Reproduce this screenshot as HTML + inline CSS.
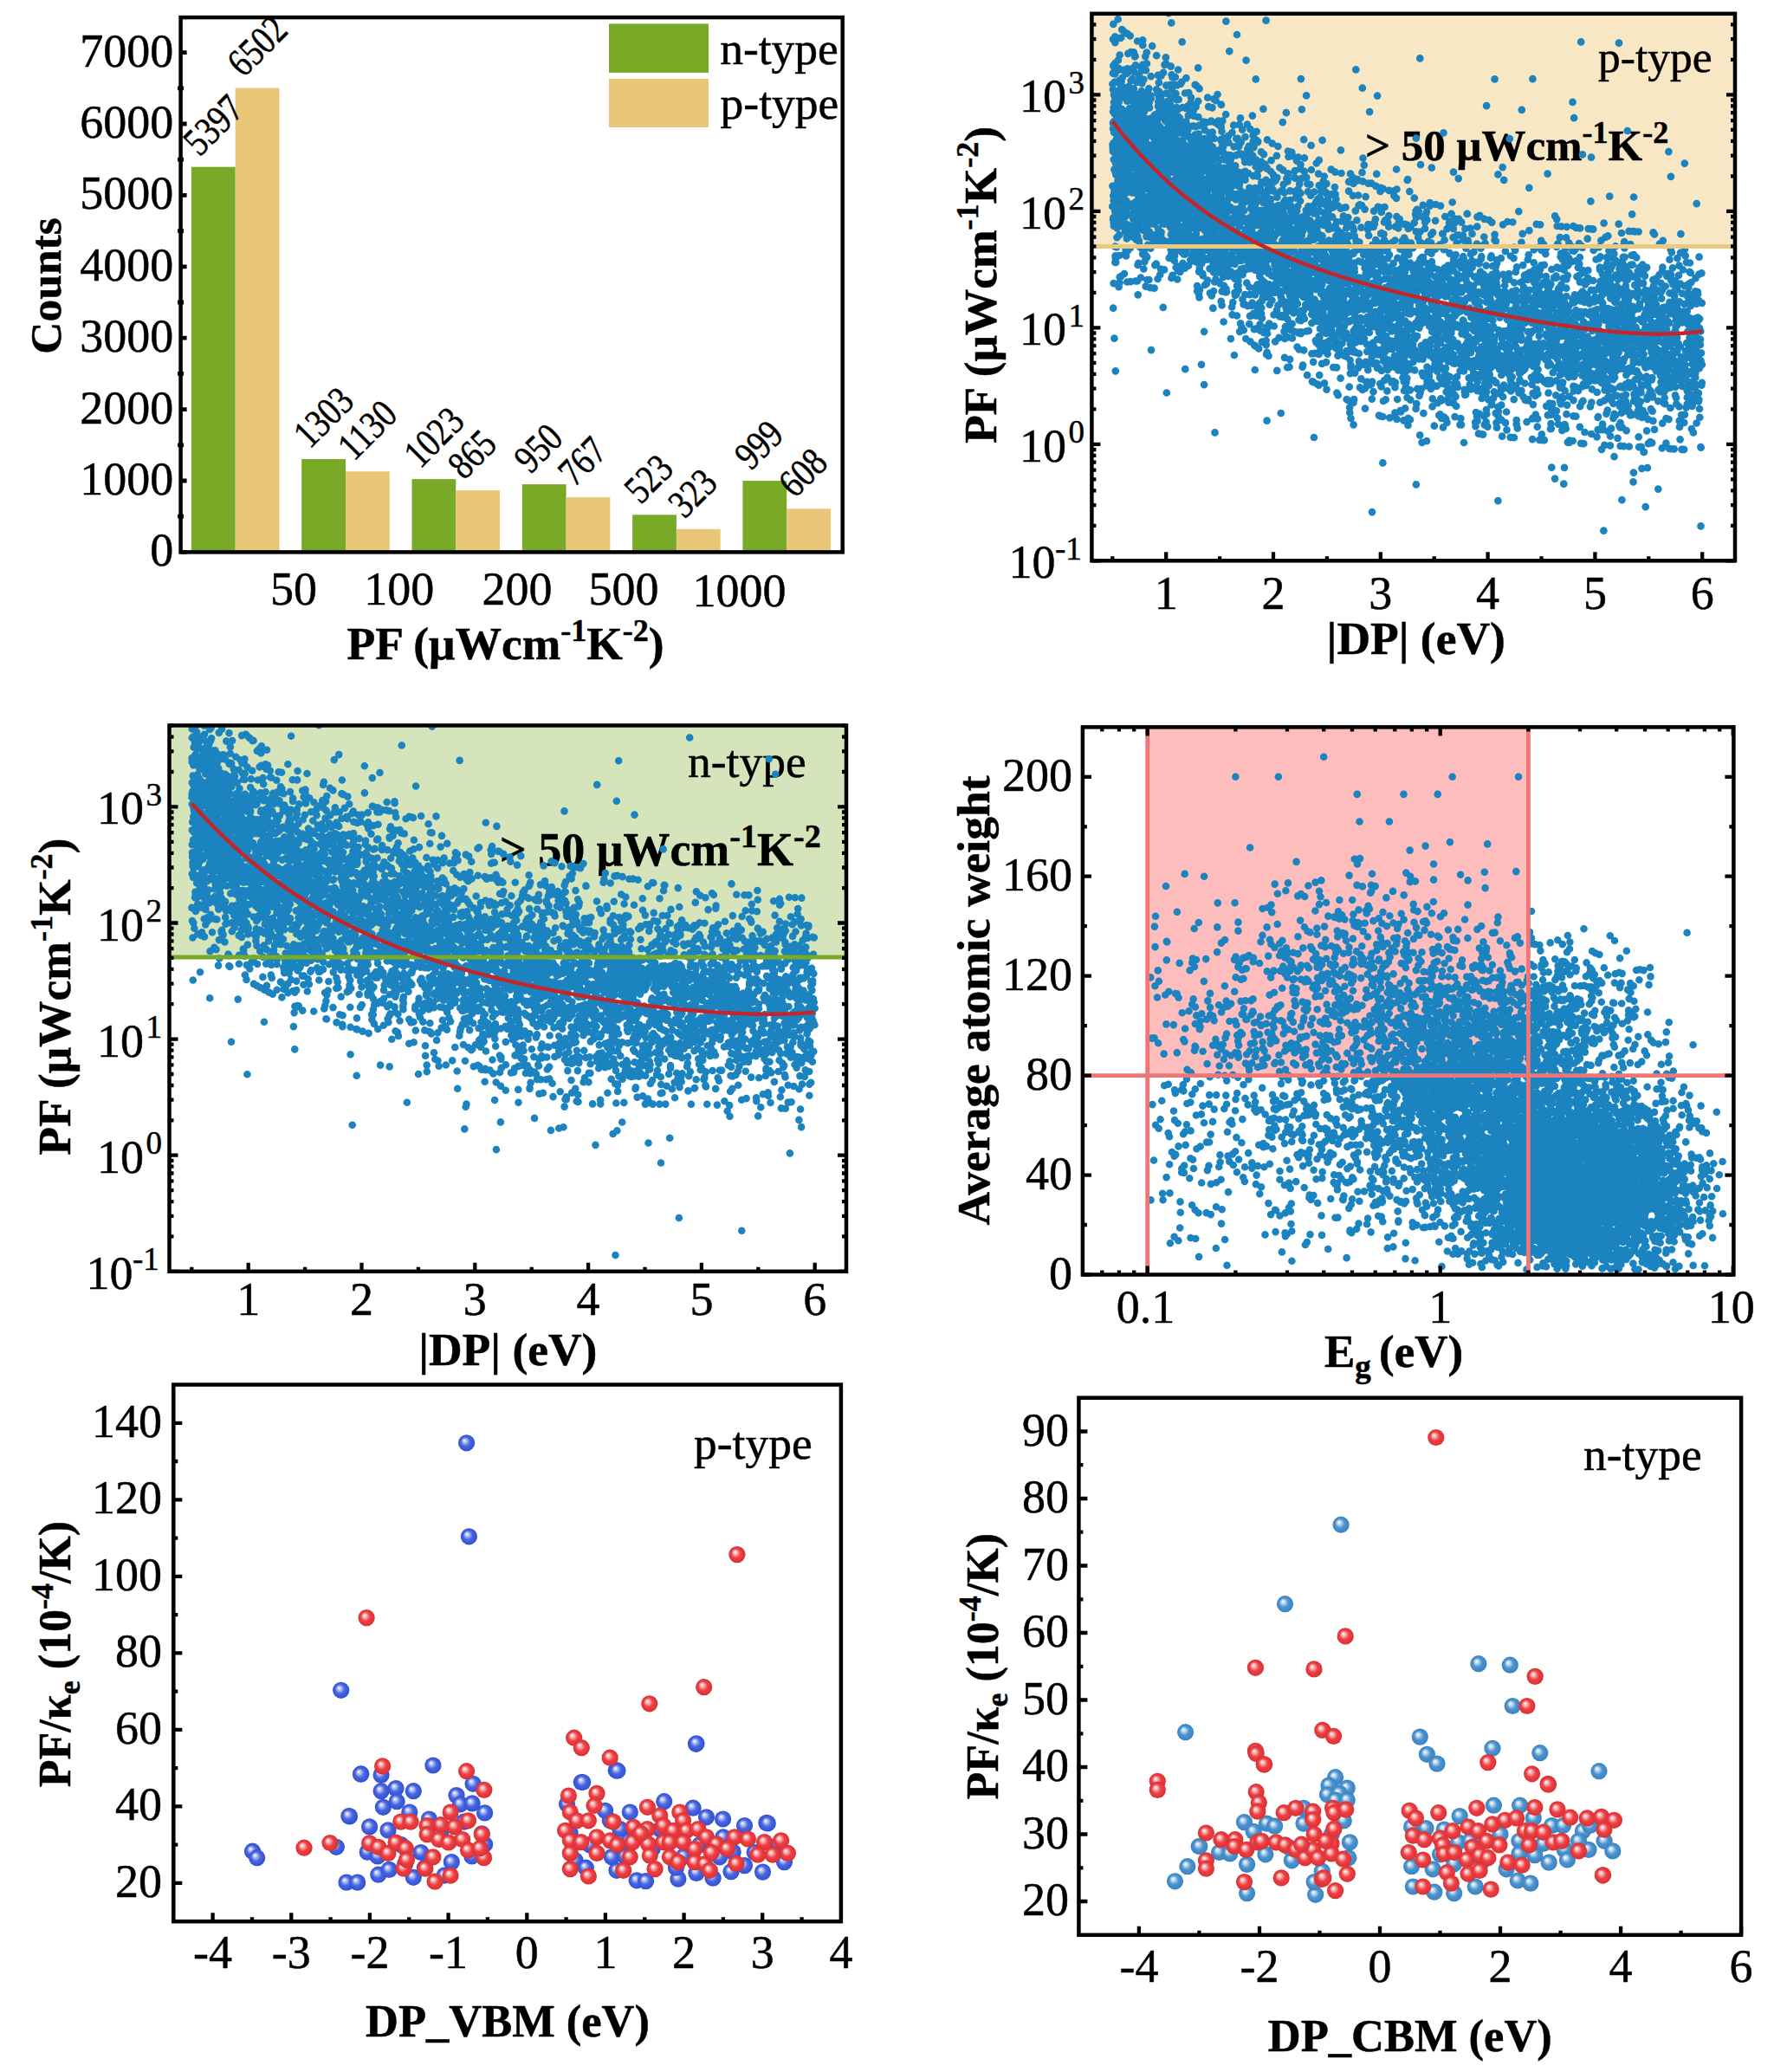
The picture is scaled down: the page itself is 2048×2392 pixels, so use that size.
<!DOCTYPE html>
<html><head><meta charset="utf-8"><style>
html,body{margin:0;padding:0;background:#fff;}
body{width:2048px;height:2392px;overflow:hidden;}
svg{display:block;}
text{font-family:'Liberation Serif',serif;fill:#000;stroke:#000;stroke-width:0.5px;}
</style></head><body>
<svg width="2048" height="2392" viewBox="0 0 2048 2392">
<defs>
<radialGradient id="gb5" cx="0.5" cy="0.5" r="0.5" fx="0.36" fy="0.34"><stop offset="0" stop-color="#ffffff"/><stop offset="0.22" stop-color="#b8c4f6"/><stop offset="0.55" stop-color="#4a66e2"/><stop offset="1" stop-color="#3050d0"/></radialGradient>
<radialGradient id="gb6" cx="0.5" cy="0.5" r="0.5" fx="0.36" fy="0.34"><stop offset="0" stop-color="#ffffff"/><stop offset="0.22" stop-color="#c0daf0"/><stop offset="0.55" stop-color="#4d94cf"/><stop offset="1" stop-color="#3a82c0"/></radialGradient>
<radialGradient id="gr" cx="0.5" cy="0.5" r="0.5" fx="0.36" fy="0.34"><stop offset="0" stop-color="#ffffff"/><stop offset="0.22" stop-color="#f8b8b8"/><stop offset="0.55" stop-color="#ef4044"/><stop offset="1" stop-color="#d83034"/></radialGradient>
</defs>
<rect width="2048" height="2392" fill="#fff"/>
<rect x="220.9" y="192.7" width="50.8" height="444.7" fill="#78aa28"/>
<rect x="271.7" y="101.6" width="50.8" height="535.8" fill="#e9c678"/>
<rect x="348.2" y="530" width="50.8" height="107.4" fill="#78aa28"/>
<rect x="399" y="544.3" width="50.8" height="93.1" fill="#e9c678"/>
<rect x="475.5" y="553.1" width="50.8" height="84.3" fill="#78aa28"/>
<rect x="526.3" y="566.1" width="50.8" height="71.3" fill="#e9c678"/>
<rect x="602.8" y="559.1" width="50.8" height="78.3" fill="#78aa28"/>
<rect x="653.6" y="574.2" width="50.8" height="63.2" fill="#e9c678"/>
<rect x="730.1" y="594.3" width="50.8" height="43.1" fill="#78aa28"/>
<rect x="780.9" y="610.8" width="50.8" height="26.6" fill="#e9c678"/>
<rect x="857.4" y="555.1" width="50.8" height="82.3" fill="#78aa28"/>
<rect x="908.2" y="587.3" width="50.8" height="50.1" fill="#e9c678"/>
<rect x="208.6" y="20.1" width="764.1" height="617.3" fill="none" stroke="#000" stroke-width="4.5"/>
<path d="M208.6 637.4L215.6 637.4M205.1 596.2L212.1 596.2M208.6 555L215.6 555M205.1 513.8L212.1 513.8M208.6 472.6L215.6 472.6M205.1 431.4L212.1 431.4M208.6 390.2L215.6 390.2M205.1 349L212.1 349M208.6 307.8L215.6 307.8M205.1 266.6L212.1 266.6M208.6 225.4L215.6 225.4M205.1 184.2L212.1 184.2M208.6 143L215.6 143M205.1 101.8L212.1 101.8M208.6 60.6L215.6 60.6" stroke="#000" stroke-width="4.8" fill="none"/>
<text x="200.3" y="653.4" text-anchor="end" style="font-size:54px;">0</text>
<text x="200.3" y="571" text-anchor="end" style="font-size:54px;">1000</text>
<text x="200.3" y="488.6" text-anchor="end" style="font-size:54px;">2000</text>
<text x="200.3" y="406.2" text-anchor="end" style="font-size:54px;">3000</text>
<text x="200.3" y="323.8" text-anchor="end" style="font-size:54px;">4000</text>
<text x="200.3" y="241.4" text-anchor="end" style="font-size:54px;">5000</text>
<text x="200.3" y="159" text-anchor="end" style="font-size:54px;">6000</text>
<text x="200.3" y="76.6" text-anchor="end" style="font-size:54px;">7000</text>
<text x="0" y="0" style="font-size:46px" transform="translate(230.3 181.7) rotate(-45) scale(0.82 1)">5397</text>
<text x="0" y="0" style="font-size:46px" transform="translate(281.1 90.6) rotate(-45) scale(0.82 1)">6502</text>
<text x="0" y="0" style="font-size:46px" transform="translate(357.6 519) rotate(-45) scale(0.82 1)">1303</text>
<text x="0" y="0" style="font-size:46px" transform="translate(408.4 533.3) rotate(-45) scale(0.82 1)">1130</text>
<text x="0" y="0" style="font-size:46px" transform="translate(484.9 542.1) rotate(-45) scale(0.82 1)">1023</text>
<text x="0" y="0" style="font-size:46px" transform="translate(535.7 555.1) rotate(-45) scale(0.82 1)">865</text>
<text x="0" y="0" style="font-size:46px" transform="translate(612.2 548.1) rotate(-45) scale(0.82 1)">950</text>
<text x="0" y="0" style="font-size:46px" transform="translate(663 563.2) rotate(-45) scale(0.82 1)">767</text>
<text x="0" y="0" style="font-size:46px" transform="translate(739.5 583.3) rotate(-45) scale(0.82 1)">523</text>
<text x="0" y="0" style="font-size:46px" transform="translate(790.3 599.8) rotate(-45) scale(0.82 1)">323</text>
<text x="0" y="0" style="font-size:46px" transform="translate(866.8 544.1) rotate(-45) scale(0.82 1)">999</text>
<text x="0" y="0" style="font-size:46px" transform="translate(917.6 576.3) rotate(-45) scale(0.82 1)">608</text>
<text x="339" y="697.5" text-anchor="middle" style="font-size:54px;">50</text>
<text x="460.7" y="697.5" text-anchor="middle" style="font-size:54px;">100</text>
<text x="597" y="697.5" text-anchor="middle" style="font-size:54px;">200</text>
<text x="720" y="697.5" text-anchor="middle" style="font-size:54px;">500</text>
<text x="853.5" y="700" text-anchor="middle" style="font-size:54px;">1000</text>
<text x="400.5" y="760.6" text-anchor="start" style="font-size:53.5px;font-weight:bold;">PF (μWcm<tspan dy="-21" style="font-size:36px">-1</tspan><tspan dy="21">K</tspan><tspan dy="-21" style="font-size:36px">-2</tspan><tspan dy="21">)</tspan></text>
<rect x="703" y="27.4" width="115" height="56.5" fill="#78aa28"/>
<rect x="703" y="91" width="115" height="56" fill="#e9c678"/>
<text x="831.2" y="73.6" text-anchor="start" style="font-size:53.5px;">n-type</text>
<text x="831.6" y="137.2" text-anchor="start" style="font-size:53.5px;">p-type</text>
<text x="69.8" y="330" text-anchor="middle" style="font-size:51.5px;font-weight:bold;" transform="rotate(-90 69.8 330)">Counts</text>
<rect x="1260.4" y="15.8" width="742.6" height="268.7" fill="#f7e7c5"/>
<text x="1845" y="83.4" text-anchor="start" style="font-size:51.5px;">p-type</text>
<text x="1576" y="185.4" text-anchor="start" style="font-size:51px;font-weight:bold;">&gt; 50 μWcm<tspan dy="-20" style="font-size:36px">-1</tspan><tspan dy="20">K</tspan><tspan dy="-20" style="font-size:36px">-2</tspan></text>
<clipPath id="clip2"><rect x="1260.4" y="15.8" width="742.6" height="631.5"/></clipPath><path clip-path="url(#clip2)" d="M1433.3 238.1h0M1455.5 287.2h0M1808.6 411h0M1335.1 211.8h0M1650.6 410.5h0M1743 339.3h0M1389.9 188.9h0M1300.7 267.5h0M1441.3 280.5h0M1691 419.2h0M1624.6 420.7h0M1368.1 270h0M1539 293.5h0M1699.5 366.6h0M1532.7 244.7h0M1673.8 328.4h0M1936.1 354.8h0M1709.5 449h0M1356.5 137.1h0M1389.6 177.2h0M1484.5 310.8h0M1590.2 404h0M1473.1 326.7h0M1778.5 408.9h0M1467.5 255.9h0M1898.6 363.4h0M1426.8 179.4h0M1717.3 382.5h0M1343.7 193.9h0M1342.2 228.3h0M1398.1 258h0M1865.2 300.6h0M1707.1 370.8h0M1371.9 133.4h0M1681.7 322.2h0M1522.4 253.9h0M1593.8 296.3h0M1646 303.5h0M1846.9 439.2h0M1542.6 370.8h0M1871.7 380.5h0M1660.1 342.3h0M1820.5 319.4h0M1376.8 145.5h0M1716.4 319.7h0M1480.3 366h0M1598 281.6h0M1406.5 220.5h0M1340.1 206.8h0M1305.5 60.2h0M1723.3 370h0M1554.3 390.3h0M1876.2 342.4h0M1825.2 343.4h0M1508.9 247.1h0M1941.6 445.6h0M1645 263.9h0M1771.1 311.6h0M1522.8 309h0M1394.7 268.1h0M1380.6 212h0M1386 164.1h0M1653.2 337h0M1346.8 206.3h0M1295.2 227.8h0M1823.4 409.8h0M1339.3 150.4h0M1336.9 147.1h0M1575.3 354.2h0M1664.7 322.7h0M1585.5 452.2h0M1909.8 397.6h0M1339.2 317.2h0M1395.5 208.9h0M1662.6 376.9h0M1587.2 349.8h0M1933.7 383.2h0M1412.6 371.5h0M1713.8 490.4h0M1619.7 326h0M1307.3 159.3h0M1454.1 311.2h0M1901.1 308.9h0M1785.4 440h0M1291.3 111.4h0M1454.4 290.1h0M1289.6 152.1h0M1819 287.3h0M1345.5 190.9h0M1315.9 145.4h0M1948.9 330.2h0M1547.5 240.7h0M1467.6 213.6h0M1343.1 277.6h0M1511.7 309.1h0M1497 185.6h0M1598.4 392.9h0M1288 188.6h0M1366.9 236h0M1402.8 293h0M1544.1 348.9h0M1457.8 253.6h0M1659.8 365.5h0M1447.6 306.1h0M1886.2 463h0M1319.5 230.7h0M1317 320.5h0M1402.3 219.5h0M1625.1 376.8h0M1774.7 398.2h0M1319.5 159.2h0M1388.1 188.7h0M1554.5 405.1h0M1699.1 302h0M1880.9 314.8h0M1850.8 361.9h0M1792.5 379.6h0M1313.3 128.2h0M1944.2 487.9h0M1660.7 325.3h0M1331.9 155.8h0M1429.3 206h0M1665 436.1h0M1509.2 289h0M1548 273.7h0M1801 331.3h0M1816.3 392h0M1614.1 381.3h0M1791.5 378.5h0M1522.1 200.6h0M1942.3 338.9h0M1340.8 133.3h0M1936.3 334.2h0M1308.4 249.6h0M1863.7 477.8h0M1622.6 336.7h0M1365.5 303.9h0M1392.7 191.5h0M1350.8 220h0M1449.9 256.7h0M1299.8 155.2h0M1286 109.6h0M1883.9 318.6h0M1700.7 398.1h0M1399.9 169.7h0M1431.1 382.8h0M1560.3 463.9h0M1811.8 398.7h0M1349.6 243.5h0M1936.4 298.2h0M1915.5 357.3h0M1318.1 189.1h0M1679.1 344.7h0M1493.3 287.2h0M1719.9 365.4h0M1332.3 243.4h0M1563.1 461.2h0M1642.6 414.6h0M1669 407.1h0M1716.6 421.1h0M1870.9 339.4h0M1421.2 313.7h0M1369.9 171h0M1512.3 338.9h0M1629.1 280.7h0M1930 409.2h0M1729.6 336.1h0M1290.2 79.2h0M1940.7 435.3h0M1437 351.5h0M1432 136.4h0M1532.6 408.6h0M1453.6 309.5h0M1304.9 141.5h0M1922.3 431.9h0M1370.1 216.2h0M1594.7 446.5h0M1705.5 451.2h0M1578.3 366.1h0M1889.7 428.4h0M1749.2 355.7h0M1863.3 371.7h0M1346.3 258.4h0M1394.5 197.3h0M1320.5 164.5h0M1820.5 263h0M1932 405.2h0M1291.9 139h0M1789.1 406.8h0M1742.4 322.4h0M1885 478.6h0M1438.6 256.1h0M1732.7 360.4h0M1419 242.5h0M1326.2 149.7h0M1755.4 404.5h0M1307.5 264h0M1721.5 389h0M1446.4 270.4h0M1574.6 349.1h0M1871.1 367.3h0M1422.5 206.5h0M1562.1 205h0M1385.4 202.1h0M1391.4 225.9h0M1565.5 277.5h0M1386.3 228.8h0M1796.6 397.7h0M1660.9 329.7h0M1446.2 179.5h0M1941.1 479.2h0M1484.1 262.5h0M1700.9 330.3h0M1746.4 337.6h0M1435.5 277.9h0M1290.7 22.2h0M1872 269h0M1926.4 398.3h0M1379.7 257.9h0M1370.1 264.6h0M1539 239.3h0M1648.8 406.7h0M1955.2 456.2h0M1932.6 441.5h0M1954.2 403.4h0M1423.8 214.2h0M1649.8 357.4h0M1541.1 359.1h0M1415.4 234.5h0M1320.3 124.6h0M1378.8 181.4h0M1492.3 330.7h0M1332.9 277.6h0M1368.5 235.3h0M1308.8 60.3h0M1666.5 335.6h0M1578 355.7h0M1422.6 275.9h0M1600.4 336.8h0M1533.8 264.7h0M1692.2 321.9h0M1905.8 455h0M1489.1 414.9h0M1682.2 418.9h0M1408 232.8h0M1912 363h0M1662.9 396h0M1464.7 243.3h0M1430.6 278.9h0M1373.3 127.2h0M1384.8 298.3h0M1460.5 222.2h0M1815.5 424.1h0M1554.8 354.5h0M1329.5 167.3h0M1530.4 251.9h0M1436.8 183.2h0M1746.8 425.1h0M1316.6 134.6h0M1449.9 234.4h0M1470.6 363.4h0M1386.2 228.3h0M1750.1 335.4h0M1385.5 191.8h0M1456.7 271.3h0M1315.3 126.5h0M1763.3 405.5h0M1294.5 94.7h0M1394.8 219.1h0M1407.1 194.1h0M1296.2 139.5h0M1470.1 318.9h0M1781.2 508.1h0M1827 391.1h0M1486.3 207.4h0M1834.6 345.3h0M1312 108.9h0M1597.5 411.5h0M1430.8 260.8h0M1543.2 256.1h0M1409.6 223.6h0M1872.8 400.7h0M1457.7 230.9h0M1916.7 417.9h0M1371.4 231.6h0M1537.2 381.7h0M1546 382h0M1728.8 340.1h0M1483.9 267.8h0M1577.9 397.4h0M1323.1 286.4h0M1463.1 194.9h0M1740.3 256h0M1343 150.7h0M1558.3 476.4h0M1418.5 282.7h0M1361.4 229.2h0M1351.7 287.9h0M1808.3 342h0M1712.1 382.3h0M1505.3 302.7h0M1513 355.6h0M1742.9 380.9h0M1653.3 383h0M1891.6 480.4h0M1894.5 453.2h0M1571.1 394.2h0M1692.2 455.5h0M1612.7 355.1h0M1462.7 406.9h0M1552.5 277.5h0M1737.5 336.7h0M1618.1 315.4h0M1673.2 405.9h0M1574.3 384.4h0M1923.4 511.7h0M1779.2 277.9h0M1357.1 170.1h0M1808.5 478.2h0M1892.9 350.5h0M1810.5 369.8h0M1482.8 295.1h0M1498.1 325h0M1422.4 271.5h0M1314.9 278.1h0M1564.5 379.9h0M1837.4 464.6h0M1773.3 483.2h0M1402.1 262h0M1834.8 440.3h0M1692.2 410.9h0M1410.6 302.6h0M1799.9 339.4h0M1497.9 296.6h0M1869.8 446.6h0M1472.6 208.3h0M1335.1 210h0M1743.9 372.6h0M1344 197.4h0M1853.5 426.7h0M1336.6 322h0M1782 282h0M1313.2 119.9h0M1612.1 400.8h0M1705 381.8h0M1356.4 149h0M1656.4 359.5h0M1364.1 173.7h0M1458.8 283.8h0M1496.5 279.1h0M1664.2 462.5h0M1356.7 133.7h0M1388.1 179.4h0M1782.9 440.8h0M1733.5 410.9h0M1552.9 362h0M1445.6 234.4h0M1716.1 323.5h0M1561.8 403.5h0M1463.4 245.2h0M1857.1 458.7h0M1398 210.6h0M1800.8 383.1h0M1663 392.5h0M1682.8 396.7h0M1708.8 387.7h0M1757.7 269.9h0M1862.3 432.7h0M1895.5 371.1h0M1429.7 229.1h0M1376 230.2h0M1875.1 447.5h0M1399.2 299.2h0M1409.8 302.2h0M1801.5 401.6h0M1934.9 369.3h0M1832.7 420.6h0M1593.9 216.9h0M1502.9 126.3h0M1954.9 499.4h0M1748.6 386.8h0M1670.9 341.7h0M1290.4 156h0M1394.2 112.7h0M1291.7 117.9h0M1884 441.9h0M1418.4 223.9h0M1286.3 127.6h0M1638.5 364.9h0M1398.8 341.4h0M1613.9 357.1h0M1920.6 442.5h0M1848.3 433.8h0M1423.5 243h0M1891.7 504.4h0M1517.9 366.3h0M1598.1 277.1h0M1471.6 306.2h0M1298.9 215.7h0M1460.7 395.4h0M1749.5 355.1h0M1664.4 338.9h0M1713.7 340.4h0M1341.9 162.3h0M1607.4 336h0M1962.5 391.6h0M1625.2 397.9h0M1395.1 271.7h0M1313.2 134.1h0M1474.7 333.8h0M1347.5 247.8h0M1297.9 293.8h0M1311 189.5h0M1690.7 376.6h0M1863.1 457.3h0M1542.9 399h0M1667.5 286.8h0M1430.7 314.5h0M1439.9 143.7h0M1566.4 254.4h0M1408.1 235.1h0M1552.7 384.8h0M1367.1 281.5h0M1898.4 395.7h0M1684.2 375.9h0M1336.4 107.9h0M1393 273h0M1820.4 378h0M1401.9 276.7h0M1432.4 246h0M1297 156.8h0M1703.8 363.4h0M1630.1 402.2h0M1829.3 405.6h0M1379.4 294h0M1760.8 372.7h0M1818.7 374.2h0M1816.4 480.3h0M1756.3 389.9h0M1545.3 314.1h0M1310.3 236h0M1681.6 417.6h0M1298.4 163.9h0M1331.7 156.9h0M1524 357.7h0M1351.4 262.9h0M1551.5 337.7h0M1837.9 414.5h0M1382 238.3h0M1796 408.1h0M1963 391.8h0M1304.7 175.1h0M1533 302h0M1727.4 314.6h0M1745.3 384.2h0M1444.3 239.6h0M1372.9 243.4h0M1500.2 212.6h0M1397.4 289.9h0M1594.7 340.4h0M1659.2 329.2h0M1827.2 342.2h0M1695.7 436.4h0M1330.2 238.3h0M1357.9 197.7h0M1483.4 279h0M1725.5 277.1h0M1368.9 257.2h0M1690.9 348.5h0M1790.9 478.6h0M1306.3 138.2h0M1292.7 171.6h0M1871.4 401.7h0M1874.3 283.6h0M1383.4 225.6h0M1897.1 480h0M1522.5 444.6h0M1595.5 373.3h0M1563.7 272.3h0M1477.8 311.2h0M1865 479.5h0M1657.9 352.8h0M1905.6 348.7h0M1665.9 442.9h0M1899.1 396.1h0M1592.9 341.3h0M1365.2 233.4h0M1630.8 307.7h0M1351.4 217.4h0M1772.4 457h0M1362.1 176.1h0M1915.5 317.3h0M1308.6 274h0M1727.9 300.2h0M1773.2 342.2h0M1610.6 350.9h0M1320.6 204.2h0M1806.4 490.2h0M1469.3 284.4h0M1449.1 379.7h0M1716.3 477.9h0M1939.9 400.4h0M1337.5 197.1h0M1541.4 367.3h0M1296.3 144.9h0M1442.5 274.5h0M1899.2 478.3h0M1652.5 441.3h0M1326 167.6h0M1370.8 170.2h0M1364.2 224.1h0M1554.1 411.3h0M1886.7 369.5h0M1346.6 279.2h0M1368.8 277.6h0M1357.8 228.6h0M1632 330.6h0M1537.5 361.3h0M1362.2 153.4h0M1365.2 205.3h0M1816.5 462.1h0M1569.3 336.1h0M1349.5 149h0M1300.8 203.1h0M1555.2 311.3h0M1498.5 218.7h0M1830.1 328.5h0M1716.1 452.3h0M1596.7 345.8h0M1374.5 257.8h0M1709.1 313.7h0M1874.8 389.7h0M1779.3 409.1h0M1935.8 375.9h0M1644.5 314.3h0M1464.8 299.1h0M1409.3 255.7h0M1796.9 474.3h0M1806.7 367.9h0M1674.9 397.3h0M1783.5 397.6h0M1573.6 382.1h0M1838.3 376.2h0M1717.9 384h0M1421.6 213.4h0M1641.9 407.5h0M1690.1 400.3h0M1398.6 249.9h0M1908.5 395.4h0M1801.7 403.3h0M1365.4 210.5h0M1408.6 327.5h0M1285.5 173h0M1911.6 351.8h0M1382.1 216.1h0M1356.8 89.1h0M1337.1 264.3h0M1315.7 253.5h0M1403.7 234h0M1431 278.9h0M1769.9 467.1h0M1498 321.2h0M1363.5 262.2h0M1917.6 428.2h0M1592.5 379.8h0M1321 128.8h0M1941 412.3h0M1703.9 476h0M1544.4 373.5h0M1365.6 306.3h0M1717 421.5h0M1338 136.1h0M1911.5 407.5h0M1760.2 363.6h0M1731.5 337.8h0M1335.8 176.9h0M1417.9 243.6h0M1562.5 212h0M1806.4 359.1h0M1345.4 199.9h0M1722.1 356.7h0M1759.9 317.9h0M1403.6 211.1h0M1346.1 167.7h0M1892.3 391.4h0M1871 417.8h0M1345.3 161.8h0M1643.2 328.1h0M1385.8 210.3h0M1399.7 152.7h0M1902.8 353.7h0M1694.8 394h0M1765.4 408.2h0M1445.6 349.7h0M1339.9 242.1h0M1699.6 375.6h0M1484.7 355.8h0M1580.4 333.1h0M1425.9 285.3h0M1646.7 435.4h0M1389.4 140.7h0M1429.6 334.8h0M1841.4 359.9h0M1691.3 456h0M1652.1 392.3h0M1346.4 164.3h0M1814.4 383.4h0M1664.2 360.5h0M1919.4 308.6h0M1906.7 373.3h0M1905.1 341.8h0M1605.8 307.8h0M1774 449.5h0M1340.6 167.5h0M1308.9 260.3h0M1786.8 479.3h0M1702.4 372.6h0M1918.2 362.1h0M1459.1 270.1h0M1579.5 259.1h0M1787.1 419h0M1656.8 388.7h0M1835.9 469.4h0M1514.9 440.3h0M1833.2 413.2h0M1846.2 330.9h0M1880.6 429.3h0M1517 264.3h0M1885.1 353.9h0M1461.9 289.4h0M1646.3 323.2h0M1947.1 396h0M1681.8 280.3h0M1645.3 332.7h0M1493.8 318.1h0M1591.9 281h0M1576.6 227.1h0M1705.5 325.3h0M1609.4 393.9h0M1467.6 185.2h0M1391.6 194h0M1953.8 342.8h0M1664 316.8h0M1381.4 99.2h0M1479.6 255.7h0M1685.8 405.5h0M1419.7 267.3h0M1874.2 313.7h0M1609.9 321.4h0M1372.6 222.4h0M1695.4 393h0M1374.8 160.9h0M1905.4 451.1h0M1833.7 363h0M1361.5 285.5h0M1629.6 320.9h0M1601.4 252.5h0M1462.2 193.3h0M1502.7 290.4h0M1431.9 204.9h0M1672.5 357.1h0M1536.5 361.7h0M1339.9 237.5h0M1412.9 208.8h0M1369 229.9h0M1671.2 365.6h0M1619.1 302.7h0M1513.6 352h0M1614.3 263.5h0M1670.7 372.5h0M1406.6 139.6h0M1314.9 225.1h0M1931.4 328.5h0M1388.5 168h0M1421.6 209.3h0M1724.9 452.3h0M1952.4 326h0M1353 274.6h0M1519.8 287.8h0M1841.8 345.3h0M1331.2 171.4h0M1426.6 201.3h0M1660.1 407.5h0M1820.4 376h0M1341.2 192.7h0M1528.6 352.8h0M1645.1 329.9h0M1614.3 341.6h0M1606.5 349.2h0M1958.9 393.8h0M1950.9 303.5h0M1363.6 219.4h0M1429.8 198.8h0M1518.3 323.8h0M1340.2 310.7h0M1366 273.2h0M1626.5 293.9h0M1953.4 431.8h0M1452.7 277.7h0M1396.1 261h0M1662 393.4h0M1454.9 327.9h0M1291.7 182.7h0M1336.1 279h0M1859.7 436.6h0M1344.6 177.8h0M1679.6 419.7h0M1530.1 254.2h0M1773.8 258.9h0M1588.9 297.4h0M1415.1 271.9h0M1403.5 251h0M1417.7 253.3h0M1338.1 112.3h0M1426.9 224.2h0M1456 246.4h0M1649.2 368.4h0M1601.3 367.2h0M1322.2 167.8h0M1531.4 308.9h0M1341.3 241.8h0M1911.8 351.4h0M1468.4 346.7h0M1371.2 122.7h0M1452 164.1h0M1348.2 221.1h0M1431.5 289.2h0M1899.1 379.8h0M1859.1 447.7h0M1351 120.9h0M1616.1 380h0M1722.3 256.8h0M1359.1 215.2h0M1717.2 400.9h0M1302.4 162.1h0M1644.3 344.6h0M1358.3 173.4h0M1712.3 375.7h0M1699.3 392.1h0M1375.2 194.1h0M1394 229.5h0M1676.2 375.2h0M1509.4 212.1h0M1805.9 348.3h0M1442.7 340.1h0M1697.3 341.5h0M1660.9 378.5h0M1345.6 167.8h0M1443.4 275h0M1489.2 220.4h0M1457.6 293.3h0M1334.6 191.4h0M1417.8 193.9h0M1607.6 377.2h0M1412.3 319.8h0M1403.6 322.4h0M1527.8 296.8h0M1554.3 384.7h0M1401 336h0M1327.5 199.6h0M1327 267.7h0M1915.9 382.7h0M1643.2 434.1h0M1915.8 365.5h0M1615.7 311.4h0M1488 296.2h0M1353.6 89.4h0M1902.9 512.1h0M1596.7 385.8h0M1514.7 302h0M1371.5 253.1h0M1369.1 287.7h0M1528.4 343.8h0M1551.5 292.6h0M1800.7 426.5h0M1351.9 270.5h0M1552.9 274.1h0M1358.4 115.2h0M1428.8 243.2h0M1578.3 405.8h0M1859 370h0M1358 233.5h0M1382 163.6h0M1726.4 352.7h0M1600.9 422.7h0M1332.8 187.9h0M1708 477.9h0M1928.1 439.2h0M1750.2 445.2h0M1962 472h0M1753.6 359.3h0M1474.1 306.7h0M1797.7 261h0M1628.4 399.9h0M1334.8 171h0M1494.7 197.3h0M1917.5 441.1h0M1689.2 425.1h0M1499.4 280.9h0M1728.1 303.8h0M1709.5 373.9h0M1372.8 233.2h0M1557.1 301.6h0M1295.1 201.2h0M1348.9 147h0M1614.7 409.5h0M1350.3 137.8h0M1419.6 261.1h0M1322.5 297.6h0M1491.8 390.5h0M1317.7 187.7h0M1741.1 367h0M1675.5 448.6h0M1368.3 224.8h0M1551.6 315.9h0M1860.1 436.4h0M1673.4 402.9h0M1322.1 160h0M1584.2 308.2h0M1561.1 336.6h0M1574.4 322.5h0M1527.5 286.7h0M1808.1 274.3h0M1604.3 395.4h0M1843.8 345.8h0M1923.8 407.5h0M1874.1 425.6h0M1774.1 437.8h0M1296 167.2h0M1285.3 27.8h0M1380.5 193h0M1594.2 356.9h0M1456 186.5h0M1357.9 142.8h0M1384.7 236.9h0M1314.3 303.9h0M1396.3 280.6h0M1590.5 318.5h0M1948.7 342.9h0M1738.8 350.9h0M1898.9 318.6h0M1348.8 229.5h0M1314.5 164.2h0M1479.3 348.1h0M1374.2 263.2h0M1554.6 302.6h0M1558.4 325.7h0M1790.4 328.1h0M1453.8 365.1h0M1557.6 313.4h0M1539.3 424.1h0M1666.3 381.7h0M1622.1 405.4h0M1310.3 248.8h0M1840.3 348.5h0M1680.4 350.9h0M1369.3 125.2h0M1580.1 271.9h0M1878.4 377.1h0M1863.8 303.7h0M1520.6 322.3h0M1289.6 263.3h0M1922.4 354.6h0M1747.9 417.1h0M1695.2 280.5h0M1523.9 379.4h0M1849.4 412.2h0M1392.8 283.6h0M1819.5 417.3h0M1797.6 350.7h0M1597.6 415.4h0M1495.7 270.1h0M1711.8 283.7h0M1510.9 278.2h0M1526.9 405h0M1438.1 274.4h0M1784.4 415.1h0M1370.3 217h0M1579.6 335.8h0M1310.2 65.5h0M1952.6 399h0M1345.5 162h0M1626.8 376.6h0M1409.7 347.8h0M1921.1 452.4h0M1354.2 276.8h0M1891.9 399.6h0M1682.6 345.4h0M1391.6 244.2h0M1527.4 359.5h0M1441.8 280.7h0M1568 357.6h0M1816.8 451.4h0M1570.3 387.1h0M1951.8 315h0M1887.9 393.7h0M1406.5 144h0M1407 197.8h0M1710.1 420.6h0M1493.2 318.2h0M1435.6 310.7h0M1899.7 585.2h0M1635.6 338h0M1437.5 207.6h0M1625.3 405.4h0M1616.5 285.1h0M1796.8 320.7h0M1526 311.6h0M1585.6 262h0M1369.3 140.3h0M1836.1 420.7h0M1303.1 111.1h0M1285.5 165.2h0M1301.5 79.3h0M1941.1 427.5h0M1844.4 436.7h0M1797 284.9h0M1405.9 298.1h0M1956.8 374.6h0M1501.5 223h0M1843.3 378.9h0M1780.6 349h0M1299.6 215.3h0M1933.9 381.9h0M1927.2 518h0M1546.1 402.1h0M1564.8 350.2h0M1880.7 388.3h0M1551.1 272.1h0M1852.4 513.9h0M1325.3 155.1h0M1427.9 248.7h0M1510.4 238.4h0M1461.8 339.2h0M1552.2 315.6h0M1409.6 287.6h0M1376.1 259.7h0M1506.1 338.7h0M1384 236.9h0M1482.9 348.4h0M1516.2 417.8h0M1913.9 412.9h0M1529 442.3h0M1644.2 313.3h0M1898.4 311.2h0M1546.5 380.4h0M1441.7 168.8h0M1628 347h0M1398.3 139.7h0M1446.8 162.9h0M1749.5 358.9h0M1570.5 393.9h0M1601.6 435.8h0M1681.6 328h0M1561.7 359.6h0M1389 255.8h0M1415.4 261.3h0M1310.9 194.3h0M1862.9 335.4h0M1687 357.9h0M1911.2 373h0M1467.1 198h0M1622.4 360.3h0M1630.2 339.8h0M1362.1 191.2h0M1620.1 318.7h0M1404.3 229.7h0M1538.4 324.2h0M1486.5 325.1h0M1418.3 294.6h0M1326.8 150.7h0M1649.6 324.9h0M1394.9 277.5h0M1362.8 174.9h0M1320.7 192.7h0M1870 465.1h0M1493.9 318.5h0M1357 197.9h0M1399.7 217.9h0M1952.9 495.1h0M1456.9 367.3h0M1825.5 365h0M1757.1 325.3h0M1293.5 228.4h0M1304.7 41.3h0M1543.8 300.5h0M1301.1 160h0M1893.6 404.7h0M1938.6 436.4h0M1659.4 284.5h0M1460 326.1h0M1404.5 296.1h0M1360 210.2h0M1301.6 181.4h0M1372.3 107.1h0M1408.5 197.9h0M1736.2 351.5h0M1852.6 450.5h0M1673.8 414.1h0M1926.1 414.6h0M1810.9 359.3h0M1539 289.7h0M1491.8 330.6h0M1395.6 199.6h0M1799 409h0M1586.5 360.8h0M1310.7 184.7h0M1578.5 373.8h0M1857.4 376.7h0M1738.5 402.1h0M1629.7 358h0M1750 400.2h0M1295.6 165.4h0M1312 179.4h0M1804.5 381.6h0M1342.4 171.3h0M1609.9 410.9h0M1573.8 353.3h0M1768 416.5h0M1407.8 275.4h0M1720.3 335.7h0M1788.9 345h0M1483.6 325.1h0M1636.6 307.2h0M1526.9 315.5h0M1763.2 416.5h0M1863.6 397.7h0M1589 419.2h0M1290.8 142.1h0M1895.4 540.8h0M1641.4 320.6h0M1385.6 201.5h0M1339 232.3h0M1552.1 365.5h0M1382.2 254.9h0M1481.7 212.9h0M1656.9 287.7h0M1477.3 316.1h0M1362.6 252.2h0M1315.1 261.2h0M1323.4 144.1h0M1743.6 390.7h0M1483.9 312h0M1525.2 339.1h0M1799.8 419.5h0M1678 334.3h0M1950.2 344.7h0M1824.1 263.3h0M1911.6 383.6h0M1357.7 308.8h0M1776.9 396.1h0M1964.8 421h0M1290.5 186.6h0M1562.8 342.1h0M1754.4 425.6h0M1367.8 216.6h0M1323.2 170.9h0M1585.4 299.2h0M1320.2 162h0M1372.5 270.3h0M1317.6 196.1h0M1744.7 441.9h0M1359.2 143.6h0M1894.8 515.9h0M1621.8 290.4h0M1519.3 334.2h0M1366.6 151.5h0M1513.6 167.9h0M1429.2 276h0M1849 348.3h0M1589.2 200.9h0M1294.8 239.8h0M1909.2 330.5h0M1953.6 373.5h0M1958.5 391.7h0M1439.7 264.9h0M1440.2 264.3h0M1733.3 450.3h0M1345.4 165.4h0M1360.9 262.7h0M1469.6 220.4h0M1846 285.3h0M1368.3 175.6h0M1292.9 150.3h0M1377.3 254.3h0M1898.8 436.2h0M1553.4 369h0M1388.4 251.5h0M1464.5 410.9h0M1910.9 385h0M1391 280.9h0M1808.4 322.4h0M1869.1 360h0M1455 359.6h0M1639.1 375.8h0M1596.3 356.7h0M1907 341.9h0M1388.9 223.6h0M1502.7 282h0M1696.7 416.9h0M1363.8 182.6h0M1432.6 284.8h0M1773.3 340h0M1682.3 376.6h0M1626.1 420.3h0M1852.1 407.6h0M1422.1 303.5h0M1892 469.8h0M1471.7 247.2h0M1892.6 308.8h0M1742 384.9h0M1738.6 348.7h0M1657.1 364.9h0M1779.4 364.3h0M1463.8 332.4h0M1747.1 365.9h0M1349.4 175h0M1688.4 348.2h0M1940.9 366.6h0M1932.7 518.3h0M1423.3 349h0M1428.9 206.8h0M1648 364.9h0M1542.4 229.7h0M1291.2 175.4h0M1550.9 249.3h0M1551.9 324.6h0M1921.8 446.6h0M1767 384.9h0M1374.3 300h0M1782.7 397.9h0M1649.9 434.3h0M1957.7 444h0M1448.2 398.6h0M1752.6 405.6h0M1594.9 304.1h0M1411.3 243.1h0M1350.7 189.4h0M1875.9 402.3h0M1293.5 155.3h0M1428.1 269.3h0M1565.2 339.3h0M1450.8 248.5h0M1618.5 414.3h0M1384.1 313.6h0M1780.5 508h0M1639.1 314.2h0M1682.5 377.3h0M1942.9 311.3h0M1379 224.7h0M1561.1 342h0M1372.1 262.4h0M1456 268.2h0M1584.6 337.2h0M1766 314.5h0M1387.2 233.4h0M1806.5 424.4h0M1742.6 432.6h0M1566.7 375.2h0M1856.4 356.2h0M1534.2 284h0M1949.3 331.9h0M1933.8 325.3h0M1529.6 300h0M1343 83.9h0M1774.8 492.7h0M1423.3 251.7h0M1660.4 373.5h0M1798.2 364.4h0M1929.2 317.3h0M1882.8 392h0M1926.5 484.1h0M1293 204.3h0M1304.3 148.2h0M1360.7 114.9h0M1506.4 257.6h0M1337.7 200.5h0M1612.4 325.6h0M1350.6 167.8h0M1459.1 299.2h0M1459.4 210.8h0M1887.1 357.5h0M1397.3 191.5h0M1347.5 159h0M1763.7 341.7h0M1909.7 376.9h0M1731.5 366.7h0M1286.9 174.4h0M1832.7 275.6h0M1404.7 174.1h0M1813.4 432.2h0M1462.9 308.8h0M1710.1 390.4h0M1326.7 186.7h0M1498.7 225.4h0M1354.8 223.4h0M1781.7 396.4h0M1321.9 177.1h0M1546.1 375.7h0M1754.8 380.4h0M1817.3 396.3h0M1534.6 311.4h0M1330.6 146.9h0M1860.5 289.1h0M1454.5 374.5h0M1577.8 321.4h0M1285.6 254.2h0M1457.5 243h0M1913.2 355.7h0M1743.8 427.4h0M1734.1 503.7h0M1627.4 349h0M1361 309.8h0M1381.2 241.5h0M1923 386.1h0M1345.9 66.4h0M1696.5 309h0M1501.5 190.2h0M1745.1 338.9h0M1365.3 124h0M1342.8 354.8h0M1612.9 342.5h0M1431 279.8h0M1787.9 343.8h0M1964 407.6h0M1361.2 199.5h0M1426.2 191.3h0M1382.1 162.5h0M1512.2 287.7h0M1417.1 200.9h0M1657.4 236h0M1503.6 423.7h0M1596.8 282.1h0M1845.9 381.2h0M1846.5 391.8h0M1383.8 192.5h0M1433.6 300.7h0M1629.8 359.8h0M1565.2 406.9h0M1333.7 199.4h0M1749.3 342.5h0M1790.6 339.6h0M1539.1 327h0M1352.8 193.3h0M1721 382h0M1320.1 150.8h0M1319.3 52.2h0M1632.6 387.3h0M1541.6 224.1h0M1952.7 414h0M1427.3 160h0M1386.2 218.8h0M1470.3 291.6h0M1856.1 393.3h0M1719.2 254.2h0M1286.4 221h0M1356.1 159.2h0M1921.2 439h0M1628.9 406.8h0M1528.7 396.2h0M1326.4 171.5h0M1411.6 250.6h0M1294.4 258.3h0M1836.1 409.9h0M1905.3 399.8h0M1606.4 441.3h0M1791.6 356.7h0M1361 151.3h0M1443.4 290.7h0M1662.4 282.3h0M1708.6 378.4h0M1653.1 290h0M1389.7 228.1h0M1905.9 472.1h0M1426.5 208.6h0M1710.6 380h0M1846.9 308.5h0M1358.2 174.5h0M1555.8 272h0M1662.9 423.1h0M1956.1 402.8h0M1727.2 421.8h0M1537.6 263.5h0M1719 440.5h0M1592.7 340.6h0M1297.8 101.1h0M1285.7 231.5h0M1447 203.1h0M1703.9 302.8h0M1542.8 402.4h0M1432.7 164.1h0M1315.5 284.7h0M1757.9 336.1h0M1396.9 274.9h0M1733 356.6h0M1913.5 382.2h0M1815.3 403.2h0M1645.1 340.6h0M1314 174h0M1725.6 270.8h0M1948.5 382.7h0M1459.5 286h0M1827.8 443.5h0M1608.7 356.1h0M1783.6 357.9h0M1742.8 407.5h0M1457.6 192.9h0M1570.7 367.1h0M1337.2 184.1h0M1350.7 250.6h0M1448.3 254.5h0M1732.7 342.6h0M1514.2 266h0M1848.4 277.6h0M1694.1 309.8h0M1893 353.3h0M1790 495.1h0M1543.3 299.1h0M1342.8 223.2h0M1576.1 320.6h0M1592.6 371.8h0M1345.9 73.4h0M1367.9 167.5h0M1949.2 442.8h0M1819.3 407.9h0M1493.2 286h0M1299.7 244.3h0M1436.7 227.6h0M1318.8 140.3h0M1936.1 389.8h0M1297.2 241.1h0M1735.4 316.8h0M1928.3 362h0M1933.4 363.8h0M1647.4 408.9h0M1411.3 139.7h0M1708.1 412.1h0M1294.4 318.8h0M1440.9 262.5h0M1913.1 394h0M1339.8 115.1h0M1374 191.1h0M1663.3 460.3h0M1874 417.8h0M1498.4 329.6h0M1406.1 277.6h0M1946.1 405.3h0M1826.9 336.7h0M1291.6 331.2h0M1704.8 350.8h0M1344.5 74.8h0M1925.4 373h0M1736.2 207.9h0M1882.4 381.1h0M1577.4 305.5h0M1317.1 217.1h0M1401.7 160h0M1330.5 178.2h0M1762.8 341.7h0M1859.5 448.1h0M1552.3 239.6h0M1826.8 285.8h0M1406.5 246.3h0M1542.4 263.5h0M1531.4 212.2h0M1576.4 320.6h0M1300.5 265.9h0M1379.7 239.5h0M1343.2 124.7h0M1684.4 320.5h0M1568.5 301.7h0M1315.8 193h0M1675.7 376.1h0M1399.4 239.6h0M1342.9 165.8h0M1302.2 289.1h0M1350.4 183.3h0M1358.6 307.3h0M1594.2 239.8h0M1927.5 299.7h0M1881.2 425.4h0M1347.5 223.2h0M1578.6 288.3h0M1855.6 446.3h0M1654.7 308.9h0M1295.5 184.6h0M1487 174.5h0M1445.1 264.4h0M1479.9 263.5h0M1944.8 330.1h0M1811.1 353.3h0M1962.6 398.2h0M1793.1 398h0M1332.9 240.2h0M1528.7 203.5h0M1909.3 357.5h0M1613.5 383.5h0M1806.7 399.5h0M1397.8 239.1h0M1858.9 514.3h0M1516.3 241.1h0M1913.5 426.5h0M1460.4 283.3h0M1515.4 326.4h0M1589.6 292.2h0M1864.7 349h0M1745.7 435h0M1433 300.8h0M1582.1 286.6h0M1837.2 364.6h0M1867.7 365.2h0M1754.4 440.1h0M1473.8 295.7h0M1395.5 247.9h0M1352.4 134.9h0M1743.8 438.5h0M1800.8 409.3h0M1712.6 435.6h0M1313.5 236.3h0M1404.5 262.7h0M1782.8 508.2h0M1687.6 377.4h0M1833.5 441.1h0M1724.8 400.6h0M1712.1 501.6h0M1862.1 380.2h0M1902.4 445.4h0M1448.5 222.2h0M1823.8 492.8h0M1933.9 324.2h0M1350.7 257.9h0M1544.9 237.7h0M1612 366.7h0M1624.6 386.6h0M1851.3 388.6h0M1288.5 202h0M1320.9 172.8h0M1783.7 371.8h0M1441.5 303.4h0M1557.7 446.6h0M1365.4 213.3h0M1928.7 518.1h0M1578.4 350.3h0M1322.4 235h0M1883.3 408.9h0M1643.3 363.9h0M1428.7 301.1h0M1335.2 64.2h0M1300.8 132.8h0M1850.8 421.5h0M1351.8 166.5h0M1408.7 304.8h0M1619.5 436h0M1459.2 225.3h0M1738 430h0M1682.8 447h0M1685.2 420h0M1491.4 334.4h0M1446.8 277.1h0M1775.2 415.5h0M1947.8 466.5h0M1647.5 343.2h0M1889.3 458.9h0M1372.6 270.3h0M1768.5 444h0M1417.3 218.8h0M1443.3 273.7h0M1301.2 325.5h0M1910.4 347.2h0M1368.7 251.7h0M1413.5 181.1h0M1298.4 250.9h0M1537.4 362.4h0M1808.2 361.5h0M1337 122.7h0M1324.5 157.2h0M1409 172.3h0M1861.3 341h0M1818.8 427h0M1305.9 81h0M1588.3 277.2h0M1287.5 215.6h0M1655.7 445.7h0M1444.3 260.7h0M1357.9 206.5h0M1456.5 289.7h0M1740.5 381.6h0M1642.6 431.1h0M1750.3 381.3h0M1667.4 354.9h0M1642.1 403.1h0M1617.8 401h0M1777.2 309h0M1709.7 402.7h0M1699.1 300.9h0M1482.8 222.5h0M1405.8 290.6h0M1780 350.2h0M1674.7 325.9h0M1767.6 404.4h0M1467 236.6h0M1293.8 186.1h0M1782.8 305.8h0M1379.7 97.9h0M1760.4 349.4h0M1313.7 183.6h0M1337.4 221h0M1349.3 235.6h0M1364.1 187.8h0M1806.9 418.7h0M1297.7 199.9h0M1460 337.9h0M1615.4 408h0M1606.5 365.4h0M1706.3 403.8h0M1607.7 402.1h0M1360.1 80.5h0M1327.7 182.4h0M1779.9 437.8h0M1447.8 222.7h0M1367.9 191.3h0M1449.1 277.7h0M1353.7 239.5h0M1770.1 423h0M1404.3 225.7h0M1639.4 267.6h0M1526.5 214.4h0M1635.3 466.2h0M1902.1 441.8h0M1574.8 190.6h0M1359.9 136.5h0M1713.9 443h0M1345 198.1h0M1434.1 290.9h0M1813.7 402.1h0M1416.3 305.6h0M1452.9 274.4h0M1541.3 286.4h0M1778 311.1h0M1776.5 434.4h0M1512.9 265.8h0M1288.7 248.7h0M1336 209.2h0M1347.6 181.4h0M1961.8 398.1h0M1544.2 290.6h0M1581.7 441.8h0M1721.2 387h0M1577.4 441.1h0M1375 112.6h0M1730.1 348.2h0M1385.1 334.5h0M1421.4 278.4h0M1297.2 165.5h0M1676.6 452.7h0M1801.6 296.3h0M1477.1 316.9h0M1313.6 203.7h0M1486.1 289.9h0M1297.3 203.9h0M1404.4 177h0M1694.6 396.9h0M1666 493.4h0M1655 407.5h0M1532.3 378.4h0M1648.5 311.5h0M1355.7 175.2h0M1506 286.4h0M1330.3 230.6h0M1853.5 273.9h0M1501.5 320.9h0M1830.3 436.6h0M1866.8 394.9h0M1518.9 329.1h0M1690 428.3h0M1597 338.5h0M1801 445.6h0M1953.7 347.3h0M1285.8 165.1h0M1850.7 496.1h0M1417.2 317.4h0M1402.7 229.5h0M1725.3 362.3h0M1419.8 201.7h0M1580.3 297.1h0M1358 194.2h0M1318.3 223.6h0M1570.8 379.9h0M1372.5 223.6h0M1885.9 319.4h0M1299.5 185.2h0M1348.4 173.8h0M1906.3 392.2h0M1428 364.5h0M1663 436.9h0M1304.1 114.2h0M1717 388.3h0M1592.7 378.4h0M1811.6 457.6h0M1720 359.7h0M1695.6 389.2h0M1569.5 320.7h0M1630.6 331.1h0M1774.8 427.4h0M1497.2 318.7h0M1698.5 292.3h0M1357.1 243.7h0M1848.9 384.3h0M1299.1 211.9h0M1388.1 250.4h0M1412.2 166.2h0M1476.8 286.9h0M1325.1 282.9h0M1573.7 385.5h0M1597.3 282.4h0M1618.1 317.2h0M1521 285h0M1395.1 262.9h0M1751.8 494.4h0M1543.4 453.7h0M1312.3 94.8h0M1759.3 373.2h0M1347.3 118h0M1658.7 389.9h0M1610.6 423.9h0M1891.8 356.3h0M1884.2 356.9h0M1489.4 231h0M1634.3 373.1h0M1354.6 162h0M1603 338.6h0M1455.9 298h0M1527.4 362.4h0M1504.4 364.5h0M1887.1 382.8h0M1631.2 397.6h0M1830 324.4h0M1542.7 324.6h0M1481.4 245.1h0M1388.6 168.8h0M1468 237.1h0M1310.8 324.5h0M1409.8 146.8h0M1750.1 416.3h0M1540.4 391.7h0M1781.3 352.5h0M1711.8 421.9h0M1879.2 364.8h0M1371.9 188.4h0M1863.7 301.1h0M1391 329h0M1538.9 329.8h0M1909.1 424.2h0M1475.2 248.5h0M1634.6 243.6h0M1351.8 144.4h0M1346.1 139.2h0M1590.1 425h0M1317.8 201.6h0M1310.8 207.3h0M1545.3 338.6h0M1473.3 285.3h0M1815.5 289.5h0M1285.1 129h0M1480.8 269.3h0M1430.2 166.4h0M1869.7 425.9h0M1789 419.7h0M1628.2 399h0M1356.7 168.1h0M1611.2 316.1h0M1317.4 134.3h0M1352.2 112.4h0M1504.5 291.8h0M1319.5 74.7h0M1319.2 120h0M1611 261.7h0M1796 424.6h0M1418.3 202.3h0M1826.2 398.3h0M1364.4 291.2h0M1534 346.9h0M1308.6 144.3h0M1777.3 507.8h0M1374.6 167.3h0M1624.5 459h0M1327.4 137.5h0M1384.8 284.9h0M1432 278h0M1718.5 411.4h0M1845.4 374.1h0M1893.8 463.6h0M1830.5 339.6h0M1412.2 169.3h0M1823.9 325.6h0M1681.4 397.8h0M1313.1 178.7h0M1344.6 177.1h0M1318.4 96.1h0M1723.6 319.5h0M1713.3 330.6h0M1369.4 90.1h0M1439.3 181h0M1362.9 96.9h0M1830.7 403.2h0M1777.3 366.4h0M1713.1 431.7h0M1652.7 327.6h0M1579 419.8h0M1546.2 383.5h0M1358.2 245.7h0M1585.5 399.2h0M1630.7 310h0M1677.6 274.2h0M1329.6 194.5h0M1891.8 432.4h0M1713.7 332.5h0M1693.7 420.8h0M1425.2 273.8h0M1579.9 307.8h0M1667.6 277.2h0M1395.2 189.2h0M1692.1 384.3h0M1640.9 399.2h0M1777.8 435.4h0M1608.4 331.8h0M1709.5 384.5h0M1918.6 445h0M1685.5 490.3h0M1293.8 132.5h0M1319.9 214.4h0M1512.1 342.1h0M1542.3 308.4h0M1656.7 352.6h0M1528.4 279h0M1531 418.1h0M1319.7 208.2h0M1818.5 348h0M1584 401.5h0M1907.1 352.5h0M1883.6 376.3h0M1929.9 291.5h0M1683.7 206.1h0M1315.5 176.5h0M1521.4 229.8h0M1585.7 419.8h0M1419.4 285.3h0M1304 125.2h0M1747.9 383.4h0M1388.2 162.1h0M1350.4 140h0M1290 114h0M1347.7 242.4h0M1703.2 368.3h0M1360.4 261.5h0M1384.2 201.2h0M1414.2 238.6h0M1683.8 402.1h0M1845.6 370.6h0M1816.2 403.1h0M1385.8 243h0M1472 206.4h0M1602.8 374.2h0M1667.2 338.6h0M1417.3 274.4h0M1486.5 334.8h0M1650.9 288.8h0M1676.7 346.8h0M1756.5 392.6h0M1612 330.2h0M1297.8 262.6h0M1413 329.9h0M1614.5 368.1h0M1457.7 250.9h0M1950 346.4h0M1427.2 197.8h0M1849.9 405.2h0M1399.6 178.1h0M1773.3 336h0M1720.7 439.2h0M1960 419.5h0M1698 293.4h0M1900.2 339.2h0M1860.4 363.4h0M1493.9 306.8h0M1362.8 214.4h0M1340.4 148.9h0M1402.1 280.7h0M1863.3 480.1h0M1399.1 198.2h0M1473.3 299.9h0M1391.7 191.3h0M1808.4 432h0M1370 249.2h0M1650.1 312.3h0M1376.4 231.9h0M1322.3 65.1h0M1367 219.1h0M1656.1 382.2h0M1927.5 348.9h0M1704 365.5h0M1628 351.2h0M1751.4 382.5h0M1285 148.6h0M1344.3 198.1h0M1736.2 444.5h0M1858.2 226.7h0M1300.7 83.2h0M1558.8 352.5h0M1457.6 221.5h0M1437.3 203.9h0M1469.9 201.7h0M1477.7 289.2h0M1366.3 281.2h0M1880.9 398.5h0M1682.1 434.8h0M1698.6 378.7h0M1304.6 220.3h0M1303.7 236.3h0M1595.3 372.9h0M1936 431.3h0M1287 80.3h0M1420.7 297.7h0M1384.9 189.6h0M1646.1 363.6h0M1758.6 355.2h0M1826.5 433.5h0M1950.3 366.8h0M1901.1 497.3h0M1298.2 138.6h0M1582.3 329.7h0M1599.4 289.5h0M1285 174.9h0M1561.9 291.5h0M1728.3 320.2h0M1316.4 197.8h0M1447.9 380.2h0M1363.9 276.4h0M1338.5 106h0M1298.8 193.2h0M1545.5 291.4h0M1350.2 140.3h0M1686.3 347h0M1691.7 419.8h0M1961.3 347.2h0M1730.2 385.7h0M1295.3 227.9h0M1357.5 217.8h0M1894.4 448.2h0M1370.4 156.4h0M1402.5 237.9h0M1558.1 272.6h0M1335.3 270.9h0M1562.9 338.5h0M1296.5 185.3h0M1495.9 298.3h0M1928.2 421.8h0M1420.5 271.7h0M1712.1 419h0M1456.3 355.5h0M1312.6 266.6h0M1391.2 266.4h0M1571.6 288.5h0M1847.1 311.4h0M1386 201.8h0M1859.3 395.6h0M1359 187.7h0M1468.4 297.7h0M1338.4 187.4h0M1928.9 203.8h0M1502.6 206.2h0M1477.3 193.5h0M1303.9 151.9h0M1418 261.9h0M1677.3 312.3h0M1738.7 339.3h0M1536.1 384.1h0M1907.4 436h0M1355.9 235.8h0M1678 312.1h0M1505.9 182.4h0M1589.8 391.8h0M1472.1 298.9h0M1359.8 224.8h0M1368.4 260.4h0M1336.7 227.5h0M1628 484.5h0M1950.4 443.3h0M1358.4 240.9h0M1385.5 263.1h0M1697.1 343.9h0M1446.7 306.1h0M1367.7 245.1h0M1389.3 190.1h0M1939.8 327.6h0M1638.4 414.4h0M1956.4 401.6h0M1374.8 282.2h0M1358.5 233.5h0M1614.6 338.7h0M1332.1 159.4h0M1562.5 406.5h0M1593.5 220.9h0M1921.7 403.3h0M1724.1 459.5h0M1288.2 302.9h0M1305.3 194.3h0M1287.8 297.9h0M1614.6 257.4h0M1633.3 320.4h0M1623.7 385.7h0M1862.3 438.2h0M1402.3 273.8h0M1603.4 315h0M1849.9 316.3h0M1721.4 412.8h0M1498.2 359.6h0M1319.4 240.4h0M1330.1 182.5h0M1930.9 309.3h0M1359.1 142.6h0M1305.1 160.3h0M1341.1 188.7h0M1621.3 412.4h0M1549.6 321.3h0M1688.7 349.9h0M1420.3 304.3h0M1502.8 283.7h0M1443.3 296.8h0M1324.1 232.3h0M1711.4 454.1h0M1505.7 197.9h0M1512.4 254.5h0M1635.2 318.6h0M1686.4 483.2h0M1780.7 369.4h0M1313.3 251.7h0M1450.1 225.9h0M1327.5 273.6h0M1654 338.4h0M1395.8 162.7h0M1517.6 275.8h0M1856.9 322h0M1340.9 166.2h0M1497.2 243.5h0M1403.6 116.1h0M1578.5 341.3h0M1598.4 287.1h0M1428.8 315h0M1911.4 376h0M1626.6 327.3h0M1356 295.7h0M1788.6 392.5h0M1697.7 437.6h0M1509.1 433.2h0M1312.2 177.1h0M1765.4 266.2h0M1480.5 277.7h0M1885.5 556.3h0M1683.9 358.3h0M1315.8 247.2h0M1387.7 287.9h0M1294.4 190.9h0M1677.7 464.1h0M1347.8 116.9h0M1558.1 470.5h0M1369.8 212.3h0M1316 154.3h0M1958.1 389.3h0M1911.5 362.5h0M1958.5 350.6h0M1383 277.3h0M1448.1 304.2h0M1361.7 221.6h0M1963.3 382.5h0M1777.9 507.8h0M1358.1 172.5h0M1286.8 131.5h0M1817 387.2h0M1437.6 197.9h0M1497.3 278.4h0M1780.5 371.8h0M1304.6 201.1h0M1603.8 321.9h0M1311.4 127.1h0M1560.2 400.3h0M1534.1 277.7h0M1662.7 336.2h0M1599.2 332.2h0M1436.4 242.8h0M1753.6 382.2h0M1704.1 342.7h0M1295.4 206h0M1628 450.3h0M1594.6 368.3h0M1618.2 309.3h0M1621.4 344.7h0M1713.3 432.5h0M1547.7 350.7h0M1596.3 381.2h0M1874.6 366.8h0M1314.7 260.8h0M1754.5 438.6h0M1354 175.3h0M1295 252.5h0M1855.8 473.6h0M1348.5 243.7h0M1392.7 141.3h0M1808.8 382.4h0M1473.9 179.8h0M1548.5 200h0M1642.1 316.1h0M1584.1 440.7h0M1742.1 404.5h0M1537.7 357.6h0M1786.3 400.2h0M1328.9 204.4h0M1351.4 127.2h0M1775.1 375h0M1917 433.7h0M1833.2 419.1h0M1327.6 210.9h0M1560.4 315.9h0M1398.5 186.9h0M1638.7 334.6h0M1815.4 349.7h0M1955.2 411.5h0M1671.8 459.8h0M1861.8 411.6h0M1491.8 252h0M1599.8 420h0M1873.1 447.4h0M1406.7 229.7h0M1629.7 410.7h0M1667.5 355.2h0M1456.8 249h0M1755.2 375.5h0M1761.2 420.5h0M1652.7 408.6h0M1403 224h0M1426.1 286.1h0M1615.8 253.1h0M1412.7 193.9h0M1729.4 578.2h0M1748 368.2h0M1333.6 201.9h0M1670.6 341.8h0M1712.5 363.9h0M1693.3 325.5h0M1792.7 402.7h0M1709.8 413.7h0M1289.9 159.3h0M1442.5 265.2h0M1705.6 440.4h0M1410.7 336.3h0M1545.9 354.6h0M1350.6 232.2h0M1733.3 432.9h0M1811.9 508.5h0M1308.1 235.1h0M1818.4 432.1h0M1449.7 161.4h0M1493.8 247.2h0M1523.1 398.7h0M1876.4 474.3h0M1494.8 325.1h0M1798.2 388h0M1960.9 463.3h0M1715.9 348.7h0M1704 375.6h0M1705.5 318.8h0M1296 197.8h0M1295.6 89.8h0M1509.3 278.2h0M1486.7 305.4h0M1384.3 246.4h0M1725.1 351.8h0M1385.5 277h0M1390.5 234.9h0M1335.1 207h0M1481.3 297.3h0M1536.9 224.4h0M1904 420.4h0M1334.2 248.3h0M1756.7 346.6h0M1415.8 240.8h0M1825.1 511.9h0M1511.5 330.2h0M1668.8 352.7h0M1681 339.9h0M1784.8 319.1h0M1848.9 442h0M1620.4 485.3h0M1604 294.1h0M1494.7 291.1h0M1529 340.4h0M1877 463.3h0M1443.8 292.6h0M1384.9 215.7h0M1344.4 217.7h0M1811.4 280.6h0M1488.6 339.6h0M1398.1 217.8h0M1531.9 232.9h0M1610.5 277.5h0M1384.1 250.6h0M1322.5 193h0M1285.5 166.1h0M1321.8 180.4h0M1787.7 443.2h0M1480.4 326.6h0M1705.3 355.6h0M1852.1 417.3h0M1612 228.8h0M1866.2 426.1h0M1590.9 321.1h0M1319.4 209.9h0M1587.5 377.3h0M1505.9 368h0M1346.6 107.7h0M1562.7 292.7h0M1849.1 341.4h0M1778.3 284.2h0M1769.3 319h0M1387 420.8h0M1747.7 358.9h0M1764.2 383.2h0M1408.6 239.9h0M1918.8 394.8h0M1508.9 322.1h0M1843.3 357.4h0M1301.2 234.9h0M1562.3 387.6h0M1697.7 376.8h0M1769.1 507.1h0M1436 269.4h0M1717.9 402.1h0M1353.6 112.5h0M1323.8 60.5h0M1499.3 259.3h0M1289.5 274.1h0M1824.7 362.9h0M1582 358.9h0M1389.4 234.7h0M1666.9 426.8h0M1309.3 221.9h0M1380.1 263.9h0M1490.5 244.2h0M1416.2 245.5h0M1416.8 213.7h0M1896.6 474.1h0M1321.7 159.7h0M1594.1 269.6h0M1609.6 323.5h0M1598 256.5h0M1935.5 407.2h0M1297.7 150.9h0M1791.1 441.1h0M1319.2 293.3h0M1331.1 248.8h0M1526.2 328.9h0M1610.5 447.2h0M1613.4 297.9h0M1457.8 291.6h0M1947.7 359.4h0M1838.9 367.8h0M1634.7 359.3h0M1920.6 384.4h0M1450.5 282.1h0M1869 390.6h0M1443.2 277.3h0M1290 128h0M1899.6 334.8h0M1306.9 220h0M1293.5 43.9h0M1401.9 255.5h0M1739.8 384.6h0M1733.2 484.6h0M1847.9 368h0M1416.3 275.1h0M1402.8 218.7h0M1910.8 374.6h0M1418.5 216.4h0M1338.6 87h0M1296 168.5h0M1387.3 304.1h0M1671.7 314.7h0M1446.4 300.2h0M1703.4 360.8h0M1516 361.3h0M1320.5 135.3h0M1424.2 144.7h0M1299.2 148h0M1487.5 300.3h0M1310.9 147.7h0M1410.1 248.2h0M1416.4 245.8h0M1419.2 225.7h0M1395.2 123.1h0M1463.9 237.6h0M1704.6 445.8h0M1322.3 187.3h0M1807.2 377.8h0M1356.1 171h0M1778.7 403.4h0M1729.2 454.1h0M1582.5 308.9h0M1544.4 358.9h0M1318 236.6h0M1912 373.6h0M1677.9 419.5h0M1418.2 156.8h0M1309.6 182.6h0M1369.5 181.9h0M1657.5 330.7h0M1814.8 414.5h0M1354.2 157h0M1305.8 248h0M1858.2 378h0M1696.8 315.4h0M1574.5 344.3h0M1593.2 443.1h0M1591.1 346.4h0M1848.5 403.9h0M1443.5 250.8h0M1323 159.7h0M1383.6 154.5h0M1359.4 179h0M1516.3 361.1h0M1519.1 315.3h0M1905.7 451.6h0M1593.8 347.1h0M1326.2 187h0M1491.6 373.9h0M1545.9 299.7h0M1946.9 413.1h0M1354.3 165.4h0M1444 227.4h0M1778.4 435.7h0M1358.9 98.4h0M1922.7 330.5h0M1440.3 172.2h0M1324 206.8h0M1907.7 456.3h0M1939 492.9h0M1591.6 366h0M1417.1 220.6h0M1309.3 166.9h0M1912 428.4h0M1576.9 326.6h0M1944.9 478.7h0M1649.8 401.3h0M1775.4 368.6h0M1543.3 302.7h0M1514.8 310.8h0M1323.3 200h0M1381 302.4h0M1520 359.5h0M1685.6 301.5h0M1405.8 262.6h0M1377.2 250.3h0M1479.2 343.7h0M1449.9 331.3h0M1758.6 458.1h0M1347 180.4h0M1448.4 271.3h0M1361.4 270.8h0M1407.8 308.7h0M1585.2 395.6h0M1470.8 376.5h0M1454.8 215.9h0M1311.1 255.1h0M1306.3 238.2h0M1824.9 359.9h0M1372.3 210.8h0M1914.9 408.2h0M1595.3 336h0M1327.9 332.1h0M1554.1 339h0M1668.9 377.4h0M1555.1 280.2h0M1688.9 271.6h0M1551.6 376.7h0M1767.9 346.3h0M1299.9 186.1h0M1753.2 426.1h0M1691.5 302.7h0M1925.5 436.1h0M1695.3 316.5h0M1321.1 126.9h0M1957.2 336.3h0M1901.9 395.7h0M1383.7 289.7h0M1395.4 215h0M1920.1 436.2h0M1576.6 316.3h0M1810.7 369.8h0M1779.8 501.4h0M1841.8 416.9h0M1514 242.1h0M1828.5 380.8h0M1431.3 289.1h0M1500.2 333.7h0M1536.2 318.2h0M1896.8 383.8h0M1385.7 289.9h0M1875.6 296.8h0M1727.5 488.2h0M1477.5 306h0M1334.7 175.1h0M1834.7 406.2h0M1299.6 287.7h0M1917.6 380.7h0M1345.7 189.7h0M1919.1 432h0M1294.7 208.3h0M1316.3 186h0M1865.2 317.5h0M1299.3 166.9h0M1396.4 186.8h0M1579.1 294.6h0M1598.9 254.6h0M1392 275.6h0M1864.9 365.7h0M1335.9 201.9h0M1359.6 236.5h0M1945.6 421.1h0M1557.8 324.4h0M1326.2 142.6h0M1338.2 112.2h0M1468.5 240.3h0M1498.3 268.5h0M1866.7 456.8h0M1509.1 314.5h0M1394.5 226.6h0M1554.3 289.1h0M1475.7 254.2h0M1526.4 337.2h0M1877.6 497.2h0M1314.7 159.9h0M1622.2 370.6h0M1339.9 216.5h0M1286.7 94.8h0M1409.7 120.7h0M1845.9 386.1h0M1720 362h0M1617.7 394.9h0M1448.9 311.6h0M1633.8 404.6h0M1921 367.5h0M1740.6 399.9h0M1500.3 361h0M1690.7 449.8h0M1449.9 301.7h0M1445.1 352.9h0M1707.5 304.3h0M1856.5 451.3h0M1733.2 467.7h0M1461.7 330.8h0M1405.5 243.6h0M1791.8 390.6h0M1297.4 171.7h0M1436.5 309.6h0M1768 363.2h0M1286 118.2h0M1964.3 419.9h0M1964.4 444.6h0M1397.9 298.7h0M1488.6 338.8h0M1906.6 376.6h0M1437.2 232.8h0M1523.9 290.5h0M1350.4 98.1h0M1840.6 335.1h0M1520 246.7h0M1904.1 415.6h0M1953.8 440.7h0M1609.5 354h0M1485.3 206.2h0M1326.7 118.4h0M1791.2 474.2h0M1944.1 518.9h0M1311.2 249.8h0M1810.9 394.7h0M1416.2 214.9h0M1552.1 306.5h0M1493 319h0M1623.2 278.4h0M1437.5 158.1h0M1881.8 267h0M1304.5 152.2h0M1654.8 367.1h0M1699.8 425.4h0M1928.1 446.1h0M1642.7 349.1h0M1538.6 298.5h0M1390.9 257.7h0M1460.8 230.4h0M1386.5 218.2h0M1289.9 250.7h0M1856.3 272.3h0M1831.1 417.9h0M1562.4 464.9h0M1815.4 345h0M1429.7 329.8h0M1385.4 216.3h0M1762 422.5h0M1732.8 298.2h0M1483 412.8h0M1726.7 477.1h0M1355.1 227.6h0M1308.1 252.6h0M1819 404.6h0M1569.2 324.9h0M1763.7 394.1h0M1509.4 284.8h0M1562.5 307.9h0M1892.7 433.8h0M1413.5 280.1h0M1568.4 321h0M1295 112.6h0M1287.3 85.3h0M1802.2 463.2h0M1467 289.1h0M1558.4 336.5h0M1306.2 164h0M1445.7 185.6h0M1843.7 452.9h0M1900.3 357.7h0M1959.5 371.8h0M1425.5 304.9h0M1639.1 307.8h0M1624.5 394.1h0M1852.4 425.6h0M1522.6 408.9h0M1875.2 306.9h0M1441.1 200.2h0M1521 370.8h0M1400.2 237.7h0M1354.5 173.5h0M1706.5 362.4h0M1778.1 341h0M1547.8 340.5h0M1786.6 200.6h0M1638.3 352.5h0M1806.9 375.3h0M1537.9 376.1h0M1457.1 347.1h0M1723.1 408.6h0M1407.7 204.8h0M1769.7 357.3h0M1799 333.5h0M1412.9 198.2h0M1704.6 432.3h0M1593.8 344.8h0M1851.2 365.1h0M1323.1 206h0M1387.7 211.2h0M1451.3 294.5h0M1817.1 405.9h0M1414.3 184.3h0M1470.3 280.8h0M1591.6 333.8h0M1809.1 467.6h0M1770.8 288.3h0M1323.4 242.5h0M1392.5 267.3h0M1891.3 437.9h0M1526.3 362.6h0M1396.1 159h0M1357.6 174.1h0M1527.7 382h0M1677.3 392.5h0M1933.3 340.2h0M1863.6 375.7h0M1888 384.2h0M1376.2 218.7h0M1356.3 247.1h0M1473.2 300.9h0M1717.7 391.7h0M1557.2 360.5h0M1847.3 464.7h0M1621.2 294.8h0M1952.8 442.9h0M1681.2 468.9h0M1517.9 308.1h0M1316.1 137.9h0M1799 360.9h0M1559.4 421.7h0M1543.1 424.3h0M1375.2 222.5h0M1778.1 411.8h0M1363.5 147.8h0M1359.2 172.1h0M1559.7 349h0M1703.1 487.6h0M1806.3 402.9h0M1924.2 399.9h0M1352.1 198.1h0M1614.5 374.5h0M1445.2 282.4h0M1499.1 333.1h0M1636.1 309.9h0M1709.9 318.4h0M1297.7 225.7h0M1339.1 193.1h0M1806.2 365.4h0M1506.2 309.4h0M1302.7 193.3h0M1598.2 439.1h0M1541.4 233.5h0M1462.9 280.3h0M1897.1 326.8h0M1803.4 496.9h0M1574.2 420.9h0M1807.5 383.3h0M1876.3 373.3h0M1440.9 262.1h0M1367.9 309.7h0M1338.8 199.7h0M1652.1 270.8h0M1893.4 384.2h0M1761.9 343.6h0M1715.7 306.7h0M1551.6 410.3h0M1710.3 400.5h0M1482.4 290.4h0M1290.7 175.3h0M1374.8 194.1h0M1557.1 209.8h0M1501.4 317.8h0M1870.7 514.9h0M1757.2 379.8h0M1769.6 439.4h0M1428.8 159.9h0M1719.2 418.2h0M1400.9 184.8h0M1740.1 368.8h0M1353.6 177.4h0M1384.9 230.2h0M1327.3 110.1h0M1580.4 381.1h0M1625.8 263.9h0M1873 394.5h0M1462.4 234h0M1465.7 351.7h0M1424.5 298.5h0M1745.9 416.4h0M1297.3 180.7h0M1719.7 432.2h0M1643.9 331.8h0M1526.5 272.3h0M1479 258.4h0M1806.8 408.2h0M1898.3 391.1h0M1468.1 255h0M1646.3 331h0M1880.4 392.6h0M1411.2 165.8h0M1337.3 117.4h0M1801.3 400.6h0M1519.2 233.3h0M1719.6 436.4h0M1933.1 342.2h0M1478.8 477h0M1673.3 448.5h0M1523.5 351.6h0M1919 423.4h0M1516.7 310.6h0M1338.5 163.4h0M1347.5 148.4h0M1433.2 247h0M1378.4 168h0M1434.4 275.3h0M1737.9 290.2h0M1831.8 415.3h0M1297.5 178.2h0M1549.4 396.3h0M1590.2 327.7h0M1842.3 363.3h0M1566.3 334h0M1756.6 419.5h0M1412.3 298.7h0M1559.5 483h0M1726.6 359.2h0M1368.1 193.4h0M1367.2 181.4h0M1329.3 155.8h0M1401 257.9h0M1382.6 231.5h0M1479.3 364h0M1605.8 393.6h0M1343 206h0M1474.2 283.4h0M1423.6 291.1h0M1674 337.1h0M1652.5 350h0M1790.9 373.4h0M1776.5 371.1h0M1453.7 195.4h0M1712.8 335.5h0M1496 327.8h0M1550.9 359.9h0M1701.4 381.2h0M1527.9 368.7h0M1839.2 264.6h0M1319.4 201.4h0M1901.6 442.5h0M1574.5 357.3h0M1674.8 313.1h0M1331.7 224.3h0M1501.8 385.2h0M1319.3 113.8h0M1861.3 320.7h0M1476.5 246.4h0M1941.5 518.8h0M1322.3 240.3h0M1337.8 250h0M1286.4 390.6h0M1386.5 182.7h0M1322.3 206h0M1901.5 377.6h0M1388.1 259.3h0M1829.8 397.3h0M1339.6 239.8h0M1586.1 243.7h0M1316.3 183.3h0M1431.8 317.5h0M1301 273.1h0M1522.3 308.8h0M1720.7 355.3h0M1331.8 172.7h0M1871.3 387.1h0M1497.1 297.2h0M1731.2 426.4h0M1712.6 321h0M1936.5 417.6h0M1489.5 320.4h0M1711 405h0M1536 392.5h0M1958.6 488.5h0M1571.9 326.4h0M1756 379.8h0M1338.6 187.7h0M1878.1 401.4h0M1735 344.7h0M1372.3 186.3h0M1770.1 366.4h0M1370.1 200.2h0M1305.9 168.7h0M1920.2 449h0M1564.4 322.3h0M1631.4 418h0M1785.9 330h0M1345.6 190h0M1341.2 234.9h0M1374.2 206h0M1964.8 441.8h0M1844 430.2h0M1820.7 411.3h0M1640.9 448.9h0M1751.1 308.4h0M1598.6 322h0M1865.1 284.3h0M1833.5 321.1h0M1385.7 218h0M1537.7 309.1h0M1665.2 269.8h0M1848 326.7h0M1416.7 297.9h0M1884.6 385.7h0M1842.3 438.4h0M1410.6 352.4h0M1740.1 448.1h0M1915.9 416.4h0M1910.3 400.4h0M1859 503.4h0M1359.1 196.3h0M1913 412.8h0M1525.1 220.8h0M1358.2 168.9h0M1317.2 167h0M1727.3 441.9h0M1601.7 360.4h0M1604.6 338.8h0M1422.1 354.5h0M1684.1 252.8h0M1759.2 331.7h0M1572.1 237.2h0M1354.1 142.7h0M1325.5 204.3h0M1654.1 330.2h0M1313.4 188.4h0M1306.5 163.1h0M1819.6 301.2h0M1298.9 130.6h0M1537.6 289h0M1749.5 393.6h0M1393.1 327.3h0M1372.7 223.1h0M1477.2 243.9h0M1474.2 300.4h0M1333 203.4h0M1622.1 345.8h0M1287.3 284.6h0M1890.6 334.7h0M1741.8 316.1h0M1451.2 228.4h0M1867.5 356.9h0M1304.4 171.3h0M1599.2 406h0M1713.2 387.5h0M1801.4 342.4h0M1918.2 344.7h0M1673 321.9h0M1647.1 430.1h0M1779.3 306.3h0M1885.6 446.1h0M1373.3 264.3h0M1316.7 77.1h0M1808.4 358.4h0M1575.6 241.6h0M1858.9 425.6h0M1845 406.8h0M1350 214.6h0M1932.2 349.2h0M1568.5 332.4h0M1348.8 142.7h0M1502.3 300.2h0M1960.1 339.5h0M1490 242.1h0M1931.4 420.1h0M1599.1 306.9h0M1466 270.8h0M1833.9 429.5h0M1438.2 293.7h0M1724.5 439.2h0M1295.4 249.4h0M1402.3 325.4h0M1620 372.2h0M1467.5 278h0M1292.3 245.1h0M1380.2 146.1h0M1692 386.9h0M1759.8 403.4h0M1381.7 185.6h0M1334.9 222.9h0M1378.1 252.5h0M1572.2 302.6h0M1749.2 288.8h0M1494.4 282.2h0M1513.2 225.7h0M1874.6 515.1h0M1679.2 442.4h0M1642.1 351.8h0M1792.6 356h0M1366.9 264h0M1846.4 402.7h0M1443 364.8h0M1809.9 369.7h0M1924.4 318.9h0M1713.6 426.4h0M1722.6 316.8h0M1806.7 412.7h0M1670.4 310.1h0M1862.4 409h0M1549 276.8h0M1430.9 212.4h0M1289.6 167.8h0M1890.9 384.9h0M1457.3 272.1h0M1353.1 285.1h0M1524.6 333.3h0M1648.4 305h0M1760.4 425.8h0M1340.8 181h0M1559.5 424.5h0M1786.7 439.2h0M1556.5 462.1h0M1432.7 310.6h0M1890 341.9h0M1494.6 221.2h0M1359.2 322.5h0M1574.1 342.8h0M1667.6 355.4h0M1737.2 329.5h0M1697.2 399.1h0M1734.3 396.7h0M1544.6 318.1h0M1705 480.8h0M1772.9 403.7h0M1802.5 328.6h0M1746.3 256.5h0M1426.7 256.9h0M1720.7 351.2h0M1787.6 453.7h0M1928.9 435.8h0M1858.4 423.5h0M1291.6 166.9h0M1940.2 439.4h0M1526.5 259h0M1606.2 358.6h0M1350.6 180.6h0M1499.1 312.1h0M1356.8 176.1h0M1501.1 232h0M1428.6 285.9h0M1396.1 238.8h0M1494.7 283.5h0M1847.1 345.1h0M1565.2 395.3h0M1332.8 205h0M1321.2 178.4h0M1459.6 255.9h0M1295.2 34.1h0M1906.2 403.2h0M1842.7 405.5h0M1821.9 308.8h0M1852 395.6h0M1284.9 84.6h0M1880.7 475.1h0M1850.8 433.1h0M1340.1 223.5h0M1898.8 421.8h0M1691.1 356.2h0M1409.2 251.1h0M1849.8 404.1h0M1317.9 223h0M1656.5 420.4h0M1534.4 235.1h0M1626.5 330.6h0M1871.7 470.3h0M1600.7 289.5h0M1773.5 344.7h0M1358.1 245h0M1922.3 466.2h0M1530.7 222.2h0M1331.8 147.9h0M1307.4 106.2h0M1888.5 377.9h0M1287.2 244.1h0M1915 417.7h0M1782.7 348.8h0M1474.9 240.1h0M1872.7 457.5h0M1340.2 157h0M1760.3 442.5h0M1443.9 364.6h0M1748 285.7h0M1307.9 179.1h0M1764.7 294.3h0M1632.2 327.3h0M1838.9 406.3h0M1619 277.8h0M1804.3 360.1h0M1497.8 271.2h0M1338.1 266.5h0M1890 396.1h0M1408.9 265.6h0M1715.1 456.1h0M1454.4 304h0M1890.7 475.3h0M1924.1 393.1h0M1702.7 348.6h0M1461.5 245h0M1785.8 442.9h0M1731 383h0M1382.2 257.9h0M1481 336.2h0M1328.7 113.8h0M1556.8 318.3h0M1421.4 222.6h0M1320.1 178.8h0M1432.7 299h0M1770.8 397h0M1810.3 387.6h0M1438 311.3h0M1399.4 211.9h0M1668.7 342.3h0M1679.8 364.6h0M1544.4 265.8h0M1806.8 490.6h0M1426.9 229.6h0M1884.7 406.3h0M1621 400.2h0M1297 139.4h0M1448.6 252.5h0M1324 111.9h0M1707.9 416.3h0M1504.1 314.6h0M1561.9 262.6h0M1354 139.1h0M1543.2 347h0M1790.5 489.1h0M1445.4 259h0M1310.7 214.4h0M1505.2 404.4h0M1392.2 185.1h0M1624.5 329.7h0M1580.8 418.1h0M1673.5 292.2h0M1621 451h0M1457.4 302.6h0M1412.6 176.3h0M1609.4 343.6h0M1591.1 359.9h0M1413.6 232.1h0M1290.4 177h0M1292.8 234.9h0M1331.2 182.3h0M1340.3 208.1h0M1397.9 292.8h0M1686.6 308.9h0M1721.7 467.5h0M1787.9 378.4h0M1564 335.2h0M1701.2 431.1h0M1654.2 410.1h0M1319 243.1h0M1449.9 184.3h0M1886.5 455.2h0M1300.9 275.5h0M1317.8 81.7h0M1620.7 355.4h0M1588.4 319.3h0M1307.9 219h0M1523.9 314.9h0M1735.1 423h0M1508.6 284.7h0M1575.6 309.6h0M1710.4 422.2h0M1879.6 386.2h0M1398.2 214h0M1528 260h0M1518.9 314.9h0M1317.8 168.3h0M1877.1 309.4h0M1742.1 407.1h0M1505.9 311.2h0M1442.7 175.7h0M1412.9 253.7h0M1542.3 350.6h0M1459 178.2h0M1364.1 268.4h0M1594.8 245h0M1621.5 299.9h0M1805.5 420h0M1765 342.5h0M1352.7 160.9h0M1349.3 149.8h0M1667.3 481.6h0M1568.9 408.2h0M1284.7 171.1h0M1456.8 279.3h0M1387.2 173.7h0M1606.4 423.5h0M1409.9 286.9h0M1386.1 193.5h0M1875.4 319.7h0M1288.3 146.2h0M1701 401.1h0M1880 368.3h0M1467.7 274.5h0M1927.1 372.9h0M1379.2 160.6h0M1376.9 173h0M1366 227.8h0M1481.9 287.4h0M1668.3 360.3h0M1789.7 439h0M1334.4 221.7h0M1321 74.5h0M1373 276.6h0M1877.4 433h0M1960.1 366.6h0M1772.2 286.5h0M1336.5 231.6h0M1362.5 182.7h0M1522.5 398.1h0M1372.2 224.1h0M1713.1 480.5h0M1704.4 366.4h0M1394.4 266.4h0M1835.4 434.1h0M1793.8 339.3h0M1495.6 228.5h0M1483.4 250.4h0M1439.2 222.6h0M1404.5 286.8h0M1552.5 289.6h0M1646.9 445.3h0M1901.9 540.1h0M1522.7 270.4h0M1447.2 297.1h0M1838.3 376.5h0M1423.1 241.3h0M1416.3 277.7h0M1312.1 135.4h0M1699.3 398.2h0M1604.3 340.5h0M1467.3 230h0M1370.8 228.9h0M1321.9 293.8h0M1695.1 407.4h0M1668.7 358.4h0M1624.3 436.7h0M1639.6 453.3h0M1881.2 447.5h0M1942.5 419.4h0M1510.3 304.7h0M1418.6 279.6h0M1390.1 382.8h0M1391.8 254.8h0M1933.9 429.9h0M1563.7 355.8h0M1394.6 244h0M1406.4 229.9h0M1692.7 285.4h0M1568.9 417.1h0M1745 376.3h0M1946.2 434.4h0M1346.2 121.4h0M1894 398.6h0M1424.5 285.9h0M1420.4 211.5h0M1944.3 421.4h0M1739.1 475.5h0M1753.4 345.6h0M1890.2 343.1h0M1568 225.5h0M1567.6 208.5h0M1402.9 141.5h0M1295.3 126.1h0M1645.3 355.6h0M1657.8 352.3h0M1300.7 236.9h0M1371 226.8h0M1470.3 256.8h0M1328 220.2h0M1310.8 178.9h0M1353.8 250.6h0M1295.6 214.1h0M1852.5 415.9h0M1319.3 219.8h0M1432.8 177.5h0M1870 370.9h0M1410.6 264.8h0M1643.4 477.2h0M1836.5 421h0M1522.8 214.2h0M1736.3 336.8h0M1711.1 501.4h0M1381.2 274.2h0M1867.6 396.2h0M1698.4 366.4h0M1376.9 174.3h0M1326.6 234.4h0M1798.6 367.6h0M1878.4 353h0M1314 116.2h0M1759 349.4h0M1367.7 154.6h0M1862.7 449.4h0M1352.8 241.8h0M1591.9 383.3h0M1494.1 316h0M1664.7 412h0M1949.5 338.9h0M1921.9 377.5h0M1427.7 203.2h0M1760.7 417.3h0M1301.8 162.6h0M1291 150.3h0M1839.2 324h0M1599.6 357.7h0M1600.4 349.1h0M1417.5 194.4h0M1595.7 350.5h0M1538.7 353.1h0M1292.7 63.6h0M1371 174.6h0M1879.9 346.2h0M1318.6 161.4h0M1871.5 388.6h0M1583.2 331.2h0M1717.5 400.9h0M1301 193.4h0M1323.5 273.2h0M1320.8 201.8h0M1675.2 413.9h0M1486.4 269.2h0M1344.8 179.4h0M1800.2 442.1h0M1480.5 219.7h0M1628.6 262.2h0M1672 417.5h0M1354.1 161.3h0M1559.8 370.2h0M1294.2 160.4h0M1410.3 204.6h0M1743.2 358.5h0M1710.5 366.7h0M1938 317.9h0M1292.7 106.1h0M1410.2 248.4h0M1363.7 168.2h0M1296.2 155.1h0M1712.7 366h0M1826.9 410h0M1426.5 319.8h0M1861 357.9h0M1313.3 272.8h0M1343.8 232h0M1440.6 258.2h0M1728 493.7h0M1677.6 374.6h0M1350.1 195.8h0M1345.3 139.3h0M1788.7 465.5h0M1553.2 313.4h0M1336.7 211.2h0M1285.7 124h0M1363.9 282.3h0M1362.1 202.4h0M1846.5 496.1h0M1401 262.1h0M1902.5 423.1h0M1313.8 196h0M1694 307.9h0M1335.2 135.7h0M1406.7 310.8h0M1438.3 391h0M1296.1 34.8h0M1571.3 437.3h0M1388.5 190.3h0M1401.3 278h0M1470.9 273.9h0M1712.7 316.7h0M1919 334.7h0M1396.6 202.2h0M1921.7 459.3h0M1613.2 461h0M1313.1 47.5h0M1418.2 302.4h0M1823 411h0M1338.2 122.9h0M1463.9 334.3h0M1468.8 165.7h0M1374.5 199.1h0M1720.4 345.2h0M1616 398.6h0M1397.6 230h0M1902.6 484.2h0M1718.4 407.6h0M1853.7 357.1h0M1926.2 399.6h0M1506.4 331.1h0M1522.9 350.6h0M1650.3 376.7h0M1311 192.5h0M1829.5 499h0M1305.2 167.2h0M1776.8 336.7h0M1592 479.6h0M1841.5 342.8h0M1729.8 480.8h0M1860.6 307.8h0M1699.6 308.7h0M1533.6 394.2h0M1560.1 355.6h0M1756.4 378.2h0M1364.4 181.9h0M1872.9 493.5h0M1914.4 450.4h0M1876.3 323h0M1375.7 194h0M1321.4 188h0M1870.1 367.2h0M1403.8 262.6h0M1339.2 176.8h0M1564.2 430.6h0M1893.3 338.5h0M1662.7 381.5h0M1426.6 244.8h0M1353.6 317.8h0M1621.9 334.9h0M1485.9 349.8h0M1376.7 217.2h0M1449 294h0M1836.4 421.4h0M1656.8 335.4h0M1537.8 299h0M1374.2 194.1h0M1532.9 258.3h0M1325.5 203.8h0M1755.4 386.2h0M1343.5 199.3h0M1460.7 299.1h0M1559 200.7h0M1593.5 366.7h0M1479.2 294.9h0M1919.2 488.6h0M1297.4 196.6h0M1852.5 407.4h0M1934.5 395.6h0M1540.9 216.1h0M1330.4 242.6h0M1720.2 340.7h0M1565.5 289.1h0M1601.6 288.4h0M1921.7 441.3h0M1336.6 137.1h0M1883.9 402.4h0M1544.7 456.2h0M1391.1 178.2h0M1413.6 237.7h0M1435.7 271.6h0M1586.8 345.1h0M1914.3 337h0M1709.6 410.2h0M1602 350.9h0M1852.6 435.5h0M1574.9 390.7h0M1384.4 144.9h0M1476.6 389.8h0M1928.7 288h0M1774.4 321.8h0M1594.9 269.2h0M1916 281.5h0M1391 219.6h0M1883.8 338.8h0M1889.2 297.3h0M1465.2 328.4h0M1530.7 346.3h0M1415.7 296h0M1307.2 91.1h0M1370.1 241.8h0M1878.9 322.8h0M1340.1 217.1h0M1471.2 337.8h0M1529.8 252.7h0M1351.4 138.8h0M1401 237h0M1447.6 290.6h0M1637.2 369.3h0M1809.2 396.1h0M1402.5 499.4h0M1525.7 232.4h0M1569.1 346.6h0M1493.7 340.3h0M1726.3 355.7h0M1876.9 443.6h0M1420.8 297.1h0M1350.8 247h0M1307 187.5h0M1291.2 144.6h0M1659.9 311.2h0M1410 277.4h0M1438.5 278.8h0M1964.4 315.4h0M1537.7 353.9h0M1617.2 475.5h0M1485.3 285.4h0M1846.4 346.9h0M1293.2 94.3h0M1446.2 282.4h0M1597.8 391.2h0M1923 367.5h0M1505.6 290.9h0M1807.2 287.1h0M1546.1 405.9h0M1705 281.5h0M1368.5 233.7h0M1855.3 418.2h0M1713.3 273.5h0M1561.6 293.2h0M1867.3 317.9h0M1412 196.9h0M1468.4 272.9h0M1805 350.1h0M1906.3 381.1h0M1941.8 415.4h0M1597.8 345.6h0M1774.3 418.8h0M1634.4 346.3h0M1442.3 216.9h0M1941.1 369.1h0M1497.6 400.5h0M1822.1 413.1h0M1360.6 242.1h0M1410.7 306.9h0M1302.9 184.5h0M1458.4 234h0M1290.3 117.8h0M1571.8 385.1h0M1670.6 405.2h0M1904.5 453.7h0M1800.2 352.7h0M1882 381.9h0M1683.5 321.9h0M1827.4 420.8h0M1510 221.3h0M1339.6 170.6h0M1495.3 383h0M1692.4 397.9h0M1526.7 372.8h0M1625.8 288.2h0M1636.6 323.7h0M1669.1 483.7h0M1338.6 197h0M1330.2 53.1h0M1790.7 494.8h0M1288.9 160.3h0M1561.2 306.3h0M1389.5 145.5h0M1372.1 269.3h0M1530.9 336.9h0M1340 200.5h0M1327.6 194.1h0M1688.7 356.9h0M1880.8 515.5h0M1809.9 510.6h0M1365.2 272.7h0M1512.6 315.5h0M1797.9 381.5h0M1321.8 217.9h0M1421 262.9h0M1539.2 338.1h0M1623.8 322.5h0M1634.8 409.4h0M1931.2 413.7h0M1826.5 387.5h0M1338 87.3h0M1295.6 188.7h0M1526.9 322.3h0M1811.7 370.8h0M1324.9 228.2h0M1898.8 381.8h0M1328.1 174h0M1704.2 369h0M1693.4 360.4h0M1482.4 239h0M1460.3 189.5h0M1360.9 148.2h0M1367.1 142.2h0M1781.9 363.5h0M1653.3 310.5h0M1703.5 492.1h0M1887.9 438.2h0M1300.4 84.8h0M1363.5 236.3h0M1789.3 385.1h0M1846 298.5h0M1386.2 285.3h0M1852.2 462.4h0M1870.2 397.4h0M1903.3 351h0M1775.9 361h0M1901.5 460.9h0M1753.5 453.6h0M1395.7 235.3h0M1398.6 248.5h0M1596.1 410.5h0M1677.8 264.1h0M1331.4 189h0M1954 405.4h0M1409.2 259.5h0M1814.3 422h0M1349.4 216.8h0M1289.2 132.1h0M1476.2 311.2h0M1964.8 349.8h0M1381.6 196.5h0M1294.2 43.5h0M1581.6 330.2h0M1926.4 175.1h0M1717.1 358.4h0M1524.5 329.6h0M1388.4 198.2h0M1698 329.5h0M1587.4 335.4h0M1956.8 367.8h0M1646.9 358.9h0M1394.9 233.2h0M1802.4 261.4h0M1907.3 360h0M1842.7 431.6h0M1596.1 299h0M1353.1 245.1h0M1568.5 350.7h0M1449.6 399.6h0M1416.5 258.5h0M1354 293.5h0M1947.8 458.9h0M1797.1 368.1h0M1940.3 485.4h0M1684.4 346.5h0M1493.3 361.5h0M1588.4 314.9h0M1482.3 247.3h0M1345.1 169.2h0M1475.4 352.7h0M1324.5 323.2h0M1769.6 454.2h0M1352.8 154.2h0M1508.6 301.1h0M1588.6 370h0M1716.9 401.4h0M1451.8 355.3h0M1808.7 294.5h0M1404.9 197.8h0M1946.3 438.1h0M1938.9 348.4h0M1351.1 115.2h0M1635.7 332.8h0M1445.9 280.4h0M1422.4 271.2h0M1502.8 311.7h0M1723.6 329.8h0M1908.9 376.5h0M1923.5 483h0M1574.3 294.1h0M1487.5 281.8h0M1754.3 386.2h0M1890.5 466.1h0M1718.9 445.2h0M1892.1 516.1h0M1291.4 244.5h0M1402.1 304h0M1371.3 227.1h0M1853.8 362.1h0M1459.1 259.6h0M1672.6 334.6h0M1570.1 370.7h0M1612.6 483.9h0M1510 353h0M1307.6 78.8h0M1600.3 388h0M1321.5 190h0M1471.1 270.2h0M1303.5 82.6h0M1492.2 179.9h0M1298.4 141.4h0M1949.8 327.6h0M1903.2 353.4h0M1681.9 357h0M1623.7 451.2h0M1853.3 322.7h0M1943.4 359.7h0M1836.9 334.9h0M1828.5 427.4h0M1592.8 378.2h0M1733.9 361.8h0M1493.8 346.4h0M1508.5 253.2h0M1637.2 274.2h0M1685.7 304.8h0M1393.5 223h0M1454.7 333.3h0M1514.5 323.8h0M1670.6 434.4h0M1302 174.9h0M1531.9 403.4h0M1872.9 333.7h0M1514.4 408.3h0M1747.7 461.2h0M1308.6 178.2h0M1829.5 375.2h0M1451.2 200.9h0M1291.1 190.5h0M1432.3 248.3h0M1287.6 295.3h0M1659.2 428.7h0M1685 321.7h0M1833.6 374.7h0M1384.4 171.6h0M1384 158.9h0M1780.9 288.2h0M1293.2 102.5h0M1463.6 269.2h0M1471.5 303.8h0M1374.8 209.9h0M1350.4 223.5h0M1697.4 263.5h0M1488.8 314h0M1963.5 416.7h0M1639.6 299.2h0M1447.1 243.9h0M1494.1 356h0M1579.4 367.8h0M1833.4 427.2h0M1660 384.7h0M1340.1 190.3h0M1756.1 369h0M1413.5 250.8h0M1328.6 147.4h0M1340.4 247.4h0M1528.1 287.9h0M1543.2 393.9h0M1872.1 351.3h0M1310.6 64.9h0M1478.3 220.8h0M1410.8 199h0M1323.2 207.3h0M1752.1 358.5h0M1708.3 406.8h0M1498.9 384.3h0M1425.6 287.6h0M1574.3 336.8h0M1372.3 264.1h0M1778.6 329.6h0M1305 325.1h0M1685.1 402.3h0M1597 463h0M1429 225.1h0M1353.1 293.4h0M1369.7 244.8h0M1689.8 318.2h0M1531 384.9h0M1757.1 346.5h0M1321.9 265.2h0M1546.5 282.9h0M1720.4 425.2h0M1345.4 193.2h0M1459.3 333h0M1671.2 392.5h0M1404.1 323.7h0M1690.6 408.4h0M1464.4 271.7h0M1393.2 186.2h0M1406.2 231h0M1407.3 194.2h0M1378.8 232.8h0M1948 445.6h0M1308.5 241.8h0M1808.2 332.7h0M1459.1 384.2h0M1475.5 322.9h0M1774.3 351.3h0M1498.3 238.1h0M1499.9 337.8h0M1336.4 178.3h0M1404 227.8h0M1532.3 309.5h0M1783.2 344.1h0M1295.4 164.1h0M1343.2 118.8h0M1345.1 247.8h0M1333.5 186.2h0M1839.7 288.9h0M1645.8 315.2h0M1292.8 149h0M1772.9 332.2h0M1367.7 249.4h0M1394.4 182.4h0M1705.7 432.9h0M1524 334.4h0M1418.6 229.2h0M1292.6 167.3h0M1419 295.9h0M1890.4 322.2h0M1542.3 272.6h0M1339.7 226.8h0M1395 297.9h0M1557.6 371.3h0M1817.3 388.1h0M1831.8 397.5h0M1647.6 440.7h0M1467.8 275.3h0M1356 134.3h0M1299.4 247.9h0M1782.4 374.6h0M1426.4 255.4h0M1509.3 298.2h0M1495.5 307.9h0M1609.5 330.6h0M1530.6 384.6h0M1285.6 327.1h0M1619.1 342.8h0M1583.7 288.1h0M1384 339.2h0M1506.9 334.8h0M1921.4 375.7h0M1641.9 373.2h0M1650.8 237.7h0M1466.7 249.2h0M1466.3 256.9h0M1852.6 358.1h0M1882.2 341.6h0M1662.6 478.3h0M1673 381.9h0M1325.3 197.1h0M1506.2 305.9h0M1337.6 266.6h0M1543.4 303.8h0M1514.8 331h0M1676.5 309.3h0M1437.3 340.2h0M1310.1 122.7h0M1360 277.6h0M1923.7 434.7h0M1592.5 404h0M1910 270.5h0M1358.8 173.7h0M1456.9 394.6h0M1682 414.9h0M1547.2 268.4h0M1641.7 430.5h0M1856.9 359.9h0M1914.7 360.6h0M1739.7 365.4h0M1557.7 333.7h0M1317.9 115.4h0M1549.2 299.9h0M1824.7 339.1h0M1321.6 179.5h0M1546.6 304.9h0M1736 382.3h0M1639.2 311.7h0M1797.5 308.6h0M1380.5 123.5h0M1831 444.9h0M1360.5 196.5h0M1855.5 304.1h0M1293.8 229.8h0M1554 411.2h0M1362.9 182.3h0M1621.5 388.3h0M1471.5 282.4h0M1355.5 235.2h0M1512.2 278h0M1306.7 134.6h0M1362.9 222.7h0M1521 443.7h0M1576.5 347.8h0M1428.4 241.5h0M1697.8 423.6h0M1295.3 188.3h0M1379.2 186.5h0M1501.2 277.7h0M1309.3 177.2h0M1624.9 334.5h0M1603.1 281.7h0M1531.6 323.1h0M1869.5 310.4h0M1452.9 254.5h0M1292.3 326.4h0M1603.5 335.2h0M1394 323.6h0M1366.1 287.2h0M1364.9 232.6h0M1951.9 431.2h0M1513.9 196h0M1765.2 344.8h0M1833.3 397h0M1611.2 351.6h0M1891.1 431.5h0M1873 363.3h0M1535.9 355.9h0M1620.2 329.2h0M1501.9 370.2h0M1905.1 388.8h0M1344.8 227.3h0M1790.6 442.6h0M1940 291.9h0M1914.9 389.2h0M1648.5 290.7h0M1873 390.8h0M1934.7 376.8h0M1485.1 262.6h0M1591.3 305.4h0M1365.6 241h0M1428 329.9h0M1535.6 400.5h0M1755.5 326h0M1610.6 312.4h0M1839.7 367.3h0M1547.7 368.6h0M1950.4 396.4h0M1953.6 468.8h0M1477.8 321.1h0M1698.9 365.1h0M1823.2 317.8h0M1809 420.5h0M1675.6 246.8h0M1295.7 133.4h0M1614.2 427.3h0M1820.4 423.6h0M1490.7 238.2h0M1464.4 315.6h0M1728.5 405.4h0M1364.4 152.8h0M1956.9 431.5h0M1775.6 426.6h0M1360.3 235.6h0M1673.6 292.9h0M1544.2 366.7h0M1892.2 386.6h0M1718.4 367.1h0M1768.8 348.2h0M1601.9 298.4h0M1302.6 259.9h0M1287.5 72.9h0M1564 362.9h0M1304.5 268.9h0M1909 330.3h0M1540.7 224.1h0M1594.3 356.3h0M1385.9 205.1h0M1721.5 348.1h0M1585.2 332.1h0M1373 181.5h0M1530.9 344.7h0M1322.6 119.1h0M1794 320.7h0M1297.1 204h0M1682.2 333.1h0M1488 251.7h0M1461.2 209.9h0M1298.7 169.6h0M1697.5 329.9h0M1616.8 336.1h0M1442.8 219.9h0M1963.7 418.1h0M1633.5 391.3h0M1785.9 388.4h0M1411.6 296h0M1366 203.4h0M1317.1 172.6h0M1462.8 343h0M1416 215.2h0M1962.1 368.2h0M1606.3 365.4h0M1538.6 344.7h0M1316.5 238.2h0M1679.6 359.3h0M1612.5 218.5h0M1353.8 223h0M1669 425.1h0M1668.5 431.7h0M1765.6 346.1h0M1658.6 374.9h0M1453 329h0M1789.6 403.1h0M1378.2 207.1h0M1936.4 369.6h0M1769.1 371.2h0M1467.2 329.7h0M1933.4 357.5h0M1878.3 336h0M1317.6 235.8h0M1518.6 272.5h0M1317.2 209.1h0M1293 96.6h0M1862.5 482.9h0M1934.9 332.9h0M1673.6 355.7h0M1725.1 395.5h0M1664.1 483h0M1682.4 271.5h0M1634.6 471.9h0M1520.3 264.2h0M1471.6 301.1h0M1303.1 174.5h0M1286.9 111.8h0M1414 180.1h0M1400.4 355.9h0M1802.1 466.5h0M1784 352h0M1578.9 329.5h0M1671.1 408.4h0M1302.5 100.5h0M1332.8 138.9h0M1849.4 355.3h0M1550.1 290.3h0M1571.4 393.4h0M1490.5 381.1h0M1738.8 409.8h0M1415.3 182.4h0M1626.2 374h0M1579.1 340.6h0M1550.1 361.7h0M1453.9 302.6h0M1405.4 204.4h0M1357.9 190.1h0M1827.3 312.2h0M1327.3 207.2h0M1415.6 333.7h0M1340.2 272.1h0M1287.5 198h0M1786.6 415.5h0M1543.5 323.5h0M1479.6 350.1h0M1474.1 223.5h0M1612.6 382.3h0M1557.1 297.4h0M1375.2 167.2h0M1348.2 211.3h0M1451.9 295.9h0M1402.8 305.6h0M1714.9 419.6h0M1345.6 210.1h0M1289.2 150.1h0M1454.3 319.3h0M1859 420.4h0M1290.9 167.2h0M1744.1 376.7h0M1945.9 447.4h0M1302.2 172.3h0M1345.4 173.6h0M1778.1 339.2h0M1694.7 405.9h0M1390.4 170.1h0M1561.7 204.9h0M1303.3 99.9h0M1301.9 128h0M1712.9 436.1h0M1288.2 174.9h0M1793.6 350.9h0M1490.2 251.9h0M1319.2 213.9h0M1431.4 178.2h0M1444.3 305.5h0M1834.3 395.8h0M1735 340.1h0M1314.4 260.1h0M1808.7 261.9h0M1516 265.2h0M1442.6 310.2h0M1326.4 171.2h0M1593.5 220h0M1327 124.4h0M1288.5 234.7h0M1381.9 232.7h0M1453.2 291.8h0M1372 254.5h0M1322.1 182.8h0M1716.8 341.3h0M1649.4 313h0M1311.7 276.6h0M1505 358.2h0M1583.5 305.2h0M1792.2 472.4h0M1573.4 209.3h0M1871.2 445.9h0M1848.8 407.9h0M1633.2 427.4h0M1826.2 464.5h0M1321.5 302.1h0M1409.2 261.4h0M1302.7 187.3h0M1336.1 150.7h0M1689.6 411.8h0M1358.6 137.4h0M1580 328.2h0M1601.4 451.4h0M1535.7 304.7h0M1929.2 360h0M1847.6 296.3h0M1457.9 298.3h0M1338.2 163.3h0M1480.9 243h0M1399.7 178h0M1570 447.4h0M1373.7 248.9h0M1539.1 237.2h0M1479.3 306.3h0M1531.9 345.5h0M1594.6 312h0M1949.7 347.2h0M1377.7 127.8h0M1312.5 164.9h0M1473 270.4h0M1756.4 279.8h0M1805.9 306h0M1341 132.4h0M1860.1 494.6h0M1882.6 305.9h0M1373.8 247.9h0M1818.6 402.7h0M1833 325.1h0M1353.3 158.1h0M1287.4 126.2h0M1635.8 359h0M1754.1 430.9h0M1441.9 291.2h0M1862.5 404.2h0M1342.5 240.5h0M1527.1 310.5h0M1314.4 227.5h0M1954.1 378.6h0M1477 246.3h0M1955.2 398h0M1536.4 285.7h0M1335.3 173.4h0M1361.4 214.9h0M1542.1 364.2h0M1347.4 188.5h0M1313.2 151.2h0M1433.3 221.2h0M1413 159.5h0M1652.1 328.9h0M1739.5 496.3h0M1696.9 307.6h0M1950.3 410h0M1961.6 296.7h0M1335.1 237h0M1925.5 399.6h0M1311 233.4h0M1911.1 421.7h0M1533.1 244.9h0M1781.4 361.2h0M1936.8 402.9h0M1530.8 345.7h0M1576 471.7h0M1285.3 251.4h0M1467.9 217.1h0M1327.6 252h0M1659.8 415.6h0M1397.8 275.9h0M1739.7 412.1h0M1396 174h0M1876.9 455.8h0M1363.7 199.9h0M1707.4 410.6h0M1802.2 292.5h0M1401.2 314.5h0M1948 403.8h0M1349.5 239.4h0M1850.4 425.1h0M1669.1 358.9h0M1353.8 88.5h0M1561.2 311.7h0M1856.1 497.7h0M1817 422.7h0M1297.9 263.3h0M1310.1 109.4h0M1399.7 266.2h0M1935.5 423h0M1401.9 269.9h0M1692.4 313.4h0M1810.2 306.3h0M1539 386.7h0M1580.9 304.6h0M1352.6 86.3h0M1348.8 240.9h0M1769.1 382.4h0M1855.4 442.4h0M1467.7 252.5h0M1359.2 248.6h0M1420.3 228.1h0M1449.1 219.6h0M1507.3 254.3h0M1379.6 155.5h0M1377.8 192.1h0M1800.7 309.8h0M1576.8 340.3h0M1612.4 250.1h0M1824.6 347.5h0M1421.5 180.9h0M1653.3 426.2h0M1586.8 403.7h0M1710.7 460h0M1333.5 209.5h0M1844.6 481.8h0M1497.4 332.9h0M1691.4 264h0M1468 318.2h0M1850.9 335.1h0M1474 358.1h0M1309.3 125.5h0M1368.4 201.6h0M1667.7 309.4h0M1775.3 410.7h0M1482.1 279.9h0M1352.1 228.1h0M1544.2 294.2h0M1707.9 409.8h0M1602.9 396.1h0M1843.5 504.4h0M1545.7 408.8h0M1382.1 330.2h0M1797.3 283.9h0M1331.4 280.2h0M1313.7 340.4h0M1390.7 219.5h0M1838.2 381.9h0M1290.8 151.3h0M1687.3 337.5h0M1435.7 351.3h0M1360.8 200.3h0M1415.6 258.5h0M1327.5 152.6h0M1406.4 256h0M1321.2 152.1h0M1763.3 398.3h0M1361.1 272.8h0M1735.6 385.1h0M1823.1 365.8h0M1462.1 409.1h0M1908.4 323.2h0M1352.6 151.9h0M1840.9 369.1h0M1576.6 306.8h0M1670 319.7h0M1606.6 382.3h0M1494.4 265.3h0M1834.1 413.8h0M1689.2 355h0M1373.7 251.9h0M1674.3 322h0M1561.9 225.8h0M1763.5 364.9h0M1745.8 346.3h0M1541.4 399.2h0M1625 326.4h0M1395.6 204.1h0M1461 277.4h0M1459.9 267.4h0M1858.1 371.6h0M1543.2 339.4h0M1523.7 274.8h0M1528 302.4h0M1495.8 346.8h0M1324.5 210.8h0M1504.7 342.9h0M1358.8 161.8h0M1425.8 267.9h0M1905.9 359.9h0M1523.6 271.4h0M1616.5 474h0M1288.3 142.3h0M1878.4 393.3h0M1547.3 272h0M1458.9 303h0M1659.1 332.2h0M1620 384h0M1826.6 408.8h0M1595.2 379.5h0M1709.7 299.2h0M1760.6 334.7h0M1319 180.8h0M1434.7 279.2h0M1334.7 169.6h0M1555.8 335.7h0M1309.1 182.6h0M1840.6 358.6h0M1825.2 378.1h0M1492.9 276.7h0M1756.4 419.7h0M1291.6 105.1h0M1863.7 347.7h0M1471.4 283.6h0M1710.4 382.3h0M1535.8 371.4h0M1403.4 232.4h0M1339.5 249.9h0M1383.4 287.3h0M1642.8 408h0M1855.4 406.9h0M1593.5 480.4h0M1717.8 341.2h0M1328.8 189.8h0M1843.9 397.2h0M1454.1 335.4h0M1677.4 392h0M1538.4 352.2h0M1726.2 358h0M1638.4 378.6h0M1289.9 254.9h0M1555.1 258.5h0M1947.9 451.5h0M1512.5 300.4h0M1533.1 367.1h0M1863.4 292.8h0M1855.5 450.6h0M1325.3 230.2h0M1650.3 398.4h0M1743.6 435.1h0M1303.7 132.9h0M1760 318.8h0M1581.9 371.8h0M1350.4 192.5h0M1866.4 344.7h0M1570.9 323.4h0M1403.3 179.1h0M1409.7 272.5h0M1883.6 294.8h0M1757.2 426.4h0M1406.3 191.4h0M1823 281.1h0M1685.8 357.2h0M1811.3 298.2h0M1936.9 363.4h0M1401.7 208.9h0M1877 322.3h0M1515 328.9h0M1878.2 444.5h0M1862.5 466h0M1393.9 240.3h0M1678.8 346.1h0M1497.9 321.9h0M1317.4 286.3h0M1556.7 352.1h0M1341.6 278.4h0M1483.2 390.8h0M1291.6 139.5h0M1496.9 341.5h0M1658.8 445.6h0M1426.8 230.4h0M1562.9 321.2h0M1310.2 222.5h0M1701.4 377.2h0M1576.6 419.5h0M1403.4 284.1h0M1650.3 399.6h0M1628.6 335.4h0M1325.6 258.3h0M1607.5 279.9h0M1714 410.5h0M1766.7 355.3h0M1846.3 414.1h0M1673.8 255.6h0M1285 103.3h0M1553.6 239.3h0M1341.6 236.5h0M1930 360.1h0M1868.9 362.6h0M1957.2 435.5h0M1285 45.3h0M1406.4 263.9h0M1874.3 466.9h0M1437.6 296.3h0M1792.9 352.5h0M1320.4 91.8h0M1694.5 395.1h0M1721.6 295.4h0M1372.3 188h0M1377.3 214.4h0M1518.9 393h0M1446.6 156.3h0M1519.5 294.7h0M1694.3 394.3h0M1332.6 258.7h0M1329 404.1h0M1558.1 304.2h0M1793.8 410.7h0M1944.5 351h0M1726.8 307.6h0M1332.2 228.6h0M1391.4 207.2h0M1632.6 391.5h0M1376.5 164.9h0M1351.1 199h0M1696.8 355.6h0M1328.2 170.8h0M1570.7 383.2h0M1806.4 403.4h0M1913.2 411.3h0M1531.8 374.7h0M1345.2 172.3h0M1393 194.4h0M1394.8 212.4h0M1866.2 398h0M1899.3 379h0M1620.4 419.9h0M1457.8 343.4h0M1754.7 371.9h0M1571.8 379.1h0M1535.4 309.6h0M1683.1 304.9h0M1713.5 252.8h0M1799.5 403.7h0M1651.9 448.9h0M1409.4 308.5h0M1907.2 353h0M1346.3 281.3h0M1956.2 415.6h0M1446.5 245.6h0M1750.7 383.6h0M1907.9 358.8h0M1827.9 411.5h0M1535.6 370.1h0M1356.9 283.8h0M1935 459.2h0M1435.9 179.6h0M1887.2 267.3h0M1319.7 190.9h0M1727.6 338.1h0M1796 364.1h0M1396.7 153.3h0M1957.1 382.7h0M1882 382.7h0M1370.7 264.1h0M1290.5 186.7h0M1702 319.6h0M1329.3 222h0M1293.1 207h0M1447.1 361.8h0M1438.9 291.4h0M1383.6 214.1h0M1508.2 204.9h0M1345.1 193.3h0M1829.1 349h0M1332.6 237h0M1358.6 225.7h0M1382.3 183.8h0M1640.3 320.3h0M1540.5 333.1h0M1340.9 208.3h0M1910.4 383h0M1804.5 459.6h0M1909.6 342.3h0M1818 340.4h0M1460.4 312h0M1310.6 253.7h0M1612.1 341.3h0M1920.8 413.3h0M1887.3 460h0M1448.6 273.3h0M1539.9 360.5h0M1488.1 316.5h0M1398.2 238.4h0M1885.3 402.6h0M1480.3 284.8h0M1367.1 198.7h0M1339.4 214.9h0M1730.7 351h0M1880.7 408h0M1805.4 426.8h0M1425.8 203.6h0M1538.9 306.5h0M1911.2 407.6h0M1428.4 212h0M1652.6 303.9h0M1549.2 255.4h0M1377.5 169.3h0M1787 409h0M1808.7 411.5h0M1630.6 410.4h0M1340.5 187.4h0M1331.1 183.5h0M1377.2 214.2h0M1432.1 373.4h0M1400.2 308.1h0M1441.4 232.4h0M1668.1 360.6h0M1878.6 361.3h0M1429.3 242h0M1779.2 364.1h0M1706.3 250.6h0M1439.5 286.1h0M1716.2 378.6h0M1523.6 235.7h0M1713.1 413.3h0M1747.1 448.7h0M1881 391.1h0M1534.4 323.9h0M1462.3 278.1h0M1905.6 335.1h0M1725 389.3h0M1469.4 289.5h0M1493 252.3h0M1770.8 303.3h0M1547.7 269.9h0M1446.8 288.6h0M1537.5 340.4h0M1307 222.5h0M1901.7 458.4h0M1319.9 77.8h0M1519.3 353.3h0M1486.8 200.9h0M1739.6 385.1h0M1704.7 374.5h0M1606 368.4h0M1941.2 432.6h0M1487.3 315h0M1358.4 201.9h0M1547 363.1h0M1338.7 157.5h0M1695.1 397.7h0M1331.6 168.9h0M1315.8 201.1h0M1594.1 380.1h0M1340.1 188.3h0M1805.5 354.3h0M1921.1 465.7h0M1456.1 347.9h0M1897.1 371.9h0M1326.5 323h0M1511.6 259.3h0M1646 398.2h0M1639.3 279.5h0M1310.8 189h0M1864.2 340.1h0M1402.7 260.2h0M1315.7 283h0M1705.6 437.6h0M1608.6 304.2h0M1563.3 308.3h0M1663.2 340.2h0M1913.8 375.4h0M1726.4 307.7h0M1587.7 334.8h0M1358.3 124.1h0M1817.9 363.8h0M1333.9 218.1h0M1653.7 354.7h0M1465.1 211h0M1676.5 409.8h0M1445 287h0M1691.3 321.6h0M1342.4 255.6h0M1856.8 318.8h0M1858.4 395.8h0M1867 388.8h0M1485.5 233.1h0M1708 385.9h0M1286 170.5h0M1622.8 428.9h0M1812.1 410.7h0M1434.6 242.6h0M1510.9 316.8h0M1510.3 350.8h0M1590 329.6h0M1860.5 340.3h0M1785.8 373.8h0M1287.7 176.1h0M1475.9 239.1h0M1383.2 116.8h0M1433.8 234.7h0M1285 141.8h0M1644.1 369.9h0M1935.1 360.7h0M1371.2 150.5h0M1562.9 265.7h0M1311.8 247.6h0M1287.7 198.8h0M1900.9 434.5h0M1596.3 288.9h0M1667.3 331.4h0M1772.4 369.5h0M1491.3 175.9h0M1341.2 226.6h0M1551.9 376.7h0M1880.6 425.1h0M1652.9 302.2h0M1427.2 273.2h0M1582.5 287h0M1477.2 337.3h0M1864.1 435.7h0M1522.1 299.1h0M1301.9 261.9h0M1294.2 234.4h0M1815.8 285.4h0M1554.2 263.5h0M1637 334.6h0M1792.4 466.1h0M1580.8 383.9h0M1300.7 222.3h0M1554.7 461.1h0M1443 293h0M1419.6 267.8h0M1748.2 326.3h0M1581.9 417.8h0M1336.2 194.1h0M1693.9 246.9h0M1781.6 400.7h0M1671.1 441.3h0M1958.3 382.4h0M1357.5 176.1h0M1894.5 478.9h0M1371.7 229.6h0M1847.5 324.9h0M1715.1 443.1h0M1860.6 387.5h0M1655.5 340.2h0M1328.6 206.3h0M1375.2 182h0M1647.5 344.5h0M1794.9 372.8h0M1350.3 257.7h0M1702.6 359.8h0M1855.1 335.1h0M1333.8 132.3h0M1614.1 421.6h0M1943.5 370.9h0M1928.4 471h0M1399.6 192.8h0M1806.6 451h0M1328.9 172h0M1528.7 352.6h0M1620.7 440.3h0M1793 366.9h0M1475.4 169h0M1415 337.3h0M1920.5 359.3h0M1401.8 286.4h0M1801.1 362.9h0M1775.2 483.5h0M1946.7 470.5h0M1814.3 426.9h0M1868.6 338h0M1642.8 236.8h0M1735 420.9h0M1346.7 161.6h0M1834 406h0M1495.5 307.8h0M1903 343.1h0M1366.2 218.4h0M1402.1 282.7h0M1945.9 339.6h0M1335.9 136.5h0M1679.6 343.5h0M1717.1 407.3h0M1808.8 364h0M1705.1 389.5h0M1331.3 186.3h0M1425.4 282.3h0M1385.4 281.1h0M1663 237.6h0M1585.4 326.5h0M1732.8 447.6h0M1477.5 298.2h0M1396.9 338.3h0M1860.7 384.7h0M1308.9 102.3h0M1656.6 370.4h0M1340.6 268h0M1923.1 423h0M1675.5 356.5h0M1787.1 332.4h0M1341.9 179.6h0M1906.5 371.5h0M1596.4 481h0M1556.3 251h0M1333.5 163.6h0M1646 356.7h0M1285.3 225.9h0M1381 238.5h0M1389.9 280.4h0M1591.5 327.6h0M1850.3 350.1h0M1633.3 376.7h0M1742.4 402.8h0M1664.5 442.7h0M1362.3 313.9h0M1314 203.6h0M1322.1 175h0M1404.8 228.5h0M1352.1 131.2h0M1463.2 276.4h0M1715.3 411.5h0M1294.5 134.1h0M1572.6 328.6h0M1384.9 309.4h0M1923.9 436.4h0M1392.1 240.5h0M1908.6 268.4h0M1925.1 424.9h0M1910.9 324.5h0M1313.5 119.1h0M1837.9 449.3h0M1812.9 406.5h0M1536.4 279.4h0M1938.2 372.4h0M1748.7 447.2h0M1506.1 328.2h0M1538.1 250.3h0M1403.2 203.8h0M1715.7 325.4h0M1710.8 417.8h0M1929.2 323.9h0M1711 426.3h0M1364.4 214.1h0M1917.3 326.8h0M1384.4 261.1h0M1699.4 396.5h0M1486.5 209.5h0M1462.4 223.3h0M1409.7 213.5h0M1749.8 366.7h0M1569.5 352h0M1326.2 200.9h0M1286.4 195.7h0M1828.3 512.2h0M1671.2 433.8h0M1812 400.3h0M1660 354.5h0M1607.1 330h0M1497.9 350.7h0M1883.4 363.9h0M1300.2 215h0M1584.8 291.5h0M1828 371.4h0M1331.2 195.4h0M1737.5 415.7h0M1312.4 273h0M1542.1 330.9h0M1912.6 423h0M1899.7 424.4h0M1762.9 402.9h0M1729.9 475.1h0M1366.8 153.2h0M1915.3 378.7h0M1889.6 451.1h0M1403.5 312.6h0M1951.7 388h0M1636 388h0M1893.2 368.6h0M1285.9 260.9h0M1393.6 299.7h0M1440.2 286.6h0M1658.6 400.3h0M1377.3 294.7h0M1597.8 313.6h0M1349.7 191.2h0M1707 500.7h0M1884.4 378h0M1622.9 446.6h0M1285.7 257.1h0M1584.9 327.1h0M1314.3 135.5h0M1956.9 447.9h0M1314 251.5h0M1473.8 297.9h0M1349.1 133.2h0M1463 333.5h0M1842.7 377.8h0M1903.7 379.4h0M1796.5 439.5h0M1593.9 364.6h0M1938.7 469.5h0M1864.5 422.4h0M1952.5 430.8h0M1687.8 381.4h0M1637.4 375.5h0M1474.3 245.5h0M1471.1 258.3h0M1714.2 444.4h0M1484.3 329.5h0M1679.3 257.5h0M1639.6 350.9h0M1669.2 379.7h0M1501.1 256.1h0M1844.5 410.4h0M1487 299.6h0M1905.2 510h0M1883.4 371.4h0M1639.2 502.4h0M1815.1 384.4h0M1289.3 134.7h0M1383.2 225.4h0M1483.5 252.8h0M1451.6 328.7h0M1388.7 187.8h0M1536.7 195.6h0M1440 292.1h0M1372.1 285.1h0M1396.2 153.5h0M1425.1 321.1h0M1347.7 163.3h0M1296.6 214.9h0M1636.6 344.4h0M1948.7 452.1h0M1493.7 305.2h0M1340.9 156h0M1914.9 451h0M1304.4 155.4h0M1916.3 448.5h0M1625.5 355.3h0M1635.9 241.8h0M1923.4 387.4h0M1404.5 285.6h0M1720.9 389.4h0M1427.6 272.1h0M1610.6 477.8h0M1530.2 294.7h0M1521.7 271.2h0M1588.6 403.3h0M1596.2 392.5h0M1865.3 342.8h0M1529.6 287.1h0M1646.8 371.3h0M1351.1 192.7h0M1310.3 182.7h0M1360.6 185h0M1385.1 294.8h0M1461.2 264.5h0M1429.6 289.4h0M1883.5 393.8h0M1852.7 445.3h0M1648.9 278.8h0M1388.5 296.4h0M1778.2 409.2h0M1472.5 311.6h0M1391.8 264.7h0M1855.8 386.8h0M1296.2 243.3h0M1957.2 339.6h0M1415.2 132.2h0M1846.1 422.8h0M1645.7 312.5h0M1503.8 267.2h0M1348.6 168.2h0M1349.9 189.4h0M1419.8 272.1h0M1340.1 213.7h0M1588.2 337.8h0M1287.2 94.9h0M1517.2 221.5h0M1843 391.5h0M1555.2 312.7h0M1771 314.3h0M1593.9 323.5h0M1460.3 309.9h0M1301.7 183.3h0M1525.6 319.6h0M1766 362.5h0M1853.7 408.2h0M1595.5 410.6h0M1583.2 443.4h0M1444.6 227h0M1325 260.3h0M1299.8 177.6h0M1489.2 337.3h0M1768.9 483.3h0M1810.5 411.5h0M1422.5 153h0M1421.7 297.4h0M1420.7 184.5h0M1634.1 247.3h0M1510.1 334.5h0M1445.6 268.7h0M1627.8 393.7h0M1828.9 427h0M1819.3 480.7h0M1345.2 179.5h0M1552.5 319.9h0M1399.3 276.8h0M1358.3 259.3h0M1418.4 305.1h0M1299.6 105.2h0M1544.8 385.5h0M1590.5 343.4h0M1932.9 430.6h0M1891.6 267.5h0M1711.7 360h0M1368.9 236.9h0M1673.9 435h0M1564.8 243.4h0M1737.7 323.6h0M1905.2 365.1h0M1774.6 350.6h0M1911.8 321.6h0M1406.8 223h0M1463.1 385h0M1887.8 414.7h0M1866.9 337.2h0M1347.5 216h0M1362.8 239.7h0M1621.1 335.7h0M1363.7 249.1h0M1349.7 138.2h0M1332 158.4h0M1958.4 404.7h0M1625.4 361.8h0M1687 490.4h0M1538.9 310.5h0M1751 422.5h0M1398 284.5h0M1311.3 123.7h0M1407.2 261.7h0M1438 266.9h0M1612 340h0M1449.5 335.4h0M1624.5 343.8h0M1497.6 360.2h0M1351.6 179.8h0M1787.9 360.8h0M1817.5 349.1h0M1390.4 160.2h0M1936.4 372.9h0M1467.4 250.7h0M1285 142.4h0M1847.5 388h0M1414 289.5h0M1431.5 256.6h0M1784.5 359.4h0M1344.7 250.8h0M1490.3 332.9h0M1340.3 161.2h0M1326.2 109.9h0M1315.4 123.2h0M1456.1 362.1h0M1442.4 331.5h0M1579.9 300.6h0M1654.8 413.7h0M1399.2 263.7h0M1500 383.6h0M1887.2 329.1h0M1369.5 245.7h0M1360.1 273.2h0M1422.8 253.7h0M1954.9 408.5h0M1426 340.9h0M1354.6 142.4h0M1663.1 415.7h0M1768.1 371.1h0M1894 395.1h0M1721.5 362.2h0M1303.8 166.2h0M1801 447.6h0M1537.1 339.5h0M1429.5 324.4h0M1640.4 358.4h0M1641.6 297.2h0M1641.7 330.5h0M1366.4 271.6h0M1522.7 388.4h0M1853.7 308h0M1410.5 151.7h0M1892.3 418.4h0M1357.5 108h0M1535.8 370.1h0M1869.4 387.9h0M1934.9 385h0M1879.8 468.3h0M1823.3 304.7h0M1438.4 178h0M1486.2 424.2h0M1683.1 351.2h0M1709.7 385.6h0M1833.4 312.1h0M1521.4 308.6h0M1375.7 247.7h0M1348.1 167.6h0M1879.7 372.6h0M1550.6 359.8h0M1409.9 120.9h0M1328.4 286.6h0M1785.2 338.7h0M1889.1 395.5h0M1388.3 315.9h0M1819.4 262.9h0M1764.4 359h0M1411.8 259.3h0M1294.7 235.6h0M1833.8 347.3h0M1727.2 314.3h0M1792.7 430.2h0M1804.8 321.4h0M1661.1 382.2h0M1893.9 327.1h0M1926.5 423.8h0M1431.5 296.9h0M1557.3 294.8h0M1484.4 320.7h0M1375.7 293.4h0M1601.1 285.1h0M1528.3 245.6h0M1698.3 333.6h0M1945.7 295.4h0M1564.3 388.6h0M1333.2 189.4h0M1704.2 337.6h0M1893.1 399.8h0M1875.2 279h0M1653.2 374.2h0M1380.8 168.2h0M1384.2 243h0M1342.7 153.9h0M1961.9 425.1h0M1499.3 307h0M1534.6 307.1h0M1789.6 329.6h0M1336.9 86.8h0M1857.8 386.4h0M1544.8 337.6h0M1410.1 227h0M1341.9 150.7h0M1904.9 397.4h0M1306.1 216.7h0M1867.9 322.7h0M1382.1 336h0M1557 322.9h0M1739.1 403.4h0M1305.2 248.1h0M1327 240.2h0M1571.7 326.2h0M1754 386h0M1564.7 379h0M1290.8 81h0M1806.6 302.5h0M1737.5 355.9h0M1729.4 469.9h0M1762.8 411.1h0M1355.9 180.6h0M1325.3 137.5h0M1584.7 349h0M1797 402.2h0M1674.5 405.3h0M1443.5 308.1h0M1453.8 309.9h0M1501.4 265.2h0M1297.3 247.6h0M1419.3 214.8h0M1372.1 306.6h0M1550.9 365.3h0M1731.8 416.1h0M1708.4 348.3h0M1290.9 69.4h0M1636.7 315.9h0M1297.8 149.6h0M1402.9 314.6h0M1620.4 372.4h0M1296.9 80.9h0M1907.6 474.7h0M1537.8 344.6h0M1932.7 336.9h0M1317.6 195.2h0M1820.5 395.9h0M1890 381.8h0M1544.5 410.7h0M1448.1 288.4h0M1315.9 169.5h0M1666 315.3h0M1836.3 363.1h0M1456 175.3h0M1505.1 307.8h0M1744.2 451.5h0M1435.6 293.2h0M1668.7 336.9h0M1530.9 223.1h0M1413.2 216.6h0M1366.6 248.9h0M1412 194.8h0M1463 161.3h0M1704.8 422.8h0M1351.6 76.6h0M1622 385.4h0M1534.3 367.7h0M1758.2 306.1h0M1381.6 237.7h0M1585.1 407.7h0M1704.8 349.4h0M1832.1 340.3h0M1579.8 352.4h0M1322.9 81.1h0M1360.3 289.2h0M1604.4 482.4h0M1453.9 350.2h0M1830.7 379.4h0M1954.6 463.8h0M1518 265.6h0M1634 306h0M1496.3 307.8h0M1671.7 387.9h0M1598.8 414.8h0M1391 211.2h0M1694.3 395.2h0M1292.7 319.9h0M1543.2 330.5h0M1478.5 341.7h0M1458.5 313.1h0M1363.2 242.6h0M1811 435.3h0M1567.3 207h0M1758.7 413.2h0M1710.2 296.1h0M1845.1 408.7h0M1803.8 349.8h0M1458.4 247.5h0M1594 344h0M1760.8 461.9h0M1841.1 439.3h0M1300.4 258.9h0M1298 218.2h0M1490.8 243.3h0M1742 417.9h0M1501.5 261.3h0M1644.5 337.1h0M1894.9 444.3h0M1450.4 273.2h0M1343 258.4h0M1526.4 311h0M1496.6 329.9h0M1475.6 237.2h0M1307.3 126.5h0M1845 481.1h0M1395 208.1h0M1878.1 380h0M1462.2 409.2h0M1807.7 407h0M1585 258.5h0M1535.9 250.7h0M1565.5 282.4h0M1435.2 198.8h0M1718.3 461.3h0M1451.6 259.9h0M1579.5 211.6h0M1735.1 458.2h0M1688.1 376.5h0M1516.6 276.7h0M1866.6 390.1h0M1955.6 423.9h0M1863.1 299.1h0M1286.1 152.8h0M1375.1 237.3h0M1616.5 319.3h0M1856 459.3h0M1395.8 243.2h0M1289 285.4h0M1507 303.9h0M1360.4 218.4h0M1583.7 412.5h0M1816.9 345.6h0M1501.2 359h0M1353.7 192.2h0M1721.7 394.3h0M1866 376.7h0M1587.8 253.2h0M1539.9 278.1h0M1754.3 452.2h0M1344.4 124.8h0M1962 378.8h0M1663.1 371.7h0M1557.9 314.2h0M1771.9 432.9h0M1307.6 108.8h0M1778.1 259.3h0M1376.6 276.8h0M1579.1 264.9h0M1325 234.5h0M1564.7 327.8h0M1364.7 170.5h0M1705.5 250.4h0M1486.8 291.9h0M1489.6 256.3h0M1563.7 313.9h0M1728.5 330.5h0M1905.2 389.9h0M1616.6 400.7h0M1830.1 395.2h0M1286.3 222.8h0M1522.1 315.1h0M1672.8 377.7h0M1344.2 193.1h0M1625 381.4h0M1502 383.3h0M1556.4 282.9h0M1379.8 242.4h0M1516.5 349.4h0M1285 166.5h0M1645.2 256.6h0M1359.5 198.7h0M1675.4 384.4h0M1722.7 357h0M1388.9 275.8h0M1424.8 282.3h0M1306.8 209.7h0M1301 80.7h0M1956.6 340.1h0M1396.4 172.6h0M1630.3 328.8h0M1686.3 401.6h0M1684.3 271.5h0M1399.5 124.3h0M1285.2 75.8h0M1796.9 392.7h0M1449.4 300.3h0M1797.7 414.2h0M1507.8 242.8h0M1340.5 87.4h0M1558.2 391.4h0M1650.7 405h0M1739.7 322.8h0M1301.6 135h0M1498.9 181.5h0M1613.7 415.4h0M1490.7 304h0M1414.3 219.1h0M1394.9 171.6h0M1915.2 370.5h0M1842.1 365.4h0M1478 316.3h0M1832.8 388.5h0M1357.3 150.1h0M1660.9 284.4h0M1820.8 422.6h0M1332.5 190.1h0M1724.3 417.1h0M1409.8 162.4h0M1498.9 259.8h0M1810.4 374.2h0M1896.6 411.3h0M1922.7 376.7h0M1387.1 249.1h0M1322.9 164.5h0M1501.2 364.4h0M1668.2 413.8h0M1668.7 443.7h0M1937.8 420.5h0M1437.3 187.1h0M1289.5 261.9h0M1474.4 227.7h0M1342.6 197.4h0M1716 381h0M1650.8 234h0M1718.6 377.3h0M1322.7 207.9h0M1852.9 369.6h0M1512.4 213h0M1434.5 317.2h0M1878.1 431.1h0M1619.7 426.2h0M1346.3 98.6h0M1316.4 151.2h0M1625.6 351.8h0M1753.1 345.3h0M1863.5 527.2h0M1687.2 256.6h0M1334.1 247h0M1466.9 265.7h0M1685.6 332.2h0M1563.4 303.6h0M1842.3 347.4h0M1659.7 465.1h0M1380.3 188.1h0M1568.5 237.3h0M1529.3 402h0M1342.4 152.9h0M1675.3 306.2h0M1380.4 200.4h0M1448.9 340.3h0M1800.8 274.2h0M1368 291.3h0M1366.5 217.1h0M1923.5 430.3h0M1507.2 351.8h0M1387.1 215.9h0M1562.6 404.9h0M1311.9 213h0M1440.4 353.2h0M1671.2 450.5h0M1726.8 278.4h0M1325.9 119.8h0M1383.3 217h0M1879.2 409.7h0M1815.3 401.8h0M1449.7 192.3h0M1419 257.6h0M1657.2 327.8h0M1744 295.5h0M1335 255.5h0M1632.8 228.6h0M1751.4 411.9h0M1592.7 390.4h0M1548.1 277.3h0M1318.3 178.9h0M1824.6 366.1h0M1618.5 333.4h0M1638.5 456.9h0M1585.9 288.9h0M1388.8 286.8h0M1451.7 203.3h0M1857.6 329.7h0M1416.8 232.6h0M1937.7 396.7h0M1566.5 373h0M1290.5 208.3h0M1380.3 217.4h0M1323.4 266.1h0M1335.4 212.5h0M1922.3 398.8h0M1495 197h0M1953.7 420.1h0M1687 358.1h0M1824.4 399.2h0M1868 339.6h0M1293.6 221.1h0M1653.8 460.3h0M1307.7 106.9h0M1444.9 241.5h0M1910 495.9h0M1312.4 267.3h0M1319.8 173.4h0M1487.6 268.5h0M1791.4 311h0M1733 361.6h0M1696.8 444h0M1453.6 290.1h0M1307.4 164.1h0M1554.5 339.3h0M1362.8 228.4h0M1346 279h0M1936.2 405.7h0M1687.5 385.5h0M1582.6 400.7h0M1721.4 415.9h0M1344.1 311.4h0M1725.1 392.2h0M1287.1 176.8h0M1418.7 179.2h0M1689.7 298h0M1930.7 389.4h0M1286.8 217.5h0M1628.9 344.8h0M1289.6 177.2h0M1374.2 191h0M1785.3 286.2h0M1659.1 394.4h0M1368.7 241.9h0M1917.2 405.2h0M1377.1 283.4h0M1641 324.8h0M1509.1 262.2h0M1371.7 259.3h0M1310.4 180.1h0M1722 465.3h0M1287 128.9h0M1773 417.1h0M1565.3 80.4h0M1675.7 410h0M1379 245.1h0M1645.8 395.4h0M1906.8 438.4h0M1347.3 134.1h0M1350.2 136.9h0M1870.6 488.1h0M1292.1 271.4h0M1313.1 198.2h0M1299.1 267.7h0M1610.4 476.5h0M1304.4 166.6h0M1789.6 400h0M1465.3 282.6h0M1340.8 196.1h0M1763.8 299.7h0M1301.2 84.2h0M1795.7 346.5h0M1897.6 408.9h0M1313 324.3h0M1896.1 416.1h0M1467.1 262.1h0M1814.1 367.5h0M1809.9 409.3h0M1288.2 252.9h0M1840.6 394.7h0M1750.7 485h0M1390.1 444.1h0M1868.6 407h0M1797.8 482.6h0M1769.2 359.6h0M1439.9 286.7h0M1435.8 381.1h0M1908.7 406.3h0M1417.4 213.5h0M1633.1 360h0M1676.7 369.6h0M1693.7 375.9h0M1317.5 167.3h0M1848.2 334.3h0M1596.4 534.4h0M1325.9 122.2h0M1401.7 267.4h0M1801.9 372.3h0M1429.8 335h0M1519.8 349.8h0M1786.2 325.2h0M1347.4 123h0M1665.7 270.2h0M1705.4 362.1h0M1386.6 256.9h0M1907.6 390.6h0M1698.1 449.5h0M1588.4 214.9h0M1541.3 343.1h0M1367.1 187.2h0M1621.8 314.2h0M1886 267.2h0M1924 424.7h0M1351.6 182.9h0M1729.4 339.2h0M1392.6 230.9h0M1695.8 360.2h0M1321.1 213.2h0M1616.5 287.6h0M1782 398.9h0M1431 292.3h0M1462.8 239.9h0M1483.8 231.1h0M1951.7 353.2h0M1875 414.3h0M1754.9 431h0M1655.8 491.6h0M1836.5 359.5h0M1351.4 173.8h0M1339.2 120.1h0M1544.7 267.3h0M1953.4 406.2h0M1752 405.5h0M1460.4 272.2h0M1293.5 179.5h0M1284.3 238.4h0M1301.7 203.6h0M1447.4 170.1h0M1416.7 299.6h0M1484 303.8h0M1305.7 93.2h0M1576.7 417.9h0M1566.8 355.3h0M1341.6 256.6h0M1790.1 421.1h0M1643.3 368h0M1481 281.3h0M1884.5 426.1h0M1777.2 372.7h0M1368.1 189.1h0M1677.1 308.6h0M1301.3 234.1h0M1601.6 285.8h0M1908 407.1h0M1499.4 369.3h0M1833.3 403.2h0M1652.8 193.6h0M1393.1 283.4h0M1830.4 343.6h0M1497.3 337.4h0M1554.4 297.5h0M1790.5 353.5h0M1365.2 170.5h0M1384.3 292.1h0M1287.4 49.1h0M1356.7 270.4h0M1945.8 366.4h0M1453.2 314h0M1294.6 254.9h0M1653.6 469.4h0M1454.9 255.8h0M1953.4 342.7h0M1367.5 283.5h0M1678.9 398.9h0M1774 362.3h0M1934.7 377.5h0M1372.9 157.9h0M1659.6 424.5h0M1688.4 332.4h0M1745.2 378.3h0M1672.4 464.6h0M1873.5 417h0M1499.5 293.8h0M1325.5 179.9h0M1453.2 402.4h0M1872.4 358.7h0M1568.1 424.6h0M1324.2 296.8h0M1654.1 268.3h0M1462.3 377.5h0M1334.8 193.3h0M1873.2 303.7h0M1645 331.6h0M1548.4 316.7h0M1647.4 429.8h0M1748.9 373.1h0M1457.6 305.2h0M1286.2 259.8h0M1721.4 405.2h0M1879.7 373.5h0M1356.5 207.7h0M1493.2 338.4h0M1854.2 445.2h0M1949.5 450.9h0M1949.8 382.9h0M1926.4 419.3h0M1292.1 295h0M1420.6 179.4h0M1499.2 268.9h0M1419.4 216.8h0M1924.6 448.6h0M1395.4 268h0M1894.5 406h0M1854.5 477.7h0M1474.3 205.1h0M1777.8 380.2h0M1628 303.7h0M1833.9 411.2h0M1410.2 210.9h0M1687.1 413.2h0M1516.9 505h0M1404.1 257.8h0M1442.3 374.2h0M1419.4 190.3h0M1681.1 374.8h0M1379 226.1h0M1516.2 346.9h0M1704.1 394.4h0M1727.5 326.6h0M1612.4 261.9h0M1488.5 423.7h0M1364.2 94.7h0M1350.7 139.2h0M1399.6 172.3h0M1521.5 364.6h0M1823.8 297.2h0M1788.8 388.4h0M1395.9 206h0M1908.4 362.6h0M1787.4 412.2h0M1296 136.1h0M1735.3 352.6h0M1327.8 228.6h0M1538.7 301.4h0M1815.7 509h0M1359.6 166.8h0M1491.8 330.3h0M1504.1 421.7h0M1716.7 344.6h0M1493.5 274h0M1352.4 321h0M1882.1 479.5h0M1894 399h0M1946.9 427.9h0M1963.7 516.7h0M1682.9 333.2h0M1850.1 489.5h0M1865 428.9h0M1679 455.6h0M1587.7 288.4h0M1499.4 229.6h0M1298.4 236.9h0M1819.2 446.8h0M1595.8 306.6h0M1300.4 239.8h0M1670.6 264.2h0M1335.2 103.4h0M1955.1 374h0M1699.5 269.9h0M1710.9 384.7h0M1349.2 189.7h0M1756.5 422.8h0M1746.9 399.3h0M1359 188.6h0M1510.8 381.9h0M1851.2 320.9h0M1642.6 250.6h0M1440 266.1h0M1437.9 230.1h0M1677.7 398.3h0M1430.5 215.5h0M1290.1 215.9h0M1294.3 161.6h0M1458.3 288.8h0M1693.7 246.9h0M1416.5 237.2h0M1655.6 347.1h0M1429.1 272.7h0M1583.8 460.6h0M1461.6 302.7h0M1607 418.4h0M1409 184.5h0M1499 282.9h0M1722.6 379.6h0M1581.3 444.4h0M1517.1 243.6h0M1782.1 326.1h0M1550 313.5h0M1365.3 161.9h0M1578.3 312.9h0M1383.8 212h0M1499.9 258.4h0M1571.4 262.7h0M1775.7 347.3h0M1430.5 203.1h0M1841.1 376.3h0M1436 276.5h0M1548.1 311.2h0M1530.9 296.8h0M1450.5 275.9h0M1791.3 539.7h0M1682.5 316.7h0M1605.7 402.9h0M1421 209.4h0M1530.6 237h0M1808.4 388.8h0M1431.8 257.4h0M1598.2 399.6h0M1286.5 252.4h0M1402.1 233.7h0M1531.6 321.1h0M1743.7 504.8h0M1310.9 243h0M1794.7 346.9h0M1494.4 338.2h0M1763.3 322.8h0M1451.7 190.1h0M1480 317.8h0M1856.9 313.5h0M1647.5 423.7h0M1505.7 249.7h0M1588.4 334h0M1501.3 194.8h0M1332.9 271.3h0M1514.3 362.8h0M1680.6 294.1h0M1319.9 265.8h0M1856.4 364.1h0M1452.2 163.3h0M1845.8 439.5h0M1315.2 141.8h0M1883.1 383.1h0M1861.3 417.1h0M1497.6 262.5h0M1570.1 346.7h0M1811.7 510.8h0M1425 251.9h0M1704.2 283.5h0M1516.1 237.6h0M1383.9 254.6h0M1537.7 315.3h0M1312.8 235.5h0M1482.6 310.7h0M1489.5 347.2h0M1381.1 275.8h0M1912.9 334.8h0M1434 222.7h0M1463.1 228.3h0M1362.9 175.4h0M1579.3 427.2h0M1823.7 382.5h0M1327.8 270.7h0M1347.2 190.3h0M1540.8 234.8h0M1461.7 398.2h0M1443.5 271.4h0M1826.8 379.1h0M1549.4 387.8h0M1398 262.4h0M1549.8 271h0M1501 317.6h0M1398.9 285.1h0M1949.1 442.6h0M1444.3 225.2h0M1325.3 183.1h0M1468.1 334.5h0M1454.9 381.7h0M1690.6 306.3h0M1527.8 209.1h0M1284.5 166.9h0M1333.3 196.3h0M1486.5 272.7h0M1292.5 326.4h0M1938.7 485.8h0M1869.9 469h0M1646.1 247h0M1819.3 358.1h0M1548.8 330.8h0M1399.4 284.9h0M1390.8 186.6h0M1352.5 154.3h0M1773.5 318.3h0M1517.9 274.3h0M1801.6 426.4h0M1661.3 479.4h0M1643 297.2h0M1929.4 437.5h0M1356.4 259.1h0M1435.9 297.1h0M1519.7 395.4h0M1668.9 408.7h0M1960.9 453.9h0M1648.9 324.7h0M1401.8 243.4h0M1696.7 417.9h0M1536.6 322.7h0M1301.7 80.5h0M1480.5 327.2h0M1474.2 326.9h0M1705 369.8h0M1322.1 245.1h0M1603.2 261.6h0M1481.2 196.4h0M1523.6 283.3h0M1718.7 412h0M1315 87.4h0M1693.1 344.7h0M1851.4 429.3h0M1552.2 322.6h0M1764.9 391h0M1465.7 333.4h0M1472.8 299.4h0M1535.1 332.7h0M1341.3 186.5h0M1465 294.7h0M1540.3 309.7h0M1898.7 345.5h0M1469.6 219.2h0M1426.8 245.4h0M1292.9 222h0M1834.9 350.3h0M1908.7 393.8h0M1493.5 311.9h0M1361.5 211.6h0M1661.2 331.9h0M1924.1 380.3h0M1486.4 252.3h0M1544.3 308.4h0M1394.6 193.4h0M1507.9 382.5h0M1694.6 277.5h0M1919.9 355h0M1401.5 285.4h0M1400 254.3h0M1879.8 401.4h0M1652.6 292.6h0M1602.9 313.9h0M1342.8 210h0M1827.5 462.9h0M1372.3 236.9h0M1315 145.7h0M1312.5 166.5h0M1701.5 290.8h0M1316.8 212.1h0M1773.6 378.7h0M1485.5 360.2h0M1671.7 381.4h0M1615.4 329.6h0M1351.7 194.9h0M1595 427.9h0M1390.9 150.2h0M1319.6 175.5h0M1328.5 110.4h0M1349.9 127.2h0M1595.1 393.1h0M1401.1 227.6h0M1395.3 166.1h0M1584.3 282.8h0M1427.8 266.6h0M1425.6 249.4h0M1898.6 368.6h0M1326.3 102.3h0M1718.1 423.8h0M1336.5 143.1h0M1805.7 347.5h0M1297.4 217.4h0M1855.7 400.5h0M1559.7 258.8h0M1640.3 334.4h0M1776.9 387.8h0M1801 462.6h0M1784.4 385.9h0M1344.6 186.8h0M1634.9 267.4h0M1539 262.5h0M1678.1 299.9h0M1802.8 458.3h0M1413.1 206.8h0M1552.9 280.7h0M1496.1 249.3h0M1669.6 452.5h0M1712.7 399.5h0M1296.2 167.8h0M1879.9 351h0M1764.1 462.4h0M1875.7 318.2h0M1450.5 283.7h0M1355.8 189.3h0M1558.8 397h0M1909.6 414.9h0M1772.4 371.6h0M1523.4 389.3h0M1890.7 313.1h0M1317.4 145.8h0M1304.7 286.4h0M1343.2 131h0M1588 359.8h0M1827.9 338.5h0M1461.8 221.8h0M1318.8 202.1h0M1562.7 381.9h0M1384.6 102.3h0M1621.2 274.5h0M1316.6 229.5h0M1285.8 184.1h0M1925.9 425.2h0M1460.6 288.6h0M1428.4 168.7h0M1819.7 415.7h0M1934.7 433.8h0M1962.9 398h0M1880 441.6h0M1555.6 304.3h0M1594.7 288h0M1961.4 461.4h0M1837.6 363.3h0M1692.5 333.7h0M1706.5 337h0M1297.1 234.8h0M1413.3 294.3h0M1605.3 355.5h0M1482.7 383.1h0M1291.9 193.2h0M1443.8 290.5h0M1587.5 342h0M1514.2 349.4h0M1647 509.1h0M1395.8 227.1h0M1923 416.9h0M1331.7 211.8h0M1727.1 333h0M1421.5 279.4h0M1907.8 458.3h0M1462.2 262.5h0M1631.7 313.1h0M1837.9 418.7h0M1907.3 413.4h0M1657.3 375.6h0M1610.8 329.5h0M1645.5 399.1h0M1417 310.9h0M1597.5 270.4h0M1307.9 112.6h0M1817 435h0M1776.5 318.8h0M1746.4 423.6h0M1821.8 386.8h0M1475.5 263.4h0M1790.2 386.4h0M1416 337.1h0M1291.6 196.1h0M1302 162h0M1860.4 462.5h0M1368.1 107.5h0M1490.2 330.1h0M1876.8 330.2h0M1458.4 261.3h0M1630.3 399.1h0M1613 337.1h0M1778.7 407.8h0M1477.3 365.4h0M1534.5 241.9h0M1917.8 337h0M1734.1 391h0M1457.6 285.6h0M1891.6 388.4h0M1826.8 446.1h0M1623.5 307.1h0M1686 359.4h0M1332.8 153.1h0M1788.9 354.1h0M1785.2 468.8h0M1466.7 278.7h0M1615.3 335.5h0M1740.3 397h0M1855.2 338.2h0M1718.9 327.3h0M1819.8 384.3h0M1914.2 463.1h0M1408.2 314.6h0M1533.8 234.2h0M1355 198.4h0M1354.6 213.6h0M1297.1 149h0M1456.3 210.4h0M1313 170.7h0M1659 369.9h0M1484 377h0M1531.4 319.5h0M1530.9 305h0M1318 231.6h0M1315.7 230.1h0M1531.9 316.1h0M1719.9 410.9h0M1559.5 405.3h0M1363 244.4h0M1507.8 317.6h0M1357.9 136.9h0M1538.8 283.4h0M1754.9 409.1h0M1368.3 211.7h0M1422.7 363.4h0M1331.1 154.9h0M1934 456.3h0M1315.8 165.9h0M1457.4 261.3h0M1632.6 414.2h0M1775.4 454.7h0M1523.6 228.2h0M1397.6 140.3h0M1369.1 263.9h0M1518.3 305.2h0M1386.4 205.1h0M1849.8 492.7h0M1767.6 321.8h0M1487 279.7h0M1487 355.4h0M1461.6 393h0M1441.6 181h0M1528.8 299.9h0M1796.3 456.3h0M1885.7 419.3h0M1677.7 465.5h0M1309.8 202.9h0M1361.7 203.9h0M1715.6 487h0M1472.2 394.4h0M1811.3 427.2h0M1603.3 249.2h0M1301.3 192.7h0M1335.5 168.4h0M1677 413.5h0M1765.8 335h0M1637.7 243.8h0M1457.3 337.7h0M1422.1 267.6h0M1544.3 370.3h0M1353.5 258.4h0M1317.9 105h0M1286.8 241.6h0M1747.9 505.2h0M1482.3 236.2h0M1288.6 296.8h0M1297.4 247.4h0M1367.7 217.6h0M1701.5 381.6h0M1612.4 362h0M1689.6 370.4h0M1342.8 175.5h0M1626.6 288.6h0M1891.2 473.8h0M1915.8 388.1h0M1414.9 245.8h0M1745.8 336.7h0M1298.4 167.6h0M1874.1 373h0M1323.4 215.7h0M1905.5 381.4h0M1625.2 308.6h0M1495.5 300.6h0M1648.9 397h0M1481.2 321.7h0M1472.8 308.1h0M1737.9 344.4h0M1465.3 373.5h0M1876.3 320.2h0M1298 261.8h0M1448.5 337.8h0M1450.5 223.7h0M1323.2 165.5h0M1587.4 374.8h0M1461.5 207.9h0M1859.3 344.4h0M1803.6 425.9h0M1357.8 149.5h0M1882.3 384.8h0M1524.1 404.9h0M1678.2 364.7h0M1802.3 376h0M1724.2 377.2h0M1738.8 416.2h0M1603.6 219.8h0M1848.3 327.7h0M1872 476.7h0M1369.6 225.5h0M1324.6 173.9h0M1961 412h0M1837.4 264.4h0M1448.9 217h0M1464.2 216.4h0M1291.8 213.2h0M1425.9 241.7h0M1843 421.4h0M1552.5 326.8h0M1340.2 111.5h0M1442 287h0M1800.9 433.2h0M1952.8 406.3h0M1744.2 362.8h0M1741.5 425.5h0M1519.4 257.8h0M1612.1 195.5h0M1755.7 379.3h0M1927 427.1h0M1720.9 297.7h0M1637.2 332.5h0M1789.5 329.8h0M1678.9 399.7h0M1425.7 322h0M1859.2 327.6h0M1406.6 229.4h0M1747 410.6h0M1681.8 362.2h0M1344.5 212.4h0M1531.5 449.6h0M1702.4 416.1h0M1304.2 221h0M1882.5 394.5h0M1472.8 298.9h0M1357.5 233.4h0M1721.2 416h0M1845.9 417.2h0M1319.4 252.1h0M1652.1 372.5h0M1711.7 339.8h0M1841.2 406.8h0M1875.3 464.4h0M1870.3 493.3h0M1665.7 361.6h0M1685.3 358.9h0M1296.4 139.9h0M1367.5 220.2h0M1320.7 107.2h0M1338.4 249.8h0M1773.4 407.1h0M1287.4 302.9h0M1332.6 332.7h0M1948.5 374.1h0M1599.7 461.3h0M1669.1 333.8h0M1296.7 139.6h0M1501.4 275.6h0M1316.5 90.6h0M1388.6 318.1h0M1787.1 422.2h0M1593.1 349.5h0M1516.2 244.2h0M1723.3 307.1h0M1490.6 264.3h0M1787.4 408h0M1402.4 207.6h0M1346.4 123.3h0M1942 372.3h0M1289.3 213.1h0M1692.3 286.6h0M1465.2 269h0M1632.1 333.1h0M1804.2 441.6h0M1482.1 233.5h0M1830.8 415.1h0M1628.2 362.5h0M1772.3 420.8h0M1342.3 162.4h0M1352.9 181.5h0M1349 207h0M1348.2 156h0M1443 173.7h0M1837.6 411.3h0M1384 179.2h0M1876.3 445.3h0M1431.2 261.5h0M1714.9 369.4h0M1619.8 429.3h0M1787.6 333.6h0M1336.7 278.4h0M1711.3 372.6h0M1454 291.2h0M1816.4 445.9h0M1292.1 93h0M1697.2 342.1h0M1749.2 338.1h0M1337.9 95.4h0M1647.8 336.3h0M1757 356.3h0M1904.7 386.2h0M1309.9 254.5h0M1395.5 248h0M1789.5 358.1h0M1455.9 243.1h0M1829.1 433.2h0M1291.4 203.2h0M1602.7 392.9h0M1768.3 372.7h0M1300.1 177h0M1699.6 362h0M1383.2 78.4h0M1725.2 336.6h0M1339.5 273.6h0M1815.2 302h0M1721.6 423.7h0M1805.6 311.6h0M1602.7 352.6h0M1622.2 407.9h0M1753.3 365.9h0M1313.7 133.7h0M1514.5 331.5h0M1685.7 428.2h0M1373.6 274.4h0M1327 226.7h0M1723.6 321.2h0M1399.5 169.4h0M1413.2 307.9h0M1737.9 423.6h0M1425.4 196.2h0M1509.9 349h0M1957.8 427.5h0M1584 403.7h0M1355.8 301h0M1802.6 388.2h0M1952.4 345.1h0M1436.2 230.5h0M1617.8 283.5h0M1641.7 281.1h0M1312.7 139.6h0M1359.6 214.4h0M1332.7 133.1h0M1518.9 299.9h0M1650.8 396.4h0M1343.4 222.7h0M1402.7 299.4h0M1857.9 372.5h0M1468.8 250.4h0M1492.7 255.3h0M1901.4 393.2h0M1862.8 358.1h0M1287.9 227.9h0M1819.9 359.7h0M1597 416.6h0M1502.8 271.7h0M1564 342.6h0M1382.8 249.5h0M1714.1 375.6h0M1571.3 370.6h0M1365.6 180h0M1688.9 369.7h0M1396.7 231.4h0M1409.3 143.2h0M1705.6 485.9h0M1433.1 241.3h0M1460.7 247h0M1367.2 148.7h0M1315.5 246.8h0M1450.7 305.2h0M1689.2 296.2h0M1881.5 393.9h0M1866.9 421h0M1630.2 335.3h0M1907.2 511.3h0M1819.3 387.8h0M1716.1 365.4h0M1287.9 172.1h0M1434.7 224.1h0M1301.7 39h0M1757.6 355.8h0M1429.9 256.2h0M1435.3 254.1h0M1404.7 182.4h0M1427.9 273.3h0M1457.6 284.4h0M1628.5 327.6h0M1519.8 188.5h0M1335.3 160.4h0M1867.7 302.8h0M1371.6 242.4h0M1760.5 346.1h0M1346.4 200.3h0M1486.3 368.4h0M1730 381h0M1590.6 290.2h0M1335.9 195.8h0M1341.7 226.4h0M1416.5 269.4h0M1758.6 427.6h0M1522 298.2h0M1603.4 379.4h0M1542.1 305h0M1301.2 116.6h0M1750.8 421.2h0M1581.2 374.2h0M1522.9 243.2h0M1428.1 301.6h0M1666.9 288.2h0M1767.9 435.7h0M1954.7 395.4h0M1678.4 303.4h0M1404.7 275.8h0M1784.3 293.2h0M1298.3 133.5h0M1434.3 237.3h0M1295.9 188h0M1491.2 348.7h0M1569.3 279.5h0M1352.1 132.1h0M1913.9 383.1h0M1387.7 246.7h0M1696.8 335.8h0M1502 364.5h0M1347.6 248.9h0M1867.6 400.1h0M1514.4 372.8h0M1393.4 188.5h0M1773.1 408.3h0M1293.3 214.1h0M1288.9 110.5h0M1755.4 343.4h0M1892.4 315.8h0M1378.3 134h0M1549.1 381.8h0M1866.6 374.6h0M1400.5 304.7h0M1319.1 239.7h0M1391.9 238.7h0M1769.4 91.2h0M1688.2 404.2h0M1326 152.2h0M1315 154.6h0M1755.4 414.4h0M1720.6 366.5h0M1908.4 485.8h0M1301.2 204.6h0M1925.2 385.3h0M1328.7 88.2h0M1461.7 331h0M1602 426.8h0M1516.5 246.1h0M1824.1 469.2h0M1679.5 252.6h0M1908 343.5h0M1493.9 351.2h0M1433.6 276.1h0M1598.9 375h0M1717.4 492.6h0M1317 170.8h0M1836.9 406h0M1934.9 434.1h0M1327.9 136.9h0M1493.2 382.6h0M1418.4 164.7h0M1508.5 323.9h0M1424.6 198.4h0M1959.9 337h0M1950.5 390h0M1938.5 306.7h0M1327.5 236.1h0M1513.3 272.9h0M1564.5 370.1h0M1679 335.8h0M1457.8 335.4h0M1510.7 293.3h0M1717.1 368h0M1718.9 392.2h0M1453.8 244.7h0M1957.5 321.1h0M1305.6 140.4h0M1344.9 128.3h0M1472.2 245.6h0M1486.8 326.1h0M1752.6 414.9h0M1648.4 429.5h0M1809 355h0M1735.4 413h0M1420.4 239.1h0M1763.2 316.3h0M1619.9 424.9h0M1772.9 375.2h0M1452.9 245.7h0M1896.2 305.5h0M1489.6 342.6h0M1337.5 248.5h0M1377.5 301.2h0M1505.5 253.2h0M1309.3 163.9h0M1301.7 207.8h0M1357.2 263.1h0M1631.3 286.1h0M1312.4 245.7h0M1482.5 382.6h0M1823.6 425.8h0M1773.6 373.8h0M1669.9 332.7h0M1438.4 252.7h0M1312.6 160h0M1927.7 426.9h0M1328.7 229.4h0M1709.5 286.7h0M1522.3 392.8h0M1762.6 487.1h0M1374.6 118.7h0M1369.2 246.3h0M1538.3 324.2h0M1353.2 173.6h0M1957.1 463.1h0M1617.7 350.2h0M1897.8 401.2h0M1868.9 415.8h0M1764.3 461h0M1586.9 258.6h0M1360.8 206.2h0M1571.6 367.7h0M1541.8 260.2h0M1708.1 355.1h0M1329.4 181.9h0M1380.6 122.4h0M1680.4 436.6h0M1949.6 429h0M1581.4 353.3h0M1821.5 366.5h0M1697.1 423.7h0M1952 411.2h0M1876.5 349.9h0M1652.7 444.4h0M1789.6 383.8h0M1408.7 280.2h0M1895.3 417.7h0M1564.5 367.3h0M1445.6 302h0M1434.5 345.6h0M1536.7 359.9h0M1284.7 167.6h0M1906.6 407h0M1580.5 317.6h0M1582.8 370.5h0M1294.5 222.5h0M1733.6 343.5h0M1698.1 309.7h0M1507.1 299.8h0M1646.9 244.6h0M1957.3 435.9h0M1733.4 398.2h0M1935.4 466.3h0M1687.3 410.8h0M1500.8 263.1h0M1569.8 236.3h0M1502.6 279.1h0M1452.8 271.2h0M1455 256.7h0M1871 421.1h0M1326.3 271.6h0M1650 371.2h0M1330.3 258.2h0M1487 200.4h0M1319.4 156.5h0M1794.5 367.9h0M1301.9 199.5h0M1414.4 284.5h0M1505.2 161.2h0M1942.1 518.8h0M1946.9 302.9h0M1480.1 308.7h0M1377.9 145.5h0M1839.4 402.5h0M1773.5 380.2h0M1624.3 353.3h0M1470.3 332.5h0M1517 307h0M1484.9 307h0M1487.9 253.8h0M1383.6 248.8h0M1523.2 433.1h0M1338.6 204.4h0M1352.8 103.7h0M1510.9 346.1h0M1405.5 220.5h0M1856.2 297.4h0M1432.9 230.1h0M1386.4 251.1h0M1383.7 258.6h0M1809.8 318.1h0M1339.1 198.7h0M1380.9 270.1h0M1833.7 264.1h0M1829.3 375.7h0M1480.6 261.6h0M1285.9 140.3h0M1690.9 452.4h0M1316.4 169.1h0M1621.6 384.6h0M1673 257.4h0M1353.4 237.8h0M1289.7 129.6h0M1621.6 258.9h0M1538.9 313.8h0M1796.5 318.6h0M1597.3 299.2h0M1852.7 329.4h0M1394.5 164.2h0M1317.7 220.8h0M1436.1 272.4h0M1400.5 227.8h0M1384.9 160.8h0M1409.4 231h0M1457.1 323.5h0M1293.5 152.6h0M1807.7 494.8h0M1623.5 441.3h0M1438.6 264.6h0M1613.6 388.9h0M1925.9 371.3h0M1571.4 368.7h0M1359.4 257.7h0M1927.9 356.7h0M1301.4 145.3h0M1464.1 311.1h0M1490.2 175.5h0M1490.4 253.8h0M1397.9 158.2h0M1845.2 334h0M1838.8 392.8h0M1360.6 266.2h0M1688.3 334.7h0M1778 351.5h0M1567.7 283.5h0M1930.2 396.7h0M1288.3 143.9h0M1838.7 398.4h0M1725 360.4h0M1776.5 363.5h0M1721.4 438.6h0M1676.6 392.7h0M1578.8 422.6h0M1391.9 261.3h0M1652.1 280.4h0M1747.6 359.7h0M1357.3 256.8h0M1360 312.6h0M1486.2 267.1h0M1884.2 319.1h0M1614.9 401.5h0M1406.4 325.5h0M1756.4 450.9h0M1379 282.6h0M1691.7 332.8h0M1937.7 420.7h0M1353.2 177.5h0M1750.7 489.9h0M1628.5 426.1h0M1827.9 395.5h0M1720.8 323.6h0M1593.2 360.2h0M1450.6 151.8h0M1950.3 463.2h0M1607.5 402.8h0M1373.2 232.8h0M1617.6 364.4h0M1326 190.9h0M1616.8 374.2h0M1309.7 153.7h0M1590.3 409.3h0M1514.3 290.4h0M1388.9 276.9h0M1525.1 336.7h0M1465.5 251.1h0M1464.7 341.6h0M1337 193.1h0M1940.4 270.2h0M1409.4 161h0M1920.8 373.8h0M1442.5 282h0M1307.7 170.4h0M1673.3 353.1h0M1421.3 262.7h0M1800.4 334.3h0M1553.1 310h0M1502.7 286h0M1400.3 355.6h0M1548.8 325.6h0M1671.6 306.5h0M1487.5 181h0M1323 216.7h0M1527.8 356h0M1744.1 422h0M1349.1 231.3h0M1538.2 318.4h0M1624.3 321h0M1528.9 349.4h0M1771.3 326.3h0M1539.1 310.6h0M1302.6 157.6h0M1702.9 367.5h0M1565.6 288.3h0M1796.2 369.9h0M1715.2 395h0M1485.2 274.3h0M1845.9 384h0M1875.9 382.6h0M1912.2 402.6h0M1742.6 390.2h0M1527.6 217.5h0M1676.2 371h0M1771.2 406.9h0M1921.7 403.7h0M1349.2 225.3h0M1542.8 305.2h0M1769.8 401.9h0M1686.3 346.5h0M1463 247.8h0M1886.1 408.8h0M1321.3 256.6h0M1849 518.8h0M1352.4 292.8h0M1481 295.8h0M1579.3 349.7h0M1581.4 311.3h0M1695.3 420h0M1551 345.4h0M1383.4 135.2h0M1516.2 328.7h0M1650.9 316.6h0M1334.1 169.2h0M1349.7 297.8h0M1401.3 114.3h0M1337.9 129.3h0M1875.9 344.5h0M1312.4 220.6h0M1750.4 350.7h0M1438.8 224.6h0M1891.4 409h0M1895.5 481.9h0M1502.8 312.7h0M1724.8 318.5h0M1543.5 286.9h0M1313.7 129.1h0M1300.5 232.1h0M1300.7 238.9h0M1396.5 310.1h0M1303.3 203.8h0M1338.5 165.7h0M1728 418.4h0M1424.6 169.3h0M1533.7 366.5h0M1354.5 186.1h0M1495.2 291.3h0M1349.3 256.1h0M1635 250.9h0M1880.4 382h0M1478.1 250.8h0M1334.8 304.5h0M1621.3 310.3h0M1572.9 449.9h0M1378.6 295.6h0M1370.2 179.6h0M1806.4 368.2h0M1538 322h0M1633.8 404.3h0M1500.2 278.6h0M1418.1 318.9h0M1327.3 146.7h0M1318.6 172.8h0M1875.4 286.5h0M1787.7 334.7h0M1547.6 436.7h0M1771.7 356h0M1578.3 440.8h0M1678.2 409.5h0M1749.8 313.9h0M1526.2 253.8h0M1466.7 331.2h0M1609.3 396.5h0M1411.1 246.8h0M1733.2 399.8h0M1811 419.6h0M1575.8 448.5h0M1747.7 392.2h0M1503.6 250.4h0M1505.6 261.6h0M1811.8 422.2h0M1481.9 258.2h0M1876.7 381.7h0M1866.7 330.5h0M1443.4 149.1h0M1416.1 237.6h0M1318 112.5h0M1390.3 180.6h0M1563.6 309.8h0M1356.4 141.9h0M1844.3 378.8h0M1625.7 482.8h0M1400 159h0M1413.8 268.8h0M1517.6 345.7h0M1355.4 180.9h0M1440.5 300.3h0M1909.8 392.9h0M1430.8 208.1h0M1649.7 430.5h0M1682 443.1h0M1429.3 242.1h0M1798.4 281.4h0M1608.2 440h0M1582.8 364.4h0M1516.3 441.1h0M1768.3 418.7h0M1683.9 348.3h0M1626.4 354.1h0M1381.4 175h0M1355.1 97.8h0M1842.6 299.5h0M1717.2 416.5h0M1489.9 374.3h0M1620.9 415.5h0M1628.7 347.1h0M1323.7 227.2h0M1830 360.1h0M1410.4 175.3h0M1359.7 126.7h0M1295.5 111.8h0M1952.6 445.7h0M1624.6 378.7h0M1596.7 217.8h0M1531.3 351.6h0M1811.2 432.8h0M1550.2 357.3h0M1692.7 412.7h0M1954.2 403.7h0M1554.3 351.6h0M1330.3 201.5h0M1899.3 364.6h0M1400.4 216.5h0M1382.7 238.1h0M1697.9 407.2h0M1316.7 141.2h0M1646.4 364.6h0M1950.6 313.8h0M1801.7 333h0M1860 429.5h0M1679.6 481.1h0M1861.5 392h0M1789.5 356.8h0M1494.4 204.9h0M1471 209.7h0M1765.3 216.8h0M1775.4 363.3h0M1377.8 189.4h0M1378.5 289.9h0M1432.6 296.2h0M1884.8 359.5h0M1533 228.9h0M1885.8 415.2h0M1601.6 344.8h0M1788.6 366.2h0M1355 257h0M1747.5 298.1h0M1369.6 269.4h0M1391.9 288.7h0M1907.7 394.8h0M1325 252.2h0M1934.1 446.6h0M1285.1 253.4h0M1315.7 210h0M1577.7 420.1h0M1665.4 327.1h0M1291.1 207h0M1886.5 428.7h0M1602.9 415.7h0M1859.1 311.1h0M1450.2 241.7h0M1545.6 290.2h0M1412.9 199.6h0M1590.5 336.7h0M1326.3 179.8h0M1877.6 402h0M1641.9 327.3h0M1668.9 401.2h0M1676.8 347.8h0M1656.8 319.3h0M1573.5 182.5h0M1431.7 313.5h0M1374.5 179.2h0M1378.4 230h0M1307.9 117.6h0M1596.9 310.1h0M1512.8 314.2h0M1332.2 197.8h0M1867 409.9h0M1828.5 314.9h0M1925.3 315.9h0M1888.9 379.8h0M1406.2 239.9h0M1604.1 329h0M1314.3 238.3h0M1816.9 389.4h0M1767.8 402.7h0M1413 317.1h0M1472.5 258.7h0M1420.8 272.5h0M1720.5 382.3h0M1792.8 384h0M1368.9 267.6h0M1420.4 220.6h0M1536.7 346.7h0M1384.5 343.3h0M1486.8 389.4h0M1777.7 317.6h0M1338.1 154.3h0M1639.9 321.1h0M1963.4 516h0M1805.3 353.8h0M1396.2 272.5h0M1936.4 356h0M1391.4 221.2h0M1339.4 146.6h0M1290.4 214.2h0M1916.6 452.3h0M1770.3 410.4h0M1602.6 374.7h0M1477.9 299h0M1336.7 229.9h0M1351.7 76.7h0M1292 150.1h0M1416.4 269.9h0M1418.4 221h0M1570.8 325.2h0M1961.4 316.6h0M1927.5 338.4h0M1334.1 229.7h0M1693.4 305.2h0M1880.6 266.9h0M1499.5 258.5h0M1368.7 234.8h0M1324.2 246.4h0M1290.4 121.5h0M1899.5 387.4h0M1928.4 447.3h0M1837.2 431.2h0M1934.6 383.6h0M1489.1 374.2h0M1468.8 209.1h0M1300 295.4h0M1529.2 319h0M1847.3 405.3h0M1957.3 430.6h0M1872.2 364.3h0M1302.3 61.8h0M1944.8 361.8h0M1367.8 219.9h0M1726.7 410.2h0M1352.7 277h0M1440.1 222.4h0M1428.4 299h0M1449 227.6h0M1318.7 228.3h0M1394.6 233.4h0M1457.9 268.7h0M1308 125.7h0M1331.5 216.9h0M1637.6 303.4h0M1803.3 444.8h0M1630.3 380.2h0M1449.3 364.3h0M1313.2 159.7h0M1360.6 135.1h0M1368.3 189.2h0M1662.2 435.6h0M1294.7 190.7h0M1406.6 247.8h0M1424.7 257.5h0M1284.4 214.8h0M1328.1 169.5h0M1787.6 388.5h0M1369.2 263.1h0M1562.4 306.6h0M1337 171.1h0M1890.1 386.9h0M1367.9 293.7h0M1477.6 297.1h0M1520.7 272.5h0M1822 451.1h0M1761.3 344.9h0M1362 136.4h0M1407.7 232.1h0M1411.7 316.7h0M1930.9 385.5h0M1602.3 257.1h0M1873.9 296.8h0M1372.5 206.4h0M1328.5 284.4h0M1298.4 130.5h0M1860.2 357.5h0M1769.7 368.4h0M1642 331.2h0M1696.3 398.3h0M1657.1 254.8h0M1676.9 378.6h0M1435.1 254.9h0M1591.8 424.8h0M1837.2 501h0M1342 225.4h0M1709 325.4h0M1667.2 389.6h0M1665.6 405h0M1290 168.4h0M1427.1 197.4h0M1630.7 333.8h0M1373.4 145.9h0M1307.1 246.9h0M1567.9 423.8h0M1439.3 326.7h0M1502.6 320.2h0M1316.4 230.8h0M1284.4 97h0M1558.6 415.8h0M1297.8 212.4h0M1775 438.6h0M1446.2 240.6h0M1790.2 350.9h0M1366.5 293.3h0M1724.3 390.5h0M1878.8 151h0M1815.5 117.9h0M1816.3 261h0M1624.7 208h0M1522.8 184.9h0M1461.6 23.7h0M1495.3 205.6h0M1430.8 177.1h0M1445.9 133.6h0M1868.7 258.7h0M1886.1 227.5h0M1299.4 37.9h0M1668.3 250h0M1291.4 78.9h0M1817 290h0M1869 49.7h0M1541.4 198.6h0M1735.1 259.3h0M1526.6 161.9h0M1434.2 149.7h0M1480.8 141.2h0M1609.3 225.8h0M1634.8 159.7h0M1496.1 182.3h0M1753.3 244.1h0M1405.6 109h0M1309.2 82.9h0M1624.5 259.7h0M1484.9 130.2h0M1708.3 248.9h0M1803.9 299.7h0M1428 40h0M1627.3 221.1h0M1430.3 168.9h0M1742.8 160.2h0M1944.9 288h0M1837 181.7h0M1442.5 187.5h0M1501.9 91.1h0M1882.3 282h0M1734.7 193.1h0M1676.7 233.5h0M1352.3 26.4h0M1779.6 289h0M1449.8 91.4h0M1625.2 207h0M1572.8 101.7h0M1319.2 46.3h0M1919.8 277.9h0M1797.2 253.1h0M1311 75.4h0M1729.4 201.4h0M1825.2 48.4h0M1639.3 67.4h0M1438.6 69.6h0M1608.9 220.7h0M1705.2 261.7h0M1581.1 129.1h0M1508.1 110.4h0M1817.1 136.2h0M1349.1 15.1h0M1756.8 126.8h0M1851.6 257.7h0M1825.9 284h0M1884.7 305.6h0M1795.2 249.4h0M1855 297.2h0M1958.7 235.1h0M1430.7 143.9h0M1716.1 122.1h0M1647.4 253.8h0M1557 220.7h0M1689.3 277.5h0M1632.8 257.1h0M1364.7 48.3h0M1572.5 199.2h0M1547.9 173.4h0M1583.2 211.7h0M1590.8 238.8h0M1678 198.7h0M1918.9 313.3h0M1531.9 232.7h0M1640 190.2h0M1886.1 294.1h0M1826.9 178.4h0M1714.5 280.9h0M1323.9 73.4h0M1415.4 24.6h0M1944.8 188.6h0M1666.5 153.3h0M1836.4 232.4h0M1884.1 247.4h0M1857.4 289.4h0M1598.6 239h0M1419.3 59.2h0M1287.3 42.3h0M1458.4 125.8h0M1590.1 110.6h0M1725.6 91.4h0M1680.5 457.8h0M1867.5 505.9h0M1610.9 441.7h0M1584 591.1h0M1939.6 507.3h0M1297.9 316h0M1869.2 491h0M1333.4 306.2h0M1769.3 482.8h0M1806 539.9h0M1690 511h0M1427.4 340h0M1322.7 330.7h0M1562.6 490.4h0M1320.3 310.5h0M1872.4 577.1h0M1641.6 510.8h0M1897.6 521.8h0M1805.3 558.7h0M1346.8 453.5h0M1851.4 612.7h0M1443.5 394.4h0M1918.8 517.3h0M1474.3 427.9h0M1634.9 559.3h0M1352 284.9h0M1898 521.8h0M1433.5 377.8h0M1287.8 428.3h0M1518 407.8h0M1672.6 456.4h0M1962.3 481.8h0M1963.5 607.4h0M1715.8 473h0M1670.5 487.8h0M1448.8 427h0M1424.9 410h0M1914.3 564.6h0M1425.5 337.9h0M1558.9 431.1h0M1799.1 489.7h0M1628.3 461.6h0M1844.7 496.1h0M1462.6 485.7h0M1285.2 355.7h0M1772.8 478.5h0M1795.1 552.6h0M1313.6 305.9h0M1420.9 391.1h0M1622.2 471.4h0M1885.9 545.6h0M1463.5 378.3h0M1636.2 448.8h0M1368.3 426.2h0M1738 488.2h0M1499.8 403.5h0M1526.1 419.9h0M1625.5 491h0" stroke="#1b84c0" stroke-width="8.7" stroke-linecap="round" fill="none"/>
<path d="M1260.4 284.5L2003 284.5" stroke="#ebc97f" stroke-width="5"/>
<path d="M1284.3 140.1 L1295.8 154.6 L1307.4 168.2 L1318.9 180.9 L1330.5 192.9 L1342 204.1 L1353.5 214.6 L1365.1 224.4 L1376.6 233.6 L1388.2 242.3 L1399.7 250.4 L1411.2 257.9 L1422.8 265 L1434.3 271.7 L1445.9 277.9 L1457.4 283.7 L1469 289.2 L1480.5 294.4 L1492 299.2 L1503.6 303.8 L1515.1 308.1 L1526.7 312.2 L1538.2 316.1 L1549.7 319.8 L1561.3 323.3 L1572.8 326.7 L1584.4 329.9 L1595.9 333 L1607.4 335.9 L1619 338.8 L1630.5 341.6 L1642.1 344.3 L1653.6 347 L1665.1 349.5 L1676.7 352 L1688.2 354.5 L1699.8 356.9 L1711.3 359.2 L1722.8 361.5 L1734.4 363.7 L1745.9 365.9 L1757.5 368 L1769 370 L1780.5 372 L1792.1 373.9 L1803.6 375.6 L1815.2 377.3 L1826.7 378.9 L1838.3 380.3 L1849.8 381.6 L1861.3 382.8 L1872.9 383.7 L1884.4 384.5 L1896 385.1 L1907.5 385.4 L1919 385.5 L1930.6 385.2 L1942.1 384.7 L1953.7 383.8 L1965.2 382.6" stroke="#c2262a" stroke-width="4.5" fill="none"/>
<path d="M1260.4 647.3L1270.4 647.3M2003 647.3L1993 647.3M1260.4 606.8L1265.4 606.8M2003 606.8L1998 606.8M1260.4 583.1L1265.4 583.1M2003 583.1L1998 583.1M1260.4 566.3L1265.4 566.3M2003 566.3L1998 566.3M1260.4 553.3L1265.4 553.3M2003 553.3L1998 553.3M1260.4 542.6L1265.4 542.6M2003 542.6L1998 542.6M1260.4 533.6L1265.4 533.6M2003 533.6L1998 533.6M1260.4 525.8L1265.4 525.8M2003 525.8L1998 525.8M1260.4 519L1265.4 519M2003 519L1998 519M1260.4 512.8L1270.4 512.8M2003 512.8L1993 512.8M1260.4 472.3L1265.4 472.3M2003 472.3L1998 472.3M1260.4 448.6L1265.4 448.6M2003 448.6L1998 448.6M1260.4 431.8L1265.4 431.8M2003 431.8L1998 431.8M1260.4 418.8L1265.4 418.8M2003 418.8L1998 418.8M1260.4 408.1L1265.4 408.1M2003 408.1L1998 408.1M1260.4 399.1L1265.4 399.1M2003 399.1L1998 399.1M1260.4 391.3L1265.4 391.3M2003 391.3L1998 391.3M1260.4 384.5L1265.4 384.5M2003 384.5L1998 384.5M1260.4 378.3L1270.4 378.3M2003 378.3L1993 378.3M1260.4 337.8L1265.4 337.8M2003 337.8L1998 337.8M1260.4 314.1L1265.4 314.1M2003 314.1L1998 314.1M1260.4 297.3L1265.4 297.3M2003 297.3L1998 297.3M1260.4 284.3L1265.4 284.3M2003 284.3L1998 284.3M1260.4 273.6L1265.4 273.6M2003 273.6L1998 273.6M1260.4 264.6L1265.4 264.6M2003 264.6L1998 264.6M1260.4 256.8L1265.4 256.8M2003 256.8L1998 256.8M1260.4 250L1265.4 250M2003 250L1998 250M1260.4 243.8L1270.4 243.8M2003 243.8L1993 243.8M1260.4 203.3L1265.4 203.3M2003 203.3L1998 203.3M1260.4 179.6L1265.4 179.6M2003 179.6L1998 179.6M1260.4 162.8L1265.4 162.8M2003 162.8L1998 162.8M1260.4 149.8L1265.4 149.8M2003 149.8L1998 149.8M1260.4 139.1L1265.4 139.1M2003 139.1L1998 139.1M1260.4 130.1L1265.4 130.1M2003 130.1L1998 130.1M1260.4 122.3L1265.4 122.3M2003 122.3L1998 122.3M1260.4 115.5L1265.4 115.5M2003 115.5L1998 115.5M1260.4 109.3L1270.4 109.3M2003 109.3L1993 109.3M1260.4 68.8L1265.4 68.8M2003 68.8L1998 68.8M1260.4 45.1L1265.4 45.1M2003 45.1L1998 45.1M1260.4 28.3L1265.4 28.3M2003 28.3L1998 28.3M1346.2 647.3L1346.2 637.3M1470 647.3L1470 637.3M1593.8 647.3L1593.8 637.3M1717.6 647.3L1717.6 637.3M1841.4 647.3L1841.4 637.3M1965.2 647.3L1965.2 637.3M1284.3 647.3L1284.3 642.3M1408.1 647.3L1408.1 642.3M1531.9 647.3L1531.9 642.3M1655.7 647.3L1655.7 642.3M1779.5 647.3L1779.5 642.3M1903.3 647.3L1903.3 642.3" stroke="#000" stroke-width="4.3" fill="none"/>
<rect x="1260.4" y="15.8" width="742.6" height="631.5" fill="none" stroke="#000" stroke-width="4.5"/>
<text x="1218.4" y="667.3" text-anchor="end" style="font-size:54px;">10</text>
<text x="1217.9" y="645.8" text-anchor="start" style="font-size:37px;">-1</text>
<text x="1230.9" y="532.8" text-anchor="end" style="font-size:54px;">10</text>
<text x="1233.4" y="511.3" text-anchor="start" style="font-size:37px;">0</text>
<text x="1230.9" y="398.3" text-anchor="end" style="font-size:54px;">10</text>
<text x="1233.4" y="376.8" text-anchor="start" style="font-size:37px;">1</text>
<text x="1230.9" y="263.8" text-anchor="end" style="font-size:54px;">10</text>
<text x="1233.4" y="242.3" text-anchor="start" style="font-size:37px;">2</text>
<text x="1230.9" y="129.3" text-anchor="end" style="font-size:54px;">10</text>
<text x="1233.4" y="107.8" text-anchor="start" style="font-size:37px;">3</text>
<text x="1346.2" y="702.5" text-anchor="middle" style="font-size:54px;">1</text>
<text x="1470" y="702.5" text-anchor="middle" style="font-size:54px;">2</text>
<text x="1593.8" y="702.5" text-anchor="middle" style="font-size:54px;">3</text>
<text x="1717.6" y="702.5" text-anchor="middle" style="font-size:54px;">4</text>
<text x="1841.4" y="702.5" text-anchor="middle" style="font-size:54px;">5</text>
<text x="1965.2" y="702.5" text-anchor="middle" style="font-size:54px;">6</text>
<text x="1531.6" y="755.3" text-anchor="start" style="font-size:53.5px;font-weight:bold;">|DP| (eV)</text>
<text x="1150" y="329" text-anchor="middle" style="font-size:53.5px;font-weight:bold;" transform="rotate(-90 1150 329)">PF (μWcm<tspan dy="-21" style="font-size:36px">-1</tspan><tspan dy="21">K</tspan><tspan dy="-21" style="font-size:36px">-2</tspan><tspan dy="21">)</tspan></text>
<rect x="195.5" y="837.5" width="781.5" height="267.5" fill="#d5e4ba"/>
<text x="794" y="896.6" text-anchor="start" style="font-size:53.5px;">n-type</text>
<text x="577" y="999" text-anchor="start" style="font-size:54px;font-weight:bold;">&gt; 50 μWcm<tspan dy="-21" style="font-size:38px">-1</tspan><tspan dy="21">K</tspan><tspan dy="-21" style="font-size:38px">-2</tspan></text>
<clipPath id="clip3"><rect x="195.5" y="837.5" width="781.5" height="630.3"/></clipPath><path clip-path="url(#clip3)" d="M273.3 1044.7h0M368.3 956.3h0M771.9 1102.5h0M604.3 1134.8h0M278.5 966.1h0M498.8 838.7h0M530.7 877.9h0M319.3 1086.7h0M719.1 1127.3h0M344.2 1000.2h0M470.2 1018.4h0M557.2 1115.2h0M497.1 1035.2h0M607.7 1081.7h0M721.6 1136.7h0M901.9 1279.4h0M399 1078.2h0M653.4 1109.6h0M689.5 1151.2h0M404.6 1185.8h0M222.2 928.3h0M917 1131h0M408.3 948.7h0M418.5 1011.5h0M846.4 1074.7h0M606.5 1097.9h0M525.3 1031.3h0M749.5 1067.3h0M239.6 955.5h0M697.7 1095.8h0M458.7 1036h0M276.5 1029.4h0M662.3 1090.1h0M880.3 1115.5h0M349.3 1166.6h0M639.6 1174.1h0M408.1 1119.7h0M724.7 1204.2h0M709.4 1195.8h0M356.7 1003.1h0M795.1 1205.3h0M660.2 1261.6h0M679.2 1138.2h0M787.1 1138.1h0M495.7 1140h0M738 1110.3h0M284.8 1114.1h0M283.5 977.4h0M811.4 1198.9h0M472 1069.6h0M531.1 1067h0M310.9 929.3h0M691.2 1216.3h0M404.1 1043.5h0M829.1 1148.9h0M393.2 1033.8h0M589.5 994.7h0M475.9 1036.2h0M626.8 1120.7h0M342.6 999.1h0M332.2 1103.1h0M728.7 1243h0M732.9 1114.6h0M593.3 1161.9h0M871.4 1094h0M348.4 1061.1h0M812.3 1190.7h0M325.1 891.7h0M909 1173.7h0M634.8 1112.1h0M622.4 1222.4h0M914.5 1215h0M760.5 1208.4h0M762.8 1243.2h0M254 897.9h0M455.4 1020.4h0M272.8 1053.7h0M340.6 975.1h0M353.6 1080.6h0M818.8 1144.7h0M298.7 923.3h0M407.2 1058.8h0M540.3 1041.2h0M811.2 1126.4h0M909.8 1272.6h0M279.4 881h0M353.5 1041.5h0M577.4 1157.5h0M696.9 1113.8h0M221.8 1008.7h0M677 1102.4h0M454.7 1019.1h0M609.8 1127h0M669.2 1141h0M668.8 1042.2h0M333 1105.6h0M584.4 1141.3h0M343.6 890h0M542 1176.5h0M297.8 1048.3h0M531.9 1071.2h0M571.1 1270h0M750.2 1166.3h0M471.8 1014.6h0M233.1 991.1h0M565.1 1067.4h0M348.1 1077.6h0M724.3 1133.8h0M468.5 1107.9h0M462.9 1100.9h0M277.7 1036.4h0M471.4 1062.2h0M441.7 1018.6h0M441.1 1094.9h0M252 961.3h0M278 938.6h0M578.7 1093.6h0M267.4 908.1h0M590.3 1195.3h0M726.4 1014.8h0M893.9 1123.6h0M805.1 1164.3h0M726.4 1149.9h0M781.5 1124.3h0M787.2 1181.2h0M379.2 1045.3h0M532.7 1121.2h0M437.6 1059.3h0M384.4 1005.3h0M596.6 1166.6h0M421.1 1113.8h0M631.1 1042.3h0M604.5 1212.9h0M284.8 1028.4h0M505.2 1075.2h0M469.3 1023.2h0M697.5 1145.5h0M274.8 1003.4h0M325.1 1010.3h0M554.3 1142.4h0M479.3 1087.5h0M666 1133.7h0M431 1153.1h0M343 994h0M880.7 1075.9h0M372.8 972.1h0M311.3 963.9h0M396.2 963.5h0M435.6 990.5h0M360.8 1036.8h0M571.2 1094.8h0M885.1 1126.9h0M298.2 1019.9h0M486.5 1129.5h0M668.1 1180.8h0M840.5 1165.2h0M249 975.8h0M309.2 948.6h0M571.9 1182h0M837.6 1147.9h0M253.3 953.1h0M608.8 1234.9h0M328.2 1012.7h0M745.2 1241.8h0M885.7 1202.3h0M572.6 1117.8h0M226.7 949.9h0M486.9 1009.9h0M809.4 1180.3h0M368.2 1006h0M668.9 1113.3h0M479.8 1076h0M386.6 1037.1h0M695.3 1103.8h0M414.8 941.5h0M457.1 1057.6h0M743.2 1185.6h0M542 1066.7h0M758 1144.1h0M556.9 1119.7h0M319.4 1085h0M506.1 1134h0M295.4 1081.5h0M591.8 1200.2h0M909.4 1135.9h0M222 1063.1h0M436 1126.8h0M746.2 1169.9h0M681.8 1161.5h0M588.9 1085.5h0M664.8 1055.5h0M833.6 1168.8h0M679.8 1095.3h0M579 1132.6h0M590 1238.4h0M340.9 982.1h0M425.1 978.2h0M669.1 1164.5h0M628.4 1132.4h0M227.1 911.8h0M531.5 1095.3h0M237.6 878.3h0M571.6 1109.1h0M818 1139.8h0M647 1094.6h0M649.6 1150.2h0M470 1055.5h0M446.9 1109.5h0M706.9 1192.5h0M268.4 930.9h0M825.2 1154.3h0M833.5 1131.8h0M907.3 1127.2h0M304.2 924.3h0M291.6 855.2h0M848.4 1173.6h0M476.9 1020.7h0M390 1092.7h0M464.1 998h0M661.6 1163.4h0M320.4 1107.3h0M536.3 1303.4h0M662 1000.6h0M708.4 1222.5h0M228.7 989.7h0M779.7 1128.4h0M499.5 1096.4h0M500.6 1062.5h0M589.9 1089.5h0M396.3 1096h0M842.2 1276.1h0M352.5 911.5h0M575.8 1084.9h0M324.5 1031.1h0M327.7 1055.6h0M855 1158.5h0M838.8 1077.2h0M267.7 1065.1h0M635.7 1138.4h0M847.1 1139.8h0M344.9 1040.1h0M238.9 917.3h0M702.5 1140.8h0M721.8 1059.9h0M511.3 1102.5h0M645.9 1141.4h0M668.7 1186.4h0M444.5 1081.5h0M268.1 855h0M600.8 1039.8h0M690.4 1156.9h0M553.6 1078.8h0M433.4 1055.7h0M499.7 1126.1h0M872.6 1214.4h0M336.8 1002.9h0M312.1 1041.5h0M228.6 1010.9h0M813.4 1065.7h0M930.5 1111h0M368.1 1066.4h0M387.2 1097.8h0M343.7 1120.5h0M617.5 1123.1h0M534.9 1105.7h0M787.5 1139.8h0M350.9 964.3h0M834.8 1189.8h0M520.1 1179.3h0M777.2 1145.6h0M772.5 1125.2h0M862.6 1158.8h0M544.5 1086.7h0M624.4 1175.9h0M589 1108.6h0M338.6 1008.3h0M546.5 1148.8h0M876.2 1244.2h0M861 1154.7h0M234.2 1004.9h0M664.5 1220.6h0M427 1084.4h0M304.4 958.1h0M306.6 886.2h0M766.8 1021.9h0M904.4 1078.6h0M222 984.2h0M465 1091.8h0M552.4 1070.4h0M794.6 1089.4h0M728.6 1170h0M260.1 1008.3h0M352.7 1104.5h0M826.3 1151.9h0M540.5 1085.3h0M660.2 1171.7h0M752.9 1177.8h0M262.6 977.4h0M718.6 1012.1h0M577.9 1187.5h0M363.5 1041.8h0M336.5 966.1h0M934.9 1222.9h0M227.6 920.5h0M685.4 1199.4h0M837.1 1095.2h0M364.8 1041h0M250.6 1038.5h0M475.6 1027.3h0M429.1 1171.1h0M518.5 1093.6h0M494.9 1099.5h0M889.5 1273h0M294.1 948.4h0M891.2 1196.9h0M248.9 971.6h0M886.2 1114.2h0M431.1 953h0M713.3 1166.6h0M223.2 942.8h0M508.6 1075.1h0M675.4 1097.7h0M638.3 1176.2h0M776 1138.3h0M315.3 939h0M477 1070.1h0M627.4 1137.4h0M238.6 986.4h0M799.8 1105.5h0M487.2 1079.7h0M374.2 1056.6h0M359.1 1075.9h0M655.1 1166.5h0M250.2 883.1h0M373.2 932.4h0M411.9 1175.4h0M716 1171.8h0M611.8 1235h0M856.8 1082.8h0M693.1 1128.8h0M405.7 1027.2h0M425.3 1047.9h0M296.5 926.7h0M372 1049.5h0M620.7 1115.5h0M716.3 1103.6h0M406.6 1059.8h0M438.6 1032.5h0M773.2 1115.2h0M903.8 1135.8h0M272.7 988.9h0M264.5 881.6h0M738.4 1185h0M542.3 1044.3h0M493.2 1108.8h0M642.2 1151.9h0M739.3 1168.1h0M263.6 926h0M906.8 1074.5h0M903.5 1131.5h0M487.5 1167.1h0M524 1097.8h0M391.2 1075.6h0M608.2 1160.5h0M348 1034.1h0M570 1066.2h0M857.1 1205.8h0M549.7 1034.5h0M792.8 1196.2h0M331.5 1052.5h0M839.5 1140.7h0M296.5 928.1h0M352.9 1004h0M708 1213.2h0M410.6 1007.3h0M293.8 1039.7h0M274 949.1h0M765.5 1130.6h0M233.2 1010.5h0M255.3 949h0M892.5 1119.6h0M756.6 1087.7h0M456.2 1168.5h0M339.9 972.5h0M825.8 1189.3h0M761 1171.8h0M668.4 1162h0M566.9 1063.2h0M563.3 1150.5h0M921 1164.3h0M561.2 1097.4h0M272.3 1007h0M266.6 949h0M614.1 1067h0M717.6 1120.4h0M638.2 1139.7h0M725.5 1185.8h0M405.5 1004.7h0M456.6 1190.2h0M386.7 987.8h0M224.1 926.1h0M241 1038.5h0M798.6 1159.4h0M311.8 889.7h0M349.8 963.3h0M703.2 1081.2h0M474.7 1122h0M436.6 1048.3h0M917.9 1109.1h0M848.2 1146.5h0M356.8 1050.6h0M316.5 1018.9h0M540 1067.1h0M598.4 1208.3h0M267.4 1016.1h0M611.1 1049.1h0M675.7 1159.6h0M782.7 1074.5h0M371.7 1020.2h0M650.8 1118.5h0M256.4 991.6h0M260.5 946.3h0M254.7 932h0M292.2 973.3h0M756.3 1196h0M456.4 1045.2h0M540.3 1012.4h0M511.1 1134.6h0M349.2 1011.6h0M248.9 976.1h0M333.2 1030.2h0M818.5 1162.5h0M434.9 1021.7h0M490.2 1042.4h0M386.1 1024.7h0M724.3 1152.2h0M694.2 1097.7h0M465.2 1075.4h0M549.9 1151.6h0M473.3 1133.9h0M597.9 1165.8h0M612.6 1249.9h0M600.9 1094.4h0M854.8 1108.9h0M896.6 1145.9h0M252.3 947.3h0M343.8 1076.9h0M245.6 960.7h0M459 1099.9h0M773.3 1155h0M676.7 1127.1h0M593.5 1136.4h0M273.7 1002.7h0M780 1161.6h0M626.5 1176.1h0M411.1 984.2h0M759.1 1215h0M244.8 928.9h0M336.8 1030.3h0M762.1 1103.8h0M249 895.9h0M302 956.4h0M546.5 1113.9h0M700.1 1163.3h0M609.5 1133.2h0M243.6 840.6h0M392.9 1116.3h0M697.1 1131.4h0M441.4 999.6h0M341.1 954.2h0M222.7 895.6h0M385 1069.5h0M879.7 1086.6h0M251.2 915.9h0M583.3 1125.9h0M861.6 1268.1h0M692.8 1197.1h0M396.9 1034.6h0M653.4 1042.6h0M294.1 999.9h0M544.6 1109.6h0M385.3 1091.4h0M262.8 972.8h0M324.8 1053.6h0M740.5 1126.9h0M459.6 1059.8h0M768.4 1128.2h0M275.1 975.6h0M455.5 1076.1h0M563.2 1116.1h0M321 1038.9h0M287.3 989h0M707.9 1057.3h0M257.7 977.3h0M240 1035.9h0M290.5 1000.8h0M668.8 1126.7h0M733.9 1177.8h0M888.5 1128.3h0M469.3 992.3h0M469 1025.7h0M286.6 1072h0M696.8 1100.4h0M761 1139h0M291.8 915.8h0M425.7 1074.8h0M254.7 951.5h0M367 1037h0M718.4 1083.3h0M237.2 954.9h0M923.1 1149.1h0M262.6 961.5h0M477.4 1064h0M830.2 1135.9h0M548.8 1206.3h0M442.1 1097.4h0M756.7 1196h0M823.5 1198.7h0M286.4 980.9h0M557.5 1119.8h0M311.4 1104.3h0M332.2 1100.8h0M567.1 1061.3h0M378.6 1055.6h0M774.9 1182.3h0M452.8 1024.2h0M232.5 921.8h0M638.9 1175.1h0M384.6 968.2h0M261.5 1001.3h0M939.9 1182.8h0M334.7 980.7h0M301.5 935.5h0M531.7 1118.5h0M223.7 1002.2h0M762.3 1169.9h0M266.9 882.8h0M245.1 938.3h0M910.5 1162h0M557.2 1108.6h0M878 1172.9h0M851 1097.3h0M718.6 1245.7h0M239.2 977.9h0M649.8 1041.2h0M260.7 1051.1h0M227.7 852.6h0M362.6 980.3h0M413.8 1021.3h0M728.9 1112.5h0M249.2 997.1h0M758.1 1154.7h0M646.8 1182.8h0M916.4 1194.5h0M527.7 1027.2h0M814.2 1131.7h0M788.5 1134.9h0M607.6 1171.9h0M549.9 1117.2h0M496.8 1049.4h0M651.5 936.4h0M342.1 970.3h0M503 1033.6h0M652.3 1166.1h0M414.2 1044.1h0M355.4 1084.7h0M286 1006.9h0M774.5 1049.9h0M833 1134.8h0M353.1 1057.6h0M271.9 921.2h0M620.7 1148.8h0M256.3 1073.9h0M837.2 1087.8h0M526.8 1113.5h0M682.1 1125.1h0M295.1 929.3h0M310 1086.5h0M311.2 949.2h0M242.8 1000.5h0M700.5 1181.3h0M567.1 996.8h0M656.9 1175.6h0M298.3 1036.7h0M544.7 1014.5h0M273.5 1026h0M395.9 1012.3h0M399.8 1120h0M322.7 1075.1h0M487.1 1136.2h0M259.5 941.1h0M236.8 911.7h0M430.9 1165.2h0M933 1164.1h0M713.2 1122.3h0M495.1 1165.2h0M344.3 973.7h0M295.4 1086.2h0M487.4 1035.9h0M657 1163h0M792 1188.5h0M519.1 1091h0M813.1 1245.2h0M780 1112h0M811.3 1223.9h0M430.4 1013.3h0M522.2 1070.4h0M319.6 1113.2h0M606 1123.2h0M246.9 993.9h0M524 1049.9h0M321.7 1064.6h0M529.7 1080.7h0M332.9 982.5h0M222.2 948.9h0M491 1207.2h0M495.5 1081.6h0M574.6 1098.9h0M297.4 983h0M544.2 1146.9h0M409.1 1072.3h0M270.7 1029.4h0M483.1 1240h0M667.1 1038.3h0M344.5 1026.2h0M702.7 1163.5h0M761.9 1081.6h0M233 939.9h0M354.6 991.7h0M398.6 1075.8h0M611.7 1059.1h0M536.2 1131.3h0M594 1187h0M266 957h0M400.9 1112.3h0M320 914.5h0M728 1166.4h0M679.7 1092.1h0M412.6 1010.6h0M833.3 1177.8h0M304.2 1059.3h0M232 931.4h0M458.1 1114.5h0M668.3 1045.3h0M893.1 1040.2h0M551.5 979.5h0M221.8 903.6h0M252.9 1085.1h0M231.4 990.5h0M785.5 1079.8h0M250.7 1022.3h0M283.2 1014.5h0M312.7 1077.3h0M794.1 1177h0M858.9 1151.5h0M334.9 1043.8h0M939 1101.9h0M820.1 1209.4h0M428.7 1149.4h0M252.2 939.8h0M314 1001.8h0M501.1 1076.3h0M348.2 988.2h0M333.3 1049.6h0M391.5 999.7h0M834.6 1095.1h0M243.3 952h0M872.6 1166.5h0M253.1 937.9h0M721.8 1161.9h0M553.8 1092.7h0M892.4 1124.5h0M332.9 937h0M380.2 950.5h0M551.2 1153.3h0M550.8 1052.4h0M429.8 1018.9h0M412.8 1119.7h0M275.4 958.5h0M546.9 1148.4h0M795.7 1125.9h0M825.5 1155h0M486.2 1071h0M922.4 1108h0M911.3 1208.6h0M422.2 1102.9h0M292.3 953.3h0M799.9 1170.9h0M888.4 1193.4h0M653.8 1269.2h0M909 1096h0M529.6 1085.3h0M562.3 1121.3h0M267.8 954.6h0M455.8 1143.2h0M353.2 1055.9h0M284.1 991h0M226.6 922.3h0M241.2 901.5h0M542.4 1007.1h0M619.9 1185.3h0M568.5 1223.5h0M835.7 1152.7h0M677.6 1186.2h0M644.7 1084.6h0M619.3 1110.7h0M232.2 925h0M266.5 993.9h0M280.5 1034.1h0M650 1200.7h0M352.3 1037.2h0M486.6 1003.3h0M652.5 1269h0M617.1 1154.2h0M314.8 1060h0M388 982h0M307.3 982.1h0M663.8 1165.5h0M707.5 1146.3h0M301.9 861.4h0M390.2 1044.5h0M312.4 1032.7h0M626.3 1147h0M406.8 1028.6h0M828.1 1147.7h0M387.3 937.4h0M650.2 1180.6h0M644 1136.6h0M889.3 1163.4h0M228.5 923.6h0M881.7 1176.4h0M605.8 1190.2h0M223.4 932.1h0M426.8 1058.1h0M723.7 1183.4h0M437.6 1065.3h0M660.4 1106.2h0M293 918.7h0M651.9 1143.3h0M466.1 1004.6h0M893 1166.8h0M264.5 916.9h0M449.5 1172.6h0M744.9 1274.6h0M470.9 1046h0M519.1 996.5h0M432.1 1040.5h0M280.6 1008.5h0M422.6 1103.4h0M833.8 1172.4h0M744.8 1167.3h0M415.8 1018.2h0M668.4 1113h0M766.1 1028.2h0M768.4 1128h0M254.7 1037.4h0M322 1030h0M901.9 1118.7h0M396.2 1094.9h0M753.7 1274.6h0M639.8 1054.6h0M830 1247.8h0M268.7 1013.4h0M882.5 1222.2h0M833.2 1235.6h0M369.3 1121.7h0M700.8 1226.7h0M224.9 859.3h0M824.3 1214.2h0M486.1 942h0M723.7 1127.8h0M766.9 1127.3h0M237.3 948.1h0M838.3 1159.5h0M285.2 968.1h0M316.3 1038.5h0M514.8 1229.5h0M379 965.7h0M653 1018h0M338.7 957.9h0M634.3 1245.5h0M740.3 1133.2h0M908.4 1106h0M475.7 1121.7h0M400.2 975.6h0M601 1089.8h0M655.4 1236.1h0M873.1 1267.3h0M502.5 1122.2h0M284.4 919.5h0M711.8 924.8h0M645.2 1213.1h0M264.7 924.2h0M408.9 983.4h0M324 908.3h0M542.2 1189.3h0M463.4 1100.2h0M318.7 961.2h0M566.6 1067.3h0M661.4 1079.6h0M436.5 951.7h0M798.9 1172.1h0M283 1014.6h0M256 959.3h0M698 1102.3h0M590.5 1086.9h0M732.6 1213.8h0M883.2 1181.9h0M553.1 978.3h0M784.6 1067.8h0M652.9 1107.6h0M555.4 1198.7h0M547.7 1104.8h0M933.5 1184.4h0M439.6 1119.1h0M493 1143.2h0M527.5 1146.4h0M646.8 1158.3h0M258.2 953.4h0M655.7 1152.9h0M244.4 919.3h0M462.3 1140.7h0M505.2 1002.3h0M592.5 1110.4h0M596.6 1141.4h0M619.9 1117.2h0M236 1081.4h0M428.2 999.9h0M721.8 1236h0M487.9 1095.3h0M792.2 1139.4h0M576.4 983h0M594.9 1116.9h0M674.5 1145.6h0M925.4 1036.6h0M223.6 946.5h0M324.1 1060.1h0M275.2 1004.3h0M348.7 1047.4h0M233.8 987.5h0M929.7 1221.6h0M313.3 955.9h0M527.3 1009.7h0M838.1 1109.2h0M527.2 1114.4h0M374.8 986.3h0M404.2 1131.4h0M301.1 1045.7h0M414.2 1053.9h0M524.8 1025.4h0M485.1 1132.1h0M270.6 1069.7h0M312.5 1016h0M913.2 1147.3h0M590 1132.2h0M278.7 976.9h0M860.9 1108.5h0M451 1125.2h0M463.7 1106.4h0M380.2 1088.9h0M878.1 1191.1h0M686.2 1175.6h0M409.9 1049.6h0M455.5 1026.9h0M491.7 1085.9h0M463 1016.6h0M671.3 1173.1h0M896 1087.5h0M247.2 965.5h0M809.9 1110.1h0M811 1140.7h0M356.9 1136.2h0M921.2 1049.1h0M833.3 1165.6h0M709.8 1077.7h0M286.4 959.3h0M508.6 1090.4h0M736.9 1141.3h0M583.9 1229.3h0M256.8 894.9h0M742.1 1265.3h0M483.2 1037.1h0M357.8 1072.5h0M440.9 935.1h0M284.4 1043.5h0M449.9 1159.4h0M230.6 965h0M939.3 1213.9h0M304.9 1179.7h0M435.1 969.4h0M286.3 922.2h0M517.1 1065h0M435.2 1039.3h0M369.2 1002.6h0M336.6 968.8h0M938.1 1135.5h0M471.1 1048.7h0M925.3 1227.1h0M432.3 1037.8h0M270.2 1018.2h0M798 1169h0M318.5 971.2h0M725.5 1183h0M836.9 1115.9h0M355.9 1061.8h0M420.8 884.3h0M591.2 1179.4h0M827.4 1189.2h0M293.2 1008.3h0M535.9 1009.1h0M593 1119.4h0M773.6 1129.1h0M316.3 1065.4h0M238.6 1031.8h0M823 1123.2h0M366.3 1067.5h0M638.7 1161.3h0M717.3 1148.7h0M652.7 1029.8h0M265 959.9h0M258.7 949.6h0M359.4 997.4h0M285 946.7h0M534.6 1053.1h0M721.3 1116.8h0M599.9 1183h0M858.5 1226h0M538.6 1073.5h0M509.9 1098.3h0M299.1 864.5h0M899.6 1224h0M671.4 1145.9h0M923.2 1093.3h0M883.1 1115.1h0M273 1059h0M619.9 1127h0M316.2 976.1h0M734.5 1122.4h0M248.2 931.1h0M661.4 1202.9h0M625.3 1183.5h0M458.1 1123.5h0M298 988.4h0M681.6 1228.3h0M250.2 885.1h0M434.2 1001h0M237.8 965.5h0M414.1 1107.2h0M376.4 1176.3h0M631.5 1080.9h0M680.1 1076.4h0M323.9 974.4h0M483.3 1157h0M734.5 1241.7h0M662.3 1067.1h0M289 943.2h0M754.1 1193.1h0M915.4 1125h0M531.8 1130.2h0M906.7 1184.3h0M634.6 1195.5h0M467.3 1099.5h0M529 1121.3h0M658.4 1099.6h0M419.4 1122.5h0M873 1087.2h0M466.5 1041.4h0M635.7 1177.1h0M819.5 1121.2h0M794.8 1071.1h0M672.1 1108.3h0M264.5 846.2h0M736.6 1015.8h0M253.2 972.8h0M498.5 1115.6h0M852.2 1210.7h0M319.7 1142.7h0M299.9 1017.2h0M417.6 1048.3h0M366.9 991.8h0M917.2 1183.2h0M567.1 1155.1h0M840.4 1189.4h0M582.8 1075.8h0M355.7 1015.1h0M832.4 1131h0M838.2 1115.7h0M296.8 924.7h0M744.1 1220.8h0M594.5 1083.2h0M331.7 1021.9h0M434 1122.1h0M718.7 1228.7h0M336.5 992.5h0M622.7 1140.9h0M568.9 1174h0M567.2 1063.7h0M333.4 993.5h0M791.3 1067.7h0M574.1 1127.7h0M684.1 1274.4h0M637.6 1250.7h0M422.6 1075.3h0M720.8 1115.6h0M474.4 1180.4h0M872.6 1219.1h0M516 1188.7h0M341.2 1022.5h0M520.7 1045h0M472 1089.4h0M897.6 1184.6h0M305 1045h0M844.7 1145.9h0M236.7 1037.9h0M303.4 997.9h0M405.8 988.1h0M724.2 1123.1h0M618.8 1197.6h0M487.3 1031.3h0M485.5 1116.8h0M804.5 1154.9h0M355.7 1064.8h0M760.9 1150.7h0M458 1086.1h0M258.4 982.6h0M784.3 1047h0M496.3 1136h0M341.4 1016.6h0M370.7 1119.4h0M299.7 1009.1h0M279.6 1000.1h0M494.7 1054.4h0M650.3 1166.9h0M467.4 999.7h0M902.2 1162.5h0M323.3 973.9h0M752.3 1203.4h0M765.6 1189h0M417.9 940.6h0M737.6 1217.2h0M253.1 894.2h0M257.6 876h0M262.5 903h0M420.7 1004.7h0M713.2 1203h0M240.2 941.2h0M464.9 1029.6h0M614.3 1110.8h0M808.8 1203.4h0M590.5 1188.4h0M373.9 902.9h0M273.7 926.2h0M550 1134.2h0M775.9 1257.2h0M796.7 1150.2h0M631.8 1234.5h0M332 1013.1h0M250.4 1061.5h0M389.6 963.7h0M569.5 1108.1h0M312.8 1125.6h0M632.1 1160.2h0M418.9 1049.1h0M762.6 1202.4h0M567 1160.1h0M744.8 1126.9h0M381.1 1003.1h0M595.2 1057.8h0M842.2 1084.9h0M228.9 864.4h0M881.7 1192.8h0M611 1122.2h0M938.4 1181.7h0M399.2 964.3h0M538 1156.1h0M680 1111.8h0M612.8 1145.5h0M632.9 1122h0M823.7 1107.7h0M320.9 1072.7h0M705.8 1180.5h0M507.1 1114.5h0M307.5 1008.7h0M894.9 1209.6h0M506.4 1133.4h0M447.7 1096.6h0M853.9 1221.5h0M392.6 1065.6h0M749.3 1103.7h0M857.1 1149.1h0M894.7 1097.7h0M534.6 1037.6h0M448.9 1060.4h0M255.9 986.3h0M502.5 1119.4h0M355.7 1130.2h0M711.8 1125.2h0M625.9 1053.8h0M884.5 1233.5h0M684.1 1165.1h0M377.2 1050.1h0M458.7 1128.5h0M545.9 1142.1h0M571.4 1199.2h0M888.4 1141.2h0M641.6 1115.7h0M342.9 981.2h0M393.1 1033.5h0M599.7 1106.5h0M273.1 998.2h0M221.7 879.7h0M850.1 1223.9h0M868.7 1157.3h0M588.5 1171h0M577.3 1143.9h0M430.2 1026.9h0M609 1109.3h0M515.3 1107.5h0M653.6 1166.4h0M899.1 1212.3h0M734.9 1194h0M305.4 997.3h0M327.2 1067.9h0M684.9 1136.4h0M917.9 1174.3h0M616.3 1094.4h0M801.7 1256.4h0M395.3 1182.7h0M372.3 924h0M925.2 1104.2h0M834.3 1178.7h0M510.1 1093.2h0M783.8 1128.4h0M648.9 1033.2h0M755.4 1168.2h0M608.9 1230.1h0M679.5 1249.2h0M890 1164.9h0M496.9 1107h0M720.6 1043.5h0M905.5 1181.2h0M245.9 994.9h0M378.4 1087.8h0M447.8 1030.5h0M598.3 1257.9h0M514.1 1112.3h0M889.9 1183.3h0M338.9 1032.8h0M413.2 1037.4h0M267.8 1075.3h0M330.5 990.3h0M340.6 1107.8h0M298.2 1042.6h0M888.9 1154h0M738.6 1183.3h0M273.2 1020.4h0M762.5 1186.8h0M296.1 984.5h0M557.4 1193.5h0M353.9 1111.6h0M327.3 1116.7h0M568.7 1110.9h0M840.1 1127.2h0M272.3 873.7h0M349.9 1098.4h0M535.1 1166.6h0M901.2 1078.2h0M451 954.3h0M828 1114.8h0M575 1079.2h0M511.9 1163.3h0M741.3 1222.7h0M341.8 1075h0M564.4 1188.7h0M241.8 947.9h0M562.4 1157.9h0M937.3 1175.3h0M264.4 1103.3h0M281.5 1060.8h0M597.6 1217.5h0M880.8 1263.3h0M585.6 1049.8h0M906.8 1279.7h0M421.7 1067.8h0M933.1 1205.1h0M352.4 1073.2h0M749.3 1075h0M432.8 979.8h0M799.4 1147.8h0M242.8 897.6h0M417.4 1028.2h0M873.8 1121.9h0M749.3 1117.1h0M534.8 1136.9h0M891.4 1158.1h0M341.7 943.7h0M339.1 1090.4h0M258.4 958.8h0M669.1 1113.8h0M865.6 1218.6h0M300.5 1140.1h0M741.7 1241.1h0M282.3 900h0M347.1 1058.1h0M239.1 973.7h0M597.7 1098.2h0M255.2 990.4h0M892.1 1206.1h0M302.5 945.1h0M236.2 884.9h0M694.8 1215.6h0M545.9 1165.5h0M759.1 1223.4h0M650.2 1069.1h0M279 1045.3h0M511.7 1117.5h0M922 1143.6h0M413.7 978.1h0M325.9 1021.7h0M842.4 1090.9h0M272.7 1032.8h0M481.5 1103.2h0M936.3 1133h0M820.8 1189.5h0M302.3 1033.6h0M273.9 961.5h0M231.1 1023.2h0M680.9 1220.3h0M779.9 1115h0M344.2 1033.3h0M494 1107.7h0M512 1139.7h0M412.3 1125.7h0M677.5 1148.5h0M573.1 1058.3h0M486.8 1091.6h0M747.9 1023.3h0M408.2 1080.4h0M619 1039.5h0M756.3 1200.9h0M435.4 937.5h0M240.5 883.7h0M222.3 987.2h0M762.3 1209.4h0M781.8 1082.3h0M702.5 1217.9h0M235.7 1035.7h0M381 963.8h0M895.6 1144.4h0M587.2 1127.6h0M330.4 1057.9h0M915.1 1080.9h0M912.8 1220.7h0M377 1094.9h0M708.8 1110.4h0M784.6 1113.4h0M813.3 1101.9h0M865.1 1150.4h0M732.7 1203.6h0M262.5 948.6h0M413.1 1037.3h0M344.8 1026.1h0M644.5 1218h0M578.1 1253.7h0M915.7 1176.9h0M369.4 974.5h0M298.1 953.7h0M239.5 864h0M344.5 1059.6h0M848.4 1166.5h0M628.4 1093.1h0M375.4 994.1h0M600 1188.5h0M653.3 1118.3h0M430.7 1057.3h0M232.8 1010.6h0M694 1152.8h0M603.5 1222.7h0M270.6 979.5h0M270.8 982.8h0M309.8 968.6h0M485.3 1035.3h0M718.5 1113.8h0M620.2 1246.1h0M429.6 1078.2h0M743.4 1215.1h0M378.7 1143.5h0M655.5 1174.1h0M404.6 1000.9h0M640.8 1135.6h0M599 1132.4h0M618.8 1128.4h0M808.3 1033.7h0M781.3 1168.7h0M308 1035.8h0M361.4 1064.6h0M926.6 1085.7h0M668.6 1135.8h0M312.2 1061.1h0M222.8 879.7h0M369.7 1007.4h0M512.4 1068h0M645.4 1125.5h0M843.1 1183.9h0M802.2 1155.8h0M870.7 1133h0M830.3 1177.2h0M828.8 1117.2h0M232.2 929.2h0M730.8 1014.6h0M315.3 915.7h0M599 1149.2h0M509.4 1085.9h0M678.1 1098.2h0M401.7 1087.1h0M304.6 1034.6h0M398.5 1001h0M260.1 893.8h0M326.7 954.9h0M869.5 1109.7h0M851.4 1079.1h0M896.4 1165.2h0M356.4 995.1h0M431.7 1061.2h0M864.5 1033.4h0M836.7 1180.9h0M521.5 1140.4h0M255.2 932.2h0M794.4 1259.4h0M803.5 1114.9h0M886.9 1265h0M781.3 1082.4h0M491.6 1021.9h0M460.6 1101.9h0M660.8 1130.4h0M492.2 1149.5h0M905.5 1200.9h0M521.5 1079.6h0M516.1 1039.8h0M918.5 1142.4h0M383.7 1072.8h0M427.7 1060.6h0M267.8 1045.8h0M876.2 1141.8h0M560.8 949.7h0M506.9 1083.8h0M846.4 1164.7h0M863.5 1123.2h0M350 1027.4h0M297.6 900.5h0M837.1 1097.9h0M902.3 1134.8h0M576.2 1106.6h0M714.3 1140.4h0M232.9 1046.2h0M538.8 1015.3h0M269.9 894.3h0M301.6 1006.1h0M254.8 1014.8h0M571.1 1157h0M241.9 972.3h0M496.3 974h0M704.5 1083h0M271.6 955.7h0M365.5 1085h0M330.1 1063.9h0M550.8 1060.3h0M763.2 1098.2h0M330.5 1029.9h0M854.1 1176.2h0M317.5 962.4h0M343.8 990.8h0M379.3 975.3h0M744.8 1141.7h0M225.9 1051.9h0M495.2 1100.1h0M403.2 928.3h0M568.2 1070.8h0M472.3 1088.6h0M277.6 969.5h0M314.8 1147.8h0M907.1 1066.6h0M316.3 1068.3h0M870.4 1101.6h0M900 1037.8h0M619 1154.7h0M865.3 1120h0M489.9 1067.3h0M407.4 1082.1h0M780 1214.4h0M428.1 1067.1h0M386.3 936.5h0M529.4 1116.1h0M238.1 855.7h0M903.5 1146.4h0M852.6 1115.9h0M709.9 1097.9h0M848.7 1153.8h0M377.9 1008.3h0M384.8 1122.4h0M318.5 991.5h0M301 994.2h0M236 847.7h0M281.5 978.3h0M378.2 1094.1h0M279.9 969.8h0M287.7 933.8h0M283.6 1069.1h0M407.3 1075.2h0M500.2 1066.8h0M243.2 1055.8h0M774.4 1197.6h0M403.1 1117.8h0M465.8 1151.1h0M826.6 1045.6h0M232.3 1029.7h0M555.1 1081.8h0M260.4 950h0M229.4 940.8h0M841.9 1114.1h0M666.3 1178.5h0M521.3 1138.9h0M779.2 1218.6h0M901.7 1116.5h0M603.5 1138.4h0M514.5 1089.6h0M221.8 1048.1h0M894.7 1139.7h0M752.4 1090.8h0M285.6 924.8h0M508.6 977.6h0M374.5 1026.2h0M893.9 1175.5h0M411.4 1093.7h0M308.5 1001.9h0M304.1 968.6h0M228.6 919.3h0M300.5 1043h0M258.9 1043.6h0M282.4 1072.8h0M245.3 1006.9h0M377.3 919.1h0M674 1181.7h0M844.8 1194.5h0M311 1145.8h0M282.4 1010.9h0M739.1 1165.1h0M664.3 1112.1h0M826.7 1070.4h0M293.5 946.1h0M691.1 1233.3h0M397.7 1056.2h0M335.4 1103.5h0M462.3 1112.9h0M811.1 1155h0M784.9 1204.2h0M802.8 1123.3h0M373.8 1015.1h0M511.7 1106.2h0M329.5 1017.8h0M358.6 1005h0M805.9 1133.1h0M286.3 1007.7h0M868.5 1148h0M908.4 1215.6h0M502.3 1222.7h0M615.7 1107.8h0M908.4 1194.7h0M708.6 1178.5h0M762.3 1075.9h0M725.9 1099.3h0M255 979.9h0M757.5 1122.7h0M691.1 1095.9h0M435.6 1025.5h0M247.6 966.5h0M444.7 1036.2h0M583.4 1138h0M449.7 1130.1h0M603.7 1206.5h0M474.2 1074.2h0M335 977.5h0M884.5 1235.4h0M230.3 995.1h0M631.1 1147.9h0M779.4 1180.6h0M235.8 889.3h0M516.4 1070.5h0M776.3 1138.3h0M680.2 1191.2h0M464.8 1047.7h0M436.7 1033.6h0M240.9 937.3h0M545.7 1146.6h0M787.4 1169.6h0M791 1141.1h0M702.8 1150.6h0M541.7 1133.7h0M374.3 1164.4h0M397.4 1075.7h0M327.4 916.3h0M428.8 1104.5h0M225 973.5h0M513.1 1068.1h0M757 1122.5h0M429.6 1008.8h0M815.4 1104.5h0M586 1069.1h0M758.3 1086.8h0M937 1214.6h0M285.3 957.5h0M479.9 1068h0M322.6 958.7h0M303.6 898.1h0M704.5 1122.1h0M224.1 936.5h0M612.8 1100.6h0M411 1103.5h0M490.6 1140.2h0M682.3 1059h0M301.7 949.8h0M733.9 1191.7h0M750.6 1229h0M607 1112.7h0M867.7 1094h0M581.4 1155.1h0M614 1173.4h0M231.3 936.1h0M788.4 1139h0M438.6 1079.5h0M687 1137.4h0M539.9 1084.5h0M316.5 928h0M530.3 1128.1h0M881 1190.9h0M657.5 1073.4h0M289.9 899.3h0M573.8 1099.7h0M856.4 1179.4h0M237 960.8h0M222.1 918.7h0M786.5 1242.6h0M612.1 1073.2h0M732 1044.7h0M424.7 1001.7h0M590.6 1137.9h0M312.5 1063.2h0M292.6 855h0M583.1 1149.6h0M812.3 1123.1h0M575.7 982.9h0M231.3 1023.2h0M223.3 1065.4h0M739.8 1070.6h0M452.3 1199.7h0M343.1 988.8h0M382.3 1056.5h0M872.5 1198.1h0M531.1 1037.6h0M305.8 922.3h0M332.4 1146.1h0M258.8 998.7h0M893.7 1155h0M514.9 1128.3h0M510.5 1034h0M256.9 982.7h0M393.5 1058.6h0M779.8 1128.1h0M806.5 1200.8h0M509.4 1138.5h0M396.3 1071.4h0M903.4 1082.9h0M424.4 1032.7h0M391.9 937.5h0M308.7 972.7h0M539.3 1052.3h0M803.9 1029.4h0M559.3 1130.1h0M788.8 1154.4h0M425.1 949.2h0M681.9 1124.7h0M329.5 1032.2h0M516 1034.5h0M414.8 1037.4h0M409.5 1033.6h0M738.5 1125.7h0M355.6 1055.6h0M548.7 1106.6h0M451.2 1137.1h0M840.9 1203.8h0M363.5 1056.9h0M441.1 1037.9h0M699.8 1141.3h0M406.3 1063.5h0M717.3 1174.8h0M922.7 1091.5h0M450.6 1131.5h0M571.7 1133.6h0M233.9 971h0M771.7 1133.3h0M459.2 1038.4h0M233.6 1045.7h0M348.1 1003.9h0M668.6 1172.9h0M544.1 1212.1h0M934.4 1122.2h0M895.3 1142.8h0M595.7 1129.5h0M326.8 1015.8h0M401.4 1036.8h0M575.6 1099.7h0M771.9 1078.9h0M845.9 1057.1h0M835.6 1173.4h0M754 1110h0M514.3 1077.1h0M597 1145h0M381.1 1037.5h0M586.1 1103.5h0M459 1069.5h0M582.7 1082.1h0M243.2 915.7h0M277.6 1013.5h0M659.3 1117.9h0M495.5 1024.3h0M359.2 1059.6h0M912.4 1174.9h0M232.3 966.3h0M886.7 1261.3h0M806.3 1128.1h0M221.5 875.2h0M831.9 1181.4h0M705.5 1138.1h0M357.6 1083.6h0M681.3 1074.7h0M885.3 1083.9h0M260.4 876.8h0M407.7 1021.2h0M299.5 1016.5h0M828.3 1185.8h0M298.3 1076.4h0M283.5 986.2h0M278.5 951.8h0M800.7 1140.4h0M344.2 969.6h0M912.2 1150.8h0M242.7 884.4h0M515.5 1140.6h0M252.3 887.1h0M332.9 949.5h0M333.4 1041.1h0M588.6 1114.8h0M356.8 1095.9h0M436.3 968.6h0M822.1 1075.6h0M619.9 1070.4h0M225.2 961.3h0M386.9 1025.6h0M625.1 1151.1h0M419 1120.1h0M315.7 1010.1h0M283.4 1000.5h0M446 1095.3h0M281.1 1036.3h0M524.8 1102.7h0M368.3 1035.8h0M315.1 1047h0M411.6 1040.7h0M836.3 1116.3h0M269.4 991.8h0M264.9 957.2h0M273.9 985.7h0M585.3 1081.6h0M237 887.7h0M285 981h0M411.4 1188.1h0M223.4 883.5h0M498.4 1160.5h0M802.8 1041.9h0M410.2 1051h0M320.8 947h0M304.8 884.9h0M359.2 1120h0M307.2 972.5h0M233.1 915.5h0M903.3 1164.8h0M665.7 1271.3h0M638.7 1142.9h0M275.9 916.4h0M798.6 1178.2h0M258.3 938.3h0M688.3 1127.2h0M795.8 1105.7h0M519 1112.2h0M337.8 1101.1h0M918.5 1075.5h0M247.5 993.6h0M390.5 1065.2h0M627.8 1175.2h0M641.2 1071.2h0M338.1 924.9h0M388.6 1005.4h0M477.9 1116.2h0M920.9 1159.9h0M934.2 1237h0M281.9 967.9h0M815 1254.4h0M474.6 943.3h0M377.1 1050.9h0M501.6 1034.1h0M309.3 1046.5h0M712.1 1187.6h0M692.6 1231h0M375.5 1006.1h0M240.1 961.8h0M726.1 1099.3h0M921.3 1115.8h0M301.1 961.4h0M926.1 1144.2h0M584.7 1165.3h0M366 1037.3h0M743.2 1163.8h0M744.7 1190.7h0M445.1 1084.6h0M597.6 1054.5h0M356 1058.6h0M608.6 1069.8h0M342.6 1029.8h0M450.9 1109.1h0M764.3 1123.6h0M766.7 1082.2h0M665.8 1183.4h0M859.6 1174.8h0M752.5 1173.8h0M617.8 1172.2h0M668.8 1145h0M301.6 883.8h0M247.6 969.9h0M373 969.1h0M739.5 1108h0M928.4 1166.5h0M356.1 961.8h0M922.3 1140.9h0M787.9 1144.6h0M321.7 924.5h0M572.5 1131h0M384.9 1000.7h0M728.8 1186.8h0M445.9 1065.9h0M472.3 1064.8h0M595.2 1058h0M406.3 939.2h0M764.8 1057h0M624.5 1110.8h0M253.5 876.5h0M592.9 1065.4h0M502.4 1081h0M879.6 1087.1h0M900.3 1197.7h0M257.7 979.3h0M221.8 975.1h0M631.6 1052.7h0M546.3 1109.2h0M289.5 1035.3h0M849 1152.2h0M649.7 1208.6h0M639.4 1186.4h0M314 1025.1h0M293.6 977h0M293.9 977.9h0M241.6 881.1h0M397.4 1019.9h0M939.3 1123.9h0M463.7 1141.8h0M791.5 1150.1h0M821.8 1152.6h0M573.7 1067.2h0M796.1 1142.3h0M266.8 969.1h0M267.6 977.9h0M347.9 1094.6h0M280.1 950.9h0M280.8 1095.6h0M249.6 1096.1h0M235.7 1004.2h0M289 993.7h0M348.7 999.5h0M410.2 1078.8h0M933.3 1070h0M638.7 1111.9h0M884.6 1210.1h0M851.9 1236.6h0M891.1 1105.3h0M468.9 1069.3h0M366.7 998.5h0M270.2 1056.7h0M261.3 855.6h0M369.7 953.3h0M924.1 1100h0M713.7 1173.9h0M782.4 1192h0M242.7 924.4h0M863.8 1157.7h0M271.5 932.9h0M778.1 1204.8h0M242.3 927.4h0M896.4 1167.5h0M256.1 841.6h0M319.1 989.1h0M512.1 1154.8h0M328.3 929.6h0M304.8 1091.5h0M452.1 1051.6h0M230.4 887.7h0M602 1222h0M721.3 1126.3h0M544.6 1108.2h0M592.7 1118.2h0M375.1 1146h0M524.6 1116.6h0M636.1 1111.5h0M882.4 1202.8h0M561.2 1122.6h0M925.2 1165.7h0M475.3 1051.5h0M621.2 1229.3h0M715.9 1128.3h0M264.8 1013.9h0M797.7 1143.6h0M796.1 1206.8h0M292.7 913.9h0M660.5 1156.5h0M485.5 1105.4h0M332.4 955.6h0M268.9 1023.1h0M306.1 946.9h0M878.3 1103.1h0M789.8 1102.3h0M721.3 1095.8h0M332.8 958.3h0M718.5 1203.3h0M387.6 1064.7h0M552.1 1114.4h0M262.1 992.7h0M865 1172h0M439.2 1104.2h0M687.6 1167.1h0M293.7 961.7h0M342.4 1078.3h0M738.4 1129h0M694 1224h0M622.8 1130.4h0M470.7 1042.8h0M643.8 1029.1h0M859.5 1125.5h0M790.4 1206.9h0M762.9 1202h0M276.2 996.8h0M510.8 1039.9h0M853.5 1231.3h0M393.5 1007.4h0M568.7 1130.4h0M354.6 966.6h0M508.1 1092.4h0M368.2 1025.4h0M836.4 1138.5h0M857.7 1153.1h0M450.2 1088.4h0M763.4 1152.6h0M770.7 1171h0M834.6 1127.5h0M721.4 1131.5h0M359.4 1105.2h0M645.3 1101.1h0M387.1 962.2h0M528.3 1132.3h0M255.5 1004.5h0M232.6 917h0M864.9 1087.7h0M518 1062.4h0M540.7 1058.4h0M641.9 1032.9h0M240.2 987.5h0M655.6 1071.6h0M710.3 1114.3h0M784.1 1173.1h0M551.5 1229.8h0M556.1 1063.9h0M417.2 1087.6h0M255.5 1023.1h0M348 1017.7h0M341.8 1051.4h0M764.5 1261.6h0M634.4 1028.9h0M892.8 1146.3h0M336.1 1116.2h0M760.3 1133.8h0M674.1 1150.8h0M517.7 1084.4h0M705.9 1153.5h0M326.5 1017.3h0M721.6 1101.2h0M388.5 1129.1h0M570.3 1062.7h0M665.9 1212.8h0M272.1 943.5h0M911.1 1149.8h0M294.5 1028.8h0M851.9 1188.4h0M914.5 1170.2h0M272.2 916.6h0M510.3 1018.7h0M762.3 1175.6h0M640.6 1057.5h0M927.4 1186.1h0M690.9 1119.1h0M296.4 1077.5h0M577.7 1100.2h0M269.1 978.7h0M562.5 1084.6h0M292.8 1012.3h0M535.2 1086.6h0M766.6 1173.6h0M240.8 1027.5h0M314 936.4h0M259.6 979h0M321.9 973.1h0M459.6 1045.7h0M230.1 898.8h0M421.2 1068.1h0M672.9 1073.8h0M520.1 1161.8h0M296 924.1h0M480.6 1024.8h0M232.9 962.1h0M309.6 1028.2h0M495.7 1034.9h0M319.1 943.3h0M580.2 1073.7h0M295.4 1000.2h0M749.3 1107.9h0M799.4 1072.8h0M794.1 1219.9h0M737.8 1163.8h0M619 1090.3h0M825.1 1195.4h0M293.5 989.9h0M249 1005h0M432.5 1127h0M916.3 1254h0M522 1138.6h0M587.2 1157.6h0M383.3 1052.1h0M418.9 1122.5h0M742 1050.8h0M593.2 1237.6h0M246.5 919.8h0M447.2 1162.1h0M473.8 998.3h0M293.4 1015.5h0M243.6 915.6h0M695.1 1161.1h0M229.4 916.4h0M400.8 1145.1h0M625.7 1205.2h0M762.2 1216.1h0M388.5 949.5h0M266.4 984.4h0M871.4 1118.9h0M670.2 1091.1h0M740.9 1140.9h0M672.7 1187h0M693.7 1195.4h0M264.9 904.8h0M299.7 885.4h0M843.5 1159.2h0M407.9 936.5h0M628.7 1073.8h0M700.5 1046.1h0M558.4 1179.4h0M258.3 983.5h0M599.8 1128h0M524.2 1110.1h0M406 1051.4h0M509.5 1070.2h0M597.6 1166.4h0M244.3 961.3h0M465.2 1154.3h0M347.2 1032.2h0M546.8 1129.2h0M329.8 1048.7h0M497.4 1039.6h0M519.8 1068.5h0M319.4 1003.4h0M372.6 958.5h0M597 1107.6h0M631.6 1125.3h0M872.6 1135.1h0M638 1177h0M590.5 1156.2h0M924.2 1198.2h0M920.7 1149.5h0M560 1070.7h0M533.1 1140.5h0M891 1184.4h0M449 1087h0M789 1154.2h0M336.4 966.8h0M329.8 1050.5h0M237.4 1049.9h0M548.6 1138.9h0M456.3 1089.9h0M351.8 1052.3h0M276.4 966.4h0M263.9 1050.4h0M855.8 1073.6h0M765.2 1136.5h0M761.6 1037.3h0M642.8 1157h0M592.9 1094.6h0M518.7 1125.1h0M237.1 925.9h0M496.9 961.2h0M832.4 1088.3h0M369.4 994.7h0M516.5 1087.6h0M751.8 1172h0M598.6 1105.6h0M734.6 1203.6h0M722.4 1162.3h0M460.7 1109.4h0M492.9 1082.2h0M256.6 953h0M466.2 1123.7h0M892.5 1102.8h0M263.5 1101.6h0M358.7 1017.4h0M822.5 1198.2h0M752.4 1196h0M299 1058.5h0M806.3 1222.4h0M920.5 1220.1h0M426.6 1104.1h0M306.3 1006h0M319.2 1041.6h0M386.5 992.9h0M380.2 968.8h0M267.2 982.4h0M260.4 1066.8h0M453.7 1033.6h0M731.2 1211.8h0M934.2 1221.3h0M864.3 1210.1h0M849.8 1141.9h0M921.2 1131.9h0M547.1 1144.7h0M465.2 1058.4h0M357.9 1057.9h0M404.5 1031.3h0M379.8 997.3h0M385.3 1109.5h0M491.5 1035.8h0M261.9 937.1h0M302.1 955.3h0M500.1 1025.1h0M237.1 892.6h0M804.4 1195.4h0M704.3 1172h0M260.6 924.1h0M746.5 1166.4h0M917.7 1173.6h0M762 1125.2h0M403.7 1087.3h0M624.2 1152.8h0M705.7 1180.2h0M806.8 1178.5h0M475.9 1098.8h0M382.5 1069.3h0M477 1041.6h0M247.6 983.3h0M822.1 1127h0M670 1148.1h0M568.4 1151.1h0M583.7 1114.5h0M906 1165.9h0M242.1 996.5h0M861.7 1094.3h0M407.6 967.9h0M546.8 1231.2h0M505.3 993h0M423.3 1028.7h0M460.8 994h0M596 1197.5h0M417.5 1139.5h0M360.1 1098.9h0M224.5 872.7h0M427.8 1037.3h0M560.6 1039.6h0M252.4 992.4h0M251.1 1044.2h0M835.4 1095.5h0M226.5 961.4h0M277.2 948.9h0M444.9 1039.8h0M327.3 972.2h0M666.5 1099.9h0M583.6 1070.8h0M490.6 1158.2h0M472 1079.7h0M246.6 990.7h0M710.5 1142.4h0M820.7 1177.6h0M248.1 1013.8h0M394.9 900.5h0M511.7 1154.4h0M381.2 974.5h0M706.5 1174.8h0M712.7 1010.9h0M332.3 967.1h0M354.2 1089.3h0M868.2 1117.4h0M614.6 1116h0M327.8 1055.8h0M447.6 1176.2h0M497.2 1191.7h0M697.7 1079.5h0M791.8 1132.5h0M777.4 1119.1h0M294.7 956.5h0M269.9 943.4h0M655 1205.5h0M691.9 1124.7h0M274.3 1008.4h0M557.6 1184.7h0M781.9 1069.8h0M734 1121.5h0M820.8 1210.4h0M577.2 1144.8h0M512.3 1045.3h0M635.7 1149.1h0M701.4 1090.7h0M376 1046.5h0M725.4 1057.9h0M452 1002.4h0M938.9 1153.1h0M379.9 1113.2h0M754.3 1019.3h0M824.5 1199h0M752.8 1152.3h0M654.5 1144.6h0M836 1095h0M251.7 907.3h0M450.3 1030.4h0M915.4 1203.2h0M560.5 1235.3h0M444.2 1084.5h0M374.1 1075.8h0M405.9 1084.8h0M231.6 864.5h0M696.8 1103.9h0M238.2 893.5h0M728.1 1130.7h0M244.3 910.4h0M310.7 1107.1h0M502.2 1095.1h0M270 949.5h0M249.6 991.1h0M917.4 1090.4h0M890.2 1238.4h0M660.2 1101.9h0M702.6 1189.8h0M310.6 927.1h0M245.4 873.5h0M269.6 934.5h0M540.6 1209.3h0M740.5 1095.3h0M513.7 1141.3h0M453.7 1138.4h0M265.3 1115.9h0M323.9 1133.6h0M490.8 1055.9h0M388.6 969.8h0M491.2 1105.4h0M630.6 1246.3h0M388.3 1028h0M902.9 1172.7h0M575.4 1018.6h0M912.5 1092.9h0M527.3 1121.3h0M602.6 1088h0M927.7 1107.1h0M457.2 958.6h0M304.5 947.2h0M752.6 1111.6h0M366.6 1042.3h0M457.9 977.7h0M453.5 1036.4h0M297.6 1022.4h0M408.1 1060.7h0M402.2 1061.1h0M233.2 979h0M363.5 1099h0M225.6 1033.5h0M648.5 1000.2h0M659.5 1185.5h0M394 1085.8h0M785.7 1219h0M475.5 1049h0M267.6 992.2h0M253.7 1006.1h0M247 913.1h0M913.2 1098.8h0M586.9 1175.4h0M905.9 1240.9h0M355.9 1007.5h0M350.9 1054.6h0M815.6 1139.9h0M432.5 1057.3h0M676.5 1090.7h0M610.5 1136.4h0M344.8 1037.5h0M701.6 1157.6h0M673.6 1249.3h0M926.6 1148.3h0M844.3 1156.6h0M699.8 1168.4h0M439.5 1094.7h0M633.3 1208.9h0M382.2 1075.5h0M884.8 1225.1h0M660.1 1080.6h0M327.8 982h0M777.1 1087.2h0M742.7 1191.5h0M343.3 1011.9h0M931.8 1174.6h0M540.5 1017.2h0M308.3 955.7h0M307.3 887.7h0M234 920.3h0M315.9 996.5h0M725.7 1098.2h0M306.6 983.8h0M512.6 1015.3h0M668.5 1150.7h0M338.4 1010.7h0M632.9 1034.4h0M662.1 1189.9h0M579.6 1111.9h0M234.5 991.8h0M628 1106.1h0M283.4 948.6h0M244.7 942.9h0M823.8 1190.6h0M808.1 1149.7h0M870 1200.6h0M282.7 893.2h0M416.4 1060.2h0M233.1 1076.4h0M428.8 1062.9h0M302.3 945.7h0M308 988h0M776.8 1114.5h0M239 886.6h0M774 1233.1h0M530.5 1134.7h0M237.2 881.5h0M429.4 1177.1h0M633.2 1112.7h0M673.8 1169.5h0M447.4 1068.4h0M629.3 1095.9h0M309.3 941.9h0M255.5 996.2h0M767.5 1189.8h0M337.8 957.2h0M825.2 1131.9h0M890.5 1114.7h0M346.4 990.1h0M393.9 972.7h0M595.4 1206.3h0M405.3 1141h0M257.1 871.2h0M571.8 1120.9h0M303.4 1127.9h0M583.7 1072h0M336.2 1072.7h0M441.1 976.1h0M778.9 1179.7h0M302.2 920.6h0M880.3 1180.7h0M687.1 1146.3h0M661.3 1063.1h0M656.6 1207.4h0M392.1 1171.2h0M262.3 1012.6h0M675.3 1124.8h0M462.7 1071.4h0M837.5 1165.3h0M361.7 1027.1h0M724.1 1188.7h0M716.3 1219h0M710.5 1142.1h0M628.4 1141.5h0M391.6 1044.6h0M900 1134.4h0M407.2 1052.8h0M402.7 1037.3h0M817.2 1121.6h0M875.3 1193.6h0M326.1 1067.6h0M236.4 879.8h0M592.7 1121.6h0M832.6 1176.1h0M892.8 1182.1h0M386.9 1006.5h0M785 1183.6h0M739.8 1118.1h0M822.8 1162.9h0M795.9 1127.6h0M659.4 1193.4h0M515.2 1135.5h0M481.9 1036.5h0M677.2 1108.2h0M375.3 1160.8h0M600.4 1139.5h0M275.8 1050.8h0M403.5 1026.6h0M235.7 1024.5h0M263.9 944.1h0M269.8 887.8h0M259.4 929.3h0M328.4 1021.3h0M313.2 1081h0M827.8 1172.8h0M572.2 1207.8h0M250 941.1h0M329.8 973.6h0M783.1 1128.4h0M636.6 1158h0M410.4 992.4h0M230 928.6h0M456.4 1150.8h0M425.1 1008.8h0M400.5 1068.6h0M908.3 1103.7h0M790.5 1128.7h0M750.1 1069.1h0M456.9 1128.4h0M808 1136h0M839.1 1140.6h0M602.7 1113.8h0M483.1 999.4h0M394.2 1050.2h0M571 1097.8h0M331.2 1092h0M338.6 1018.8h0M780.3 1089.7h0M298.1 1032.5h0M296.5 1137.9h0M857.6 1163.2h0M257.1 922.1h0M269 928h0M263.9 950.4h0M267.6 940.2h0M259.5 965.4h0M321.5 959.6h0M328.3 1040.1h0M281.3 929.9h0M272.2 1064.2h0M885 1109.8h0M909.1 1143.6h0M669.9 1131.6h0M712 1093.5h0M416.1 1069.4h0M498.7 1063.2h0M455.6 1162.4h0M667.5 1150.7h0M367.9 1096.5h0M396.6 972.4h0M300.5 1008.5h0M232.3 978.3h0M894.8 1174h0M651.4 1030.1h0M308.8 976.8h0M363.9 1038.4h0M273 977.2h0M582.6 1128.7h0M462.6 1087.1h0M222.6 918.4h0M295.1 1039.7h0M368.2 837.1h0M612.2 1159.7h0M718.4 1136.1h0M769.2 1190.7h0M773.6 1206.1h0M359.2 1108.6h0M800.4 1202.4h0M342.9 1067.1h0M256.2 895.7h0M375.6 956.6h0M396.9 1058.9h0M251.9 1043.9h0M687.3 1158.2h0M326 1047.8h0M352.1 1046.1h0M624.1 1126.2h0M497.3 1011.4h0M923.8 1061.4h0M246.4 950.4h0M307.9 1096.4h0M534.3 1141.7h0M306.4 1003.3h0M714.8 1098.7h0M518.3 1174.9h0M555.4 1149.7h0M624.8 1209.7h0M677.4 1143.4h0M527.8 1042.7h0M391.2 1065.9h0M673.5 997h0M296.5 1021.5h0M424 1092.4h0M622.4 1181.6h0M457.5 1111.1h0M232.6 910.8h0M733.1 1146.2h0M731.2 1154.4h0M617.3 1144.2h0M425.3 1067.6h0M504.5 1084.3h0M681 1125.1h0M294.8 1037h0M812.2 1115.6h0M662.7 1047.9h0M709.5 1011.4h0M254.3 1031.1h0M477.7 1203.3h0M896.2 1129.9h0M697.7 1180.8h0M294.8 1028.3h0M830.4 1125.6h0M423 990.9h0M242.2 1152.2h0M662.4 1204h0M490.3 1189.4h0M474.9 1113.8h0M279.8 892.5h0M352.6 1005h0M737.9 1193.4h0M894.3 1153.5h0M249.3 941.8h0M608.1 1035.7h0M393.7 1013.9h0M632.6 1176.5h0M355.7 993.3h0M868.9 1152.6h0M451.1 1081.7h0M648.7 1143.5h0M490.7 1067.8h0M686.7 1189.4h0M676.5 1022.9h0M419.8 1071.5h0M229.2 949.1h0M390.8 1067h0M737.7 1122.3h0M570.3 1193.9h0M390.3 1109.9h0M248 1026.1h0M418.5 1016.6h0M566.2 1040.7h0M693.8 1172.6h0M722.4 1126.3h0M453.6 1077.1h0M701.5 1209.5h0M240 1063.1h0M507.4 1093.5h0M660.9 1008.4h0M806.4 1182.3h0M894.1 1121.1h0M702.3 1203.5h0M695.1 1122.8h0M505.4 1051.2h0M518.2 1074.7h0M424.8 938.1h0M870.6 1085.3h0M449.6 1148.2h0M375.5 1075.2h0M783.3 1114.9h0M544.7 1110.7h0M499.8 1128.2h0M871 1166.4h0M262 1022.8h0M278.2 1034.2h0M583.8 1040.9h0M244.3 976.2h0M843.5 1241.7h0M287.3 1008.1h0M397.9 932.9h0M826 1218.3h0M517.3 1143.6h0M581.2 1168.6h0M494.2 1117.4h0M852.3 1252.8h0M424.2 1111.4h0M871.9 1118.7h0M433 1123.9h0M376.9 1076.4h0M936.5 1218.2h0M276.4 966.1h0M306.7 1041.5h0M621.6 1113.6h0M888.5 1225.7h0M815.8 1161h0M701.3 1160.8h0M231 1017.7h0M260.2 1058.9h0M765.6 1138.5h0M765.6 1176.3h0M923.1 1173.2h0M448.4 1180.3h0M582.3 1164.8h0M393.7 1150.6h0M277.8 1009.7h0M686 1097.9h0M688.6 1219.6h0M260.7 998.5h0M598.1 1175.5h0M812 1218.3h0M741.4 1120.8h0M412.6 982.3h0M227.3 874.4h0M368.2 1027.7h0M307.7 965.9h0M460.4 1020.9h0M528.5 1127.6h0M525.3 1209h0M312.5 1010.7h0M433 1060.6h0M360.9 1024.1h0M812.5 1137h0M767.8 1176h0M886.9 1152.6h0M473.9 1011.1h0M275.4 989.1h0M340.3 1015.9h0M444.4 1028.7h0M465.4 1042.6h0M407.1 976.3h0M346.2 1091.8h0M867.8 1043.8h0M509.1 1124.5h0M701.5 1177.3h0M353.3 991.4h0M689.4 1117.2h0M688.7 1157.5h0M856.2 1269.8h0M389.4 1104h0M894.2 1104.4h0M812 1116.3h0M316.1 1036.6h0M316 1012.1h0M461.5 958.1h0M939.1 1163.3h0M676.3 1192h0M309.5 932.7h0M537.6 1066.8h0M741.5 1213.5h0M256.1 914.3h0M720.9 1080.4h0M673.4 1171.1h0M297.4 985.3h0M315.5 1014.9h0M230.5 1034.1h0M468.5 1126h0M664.5 1028.1h0M373.2 1110.6h0M243.4 926.4h0M255.5 1074.7h0M596.2 1084.8h0M854 1202.3h0M674.3 1212.7h0M227 881.2h0M232.9 864.5h0M925.7 1153.3h0M492.2 1147.1h0M263.6 983.6h0M267.6 992.8h0M717.4 1060.1h0M800.9 1187.3h0M459.6 973.3h0M414 1062.1h0M253.4 985.6h0M924.2 1226h0M275.7 1079.9h0M826.2 1144.4h0M621.9 1163.4h0M836 1208.5h0M596.3 1150h0M606.8 1118.6h0M562.3 1113.7h0M277.9 928.9h0M908 1132.1h0M686.3 1099.6h0M890.1 1190.4h0M817.2 1145.4h0M254 992.6h0M744.9 1056.6h0M575.2 1016.3h0M351.9 1036h0M600.4 1119.1h0M917.9 1036.2h0M238.5 877.6h0M665.7 1001.3h0M486.7 1113h0M543 1079h0M681.2 1094.2h0M343.5 1161.1h0M249.4 962.2h0M312.9 1037h0M469.9 1007.8h0M654.8 1226.9h0M533.7 1088.4h0M765.6 1097.7h0M388.9 952.6h0M291.3 960.7h0M223.7 862.7h0M703 1104.8h0M533.4 1166.6h0M255.2 1015.2h0M505.5 1224.5h0M689.9 1116.8h0M449.8 967.6h0M802.8 1130.3h0M366 1049.4h0M272.2 923.5h0M475.4 1136.6h0M286.5 1070.5h0M384.6 972.2h0M304.2 905.3h0M579.5 1055.4h0M809.7 1174.9h0M733.4 1168.6h0M271.3 943.5h0M248.1 1041h0M625.8 1126.3h0M750.7 1129.7h0M420.5 1087.8h0M522.3 1093.7h0M507.1 1059.8h0M539.3 1088.2h0M276.5 910.4h0M555.7 1234.8h0M388.6 1180.4h0M578.3 1220.1h0M265.3 973.5h0M412.4 949.9h0M286 969.3h0M736.2 1167.6h0M884.6 1214.3h0M322.2 1010.7h0M470.4 1126.9h0M499.9 1147.5h0M620.2 1130.4h0M350.5 1034.6h0M234.2 960.4h0M815 1178.6h0M531.7 1057.4h0M706.4 1121.8h0M514.4 1184.2h0M385.7 1108.5h0M241.4 937.8h0M618.9 1131.7h0M567.4 1166.1h0M226.5 926.5h0M307 1054.4h0M886.3 1202.1h0M704.1 1184.9h0M358.4 982.9h0M458.4 1019.8h0M664.6 1086.5h0M802.4 1166h0M295.7 1081.6h0M659.9 1079.7h0M596.3 1155.3h0M697.8 1106.5h0M280.6 899.7h0M234.1 914h0M260.6 932.6h0M394.2 1051h0M583.5 1184.9h0M258.7 906h0M576.6 1089.2h0M803.3 1160.6h0M732.5 940.6h0M281.8 954.9h0M666.7 1183.5h0M248.3 941.1h0M427.7 1097.3h0M714.3 1100.4h0M749.8 1225.2h0M929.8 1235.4h0M389.4 1041.9h0M561.3 1121h0M655.5 1095h0M761.3 1183.7h0M833.7 1150.2h0M421.6 1027.3h0M320.6 1045.3h0M240.2 921.6h0M739.5 1069.2h0M261.5 918.1h0M373 1033.2h0M800.3 1104.1h0M903.5 1133.8h0M506.4 1026h0M749.3 1117.6h0M467.5 1077.7h0M390.2 1094.4h0M592.8 1123.7h0M292.9 1058.6h0M522.7 1137.8h0M663.8 1136.8h0M901.6 1072.5h0M841.6 1208.2h0M353.6 1051.4h0M267.6 1052.3h0M254.6 910.9h0M253.4 955.2h0M932.6 1105.9h0M330.8 974.5h0M445 1062.8h0M710.1 1171.7h0M357.4 1025.7h0M485.4 1070.9h0M290.6 1025.1h0M767.4 1022h0M435.6 969.3h0M323.2 1079.6h0M408.1 962.1h0M605.8 1143.6h0M502.5 1061.8h0M408.5 1097.8h0M404.5 1028.7h0M440.3 1095h0M523.7 1128.9h0M449.4 936.3h0M675.6 1174.2h0M255.3 1009.5h0M279.1 849.1h0M281.1 1059.5h0M449.3 1027.7h0M917.9 1064.3h0M492.4 990h0M470.8 1093.8h0M243.1 994.7h0M317.7 977.7h0M237 893.1h0M364.1 1090.4h0M342.5 1077.1h0M275 1056.4h0M317.4 1046.1h0M336.1 849.8h0M225.1 1036.3h0M529.6 1132.5h0M384.8 1074.2h0M797.7 1112.4h0M750.3 1216.8h0M515.5 1103.5h0M851.9 1069.4h0M425 1051.2h0M258.8 934.6h0M814.1 1190.5h0M902.4 1258.4h0M245.3 1013h0M470.7 1096h0M236.6 949.2h0M658.1 1120.4h0M787.6 1159.2h0M276.5 1038.2h0M712.4 1130.7h0M568 981.3h0M320.5 1036.8h0M374 992.3h0M353 924.3h0M348.4 1110.5h0M572.5 1170.3h0M392.1 1039h0M858.8 1095.7h0M458.6 1075.4h0M233.9 917.4h0M721.9 1170.6h0M265.9 880.9h0M350.2 1029.1h0M678.4 1062h0M255 908.9h0M531.2 1163.8h0M710 1160.4h0M637.4 1177h0M695.7 1178.6h0M800.9 1093.8h0M706.2 1184.6h0M815.1 1141.8h0M500.1 1158.1h0M786.2 1147.3h0M721.5 1136.7h0M227.2 845.4h0M275.9 1112.8h0M857.2 1191.4h0M506.3 1133.6h0M453.9 1084.4h0M279.5 947.1h0M280.4 1002h0M444 1062.1h0M350.3 999.2h0M682.4 1155.6h0M927.5 1151.8h0M628 1060.7h0M240.3 857.7h0M282.7 975.7h0M413.1 1062.7h0M714.5 1059h0M858.2 1146.6h0M741.8 1037.2h0M286.2 1016.6h0M677.1 1074.3h0M755 1101.8h0M516.2 973.9h0M357.1 1027.7h0M561.8 1114.9h0M508 1162.5h0M442 1026.1h0M231.2 960.7h0M384.8 1040.5h0M727.6 1165h0M421 1067.4h0M660.5 1222.3h0M488.3 1069.6h0M358.1 991.1h0M723 1133.5h0M873.5 1130.3h0M709.7 1148.1h0M725.9 1167h0M477 944h0M828.5 1123.8h0M923.4 1128.8h0M615.4 1099.6h0M412.5 996h0M286.5 1070h0M258.8 953.6h0M666.3 1064.3h0M446.6 1047.7h0M402.5 1127.5h0M618 1168h0M244.1 888.2h0M591.5 1131.2h0M689.8 1143.5h0M721.6 1121.9h0M233.7 927.2h0M262.7 929.8h0M768 1200.5h0M835.5 1185.2h0M844.7 1177.5h0M578.4 1222.7h0M429.8 898.1h0M785.8 1117.3h0M453.2 1062.3h0M887.4 1097.7h0M552.1 1125.7h0M260.1 1040.9h0M235.3 869.1h0M851.4 1080.5h0M421.2 1009.2h0M337.4 1116.8h0M260.1 1048.3h0M429.9 930.8h0M286.4 1078.5h0M225.3 984.8h0M768.4 1119.2h0M465.5 1134h0M752 1155.1h0M807.5 1065.2h0M859.3 1167.2h0M338.1 1113h0M704 1131.8h0M311.6 1001.5h0M353.2 981.2h0M355.9 992.7h0M917.7 1196.8h0M848.6 1138.7h0M730.3 1124.6h0M344 1091.9h0M297.4 981.6h0M737.2 1233.8h0M572.2 1116.5h0M793.8 1227.5h0M276 1102.7h0M443.2 1071h0M573.7 1136.7h0M775.7 1139.3h0M516.1 1057.6h0M240.3 943.9h0M492.4 1159.2h0M724.1 1148.7h0M603.1 1069.6h0M790.9 1147.4h0M719.6 1139.9h0M623 1074h0M712.8 1170h0M369.9 929.8h0M329.2 1108.7h0M294.4 1007.3h0M494.8 1110h0M336 984.6h0M386.2 1094.6h0M770.4 1057h0M356 956.6h0M253.4 908.6h0M512.3 1015.9h0M455.6 927.3h0M237.6 878h0M510.6 1055.7h0M515.7 1136.4h0M847.1 1099.5h0M652.9 1198.8h0M371.7 1034h0M903.7 1158.4h0M808.6 1180.8h0M851.2 1205.7h0M467.5 1072.4h0M364.1 1010.5h0M821.9 1203.9h0M778.6 1249.8h0M659.7 1052.4h0M276.4 1052.1h0M486.5 1045.6h0M293 1135.9h0M894.9 1204h0M381.3 1069.1h0M828.2 1077.8h0M729.3 1111h0M578.2 1157h0M257.1 1001h0M399.3 1046.5h0M252.6 929h0M290.4 1021.5h0M484.5 1047.2h0M244.5 1060.2h0M488.3 1179.6h0M691.8 1176h0M755.2 1179.7h0M768 1136.1h0M341.2 1067.5h0M233.2 973.5h0M861.1 1114.8h0M533.2 1058.1h0M365.6 941.1h0M297.8 1061.2h0M807.2 1078.8h0M274.6 970.1h0M793.6 1186.7h0M689.7 1175.6h0M345.4 928.4h0M844.7 1113.3h0M865 1105h0M277.5 877.3h0M539.3 1175.2h0M547.9 1066.1h0M487.2 1057.5h0M906.4 1087.8h0M506.2 1101.1h0M679.4 1085.5h0M863.6 1155.4h0M841.2 1086h0M616.4 1107.3h0M895 1184.7h0M508.3 1078h0M727.5 1146.1h0M262.1 970.5h0M471.4 1113.2h0M424.6 1136.2h0M601.4 1126.5h0M258.4 949.8h0M296.9 946.4h0M570.8 1145.1h0M910.3 1107.5h0M875.7 1143.7h0M577.3 1161.8h0M351.8 1030.7h0M705.7 1245.8h0M405.9 1022.1h0M357.2 921.3h0M541.2 988.6h0M262.8 896.4h0M273.8 903.6h0M756.4 1135.7h0M404.3 1162.8h0M287.4 1044.2h0M539.5 1165.4h0M346.7 1102.9h0M934 1177.5h0M537.7 1037.9h0M669.7 1073.5h0M847.9 1190.7h0M534.6 1141.9h0M693.1 1152.1h0M506.8 1041.9h0M800.4 1186.1h0M544.3 994.8h0M503.3 1100.1h0M867.2 1243.6h0M506.7 1078.8h0M421.8 1105.3h0M832.9 1179.4h0M610.4 1037h0M663.9 1058.8h0M527.8 986.1h0M523.4 1058.9h0M810.4 1213.4h0M277 1017.2h0M893.6 1107.9h0M621 1245.5h0M723.6 1137.7h0M939.8 1082.4h0M737.1 1171.1h0M239.4 902.7h0M781.3 1138h0M761.4 1274.6h0M890.1 1212h0M384.7 1108h0M786.7 1115.7h0M745.6 1067.2h0M624.5 1085.1h0M753.1 1019.1h0M376.7 1013.9h0M235.8 874.1h0M595.6 1100.7h0M882.9 1091h0M705.4 1159.9h0M255.9 1077h0M799.3 1151.2h0M727.2 1075.3h0M788.3 1185.6h0M765.9 1155.3h0M682.2 1201.8h0M597.7 1168.5h0M305.9 1066.8h0M567.5 1191.9h0M815.1 1131.8h0M906.5 1243.5h0M337.1 1015.9h0M685.6 1196.1h0M419.3 1046.2h0M615.3 1095.4h0M433 1061.3h0M349.2 912.7h0M615.2 1128.6h0M450 1025.2h0M489 1088h0M835.9 1170.7h0M650.7 1111.9h0M375.6 979.6h0M253.5 1028.7h0M571.1 1116h0M267.6 931.1h0M229.2 932.6h0M721.3 1083h0M267.3 970.5h0M272.3 947.8h0M258.3 984.8h0M534.2 1085.7h0M373.7 1048.4h0M526.8 1068.6h0M552.9 1162.8h0M254.9 969.9h0M564.2 1120.5h0M245.2 921.2h0M402.3 1120.5h0M326.7 1136h0M753.6 1128.9h0M773.9 1210.5h0M704.9 1118.1h0M347.1 1081.8h0M380.1 1053.3h0M438.9 1156h0M368.1 1030.2h0M597.7 1043h0M394.5 945h0M238.5 972.8h0M247.3 942.5h0M268.4 999h0M371.5 951.2h0M793.1 1231.3h0M846.9 1081.7h0M585.8 1188h0M242 1042.3h0M259.4 993.1h0M727.4 1121.2h0M377.4 971.2h0M565 1143.9h0M784 1214.9h0M781.1 1238.8h0M934.9 1120.8h0M638.6 1172.9h0M447.3 999h0M564.6 1194.2h0M523.9 1113.3h0M463.7 1104.7h0M940.7 1164h0M839.3 1185.3h0M465.8 1158.1h0M900.4 1131.1h0M926.7 1128.8h0M525.9 984.3h0M614.3 1056.2h0M531.7 1187.4h0M578.7 1017.4h0M757.2 1137.2h0M719 1130.9h0M264.3 1115.1h0M223.6 836.7h0M622.3 1086.6h0M403.1 1141.8h0M756.2 1088h0M253.4 906.7h0M382.7 1075.6h0M341.6 974h0M734.3 1134.6h0M465.8 987.1h0M557.4 1112h0M240.9 951.8h0M407.4 1050.7h0M457.9 1024.8h0M694.1 1054.5h0M627.6 999.4h0M279.3 936.2h0M618.2 1076.7h0M257.2 959.9h0M473.6 1042.2h0M789.9 1138.5h0M720.1 1240.4h0M537 1224.8h0M272.1 1003.8h0M580.4 1149.5h0M407.1 1053.9h0M923.1 1189.4h0M810.4 1150.2h0M579 1065h0M689.8 1136h0M761.7 1186.9h0M881.7 1115h0M673.4 1188h0M489 1096.4h0M325.8 992.6h0M781.4 1165.7h0M283.5 928.6h0M246.6 939.5h0M758 1142.6h0M719.2 1114.7h0M471.2 1063.3h0M804.7 1210.8h0M852.3 1215.9h0M482.5 1102.8h0M241.3 859.4h0M308.2 1001.1h0M499.1 1067.5h0M376.3 1042.4h0M290.1 1111.3h0M471.9 1085.6h0M511.3 1070.7h0M678.7 1135.2h0M262.3 1003.6h0M606.5 1129.4h0M932.4 1082.9h0M365.4 1074.2h0M551.3 1123.2h0M431.8 1011.5h0M464.4 1098.4h0M279.1 1049.3h0M582.2 1120.5h0M646 1181.5h0M327.1 977.8h0M291.2 889.8h0M277.6 995.8h0M524.9 1084.2h0M861 1177.8h0M239.6 912.2h0M275.8 931.5h0M779.9 1151.3h0M427 1003.1h0M259 946.6h0M730.2 1236.6h0M393.5 1119.7h0M921.1 1149.2h0M465.9 1150.8h0M535.9 1176.3h0M922.5 1156h0M577.8 1123.6h0M347.7 983.6h0M384.1 1037.3h0M801.4 1068.4h0M462 1067.4h0M434.3 1031.9h0M228.1 939.9h0M232.4 1047.8h0M303.5 1017.6h0M401 945.3h0M927 1208.9h0M564.9 1132h0M246.7 986.3h0M561.8 1014.8h0M407.2 1027.5h0M839.3 1136.7h0M257.6 926.6h0M575.9 1064.1h0M733.8 1158.9h0M444.9 1016.7h0M268.3 1011.5h0M659.5 1247h0M264.5 968.1h0M551 1079.9h0M783.6 1249.4h0M335.9 1131h0M713.1 1098.8h0M358.9 1084.1h0M700.7 1178.5h0M357.1 1006.1h0M513.8 1098.2h0M464.5 1054.4h0M637.6 1140.8h0M267 1013.6h0M639 1138.1h0M537.5 1054.6h0M804.8 1180.7h0M260.8 980.8h0M435.4 932.4h0M693.6 1121.9h0M262.9 1065.8h0M335.5 1118.3h0M285.9 1010.6h0M765.2 1132.6h0M386.9 932.3h0M308.1 865.7h0M655.5 1077.9h0M384.4 912.4h0M607.1 1195.4h0M749.3 1209h0M640.2 1145.8h0M782.4 1122.7h0M370.7 994.2h0M719 1137.8h0M620.8 1092.8h0M475.4 1122.9h0M650.9 1176.6h0M646.5 1135.3h0M313.6 1005h0M233.6 1005.6h0M580.4 1018.7h0M349.3 1059.5h0M510 964.9h0M459.9 1195.9h0M574.8 982.7h0M326.8 974.7h0M631.4 1133.6h0M713.1 1115.6h0M361.2 1044h0M428.5 962.8h0M342.3 1067.1h0M812.6 1175.7h0M891.5 1161.6h0M292.8 1039h0M422.4 1034.2h0M783.1 1219.1h0M483.8 1157.7h0M355.9 995.5h0M510.9 1177.8h0M228.2 906.4h0M245.9 996.4h0M591 1082.9h0M884.5 1216.1h0M909.3 1146.1h0M674.7 1060.2h0M396.1 917.1h0M221.5 920.4h0M282.4 876.2h0M246.4 909.5h0M741.3 1118.1h0M723.9 1144.3h0M377.4 1080.7h0M722.5 1105.9h0M556.6 1167.3h0M406.8 1076.9h0M771.7 1178h0M377.4 1027h0M649.2 1187.8h0M303 1006.2h0M244.5 900.6h0M708.3 1203.7h0M500.7 1113.4h0M289 937.6h0M937 1117.7h0M529.6 1039.5h0M871.3 1176.2h0M925 1068.4h0M605.2 1222.5h0M507.4 1147.5h0M393.4 1112.7h0M524.8 1134.6h0M483.3 1061h0M299 1007.2h0M338.9 973.1h0M794.4 1175.8h0M844.9 1096.9h0M529.1 1076.2h0M934 1155.9h0M628.7 1140.3h0M412.8 1107.2h0M714.4 1141.1h0M226 953.9h0M745.6 1198.1h0M928 1206.5h0M354.5 1065.7h0M329.5 1047.8h0M351.9 940.8h0M429 1067.6h0M610.8 1100.3h0M785.2 1077.2h0M394.7 1017h0M609.4 1173h0M815.9 1168.5h0M777.1 1123.2h0M275.5 1047.1h0M429.6 1086.3h0M478.8 1005.8h0M619.9 1194.3h0M509.6 1186.6h0M444.1 1010.7h0M482.4 1009.3h0M639.3 1135.3h0M260.8 930.4h0M512.8 1144.9h0M866.7 1095.7h0M623 1124.1h0M724.9 1190.9h0M758.5 1154.3h0M856.5 1189h0M267.1 927.4h0M262.7 926.2h0M321 973.7h0M413.5 1085.5h0M255.8 952.1h0M635.9 1304.9h0M745.4 1140.7h0M747.5 1213.4h0M517.9 1059.3h0M498 1193.5h0M394.1 1047.5h0M902.9 1152.1h0M777 1134.2h0M787.6 1182h0M556.7 1059.9h0M266.1 999.9h0M285.2 970.6h0M312.1 927.1h0M895.3 1206.7h0M280.5 1008h0M570.4 1117.3h0M695.5 1083.8h0M788.1 1135.1h0M562.2 1119.2h0M655.2 1166.6h0M473.2 982.5h0M798.2 1124.9h0M281 1018.8h0M325.3 1004h0M420.9 915.4h0M627.7 1114.7h0M422.1 1064.5h0M271.7 949h0M824.7 1192.2h0M281.3 1097.4h0M373.2 979.8h0M873.4 1207.9h0M724.5 1227h0M634.1 1231.6h0M699.5 1221.8h0M408.6 991.1h0M246.7 961.2h0M442.5 1123h0M316.7 1002.6h0M636.1 1150.1h0M524.3 1093.8h0M862.9 1171.3h0M394.7 1029.9h0M362.4 926.2h0M717.2 1064h0M244.6 973.4h0M333.7 1123.7h0M733.9 1255.3h0M240.9 1000.6h0M285.2 1018.1h0M698.4 1144.2h0M465.5 1068.9h0M244.5 968.5h0M309.4 987.7h0M713.3 1213.7h0M447.8 1088.9h0M646.5 1154.4h0M854.1 1159h0M934.4 1264.7h0M709.3 1148.6h0M448.9 1055h0M660.3 1138.9h0M874.4 1028h0M805.6 1095.4h0M535 1097.9h0M874.7 1205.7h0M258.5 1015.5h0M483 1087.1h0M569.2 995.7h0M484 978.1h0M340.2 1007h0M868.2 1051.4h0M833.9 1088.2h0M291.8 1001.4h0M337.7 900.2h0M771.2 1197.6h0M246.3 908.3h0M390.2 978.5h0M570.6 1148.9h0M642.2 1101.2h0M821 1093.4h0M391.8 1069.4h0M403.4 963h0M308.3 1048.3h0M397 1038.6h0M693.6 1105.7h0M459 1072.7h0M624.5 1210.1h0M667.8 1046.5h0M616.4 1082.9h0M483.8 1093.8h0M544.1 1130.1h0M821.6 1082.6h0M445.6 1131.3h0M342.8 934.4h0M356.5 1040.6h0M402.8 1122.2h0M317.5 980h0M924.5 1203.5h0M306.5 938.5h0M757 1130.3h0M600.6 1150h0M938.2 1132.3h0M387.4 1055.9h0M834.9 1142.4h0M296.9 866.9h0M380.9 1026.2h0M520.1 1143.5h0M818.6 1137.4h0M631.8 1100.6h0M752.7 1119.9h0M542.1 1130.4h0M257.7 1079.1h0M296.5 1091.8h0M408.3 1043.1h0M305.9 1045h0M897.7 1201.8h0M567.2 986h0M823.5 1189.7h0M927.6 1143.6h0M886.2 1208.9h0M284.4 936.4h0M242 959.7h0M695.4 1134.2h0M438.5 1059.1h0M528.5 1099h0M829.2 1162h0M649.8 1123.8h0M771.3 1129.4h0M722.3 1057.1h0M522.9 1142.2h0M440.7 1003.3h0M660 1198.2h0M864.3 1160h0M814.7 1237.3h0M805.3 1210.2h0M385.8 1090.2h0M338.9 1185.1h0M689 1040.5h0M543.5 1082.4h0M919 1104.5h0M329.4 1112.3h0M917.6 1229h0M892.6 1160.5h0M228.3 1043.6h0M334.4 965.9h0M736.4 1185.1h0M593 1115.6h0M331.2 1001.2h0M803.7 1246.2h0M754.9 1159.2h0M255.6 949.6h0M477.6 1094.1h0M851.9 1158.2h0M421.1 1013h0M640.7 1169.6h0M614.5 1154.1h0M318.5 922.1h0M709.5 1161.3h0M405 1008.4h0M482.1 1017.7h0M377.3 1148.8h0M349.6 1046.4h0M707.1 1096.5h0M265.7 976.1h0M608.1 1080.6h0M668.4 1227.1h0M744.4 1142.6h0M393.4 982.6h0M253.3 905.7h0M617.6 1138.3h0M251.3 943.8h0M868.1 1204.6h0M222.5 1082.5h0M788.8 1121.4h0M529.7 1132.4h0M496.2 1031h0M450.2 957.1h0M237.3 1048.4h0M633.7 1121.8h0M545.1 1091.7h0M579.5 1153.3h0M537.7 1277.8h0M811.9 1182.7h0M482.2 1099h0M843.6 1151.8h0M454.6 1082.5h0M588.8 1045.3h0M343.4 960.4h0M310.2 1081.5h0M919.2 1152.2h0M764.8 1125.4h0M620 1082.7h0M682.9 1143h0M792.8 1201.2h0M650.4 1141.7h0M905.9 1098.2h0M252.8 892.5h0M609 1060.5h0M250.6 923.8h0M462.2 984.1h0M631.5 1080.5h0M664.3 1082.3h0M260.3 968.8h0M651.7 1021.9h0M638.3 1100.7h0M226 907h0M293.7 1078.6h0M531.1 1190.8h0M795.5 1194.1h0M448.8 1063.1h0M708.3 1184.6h0M279.4 1054.5h0M819.6 1145.4h0M691 1109.3h0M340.4 1161.7h0M284.5 1130.9h0M627.4 1087h0M806.2 1097.9h0M587.6 1128.1h0M228 1035.6h0M399.6 1074.8h0M516.2 1078.7h0M223.9 935.6h0M237.1 882.3h0M492.5 1089.1h0M258.5 871.5h0M772.2 1240h0M469.7 1140.5h0M816.5 1175.5h0M473.5 1010h0M435.9 1158.4h0M705.8 1209.8h0M625 1106.1h0M560.5 1073.6h0M324.3 1050.8h0M310 1021.9h0M876.2 1086.2h0M480.1 907.5h0M894 1169.5h0M333.8 1032h0M645.9 1169.6h0M699.9 1161.4h0M782.4 1245.6h0M356 988.1h0M726.4 1090.9h0M256 892.8h0M912.9 1058.2h0M300.7 984.4h0M565 1184.3h0M903.2 1227.4h0M460.4 1056h0M591.7 1092.3h0M553.1 1077.8h0M655.3 1049.7h0M658.8 1114.5h0M421.7 974.8h0M234.5 925.4h0M613.7 1176.4h0M839.3 1161.7h0M677.4 1102.9h0M914.3 1182.3h0M300.6 915.4h0M375.6 1052.4h0M827.5 1151.6h0M224.5 915.5h0M400.2 965h0M235.1 1024.6h0M367.4 1094.1h0M757 1215h0M387.1 1116.1h0M279.9 1031.5h0M424.1 1068.7h0M705.2 1153.8h0M670.5 1122.5h0M653.3 1096.1h0M861.9 1163.1h0M501.4 1106.3h0M581.6 1130.9h0M729.7 1202.9h0M261.4 1051.2h0M627.3 1102.2h0M852.4 1165.9h0M522.4 1086.2h0M785.5 1213.1h0M831 1148.7h0M837.5 1167.6h0M546 1136.2h0M695 1224.9h0M246.3 919.6h0M626 1132.3h0M610.6 1010.2h0M930.3 1093.5h0M677 1181.5h0M353.1 1031.3h0M251.7 1043.7h0M814.4 1252.9h0M512.3 1123.5h0M896.4 1084.6h0M816.6 1158.3h0M520.6 1077.5h0M861.7 1172.5h0M328.2 1121.3h0M763 1342.5h0M305.2 1142.6h0M552.8 1069.5h0M798.3 1142.4h0M607.8 1155.9h0M789 1124.1h0M416.4 1065.4h0M636.3 1028.3h0M315.2 1040.9h0M889.9 1092.3h0M685.4 1173.8h0M544.7 1166.5h0M714.3 1166h0M890.1 1136.5h0M313.4 989.7h0M457.4 1099.9h0M640.4 1219.9h0M509.4 1137.4h0M541.9 1135.7h0M792.8 1203.3h0M270.4 970.1h0M367.8 1010.6h0M298.9 994.5h0M328.3 966.2h0M550.3 1141.6h0M708.8 1130.6h0M416.3 1132.9h0M501.6 1062.6h0M504.2 1051.7h0M712.9 1251.5h0M223.9 969.5h0M630.4 1111.6h0M888.2 1159.5h0M684.8 1123.1h0M225.2 940.6h0M613 1105.2h0M336.1 993.4h0M850.1 1084.3h0M288.3 1118.4h0M764.5 1148.6h0M413.4 1069.1h0M739 1238.2h0M340.4 1034.3h0M865.1 1136.7h0M721.2 1155.2h0M256.5 1008.8h0M363.3 1102.3h0M281.2 959.3h0M290.7 921.1h0M467.4 1140.7h0M309 1076.2h0M845 1139.4h0M346.2 1099.2h0M571 1115.3h0M357.4 1092.2h0M611.4 1193.3h0M625 1077.6h0M232.8 928h0M254.4 931.8h0M928.4 1210.9h0M721.7 1108.3h0M871.4 1130.4h0M629.3 1150h0M766.5 1147.7h0M255.9 929.8h0M439.1 1229.6h0M595.2 1053h0M585.3 1054.4h0M447.4 1075.2h0M242.1 842.3h0M546.8 1070.2h0M893.8 1135.5h0M692.9 1140.8h0M760.4 1227.6h0M932.7 1186.8h0M905.9 1165.8h0M774.5 1118.6h0M866.9 1107.9h0M368.8 1034.3h0M869.9 1114.1h0M521.8 1048h0M269.1 976.2h0M368.7 833.2h0M816.8 1216.2h0M851.2 1121.8h0M828.5 1114.3h0M831.3 1200.1h0M923.7 1149.8h0M512 1090.5h0M239.8 906h0M249.9 1005.1h0M689.5 1224.9h0M490 1024.2h0M334.6 1035.2h0M358.8 970.8h0M252.4 963.6h0M473 1030.9h0M904.8 1173.7h0M713 1113.3h0M323.5 1026.6h0M457.4 1146.8h0M660.8 1192.5h0M795.9 1131.7h0M378.2 1052.1h0M714.6 1207.2h0M310 1145.2h0M265 1005.6h0M302.1 1010.4h0M594.5 1218.4h0M624.7 1139.5h0M810.8 1190.7h0M694 1173.2h0M884.7 1216h0M636.6 994.3h0M384.2 1015.9h0M656.3 1072.7h0M407.5 982.8h0M926 1251.6h0M373.5 1083.1h0M347.1 1047.9h0M578.9 1161h0M406.6 999.9h0M402.2 1022.3h0M374.6 1023.1h0M275.3 931h0M779.7 1176.7h0M229 1000.2h0M761.2 1159.6h0M702.2 1161.2h0M816.7 1207.2h0M250.5 922.6h0M862.9 1103.1h0M365.9 1048.4h0M475.6 1065.5h0M781.2 1143.5h0M698.2 1188.9h0M686.1 1180.5h0M801.1 1178.6h0M675.2 1133.1h0M924.5 1206.6h0M845.9 1184.6h0M822.7 1129.4h0M861.2 1150.7h0M860.7 1051.2h0M854.3 1208.7h0M769.7 1253.8h0M636.9 1024.1h0M324.3 915.2h0M747.7 1096.2h0M399.2 1076.4h0M600.8 1220.3h0M365.6 1089h0M417.8 1160.1h0M446.5 1027.8h0M681.2 1170.1h0M773.7 1065.8h0M580.9 1071.2h0M258 1004.4h0M710.7 1228.7h0M545.8 1163.1h0M686.4 1159.5h0M359.9 1054.1h0M622 1230.5h0M362.2 1167.5h0M572.6 1044.8h0M358.4 1121.7h0M468.4 990.1h0M464.7 1017h0M800 1139.9h0M340.1 1021h0M232.7 902.4h0M827.6 1151.7h0M397.8 1045.8h0M451.1 1044.8h0M934.7 1187.5h0M249.5 943.6h0M414.8 1092.1h0M613.8 1211.3h0M255.7 951.3h0M708.8 1040.7h0M337.4 973.5h0M334.3 938.2h0M310 1075.2h0M300.2 1098h0M244.4 866.3h0M658.2 1057.1h0M335 914.1h0M257 990.5h0M357.7 1070.2h0M796.9 1237.3h0M665.6 1099.7h0M258.3 981.5h0M327 1084.2h0M784.5 1255.1h0M651.6 1277.6h0M595.7 1072.1h0M721.3 1240.7h0M748.6 1184.6h0M248 1041.2h0M481.7 1094.6h0M310.8 967.8h0M257.4 989.1h0M664.8 1195.7h0M618 1114.9h0M802.4 1069.8h0M690.6 1130.3h0M477.5 980.3h0M263.2 954.8h0M321.7 891.2h0M831 1235.6h0M235.7 1060.7h0M892.9 1105.8h0M558 1109.1h0M494.6 951.3h0M612.4 1175h0M933.3 1201.3h0M801.5 1085.7h0M871 1101.6h0M750 1273.1h0M235.1 882.4h0M923.4 1130.7h0M678.3 1165.3h0M380.1 1035.2h0M281.6 980h0M644.6 1039.6h0M422.3 1100.7h0M765.7 1205.1h0M305.1 1077.4h0M635.9 1156.2h0M886.4 1101.5h0M288 933h0M523.5 1070.8h0M357.1 1041.3h0M319.3 900.8h0M927.8 1129.5h0M270.7 1006.2h0M610.3 1092h0M816 1144h0M525.1 1157.8h0M366.5 1103h0M242 903.3h0M658.6 999.9h0M599 1180.6h0M397.8 1075.1h0M864.2 1142.3h0M542.2 1061.6h0M550.7 1114h0M887.4 1093.2h0M534.3 1154.8h0M405 990.7h0M848.5 1164.5h0M597.1 1112.1h0M811.6 1128.3h0M571.4 1187.8h0M226.1 902.9h0M651.7 1170.6h0M368.7 1040.5h0M249.2 920.9h0M356.5 1026.6h0M631.9 1173.2h0M474.8 1017.5h0M625.8 1068.1h0M639.5 1086.2h0M924.7 1061h0M516.9 1063.3h0M638.5 1266.1h0M390.8 1034.9h0M657.6 1011.4h0M266.6 1050.7h0M428.3 1090.5h0M452.5 1121.3h0M837.9 1109.1h0M223.6 904.7h0M329.6 1012.8h0M390 1034.4h0M280.1 1028.1h0M423.2 1091.2h0M756.3 1111.6h0M503.9 1064.8h0M819.7 1169.8h0M227 1012.1h0M223.1 850.6h0M696.5 1139.3h0M291.4 1042.2h0M747.4 1211.6h0M554.3 1089.5h0M403.3 1051.3h0M624.4 1106.8h0M242.3 941.4h0M829.1 1067.3h0M517.5 1134.6h0M570.2 1107.6h0M436.1 1112.1h0M335.1 1018.5h0M916.5 1192.3h0M414.6 1062.2h0M468.7 1042.1h0M290.5 1029.2h0M369.4 1058.6h0M444.6 1026.3h0M818.1 1178.9h0M820.6 1113.1h0M790.4 1070.6h0M566.8 1079.6h0M808.2 1142h0M238 930h0M586.6 1093.1h0M483.1 1084h0M457.2 1136.1h0M262.5 919.5h0M937.9 1225.7h0M897.1 1195.1h0M337.6 1010.6h0M258.9 896.9h0M767.2 1222.5h0M456.2 938.2h0M233 927.6h0M552.7 1097.9h0M285.3 976.2h0M685.7 1103.4h0M615.5 1181.2h0M225.5 932.7h0M370.3 1057.1h0M658.9 1131.2h0M691.6 1090.3h0M643.1 1126.5h0M281.5 1029h0M728 1084.3h0M936 1139h0M445.7 935.2h0M324.2 978.1h0M791.3 1160.3h0M569.5 1094h0M236.2 1037.3h0M321.2 1036.6h0M309.1 883.5h0M761.7 1118.2h0M734.9 1174.8h0M835.6 1122h0M323.5 928.1h0M539.7 1040.3h0M620 1135.2h0M709.7 1148.6h0M833.3 1186h0M438.5 937.4h0M237.3 880h0M526.4 1068.5h0M662 1124.7h0M299.3 1008h0M571.3 1131.1h0M394.2 1067.7h0M766.4 1138.8h0M619.6 1105.1h0M596.8 1082.7h0M230.4 1026.6h0M268.2 948.1h0M523.4 1058.5h0M573.3 1062.5h0M457.5 1071.8h0M324.3 1005.4h0M288.4 974.8h0M301.1 937.2h0M597.1 998.6h0M572 1143.2h0M465.3 1093.8h0M681.4 1238.9h0M748.1 1268.5h0M827.9 1275.6h0M396.1 984h0M717.7 1092.5h0M841.2 1184.2h0M544.4 1123.4h0M747.3 1133h0M244.1 973.6h0M347 1032.8h0M836.9 1063.8h0M739.5 1168.8h0M534.8 1160.8h0M727.4 1116.8h0M787.2 1152.7h0M590.8 1098.1h0M759.4 1072.3h0M240.7 950.3h0M885.7 1115.1h0M831.4 1152.3h0M674.8 1091.5h0M301.2 971.7h0M247.9 889.5h0M553.5 1231h0M225.8 871.1h0M227.6 934.7h0M258.8 928.8h0M460.3 1101h0M897.1 1203.8h0M844.3 1216.1h0M377 1176.5h0M348.8 962.5h0M416.4 948.6h0M631.6 1177.8h0M676.2 1221h0M309.1 1013.9h0M380.1 993h0M349.8 1017.8h0M549 1107.5h0M449.5 1086.9h0M516.2 1168.4h0M403.5 1137.2h0M340.3 1145.7h0M422.6 994.6h0M244.4 928.6h0M558.1 1173.9h0M353.2 1045.3h0M645.5 1216.5h0M764.9 1131.6h0M294.4 1034.4h0M431.4 1139.4h0M684.1 1182.9h0M363.5 1074.6h0M873.5 1214.1h0M391.2 871.1h0M652.6 1144.5h0M573.3 1012.1h0M867 1175.2h0M764.2 1115.3h0M735.8 1227.2h0M247.2 901h0M354.5 1046.9h0M916.5 1116.6h0M301.9 936.6h0M755.9 1115.2h0M935.3 1202.7h0M321.6 1008.2h0M926.8 1221.1h0M787.3 1119h0M223.1 1012.9h0M263.9 943h0M265 939.9h0M353.3 1014.9h0M320.8 1001.8h0M801.8 1157.8h0M836.4 1154.8h0M662.5 1189.6h0M508.1 1019.3h0M674.5 1118.3h0M716.2 1060.2h0M558.5 1061h0M259.7 985.6h0M224.8 949.3h0M329.9 1110.3h0M376.8 1017.8h0M883.8 1242h0M686.6 1150.7h0M641.4 1122.9h0M573.3 1016h0M758.7 1198h0M297.1 1113h0M938.3 1081.9h0M862 1101.6h0M370 1063.6h0M647.6 1119.4h0M630.7 1040.1h0M350.4 1136.8h0M705.7 1158.5h0M891.4 1215h0M514.7 1020.1h0M696.6 1073.6h0M248 1035.1h0M463.5 1055.1h0M446.2 1046.7h0M865.4 1220.5h0M456.9 1072.9h0M235.1 1016.2h0M519.7 1158.3h0M496.8 1084.5h0M368.2 965.7h0M423.4 1004.6h0M227.5 934.9h0M633.6 1045.6h0M915.8 1091.7h0M400.1 942.7h0M418.7 1082.8h0M265.5 928.9h0M875 1196.8h0M904.7 1142.1h0M349.7 946.3h0M853.5 1124.2h0M649.5 1159.7h0M518.3 1088.3h0M258.6 949.3h0M700.2 1110.7h0M735.9 1157.5h0M251.2 879.4h0M322.4 970.7h0M823.9 1033h0M306.9 948.3h0M719.2 1070.7h0M502 1146.4h0M671.3 1131.5h0M554 1065.6h0M901.4 1191.3h0M284.5 1065.5h0M847.1 1078.9h0M228.6 849.8h0M647.1 1168.4h0M274.5 922.7h0M395.4 1185.2h0M881.7 1135.3h0M713.6 1072.6h0M737.2 1072.2h0M488.2 1161.1h0M849.4 1240.9h0M635.3 1122.8h0M717.2 1084.9h0M295.4 983.2h0M252.8 845.9h0M797.2 1163h0M314.5 999.4h0M714.8 1111.3h0M566.7 981h0M419 1086h0M319.2 951.6h0M831 1083.3h0M351.5 999.4h0M222.4 913.3h0M468.4 1059.5h0M576.2 1149.9h0M744.2 1206.4h0M316.4 1067.1h0M559.4 1195.5h0M411.9 1042.6h0M271.5 971h0M752.8 1092h0M500.5 1059.8h0M736.1 1128h0M455.6 1106.1h0M939.6 1181.3h0M381.2 941.1h0M352.5 964.1h0M759.8 1155.3h0M598.6 1213h0M344.8 971.6h0M511 996.2h0M617.4 1038.2h0M602.3 1196.3h0M226.9 955.3h0M893.6 1100.6h0M702.4 1176.2h0M937.5 1143.2h0M630.3 1092.5h0M368.5 1023h0M456.6 1052.3h0M822.5 1088.6h0M697.4 1015h0M432.1 1160.1h0M774.6 1097.4h0M633.5 1174.5h0M505.4 1104.6h0M352 968.2h0M391.8 983.9h0M513.6 1112h0M688.5 1143.9h0M607.4 1063.6h0M391.9 1036.2h0M929.8 1154.5h0M329 970.6h0M479.2 1164.8h0M267.6 984.2h0M509.4 1073.5h0M578.8 1232.9h0M589.2 1182.3h0M621.9 1032.7h0M298.4 1002.7h0M724.2 1172.9h0M516.6 1051.8h0M804.2 1148.7h0M866.9 1062.7h0M867.2 1202.4h0M846.7 1181.5h0M604.3 1091.1h0M570.5 1042.7h0M276.3 1032.1h0M516 1094.9h0M399.4 1011.3h0M571.9 1190.1h0M892.2 1165.6h0M635.5 1116.4h0M227.1 1033.8h0M484.4 1099.3h0M789.7 1210.6h0M379.3 1014.6h0M731.6 1112.1h0M299.9 985.5h0M286.7 1076.8h0M394.7 916.4h0M446.6 935.5h0M767.6 1153.9h0M296.1 1063.1h0M751.3 1173h0M285.6 885.9h0M244.9 1015.2h0M385.3 1015.3h0M290.9 993.3h0M338.5 984.9h0M527.7 1236.5h0M704.4 1154.6h0M675 1244.4h0M463.1 1128.2h0M727.3 1178.4h0M423 984.4h0M364 1091.6h0M445.2 1083.8h0M245.6 899.1h0M837.7 1166.2h0M306.8 1032.9h0M300.8 996.2h0M429.8 1025h0M517 1124.2h0M241.8 888.7h0M814.4 1036.3h0M508.6 1102.1h0M467 1050.9h0M293.5 962.2h0M758.1 1125.2h0M289.3 936.4h0M656.8 1057.8h0M482.8 1159.1h0M467.8 1029.1h0M333.7 940.6h0M532.8 1124.3h0M454.9 1145.5h0M243.5 905.9h0M731 1124.1h0M914.4 1183.5h0M915 1178.5h0M732.5 1195h0M909.8 1252.7h0M659.6 1014.4h0M353.1 1020.9h0M466.9 1087.3h0M618.4 1138.3h0M552.6 1187h0M797.6 1130.5h0M839.4 1178.6h0M471.8 1056.2h0M461 1011.4h0M451.5 1097.6h0M417.6 1031.1h0M555 1092.8h0M401.9 994.7h0M243.1 916.9h0M364.8 1033.6h0M540.9 1154h0M451.4 1008.7h0M656.5 1214.7h0M854.6 1219.1h0M668.5 1100.8h0M579.5 1079h0M562.9 1129.6h0M629.1 1017h0M506.8 1060.6h0M307.4 1060.4h0M906.7 1090.2h0M486.5 1096.1h0M695.4 1124h0M892.3 1117.6h0M373.6 1005.5h0M397.9 1031.2h0M341.1 1010.9h0M679.4 1065.2h0M359.8 1045.2h0M367.9 1121.6h0M303.5 1033.6h0M617 1290.9h0M326.9 934.9h0M371 984.5h0M653.7 1139.4h0M908 1216.5h0M517.1 1079.6h0M221.8 958.2h0M587.9 1104.8h0M232.3 1079.9h0M480.9 1030.6h0M931 1216.9h0M335.2 1032.6h0M230.8 852.4h0M460.8 987.2h0M589.3 1072.2h0M248.8 1020.5h0M937.1 1176.8h0M934 1148.3h0M299.6 1001.6h0M898.9 1161.8h0M412.1 997.8h0M440 1055.3h0M622.8 1089.5h0M822 1031.3h0M564.8 1045.1h0M701 1126.6h0M800 1144.2h0M362.6 974.4h0M338 1015.8h0M326.6 1033.8h0M252.8 930.1h0M315.7 982.9h0M434.5 1021h0M242.6 889.8h0M649.7 1068.6h0M607.9 1070.8h0M787.3 1221.3h0M591.5 1140.8h0M322.2 1032.1h0M517.8 1111.4h0M904.8 1162.5h0M680.1 1065.2h0M835.3 1185.8h0M804.4 1129.8h0M408.2 1102.5h0M400 1060.5h0M622.8 1085.5h0M548.1 1088.4h0M659.9 1228h0M811.9 1087.6h0M430.2 1061h0M860.8 1236.8h0M899.4 1202.2h0M313.1 897.6h0M663.1 1084.6h0M849.7 1201.8h0M329.4 1007.6h0M666.2 1144h0M689.2 1225.4h0M710 1107.5h0M278.2 999.4h0M273.9 941h0M858.4 1184.5h0M241.3 926.5h0M442.2 1066.1h0M492.7 1053.2h0M935.3 1164.5h0M567 1013.4h0M906.9 1187.7h0M429.2 1142.2h0M848.6 1117.3h0M275 920.7h0M818.2 1192.2h0M801.5 1096.6h0M475.9 1043.5h0M883 1171.1h0M361.9 1087.7h0M313.3 1064.6h0M714.5 1109.5h0M249.5 942.8h0M421.6 1092.4h0M935 1207.7h0M671.9 1124.5h0M764.5 1150.9h0M461.4 1058h0M483.6 1152.6h0M849.4 1074.7h0M702.8 1228.1h0M395.4 1184.1h0M494.2 999.9h0M465.3 1062.8h0M920.5 1140.8h0M634.3 1120.1h0M614.6 1175h0M400.1 1085.1h0M359.9 1079.8h0M546.9 1048.3h0M344.4 951h0M684.5 1173.4h0M494.7 1075.3h0M530.7 1079.5h0M248.3 890.2h0M801.5 1213.2h0M826.3 1048.6h0M618.2 1153.5h0M242.2 947.4h0M353 927.5h0M294.7 958.4h0M808.2 1081h0M443.4 995.4h0M480.8 1002.3h0M505.4 1192.3h0M912.7 1207.9h0M860.1 1168.5h0M594.7 1136.8h0M452.5 1082.1h0M277.6 963.8h0M572.5 1154.1h0M797 1114.6h0M868.2 1086.6h0M361.2 1008.2h0M626.3 1057.7h0M404 1002.6h0M511 1062.2h0M898.5 1237h0M327.8 1048.2h0M312.1 983.5h0M244.1 868.2h0M246.8 1037.6h0M447.1 1101.6h0M772.8 1065.4h0M732.7 1112.6h0M810.2 1234h0M769.9 1133.5h0M494.2 1106.7h0M508.3 1090h0M526.5 1098.5h0M525.9 1154.2h0M799.5 1102.5h0M363.3 993.1h0M322.4 1050.7h0M786 1154.4h0M366.3 1008.5h0M718.2 1295.5h0M409.9 1073.2h0M703.2 1113.5h0M839.5 1097.4h0M700.8 1048.7h0M759.6 1173.8h0M641.6 1123.9h0M924.8 1185.9h0M717.2 1163h0M792.5 1103.9h0M719.7 1137.7h0M359.1 937.3h0M466.6 1069.1h0M545.2 1125.7h0M731 1199.3h0M533.7 1182.8h0M823.6 1159.6h0M472.1 1133.5h0M535.3 1009.6h0M808.7 1235.2h0M911 1035.8h0M354.6 1011.5h0M876.8 1204.5h0M305.2 1036.8h0M383.7 1034.6h0M495.5 1128.6h0M827.9 1150.9h0M406.3 1039.3h0M793.6 1190.7h0M580.4 1152.3h0M801.7 1095.5h0M321.1 1020.5h0M840.8 1229.7h0M448.7 1000.7h0M238.2 907.7h0M493.2 1050.6h0M436.3 1030.7h0M268.4 1050.5h0M431.8 1064.8h0M764.7 1092.5h0M644.7 1157h0M562.2 1130.6h0M373.1 906h0M366.3 1065.5h0M229.3 991.3h0M226.8 951.3h0M307.2 1058.3h0M641.6 1119.1h0M935.8 1223.5h0M236.5 929.8h0M287.2 1034.3h0M790.9 1123.1h0M514.4 1049.4h0M754.9 1063h0M666.3 1131.4h0M525.1 1076.2h0M883 1148.9h0M501.2 1104.8h0M594.5 1127.2h0M501.4 998.3h0M325.4 1151.4h0M664.3 1256.7h0M445 1068h0M224.7 1011.8h0M513.5 1131.5h0M485 1174.5h0M296.4 985.1h0M521.9 1084.1h0M234.5 938.9h0M264.1 995.7h0M361.4 987.6h0M256.8 970.3h0M295.8 1072.4h0M507.4 1133.9h0M731 1149.5h0M793.9 1123.6h0M246.5 927.9h0M587.4 1105.9h0M254.8 930.6h0M313.5 984.7h0M807.5 1201.6h0M328.2 1123.2h0M441.8 1157.6h0M829.6 1150.3h0M239 915.9h0M612 1137.3h0M300.9 1026.7h0M517.1 1062.8h0M346.4 1055.7h0M542.7 1105.4h0M643.1 1117.8h0M454.6 1087.1h0M503 1034h0M928.9 1243h0M741 1194h0M879.8 1217.3h0M516.2 1163.8h0M268.8 1001.2h0M468.8 1061.8h0M317.1 1091.4h0M256.2 916h0M841.3 1148.5h0M483.8 1064.5h0M380.9 909.7h0M459.4 1170.8h0M282.9 972.7h0M307.1 934.4h0M646.7 1260.3h0M626.9 1261.8h0M253.7 967.9h0M240.8 875.6h0M742.9 1229.9h0M508 1129.9h0M467.2 1090.6h0M256.6 968.9h0M789 1089.7h0M515.5 1149.6h0M394.4 916.3h0M493.3 1013h0M776.3 1157.6h0M925 1207.1h0M404.8 1106.2h0M455.9 1050.7h0M240.8 868.8h0M497.5 1015.9h0M288.3 1002h0M615.7 1103h0M510 1078.1h0M333.8 1115h0M422.1 1022.4h0M317.1 1000.4h0M582.5 1073.6h0M227.2 837.2h0M311.1 1071.5h0M256.1 1037.3h0M870.3 1147.9h0M868.6 1080.4h0M594.1 1233.4h0M362.1 1033h0M581.2 985.9h0M412.3 992.8h0M404.6 1077.7h0M516.6 1088.6h0M842.4 1225.3h0M551.8 1054h0M889.3 1165.4h0M585.2 1139.5h0M241.3 930.4h0M890 1129.9h0M560.8 1066.2h0M813.6 1146.6h0M937.9 1169.6h0M319.5 1054h0M659.5 1130h0M597.8 1079.1h0M235.7 1015.8h0M661.1 1261.2h0M318.5 1082h0M386.4 977.9h0M468.8 1073.8h0M559.8 1171h0M256.3 937.6h0M846.3 1096.5h0M267.1 967.4h0M430.2 1089.1h0M626.6 1120.1h0M626 1221.1h0M824.5 1136.2h0M343.3 1006.1h0M668.2 1222.7h0M300 976.4h0M693.9 1113.3h0M594.8 1018.8h0M832 1105h0M818.9 1145.8h0M223.2 906.1h0M371.8 1014.8h0M625.9 1175.6h0M438.3 1046.5h0M235.8 1007.6h0M805.6 1190.7h0M905.9 1134.6h0M341.7 1011.2h0M344.4 1021.4h0M292.6 1004.4h0M490.5 1117.2h0M914.1 1132.9h0M450.5 1170.6h0M580.2 1032.4h0M730.6 1105.7h0M506.6 1230.7h0M850 1128.6h0M459.3 1099.1h0M482.3 1108.5h0M864 1225.9h0M419.7 1019.5h0M929.8 1100.3h0M796.9 1115.9h0M240.8 981.2h0M879.1 1212.3h0M308.6 1052.7h0M242.1 928.1h0M703.2 1111h0M592.5 1079.5h0M919.9 1177.5h0M663.2 1166h0M479.5 995.8h0M496 1155.2h0M612.3 1018.7h0M528.9 1132.8h0M539.5 1162.2h0M901.2 1216.1h0M632.9 1141.3h0M568.3 1144.4h0M823.9 1122.2h0M564.9 1066.6h0M530.9 1069h0M332.5 1135.6h0M893.9 1248.9h0M304.1 1035.5h0M487.3 1076.7h0M252.3 1049.6h0M568.9 1105.7h0M327.6 1142h0M611.2 1022.3h0M275.9 969.4h0M282.9 1125.5h0M475 992.8h0M872 1156.3h0M250.8 1023h0M366.5 1069.9h0M384.5 1083.3h0M824.8 1193h0M556.6 1097.5h0M854.7 1166.2h0M852.1 1207.3h0M703.2 1142.7h0M394.6 975.7h0M779.5 1140.3h0M322.4 1064.8h0M576.2 1159.7h0M875.5 1072.6h0M886.5 1128.6h0M708 1195.1h0M221.8 841.4h0M576.8 1100.4h0M894.4 1105.7h0M823.3 1130.7h0M240.3 958.8h0M329.7 1142.4h0M400.7 1060.9h0M539.8 1075.4h0M797.2 1191.3h0M735.6 1116.1h0M694.7 1135.6h0M595.8 1196h0M878.3 1278.2h0M572.8 1135.3h0M425.6 1192.9h0M576.9 1107h0M335.6 993.1h0M572.8 1111.7h0M895.5 1141.2h0M281.8 927.3h0M247.8 984.1h0M373.8 1075.2h0M523.3 1005h0M350.6 1045.2h0M225.4 1029.7h0M301.3 869.5h0M277.3 970.2h0M404 1047.2h0M867.4 1170.7h0M605.3 1169.7h0M935.1 1176.4h0M483.8 1170.5h0M353 1046h0M715 1138.6h0M654.9 1088.6h0M688.6 1175.1h0M568.1 1112.3h0M767.4 1115.1h0M340.3 1211.4h0M865.7 1179.2h0M528.6 993.2h0M779 1145.9h0M750.3 1234.5h0M722.6 1159.4h0M896.4 1204.3h0M739.1 1147.6h0M658.7 1138.4h0M617.1 1073.1h0M449.8 1023.9h0M700.6 1131.1h0M861.4 1178.9h0M239.3 963.9h0M252.7 900.2h0M520.6 1034.1h0M746 1137.4h0M412.3 1188.5h0M368.3 1131.5h0M813.8 1092.4h0M784.3 1193.8h0M362.6 961.9h0M917.9 1150.7h0M316.5 1034h0M704.7 1019.5h0M295.3 984.5h0M262.4 933.7h0M306.5 1065.6h0M272.7 1014.8h0M401.4 919.6h0M414.6 968.1h0M384.5 1054.6h0M430.7 1006.5h0M862.3 1219.4h0M818.8 1148.4h0M384.5 1163.1h0M236.9 967.4h0M799 1180.7h0M307.2 1112.7h0M918.7 1092.2h0M266.8 970.5h0M413.6 940.7h0M498 1023h0M548.4 1066.3h0M828 1089.1h0M239.8 1059.1h0M488.2 1061.6h0M288.6 852.2h0M750 1180h0M253.3 1106.5h0M709.5 1200.9h0M258 930.3h0M373 1119.1h0M784.4 1218.4h0M411.8 1101.3h0M456.8 1024.4h0M423.7 1131.7h0M732 1242.5h0M797.9 1274.7h0M598.6 1170.2h0M232.8 956.5h0M924.5 1162.6h0M416.8 986.6h0M768.9 1126.2h0M365.7 1026.3h0M526.9 1083.5h0M467.6 1030.7h0M329.7 1100.6h0M254.8 973.5h0M656.7 1171.7h0M714.4 1129.4h0M230.2 965.5h0M534.1 1117.6h0M625.1 1148.6h0M545.1 1072.1h0M459 1080.4h0M294.8 1045.4h0M336.9 1093.4h0M252.8 998.1h0M296 954.1h0M828.7 1244.3h0M294.2 1010.6h0M370.8 1103.6h0M453.1 1090.8h0M413.4 1069.6h0M337.4 1011.2h0M243.8 992.1h0M366.2 1117.3h0M561.6 1141.2h0M224.2 950.5h0M524.8 1107.7h0M583.8 1202.9h0M361.7 1006h0M358.7 1055.1h0M289.6 1027.2h0M559.9 1102.6h0M526.2 1123.7h0M846.9 1171.4h0M700.7 1156.6h0M807.1 1228.5h0M270.5 949h0M446.7 926h0M331.6 1036.3h0M520.1 1085.3h0M312.1 897.2h0M670.2 1113.4h0M923.4 1242.1h0M369.5 985.7h0M896.3 1110.6h0M635.7 1097h0M265.5 961.7h0M559.8 1058.3h0M678.2 1088.3h0M253.7 964.1h0M367.2 987.6h0M804.8 1146.1h0M881.6 1151.6h0M279.6 936.4h0M564.5 1074.5h0M858.5 1220.2h0M658 1069.9h0M676.4 1022.6h0M934.5 1251.6h0M335 960.5h0M495.3 1190.8h0M410.7 1085.2h0M836.6 1139.2h0M245.2 896h0M635.8 1133.8h0M782.4 1209.6h0M312 1034.8h0M390.6 1031h0M403.3 964.8h0M571.1 1053.1h0M259.6 987.7h0M516.1 1059.2h0M605.7 1114.4h0M228.8 881.2h0M737.3 1135.3h0M255.6 1009.3h0M237.9 871.1h0M611.5 1256.9h0M819.9 1219h0M258.5 919.3h0M686 1081.3h0M267.2 946.5h0M282.5 1103.6h0M822.6 1101.6h0M712.8 1120.5h0M820.5 1173.5h0M531.3 1012.6h0M251.5 966.5h0M803.5 1082.3h0M396.9 991.1h0M792.5 1144h0M652.3 1171.1h0M908.9 1208.5h0M411.2 1087.5h0M418.6 1028.8h0M603.5 1094.6h0M735.7 1266.6h0M762.7 1098.3h0M633 1045.6h0M228.1 944.6h0M611.6 1255.8h0M346.7 1053.5h0M916.2 1172.2h0M539 1134.9h0M443.1 1143.1h0M863.6 1160h0M774.2 1119h0M396.9 1024h0M667.5 1272h0M597.9 1081.5h0M657.5 1125.2h0M329.4 956.3h0M640.4 996.2h0M645.4 1207.6h0M397 1070.9h0M895.7 1142.5h0M262.8 953.8h0M855.5 1150.7h0M842.4 1205.6h0M673.6 1171.9h0M822.7 1141.3h0M425.8 952.3h0M493.6 1102.8h0M769.4 1177.7h0M682.5 1121.7h0M535.1 1070.9h0M243.5 878.4h0M528.5 1100.5h0M366.4 1006h0M704.6 1183.9h0M705.6 1164.9h0M604 1222.4h0M801.4 1202.7h0M617.7 1157.9h0M513.4 1127.5h0M307.6 1025.3h0M324.4 1090.2h0M298.5 962.4h0M464.4 1013.5h0M722.3 1035.5h0M455.2 1129.6h0M804.8 1134.3h0M553.5 1096.5h0M810 1164.2h0M823 1071.4h0M352.6 1048.9h0M790 1068h0M932.2 1118.8h0M672 1161h0M322.5 924.4h0M842.2 1129h0M563.5 1013.6h0M446.5 1028.5h0M692.1 1135h0M391.6 967.5h0M523.7 1126.7h0M424.7 1148.9h0M551.7 1010.7h0M836.5 1144.8h0M569.9 1115.2h0M354.4 1043.3h0M898.3 1155.5h0M466.9 1070.5h0M227.2 1019.5h0M926.8 1098.3h0M569.2 1044.7h0M390.6 1035.9h0M672 1170.4h0M889.6 1194.9h0M668.6 1134.5h0M229.2 991.1h0M515.3 1090.3h0M250.1 869.5h0M222.1 989.5h0M341.9 1115.8h0M704.1 1085.5h0M223.3 960.2h0M221.8 851.8h0M537.8 986.6h0M436.8 932.8h0M292.3 976.2h0M315.9 1105.7h0M325.1 956.4h0M922.7 1154.1h0M377.8 1061.7h0M887.6 1111.7h0M705.9 1210.7h0M862.6 1103h0M934.5 1103.7h0M806.9 1177.2h0M691.8 1206.4h0M277.3 934.3h0M226 906.5h0M595 1165.2h0M888.4 1208h0M900.1 1044.8h0M601 1141h0M366.7 1107.4h0M709.3 1136.2h0M888.1 1235.9h0M910.7 1176.8h0M227.3 881.8h0M372.3 972.9h0M456.6 1029.3h0M442.1 1076.7h0M331.7 934.3h0M618 1102.3h0M590.6 1082.4h0M702.8 1231h0M400.4 1061.8h0M345.5 1065.1h0M778.4 1099.3h0M419.3 1067h0M355.7 1043.8h0M704.6 1062.1h0M346.7 963.2h0M365.6 1086.5h0M513.3 1053.7h0M291.1 996h0M298.1 1046.1h0M877.9 1077.8h0M445.9 1067.1h0M259.1 1010.9h0M768.7 1122h0M477.2 1117.6h0M920 1224.6h0M693.2 1274.5h0M431 980.5h0M845.8 1242.4h0M278 974h0M818.5 1137.2h0M515.3 1073.7h0M595.1 1192h0M874.5 1117h0M876.1 1164.2h0M233.8 988.7h0M342.9 939.5h0M873.3 1271.2h0M492.9 1092.4h0M278.2 970.2h0M237.1 1041h0M383 983.5h0M701.4 1261.7h0M298.9 1056.7h0M633.7 1169.2h0M313.6 985.4h0M638.5 1077.2h0M564.1 1128.6h0M240.7 858.4h0M459.9 1100.2h0M715.8 1112.5h0M681.8 1202.5h0M510.7 1013.6h0M375.1 1050.5h0M406.5 1027.8h0M264.2 913.3h0M266.2 989.4h0M719.2 1148.4h0M627.6 1162.7h0M748.5 1123h0M708.3 1120.3h0M787.2 1062.4h0M536.2 1145.6h0M355.6 1062.6h0M332.6 1013.8h0M227.9 944.9h0M756.9 1183.1h0M227.9 894.3h0M441.7 1073.9h0M605.1 1193.8h0M304.7 1076h0M929.7 1082h0M226.4 921.7h0M647.8 1164.9h0M577.4 1092.2h0M259 968.3h0M797 1197.6h0M570.2 1083.6h0M668.8 1220.2h0M723.3 1224.3h0M622.1 1039.7h0M693.6 1193.5h0M780.4 1163.5h0M611 1065.8h0M284.1 976.4h0M308 1137.8h0M465.5 1165.3h0M787.4 1196.3h0M524.5 1098.5h0M479.6 1038.1h0M416.1 1066.1h0M496.7 1071.1h0M648 1139.3h0M670.8 1188.3h0M281.8 881h0M769.3 1085.1h0M228.4 999.7h0M422.4 1113.3h0M284.4 965.6h0M670.3 1141.5h0M553.1 1200.8h0M815.5 1163.6h0M850.3 1032.7h0M817.9 1193.4h0M703.7 1142.9h0M922.6 1257.3h0M245.2 993.6h0M610.6 1023h0M316.7 917.3h0M790.9 1188.6h0M347.5 1060.2h0M719.1 1123.7h0M743.7 1161.5h0M588.5 989.6h0M618.1 1096.9h0M899.1 1135.1h0M538.1 1115.1h0M418 1111.7h0M598.1 1112.1h0M372.8 1019.3h0M691.9 1197.2h0M226.6 926h0M605.6 1027.6h0M334.4 1064.5h0M520.5 1029.5h0M905.6 1195.6h0M259.7 996.1h0M405.3 1028.9h0M268.3 1022.1h0M519.1 1026.7h0M481.6 1043.4h0M563.5 1181.4h0M269.2 958.1h0M922 1220.3h0M431.2 931.2h0M226.3 965h0M440.1 1096.3h0M505.7 1073.6h0M551 1110h0M307.3 1012.4h0M248.1 1061h0M530.6 1079.3h0M725.4 1111.9h0M746.8 1268.7h0M237.3 938.7h0M617.3 1115h0M542.2 1097h0M438.3 1099.7h0M630.4 1022.7h0M322.8 941.6h0M889.9 1157.4h0M578.3 1031.6h0M271.7 988.3h0M264.8 986h0M405.7 1023.2h0M361.3 947.5h0M624.2 1064.7h0M602.3 1195.8h0M578.7 1163.4h0M759.1 1063.9h0M286.2 1055.2h0M874.8 1071.6h0M495.3 1035.1h0M253.5 981.6h0M276.2 924.3h0M779.6 1144.4h0M408.4 1019.4h0M517.8 1094.6h0M289.2 909h0M707.7 1225.7h0M279 1081.9h0M846.6 1216.7h0M288.3 961.6h0M796.7 1099.8h0M496.4 1181.3h0M472.5 1027.7h0M280.5 1005.6h0M445.4 1130.7h0M868.3 1166.9h0M252.1 1114.6h0M285 955.5h0M897.4 1192.8h0M778.2 1127.3h0M874 1175.3h0M859.4 1033.2h0M919.4 1110.4h0M449.5 966.5h0M789.9 1091.8h0M432.4 1064.6h0M628.1 1185.5h0M227.1 955.8h0M404 999.8h0M424.4 1081.9h0M433.4 1049.3h0M309.5 969.5h0M229.8 857h0M362.2 1023.3h0M233.3 872.6h0M345.2 991.6h0M645.2 1196.3h0M596.3 1062.5h0M675.1 1088.1h0M668.8 1137.8h0M255 894.2h0M569.5 1118.4h0M472.2 1204.8h0M465.2 1161.4h0M434.8 1090h0M477.7 1079.7h0M780.2 1131.1h0M347 1114.8h0M669.6 1176.8h0M506.2 1141.8h0M634.1 1031.4h0M455.1 1111.2h0M813.4 1243.6h0M652.8 1088.2h0M521.1 1132.5h0M227.5 990.6h0M306.7 914.3h0M352 1062.5h0M714.1 1193.4h0M395.4 1093.2h0M719 1105.1h0M426.1 1140.1h0M627.9 1019h0M319.4 1104.3h0M315 1033.9h0M334.7 1002h0M670.6 1148.6h0M318.8 1027.6h0M410.9 1037h0M292.7 990h0M346.7 1026.1h0M749.7 1103.9h0M392.2 1044.4h0M843.7 1167.1h0M224.4 916.3h0M390.5 1140.2h0M376.1 925.2h0M843.6 1119.5h0M440.6 1066.5h0M417 1055.8h0M456.1 1097.8h0M279.3 944h0M859.1 1174.8h0M873.9 1052.3h0M698.4 1232.3h0M559.3 1121.6h0M477.5 1046.6h0M542 1144.7h0M923.4 1226.5h0M554.1 1061.1h0M713.8 1126h0M488.6 1017.7h0M817.6 1050.1h0M554.9 1042h0M513.2 1114h0M262.1 911.9h0M435.3 1106.4h0M328.6 1014.8h0M534.1 1142.4h0M909.8 1186.9h0M767.4 1167.6h0M288 851.9h0M676.6 1114.5h0M503.1 1044.4h0M373.5 1048.7h0M320.9 1089.5h0M778.2 1113.2h0M805.1 1083.4h0M631.1 1080.7h0M477.4 1179.8h0M324.4 1030.5h0M233.8 946.2h0M253.3 1020.7h0M643 1046.3h0M465.9 1115.5h0M441.1 980.9h0M698.6 1204.9h0M822.4 1188.8h0M619.8 1100.5h0M732.6 1226.3h0M647 1180.8h0M541.3 1130.7h0M492.6 1048.6h0M343.1 900.4h0M901.1 1143.4h0M776.2 1189.1h0M572.5 1009.9h0M723.3 1160.4h0M421.9 1081.9h0M606.6 1092.6h0M692.8 1156.3h0M321.1 1011.2h0M715.2 1111h0M302.7 1013.5h0M434.4 1088.1h0M559.7 1248.8h0M469.2 1078.1h0M357 994.2h0M592.9 1121.9h0M228.3 984.3h0M332.1 1010.3h0M245.8 913.8h0M264.9 1005.8h0M551.7 1167.1h0M532.8 1030.5h0M657.3 1174.4h0M427.6 1044.6h0M353.6 1011.6h0M915 1147.2h0M344.8 1161.3h0M789.8 1147.5h0M459.5 1066.2h0M222.5 995.9h0M518.9 1030.2h0M664.2 1128.9h0M822.1 1105.8h0M452.2 1080.7h0M473.8 1010h0M441.4 1124.6h0M488.6 1076.4h0M447.3 981.1h0M553.5 1114.7h0M425 1076.2h0M441.6 1092.3h0M577 1077.6h0M666.9 1271.9h0M752.6 1194.9h0M581.2 1136.1h0M303.1 993.3h0M688.6 1185h0M623.2 1089h0M288.3 951.9h0M269.1 968.6h0M226.5 946.4h0M415.8 1009.1h0M536.8 1102.1h0M356.2 1004.8h0M596 1095.5h0M268.7 956.7h0M536.5 1100h0M371.7 1100.5h0M429.7 991.1h0M767.8 1087.5h0M234.2 919.3h0M713.1 1259.9h0M407.7 1078.8h0M869.4 1190h0M443.7 1137.4h0M711.1 1162.3h0M407.4 1038.1h0M265.9 862.4h0M560.3 1233.7h0M397.6 1016.9h0M498.4 1085.8h0M278.8 1073.9h0M873.7 1144.3h0M654.3 1103.7h0M551.4 1051.3h0M485 1021.2h0M221.7 928.3h0M517.5 1147.9h0M330 1109.1h0M550.3 1113.6h0M691.4 1091.8h0M350.8 1126.6h0M732.7 1238.2h0M507.5 1107.1h0M337.2 1096.7h0M243.4 951.9h0M604.8 1157.1h0M609.7 1199.7h0M757.6 1100.5h0M602.8 1154.2h0M710.3 1251.3h0M307.5 1074.9h0M631.7 1074.5h0M544.6 1147.2h0M436.3 1188h0M512.8 1129.3h0M762.7 1262.3h0M443.1 1152.7h0M287.1 978.8h0M901.2 1043h0M531.7 1054.1h0M336.1 1108.3h0M624 1021.4h0M596.1 1192.3h0M359.3 962.3h0M228.2 973.5h0M283.6 847.7h0M668.8 1121.2h0M637 1053.2h0M653.5 1052.8h0M546.8 1095.2h0M689.8 1113.1h0M536.5 1104.2h0M306.6 1027.3h0M255.5 921h0M654.2 1173.6h0M872.5 1116.1h0M916.1 1179.5h0M428.8 1021.5h0M384.5 1052.5h0M350.9 1089.8h0M394.3 1062h0M779 1119.2h0M382.2 1078.6h0M567.9 1110.4h0M320.9 1004.4h0M904.2 1231.9h0M418.6 1190.6h0M595.9 1074.5h0M557.5 1157.1h0M333.1 975.3h0M743 1137.2h0M390.4 1058.3h0M252.4 911.1h0M518.3 1151.3h0M594.4 1135.3h0M440.3 1097.5h0M348.8 1107.2h0M917.1 1134.4h0M382.8 955.3h0M352.4 987.4h0M863.7 1165.9h0M632.1 1132.1h0M760.9 1182.3h0M571.1 1136.3h0M866.1 1107h0M892.6 1163.2h0M660.4 1090.2h0M822.6 1236h0M391.2 953.9h0M503.8 1076.7h0M558.7 1202.3h0M559.3 1117.9h0M247.9 909.1h0M265.4 1007.1h0M686.7 1077h0M236 973.1h0M444.1 1096h0M911.1 1130.8h0M278.2 970.9h0M661.5 1131.6h0M488.5 1077.3h0M260 899.3h0M265.7 946.8h0M428.3 1126.8h0M335.3 948.6h0M708.8 1109.8h0M797.2 1182.5h0M664.8 1203h0M581.3 1029h0M486.6 1108.5h0M265.6 934.4h0M916.9 1107.5h0M714.3 1074.6h0M338.8 955.6h0M240.1 1004.4h0M236.8 874.1h0M614.5 1096.2h0M854.6 1161.7h0M931 1068h0M673.5 1195.2h0M316 1096.9h0M644.2 1184.7h0M577.1 1031.8h0M227.8 916.8h0M797.7 1163.8h0M500.2 1078.1h0M620.2 1049.5h0M602.9 1034h0M517 1043.1h0M401.7 1018.4h0M284.1 920.1h0M352.6 1090h0M727.2 1175h0M610.4 1063h0M260.9 935.2h0M393.7 1099.8h0M312 975.3h0M722.9 1173.2h0M917 1135.3h0M411 1103.3h0M427.5 990.2h0M719.4 1067h0M516.5 1091.2h0M865.7 1129.5h0M875.9 1159.3h0M901.8 1171.3h0M429.7 1080.7h0M692.3 1049.6h0M487.2 1095.6h0M595.6 1172.3h0M262.3 911.2h0M545 1086.5h0M622 1109h0M846.2 1147.3h0M590.7 1108.7h0M292.2 1034.7h0M680.6 1060.7h0M365.7 933.9h0M403 1144h0M290.8 1007.8h0M449.5 1019.7h0M267.3 946.1h0M292.9 1106.3h0M244.2 937.8h0M705.6 1103.5h0M650.9 1135.1h0M468.8 1054.4h0M241.9 1013.7h0M393.6 1053.2h0M825.1 1140.7h0M617.2 1237.6h0M579.8 1148.5h0M906.3 1112.1h0M397.7 1101.7h0M902.5 1145h0M308 1028.7h0M231.2 939.6h0M244.8 955.2h0M640.2 1133.4h0M620.8 1074.9h0M476.4 990.6h0M918.8 1138.7h0M916.9 1099.2h0M810.2 1109.5h0M465.2 1067.8h0M917.2 1168h0M244.2 948.4h0M631.8 1208.5h0M505.7 1023.8h0M593.8 1140.2h0M630.3 1109.5h0M313.3 1114h0M480.4 1113.7h0M375.3 1017.3h0M457.9 1104h0M368.1 1056h0M352.5 915.7h0M786.2 1171.7h0M667.7 1150.3h0M853.4 1182.7h0M597.5 1126h0M305.2 1000.5h0M451.2 1040.1h0M548.6 1151.1h0M751.9 1116.2h0M480.1 1069.1h0M706.1 1117.4h0M768.6 1072.1h0M406.9 993.7h0M853.8 1147.8h0M654.4 1131.9h0M814.8 1237.8h0M519.2 1142h0M254.4 983.6h0M642.1 1116.3h0M256.4 898.3h0M564.2 1183.9h0M670.1 1002.2h0M619 1147.8h0M303.3 959.4h0M371.5 1046.8h0M680 1059.8h0M590.9 1056.8h0M364.2 998.1h0M769.9 1153.3h0M231.5 960.5h0M267.1 970.7h0M438.3 1058h0M483.8 1158.8h0M683.1 1160.3h0M640.2 1206.7h0M354.9 969.3h0M546.8 1156.5h0M221.7 916.2h0M708.3 1121.4h0M504.7 1057.4h0M300.5 975.9h0M602.8 1229.8h0M560.8 1179.8h0M354.5 893h0M407.5 1063.8h0M300.5 955.7h0M748.5 1319.5h0M926.2 1170.2h0M891.9 1082.4h0M228.7 969.2h0M500.9 1163.3h0M300.9 978.1h0M812.1 1143.7h0M856.7 1058h0M311.4 968.6h0M653.2 1121.2h0M266.2 1031.5h0M224.2 1009.8h0M554.7 1046.5h0M425.2 956.5h0M749 1125.3h0M532 1130.9h0M518.8 1075.6h0M892.1 1119.2h0M226.5 965.1h0M719.6 1072.5h0M932.2 1183.6h0M747.8 1135.8h0M379.2 1008.7h0M797 1173.2h0M480.8 1015.2h0M435.6 1128.6h0M780.4 1154.6h0M909.1 1144.5h0M764.8 1081.8h0M235 978.5h0M371.2 1082.2h0M235.4 955.9h0M669.3 1086.6h0M431.9 1181.9h0M522.1 1148.9h0M242.6 971.8h0M924.1 1280.5h0M810.5 1215.1h0M320.9 984.5h0M277.2 922.4h0M223.3 942.5h0M876.2 1133.3h0M709.8 1166.5h0M454.3 984.7h0M320.2 1004.6h0M287.8 971.4h0M455.8 1119.2h0M870.3 1175h0M893 1084.3h0M468.7 1097.9h0M931.6 1193.5h0M897.4 1172.4h0M521.4 1091.1h0M766.1 1164.7h0M455.7 1018.1h0M538.8 1066.8h0M332.4 882.3h0M874.8 1038.7h0M504.2 1153.1h0M248.3 866.4h0M530.3 1128.9h0M619.6 1158.9h0M926.4 1149h0M670.2 1163.6h0M588 1164.2h0M285.3 925.1h0M858.3 1173.8h0M455.3 982.3h0M898 1143.1h0M577.4 1122.5h0M223.8 904.9h0M545.1 1170.3h0M616.9 1164h0M830.7 1157.3h0M739.5 1084.8h0M517.1 1104.4h0M706.6 1197.1h0M426.2 1022.8h0M318.5 1006.6h0M725.5 1131.3h0M809.8 1232.5h0M442.4 1126.3h0M487.1 1076h0M245 1076.3h0M704.9 1088.2h0M793.1 1151h0M844.2 1231.6h0M516.1 1125.5h0M750.8 1251h0M416.5 1114.6h0M392.1 987.9h0M845 1178h0M614.8 1111.3h0M524 996.2h0M228.8 899.9h0M251.7 1037.3h0M542.8 1107.4h0M922.7 1142.8h0M228.4 1078.2h0M745.5 1206.9h0M938 1157.6h0M259.5 1087.5h0M431.3 1017.1h0M338.2 921.6h0M874.6 1165.9h0M266.4 982.2h0M303 1051h0M247.5 940.9h0M897.1 1071.2h0M609.8 1114.7h0M240.5 907.2h0M612.4 1140h0M238.8 860.9h0M806.6 1142h0M250.8 1039h0M282.8 984.3h0M646.7 1047.7h0M940.5 1183.3h0M559.1 1195.5h0M388.6 1031.5h0M906.9 1138.7h0M705.3 1150.2h0M774.6 1216.6h0M786.4 1180.5h0M588.9 1142.8h0M741 1189.3h0M710.4 1109.7h0M308.3 987.4h0M319.8 1020.7h0M394 1050.3h0M752.2 1176.2h0M698.1 1133.8h0M337.7 1107.4h0M386.1 984.9h0M319.6 1037.6h0M341.3 1037.6h0M842.8 1188.9h0M730.8 1140h0M647.5 1092h0M728.2 1076.2h0M590.4 1034.2h0M636.2 1032.7h0M518 1044.3h0M810.3 1141.2h0M393.4 990.7h0M882.8 1155.2h0M820.8 1103.4h0M369.1 989.4h0M812.1 1186.3h0M411.9 1041.2h0M461.6 1178.5h0M730.2 1178.3h0M274.5 924.8h0M467.5 1034.5h0M227.2 977.6h0M879 1187.3h0M451.2 990.8h0M421.4 1066.8h0M727 1148.4h0M803.4 1118.4h0M722.5 1240h0M810.6 1129h0M280.6 1044.9h0M269.5 1012.9h0M317.3 1002.4h0M558.2 1084.8h0M585.6 1111.8h0M223 969.6h0M371.2 968.1h0M595.3 1092h0M458.9 1191.8h0M313.9 919.9h0M227.3 981.8h0M762.7 1124.6h0M342.4 1162.8h0M287.4 1044.2h0M779.1 1267.2h0M555 1208.8h0M424 1055.7h0M547.6 1131.5h0M554.3 1140.7h0M245.6 935.3h0M464.7 1019h0M652.8 1217h0M830.8 1150.5h0M291.2 1034.2h0M262.4 944.1h0M930.6 1077.6h0M763.2 1252h0M349.2 1099.3h0M277.6 1065.7h0M271.1 896.3h0M861.8 1118.3h0M346.4 1108.5h0M596.8 1172h0M318.7 986h0M364.3 1019.2h0M391.9 1074.4h0M583.6 1156.3h0M645.4 1204.6h0M670.8 1150.4h0M423.3 951.5h0M652.1 1039.8h0M358.8 986.6h0M374.1 1030h0M925.1 1301.1h0M328.3 1073.2h0M706.9 1096.8h0M373.3 1015.1h0M919.8 1136h0M459.6 1075.7h0M871 1168h0M539.6 1103.7h0M469 1062.9h0M372.9 1079.4h0M318.5 948.1h0M837.6 1185.3h0M345.7 1010.1h0M831.8 1196.9h0M826.2 1256.9h0M496 1045.8h0M227.8 879.1h0M735.1 1110.7h0M760.5 1157.1h0M392.1 995.2h0M925.7 1096.1h0M686.6 1124.2h0M694.6 1122.9h0M584.8 1092.9h0M444.2 1062.6h0M231.6 878.4h0M433 1128.4h0M866.3 1182.7h0M703.4 1164.6h0M463.3 961.6h0M934.8 1184.7h0M745 1133h0M337.3 1023.4h0M225.2 1011.1h0M598.6 1144.5h0M385.5 1030.7h0M536.1 1147.8h0M314.2 1026.7h0M318.3 921.3h0M327.7 936.3h0M590.2 1168.3h0M256.6 978.3h0M704.6 1065.2h0M635.8 1179.7h0M693.9 1104.5h0M728.2 1167.2h0M486.4 1012.9h0M738.6 1106.4h0M494.2 1017.5h0M251.6 1017.9h0M340.5 1004.5h0M300.7 1073.9h0M466.8 962.5h0M386.7 1002.3h0M921.7 1175.4h0M579 1042.2h0M229.2 941.5h0M845.4 1203.2h0M350.7 1020h0M340.3 1097.4h0M414.7 1148h0M225.6 950.5h0M899 1111.1h0M669.2 1070.9h0M398 1083.2h0M472 1065.7h0M279.2 1063.7h0M495.6 1081.6h0M339 1028.7h0M931.1 1127h0M601.3 988.1h0M468.7 1077.6h0M540.7 1104.6h0M746.1 1125.2h0M859.7 1086.5h0M778.3 1079.6h0M467.4 1069.7h0M720.3 1272.9h0M434.5 1032h0M303.7 1104.7h0M697.9 1142.9h0M772.4 1156.9h0M768.3 1274.6h0M736.7 1189.3h0M345.4 1059.3h0M424.7 1113.7h0M708 1067.6h0M370.8 1020.4h0M843.1 1260h0M342.8 1028.2h0M239.4 910.9h0M673.3 1076.7h0M348.8 1126.6h0M574.4 1093.7h0M237.3 1067.5h0M444 1022.6h0M479.4 1161.5h0M479.6 1059.4h0M492.8 1140h0M707.8 1131.1h0M883.6 1153.2h0M477.9 969.7h0M297.9 954.9h0M599.1 1052.1h0M265.5 977h0M284.3 1013.1h0M236.7 1037.4h0M433.5 1100.3h0M820.2 1133.2h0M356 1011h0M761.3 1092.1h0M232 959.8h0M726.5 1242.3h0M907.7 1136.1h0M533.2 1121.1h0M737.4 1242.8h0M518.1 1097.2h0M589.1 1069.2h0M528 1098.6h0M586.7 1157h0M453.5 1042.3h0M611.8 1129.6h0M713.9 1177.3h0M854.9 1167.3h0M914.7 1067.3h0M418.2 1064h0M376.4 1155.6h0M342.2 1132.6h0M872.2 1194.1h0M334 946.5h0M741.7 1207.3h0M407.9 973.1h0M369.9 1003.1h0M888.8 1137.4h0M740.7 1190.4h0M800 1169.4h0M538.7 1082.3h0M709.3 1073.7h0M299.6 982.4h0M242.5 1098.1h0M398.8 1020.5h0M546.5 1085.3h0M583.6 1093.4h0M540.8 1094.4h0M484.2 1082.9h0M267.1 881.3h0M422.7 1098.6h0M674.9 1065.5h0M478.7 1011.7h0M397 991.7h0M539.1 1082.9h0M830.9 1176.8h0M227.9 911.1h0M789.1 1146.1h0M563.3 1146.4h0M684.3 1158.2h0M627.4 1060.3h0M301.1 1036.4h0M338.3 1019.9h0M309.7 1045.9h0M275.3 979.3h0M300.9 865.1h0M315.2 1098.4h0M366.9 952.5h0M706.3 1204.3h0M932.1 1191.1h0M373 1016.9h0M931.6 1122.4h0M848.2 1154.4h0M933.9 1151.5h0M550 1096.4h0M367.8 1035.1h0M348.5 1021.8h0M895.9 1154h0M235 1011.9h0M861.4 1210.3h0M496.5 1006h0M644.3 1163.8h0M518.5 1030.2h0M401.9 1007.3h0M477.1 1035.6h0M472.3 942.7h0M855.1 1198.9h0M938.6 1178.6h0M293.7 992.6h0M794.4 1206.6h0M404.4 1051.4h0M577.3 1145.6h0M360.2 1081.4h0M939.8 1157h0M912.6 1194.9h0M551.5 1149.2h0M535 1206h0M810.4 1133.7h0M238.9 1017.4h0M835.9 1160.5h0M296.6 1047.3h0M922.3 1140.8h0M302.6 1031.5h0M288.1 967.3h0M665.1 1084h0M681.8 1120.2h0M540.7 1115.9h0M763.3 1126.1h0M445.6 1079h0M272 959.4h0M772.2 1212.2h0M418.3 1090.9h0M530.2 1126.3h0M768.9 1127h0M734.4 1129.3h0M619.1 1240.3h0M251.4 994.9h0M361.6 1073.5h0M360 975.1h0M754.7 1053.9h0M479.8 1189.6h0M357.7 1078.4h0M274.7 1044.6h0M639.2 1167.5h0M239 973.6h0M329 1006.1h0M583.6 1137.7h0M555.5 1180h0M318.1 1027h0M704.1 1123.4h0M436.5 1060.2h0M483.6 1107h0M447.7 1041.1h0M867.4 1097.3h0M266.9 941.5h0M869.1 1183.8h0M829.4 1139.3h0M547.2 1067.1h0M227.7 1018.1h0M288.9 1014.5h0M239.8 978.2h0M224.9 856h0M699.6 1102.8h0M864.6 1145.3h0M679.7 1238.9h0M244.6 959.6h0M905.2 1230.1h0M522.2 1224.4h0M933.5 1068.5h0M667.3 1263.7h0M834.6 1130.8h0M335.8 934.9h0M409.6 1104.2h0M478.4 1116.6h0M359.2 977h0M299 1025.6h0M889.1 1101.3h0M377.3 1008h0M863.2 1165.4h0M277.8 935.9h0M325.5 910.6h0M459.4 1058.9h0M265.5 963h0M431.6 997h0M367.5 1096h0M639.4 1142.3h0M666.4 1149.8h0M233.9 913.6h0M612.2 1239.3h0M372.5 966.1h0M488.9 1134.6h0M313.2 1069.9h0M266.1 901.6h0M396.3 1055.9h0M818 1170.8h0M674 1118.1h0M540.1 1155.3h0M733.5 1256.9h0M903 1200.9h0M860.5 1106.9h0M500.1 1033.5h0M567.4 1098.9h0M239.4 894.1h0M592.5 1102.1h0M435.3 1035.4h0M412.2 1063.2h0M430.8 1171.2h0M849 1207.7h0M276.7 1003.9h0M845 1201.6h0M709.6 1093h0M657.1 1074.4h0M423 1121.1h0M625.3 1167.5h0M229.3 901.6h0M222.6 999.9h0M268.7 1001.7h0M635.1 1176.4h0M239.6 947.1h0M344.5 1100.9h0M827.8 1180.6h0M234 1044.6h0M779.4 1128.6h0M573.7 1148.6h0M468.6 945.3h0M450.9 1047.7h0M782.8 1025.1h0M367.2 991.6h0M291.9 1028h0M618.6 1149.1h0M583.3 1137.7h0M365.5 1035.9h0M919.6 1232.6h0M545.1 1098.7h0M376.7 935.8h0M361.8 959.6h0M599.6 1138.7h0M500 1057.8h0M283.7 1051.6h0M342.8 1069.9h0M754.7 1141.2h0M350.6 920h0M306.5 882.4h0M838.6 1103.7h0M336.5 1005.4h0M246.1 929h0M812.5 1246.2h0M244.1 852.4h0M374.7 1089.9h0M252.7 911.7h0M624.4 1246.2h0M290.7 1032.6h0M269.6 1029.8h0M265.9 949.7h0M661.5 1227h0M581.1 1123.3h0M369.1 1085.5h0M458.9 1074.9h0M515.5 1077h0M492.7 1229.6h0M275.7 888.7h0M365.8 1017.5h0M535.4 1026.1h0M403 1029.4h0M598.4 1230.9h0M528.8 1144.5h0M654 1057.6h0M361.9 1004.1h0M794.8 1147.1h0M597.6 1049.2h0M471.5 1144.6h0M276.6 996h0M659.9 1102.8h0M617.6 1156.6h0M280.2 1035.3h0M608.1 1108.6h0M243.9 900.1h0M798.4 1196h0M338.7 1028.3h0M228.4 874.8h0M680.9 1060.3h0M732 1137.1h0M554.8 1148.6h0M655.2 1144.4h0M736.1 1197.9h0M306 1048.5h0M572.2 1140.6h0M600.6 1138.1h0M232.5 1046.3h0M494.3 1003.9h0M919.2 1120.5h0M270.1 956.4h0M483.9 1088h0M255.9 894.6h0M500.8 1135.1h0M367.3 1036h0M283 916.8h0M542.3 1117.2h0M352.2 985h0M823.7 1195.1h0M820.6 1081.7h0M495.8 1096.3h0M320 1032.2h0M286.4 1018.2h0M512.6 990.6h0M512.6 1077h0M265.8 870h0M258.5 1044.6h0M380.3 1045.3h0M353.9 1021.3h0M723.4 1123.5h0M534.2 1105.1h0M539.2 1158h0M396 1022.9h0M504.9 1017.4h0M453.7 964.6h0M416.2 1125.7h0M659.8 1082h0M377.1 1065.5h0M837.1 1139.8h0M536.5 1145.1h0M277.3 994.5h0M619.3 1123.5h0M414.5 1012.6h0M726.6 1124.5h0M269.6 973.3h0M689.2 1222.7h0M437.8 1036.1h0M361.6 987.3h0M428.9 1040.6h0M797.5 1144.4h0M729.1 1153h0M622.4 1262.8h0M240.4 858.8h0M663.6 1195.6h0M915.7 1117h0M856 1195h0M389.6 1133.6h0M860.2 1199.5h0M510.2 1036h0M927.2 1114.3h0M608.5 1111.6h0M742 1108.3h0M393 1074.1h0M603.7 1030.3h0M546.2 1181.3h0M413.8 1019.1h0M667 1139.6h0M925.5 1101.1h0M698.8 1008.1h0M288.2 927.8h0M352 1053.8h0M229.4 1010.7h0M472.6 1089.4h0M243.2 950.5h0M375.6 944.6h0M427.6 1135.2h0M856.3 1420.8h0M458.9 1108.2h0M501 1215.2h0M894.6 1056.6h0M925.4 1146.4h0M910.3 1099.6h0M934.5 1170.9h0M483.8 1158h0M454.8 1008.7h0M437.3 1049.7h0M644.1 1159h0M538 1182.4h0M903.6 1144.8h0M243 855.5h0M403.6 990.2h0M726.8 1122.9h0M422.1 970.5h0M261.4 918.8h0M335.1 1060.2h0M579 1168.3h0M842.5 1288.7h0M435.9 1083.8h0M710.7 1174.7h0M390.2 1088.8h0M243.4 838.8h0M557 1204.1h0M726.6 1132.3h0M284.7 848.8h0M493.2 1070.8h0M451.9 1105.7h0M327.6 1029.1h0M865.1 1134.6h0M867.3 1064.6h0M899.9 1063.8h0M714.2 878.3h0M796.2 851.5h0M696.6 1018.7h0M559.6 1012.1h0M804.2 1068.1h0M895.2 893.8h0M499.9 992.7h0M689.2 905.9h0M455.5 925.2h0M717.2 1032.5h0M385.8 877.1h0M765.6 980.4h0M865.2 1060.7h0M503.5 942.4h0M887.8 876.1h0M525.3 991h0M573.4 953.9h0M896.1 1078.6h0M920.7 1055.3h0M235.6 837.8h0M463.8 860.5h0M498.6 961.4h0M570.9 995.8h0M844.5 1020.4h0M457.2 943.3h0M568.1 977h0M438.5 892h0M922.4 1292.9h0M845.4 1256.9h0M442.8 1183.8h0M576.9 1218.5h0M379.4 1133h0M631.3 1220.5h0M748.8 1234.9h0M836.4 1271.3h0M783.9 1406h0M222.8 1131.5h0M653.8 1266.4h0M388.3 1141h0M753.1 1247.1h0M759 1235.9h0M787.5 1239.3h0M469.9 1272.7h0M561 1213.5h0M725 1233.2h0M711 1235.9h0M504.1 1200.9h0M338.1 1144h0M875.2 1288.4h0M657.6 1224.5h0M774 1230h0M231 1122.2h0M404.6 1217.3h0M936.2 1249.7h0M267 1202.8h0M528.2 1256.8h0M274.7 1153.6h0M900.8 1266.3h0M449.7 1231.4h0M315.1 1105.7h0M839.7 1282.8h0M285.4 1240.2h0M577 1238h0M583.8 1258.8h0M316.2 1101.5h0M625.3 1219.1h0M913.6 1272.3h0M285.9 1090.6h0M911.9 1331.4h0M313.8 1128.9h0M247.4 1093.9h0M572.9 1327.1h0M802.1 1256h0M424.4 1146.5h0M569.4 1239.4h0M687.5 1321.9h0M565.6 1235.6h0M645.3 1302.5h0M492.8 1237.1h0M711.3 1273.5h0M472.3 1176.8h0M270.8 1070.8h0M346.3 1117.2h0M538.5 1274.5h0M354.8 1144.5h0M714.4 1242.4h0M545.3 1211h0M816.3 1274.7h0M713 1252.7h0M395.6 1172.2h0M606.9 1239h0M795.3 1242.3h0M406.7 1298.7h0M598.5 1272.8h0M709.2 1229.9h0M652 1223.2h0M416 1162.9h0M712.4 1305.3h0M693.1 1269.8h0M577.9 1295.4h0M224.4 1071.7h0M339.6 1169.1h0M221.5 1047.9h0M773.2 1313.8h0M530.3 1195.8h0M491.1 1218.7h0M450.6 1170.6h0M758.1 1240.6h0M710.5 1449h0M650.5 1301.2h0M572.7 1249.5h0M342.3 1143.1h0M666.9 1236.1h0M786.7 1248.7h0M707.6 1309h0M411.7 1241.8h0M616.4 1220.1h0" stroke="#1b84c0" stroke-width="8.6" stroke-linecap="round" fill="none"/>
<path d="M195.5 1105L977 1105" stroke="#78aa28" stroke-width="5"/>
<path d="M221.3 927.4 L233.5 940.8 L245.7 953.5 L257.9 965.6 L270.1 977 L282.3 987.9 L294.5 998.1 L306.7 1007.8 L318.8 1017.1 L331 1025.8 L343.2 1034 L355.4 1041.8 L367.6 1049.2 L379.8 1056.2 L392 1062.8 L404.2 1069.1 L416.4 1075 L428.6 1080.6 L440.8 1085.9 L453 1091 L465.2 1095.8 L477.4 1100.3 L489.6 1104.6 L501.7 1108.7 L513.9 1112.6 L526.1 1116.3 L538.3 1119.8 L550.5 1123.2 L562.7 1126.4 L574.9 1129.5 L587.1 1132.4 L599.3 1135.2 L611.5 1137.9 L623.7 1140.5 L635.9 1142.9 L648.1 1145.3 L660.3 1147.5 L672.4 1149.7 L684.6 1151.8 L696.8 1153.7 L709 1155.6 L721.2 1157.4 L733.4 1159.1 L745.6 1160.7 L757.8 1162.2 L770 1163.6 L782.2 1164.9 L794.4 1166.1 L806.6 1167.1 L818.8 1168.1 L831 1168.9 L843.2 1169.6 L855.3 1170.1 L867.5 1170.5 L879.7 1170.7 L891.9 1170.7 L904.1 1170.5 L916.3 1170.2 L928.5 1169.6 L940.7 1168.7" stroke="#c2262a" stroke-width="4.5" fill="none"/>
<path d="M195.5 1467.8L205.5 1467.8M977 1467.8L967 1467.8M195.5 1427.4L200.5 1427.4M977 1427.4L972 1427.4M195.5 1403.8L200.5 1403.8M977 1403.8L972 1403.8M195.5 1387.1L200.5 1387.1M977 1387.1L972 1387.1M195.5 1374.1L200.5 1374.1M977 1374.1L972 1374.1M195.5 1363.4L200.5 1363.4M977 1363.4L972 1363.4M195.5 1354.5L200.5 1354.5M977 1354.5L972 1354.5M195.5 1346.7L200.5 1346.7M977 1346.7L972 1346.7M195.5 1339.8L200.5 1339.8M977 1339.8L972 1339.8M195.5 1333.7L205.5 1333.7M977 1333.7L967 1333.7M195.5 1293.3L200.5 1293.3M977 1293.3L972 1293.3M195.5 1269.7L200.5 1269.7M977 1269.7L972 1269.7M195.5 1253L200.5 1253M977 1253L972 1253M195.5 1240L200.5 1240M977 1240L972 1240M195.5 1229.3L200.5 1229.3M977 1229.3L972 1229.3M195.5 1220.4L200.5 1220.4M977 1220.4L972 1220.4M195.5 1212.6L200.5 1212.6M977 1212.6L972 1212.6M195.5 1205.7L200.5 1205.7M977 1205.7L972 1205.7M195.5 1199.6L205.5 1199.6M977 1199.6L967 1199.6M195.5 1159.2L200.5 1159.2M977 1159.2L972 1159.2M195.5 1135.6L200.5 1135.6M977 1135.6L972 1135.6M195.5 1118.9L200.5 1118.9M977 1118.9L972 1118.9M195.5 1105.9L200.5 1105.9M977 1105.9L972 1105.9M195.5 1095.2L200.5 1095.2M977 1095.2L972 1095.2M195.5 1086.3L200.5 1086.3M977 1086.3L972 1086.3M195.5 1078.5L200.5 1078.5M977 1078.5L972 1078.5M195.5 1071.6L200.5 1071.6M977 1071.6L972 1071.6M195.5 1065.5L205.5 1065.5M977 1065.5L967 1065.5M195.5 1025.1L200.5 1025.1M977 1025.1L972 1025.1M195.5 1001.5L200.5 1001.5M977 1001.5L972 1001.5M195.5 984.8L200.5 984.8M977 984.8L972 984.8M195.5 971.8L200.5 971.8M977 971.8L972 971.8M195.5 961.1L200.5 961.1M977 961.1L972 961.1M195.5 952.2L200.5 952.2M977 952.2L972 952.2M195.5 944.4L200.5 944.4M977 944.4L972 944.4M195.5 937.5L200.5 937.5M977 937.5L972 937.5M195.5 931.4L205.5 931.4M977 931.4L967 931.4M195.5 891L200.5 891M977 891L972 891M195.5 867.4L200.5 867.4M977 867.4L972 867.4M195.5 850.7L200.5 850.7M977 850.7L972 850.7M195.5 837.7L200.5 837.7M977 837.7L972 837.7M286.7 1467.8L286.7 1457.8M417.5 1467.8L417.5 1457.8M548.3 1467.8L548.3 1457.8M679.1 1467.8L679.1 1457.8M809.9 1467.8L809.9 1457.8M940.7 1467.8L940.7 1457.8M221.3 1467.8L221.3 1462.8M352.1 1467.8L352.1 1462.8M482.9 1467.8L482.9 1462.8M613.7 1467.8L613.7 1462.8M744.5 1467.8L744.5 1462.8M875.3 1467.8L875.3 1462.8" stroke="#000" stroke-width="4.3" fill="none"/>
<rect x="195.5" y="837.5" width="781.5" height="630.3" fill="none" stroke="#000" stroke-width="4.5"/>
<text x="153.5" y="1487.8" text-anchor="end" style="font-size:54px;">10</text>
<text x="153" y="1466.3" text-anchor="start" style="font-size:37px;">-1</text>
<text x="166" y="1353.7" text-anchor="end" style="font-size:54px;">10</text>
<text x="168.5" y="1332.2" text-anchor="start" style="font-size:37px;">0</text>
<text x="166" y="1219.6" text-anchor="end" style="font-size:54px;">10</text>
<text x="168.5" y="1198.1" text-anchor="start" style="font-size:37px;">1</text>
<text x="166" y="1085.5" text-anchor="end" style="font-size:54px;">10</text>
<text x="168.5" y="1064" text-anchor="start" style="font-size:37px;">2</text>
<text x="166" y="951.4" text-anchor="end" style="font-size:54px;">10</text>
<text x="168.5" y="929.9" text-anchor="start" style="font-size:37px;">3</text>
<text x="286.7" y="1518.4" text-anchor="middle" style="font-size:54px;">1</text>
<text x="417.5" y="1518.4" text-anchor="middle" style="font-size:54px;">2</text>
<text x="548.3" y="1518.4" text-anchor="middle" style="font-size:54px;">3</text>
<text x="679.1" y="1518.4" text-anchor="middle" style="font-size:54px;">4</text>
<text x="809.9" y="1518.4" text-anchor="middle" style="font-size:54px;">5</text>
<text x="940.7" y="1518.4" text-anchor="middle" style="font-size:54px;">6</text>
<text x="586.3" y="1576.4" text-anchor="middle" style="font-size:53.5px;font-weight:bold;">|DP| (eV)</text>
<text x="81" y="1150.7" text-anchor="middle" style="font-size:53.5px;font-weight:bold;" transform="rotate(-90 81 1150.7)">PF (μWcm<tspan dy="-21" style="font-size:36px">-1</tspan><tspan dy="21">K</tspan><tspan dy="-21" style="font-size:36px">-2</tspan><tspan dy="21">)</tspan></text>
<rect x="1324.7" y="839.4" width="439.7" height="402.2" fill="#fdbdbd"/>
<clipPath id="clip4"><rect x="1249.9" y="839.4" width="751.5" height="632.1"/></clipPath><path clip-path="url(#clip4)" d="M1914.4 1382.7h0M1828.1 1365h0M1842.5 1402h0M1894.5 1319.4h0M1874.5 1420.6h0M1858.7 1380.6h0M1797.2 1361.9h0M1756.1 1364.2h0M1845.7 1289.2h0M1788.7 1377.8h0M1874.7 1383h0M1835.1 1313.3h0M1773.7 1341.8h0M1838.8 1337.1h0M1867.1 1367.8h0M1833 1373.8h0M1771.3 1393.5h0M1838.4 1323.4h0M1844.5 1364.7h0M1874.5 1362.4h0M1867.9 1342.4h0M1763.2 1305.7h0M1789.6 1251.1h0M1860.5 1451.5h0M1712.5 1434.8h0M1871.5 1340.1h0M1767.7 1317.3h0M1794.5 1347.1h0M1914.3 1320.8h0M1817.4 1407.8h0M1802.2 1321.2h0M1839.6 1397.3h0M1815.5 1407.8h0M1781.4 1359h0M1837.6 1461.2h0M1958.8 1294.3h0M1880.6 1318.7h0M1849.7 1306.3h0M1838.1 1419.2h0M1872.8 1387.7h0M1861.6 1315.3h0M1766.5 1424.6h0M1854.1 1300.3h0M1824.9 1313.4h0M1931.8 1236.6h0M1808 1422.8h0M1901.9 1361.3h0M1747.3 1426.2h0M1841.7 1384.5h0M1775.9 1392.8h0M1765.2 1343.2h0M1872 1245.6h0M1758.4 1441.4h0M1812.7 1384h0M1776.5 1325.6h0M1847 1409.5h0M1839.4 1340.2h0M1682.5 1396.5h0M1866.6 1381.4h0M1782.4 1346.7h0M1950.5 1264.6h0M1878.3 1381h0M1883 1396.6h0M1670.5 1366.3h0M1934.2 1306.9h0M1825.9 1369.9h0M1738.1 1269.1h0M1842.9 1410.9h0M1905 1376.6h0M1722.5 1439.7h0M1890.2 1417.3h0M1802.7 1346h0M1787.5 1342.6h0M1796.5 1309.4h0M1771.1 1309.1h0M1835.6 1380.4h0M1838.7 1288.5h0M1888.4 1314.1h0M1910.9 1357.6h0M1802.8 1438.6h0M1890.5 1367.3h0M1750 1352.4h0M1862.8 1399.1h0M1754 1325.1h0M1787.5 1389h0M1860.7 1364.8h0M1776.5 1332.7h0M1853.4 1357.9h0M1731.5 1425.6h0M1778.1 1390.9h0M1855.9 1388.6h0M1916.3 1417.6h0M1750.2 1365h0M1920.8 1377h0M1838.8 1421.7h0M1963.6 1276.6h0M1803.4 1361.5h0M1790.7 1365.2h0M1842.5 1395.2h0M1754.8 1327.6h0M1830 1390.7h0M1818.2 1377.8h0M1904.8 1384.7h0M1843.5 1283.7h0M1743.9 1376.1h0M1740.3 1369.1h0M1762.3 1384.5h0M1693.4 1327.3h0M1688 1351.7h0M1954.2 1405h0M1770 1398.6h0M1902.6 1330.9h0M1775.7 1416.6h0M1796.7 1411.4h0M1715.1 1455.5h0M1901.4 1390.4h0M1797.5 1400.2h0M1926.8 1244h0M1778.1 1441.9h0M1902.9 1420.6h0M1915.7 1394.8h0M1727.7 1341.3h0M1850.8 1265h0M1757.3 1321h0M1749.4 1329h0M1829.6 1256.5h0M1873.1 1330.9h0M1907 1316.5h0M1800.4 1342.1h0M1884.4 1410.5h0M1857.3 1339.8h0M1821.1 1361.6h0M1762 1420.1h0M1824.2 1440.4h0M1762.5 1374.8h0M1810.7 1383.2h0M1765 1279.6h0M1908.5 1337.9h0M1935.7 1385.6h0M1906.3 1410.3h0M1946.9 1389.3h0M1816.5 1410.7h0M1927.5 1337.6h0M1768.9 1347.3h0M1919.8 1353.3h0M1915.7 1310.7h0M1781.5 1360.1h0M1881.1 1331.5h0M1752.5 1387.1h0M1731.9 1274.9h0M1732.4 1358.5h0M1750.6 1361.8h0M1748.2 1238.1h0M1813.7 1384.9h0M1931.6 1270.8h0M1804.4 1354.1h0M1766.4 1261h0M1863.9 1340.8h0M1804.7 1430.6h0M1826.2 1363.1h0M1845.6 1431.4h0M1848.2 1331h0M1776.5 1319.3h0M1804.6 1362.2h0M1879.9 1391h0M1796.3 1388.4h0M1804.9 1401.7h0M1839.8 1398.5h0M1847.2 1408.5h0M1800 1439.9h0M1856.2 1295.5h0M1819.8 1365.3h0M1736.3 1310.3h0M1861.8 1307h0M1764.6 1325.6h0M1839 1405.1h0M1802.4 1340h0M1875 1336.3h0M1914.4 1405.5h0M1917.7 1426.7h0M1840.1 1308.2h0M1889.4 1280.4h0M1866 1352h0M1826.6 1448.4h0M1723.8 1410.7h0M1822.4 1247.4h0M1656 1374.1h0M1764 1332.7h0M1908.3 1298.4h0M1832.4 1391.8h0M1818.2 1418.1h0M1764.9 1339.7h0M1766.1 1355.4h0M1777 1417h0M1731.6 1307h0M1675.1 1322.3h0M1887 1427.2h0M1927 1348.8h0M1779.9 1425.4h0M1870 1394.5h0M1741.6 1404.7h0M1843.2 1394.8h0M1731.7 1410.8h0M1879.1 1384.3h0M1824.1 1289.5h0M1738.8 1346.3h0M1855.9 1340.4h0M1926.7 1400.3h0M1821 1410h0M1818 1431.6h0M1821.3 1425.8h0M1828.6 1383.1h0M1900.9 1459.1h0M1903.5 1316.7h0M1685.1 1383.4h0M1898.2 1322.1h0M1807.5 1347.8h0M1927.6 1412.6h0M1850.2 1394.6h0M1882.4 1282.3h0M1787.5 1403.3h0M1734.5 1347.6h0M1836 1299.3h0M1882.5 1400.6h0M1867.8 1318.9h0M1870.8 1415.7h0M1835 1351.8h0M1866.7 1340.4h0M1767.4 1372.1h0M1811.3 1276.4h0M1720.4 1380.2h0M1817 1296.1h0M1800.5 1367.3h0M1823.8 1367.1h0M1887.5 1346.1h0M1824.5 1368.3h0M1633.6 1455.3h0M1908.6 1359.3h0M1830.3 1269.6h0M1870.4 1400.9h0M1769.5 1392.3h0M1873.6 1450.5h0M1919 1398h0M1716.4 1365.4h0M1899.5 1288.6h0M1760.2 1384.7h0M1770.9 1352.1h0M1820.5 1384.9h0M1954.6 1410.2h0M1704.1 1359.2h0M1779.3 1294.7h0M1823.1 1365.1h0M1862.3 1381.9h0M1813.1 1425h0M1848 1399.7h0M1753.7 1359.7h0M1870.1 1429.1h0M1888.3 1398.5h0M1749.4 1312.2h0M1769.7 1279.9h0M1846 1318.2h0M1841.9 1275.6h0M1854.6 1382.1h0M1741.8 1259.8h0M1795.2 1303h0M1788.9 1411.1h0M1908.1 1427.4h0M1814.5 1424h0M1788 1429.2h0M1762.1 1420.3h0M1820.7 1276.3h0M1897.7 1330.9h0M1720.3 1317.9h0M1828.1 1363.5h0M1853.6 1283.9h0M1949.4 1435.3h0M1864.7 1432.5h0M1908.3 1344.2h0M1823.5 1448.9h0M1730.7 1428.1h0M1728.6 1319.7h0M1774.1 1312.5h0M1829.4 1332.7h0M1802 1358.7h0M1790.4 1416.2h0M1937.8 1420.8h0M1665.5 1288.6h0M1752.6 1370.6h0M1975.5 1351.4h0M1840.5 1397.1h0M1777.1 1380.2h0M1747.8 1372h0M1872.7 1322.8h0M1865.8 1393.8h0M1873.1 1384.9h0M1736.6 1236.5h0M1829.3 1300.5h0M1806.2 1274.4h0M1849.2 1291.1h0M1715.8 1364.4h0M1859 1328.5h0M1920 1418h0M1731.7 1343h0M1877.3 1449.7h0M1929.1 1413.8h0M1878.2 1293.2h0M1817.6 1304.1h0M1829.3 1365.9h0M1786.5 1252.5h0M1835.2 1357.9h0M1753.4 1424.8h0M1824.5 1438.9h0M1766.5 1432h0M1726.9 1294.8h0M1918.5 1372.9h0M1700.7 1421.8h0M1937.2 1395.2h0M1679.6 1353.9h0M1882.1 1412.6h0M1833.5 1314.8h0M1716.1 1314.4h0M1788.3 1439.5h0M1755 1330.9h0M1759.3 1370.2h0M1878.6 1352.7h0M1744.8 1355.1h0M1696.1 1361h0M1893.9 1342.8h0M1846.7 1382.5h0M1821.5 1370.7h0M1802.9 1430.8h0M1866.7 1460.8h0M1845.6 1384.5h0M1813.9 1366.6h0M1782.9 1419.8h0M1891.6 1465.5h0M1916.1 1392.3h0M1852.1 1337.6h0M1836.3 1411.6h0M1833.6 1392.9h0M1920.6 1302.8h0M1840.8 1289.7h0M1838.7 1371.5h0M1798.4 1313.2h0M1852.9 1311h0M1711.9 1404.6h0M1774 1337.7h0M1751.2 1334.7h0M1679.1 1345.1h0M1892.7 1288.8h0M1800 1397.2h0M1764.1 1323.1h0M1846.3 1363.5h0M1740.4 1302.5h0M1880.1 1322.2h0M1913.4 1343.3h0M1728.3 1390.8h0M1899.1 1312.8h0M1835 1291.7h0M1895.6 1392.7h0M1834.6 1344.9h0M1766.5 1378h0M1717.6 1359h0M1749.1 1260.7h0M1788.9 1342.9h0M1890.4 1264.8h0M1863.1 1426.2h0M1841.4 1296.2h0M1917.4 1350.2h0M1701.7 1293.2h0M1745.1 1309.6h0M1747.1 1397.7h0M1826.2 1363.8h0M1713.2 1319h0M1783.7 1322.1h0M1910.9 1364.5h0M1887 1355.8h0M1922.8 1408.1h0M1785 1351.5h0M1754.8 1378.3h0M1839.5 1400.5h0M1761.8 1377h0M1816.2 1446h0M1813.3 1382.7h0M1857 1370.2h0M1915.9 1372.4h0M1912.6 1257.2h0M1883.3 1301.4h0M1809 1444.8h0M1865.4 1462.8h0M1797.7 1464.7h0M1763 1394.1h0M1723.3 1422.7h0M1785.1 1373.7h0M1855.2 1423.2h0M1867.3 1401.2h0M1825.4 1316.5h0M1860.6 1369h0M1786 1270.9h0M1931.4 1340.1h0M1832.8 1339.7h0M1802.1 1369.4h0M1866.3 1455.3h0M1813.1 1369.2h0M1845.1 1330.2h0M1919.9 1292.4h0M1770.8 1327.9h0M1805.5 1335.3h0M1812 1402.2h0M1826.9 1439.4h0M1947.4 1409.5h0M1883.3 1350.5h0M1909.5 1355.6h0M1658.4 1336.2h0M1857.5 1326.5h0M1843.4 1190.2h0M1860.6 1421.7h0M1826.9 1370h0M1782.5 1352.4h0M1872 1368.7h0M1813 1316.7h0M1825.3 1382.6h0M1786.8 1315.6h0M1812.4 1366.3h0M1859.9 1322.2h0M1878.6 1313.2h0M1823.3 1401.2h0M1831 1322.5h0M1812.4 1361.3h0M1883.2 1327.2h0M1797.2 1294.9h0M1806.3 1347h0M1832.2 1389.7h0M1797.5 1358.8h0M1844.3 1343.2h0M1932 1369.7h0M1824.8 1341.6h0M1920.9 1374.8h0M1886 1370.6h0M1837.6 1367.2h0M1871 1418.5h0M1919.8 1366.8h0M1771.3 1368.2h0M1872.1 1217.4h0M1906.9 1335.7h0M1778.5 1375.3h0M1913.6 1334.3h0M1869.4 1309.3h0M1774.3 1332.6h0M1856.4 1354.2h0M1734.8 1407.6h0M1747.2 1390.2h0M1728.5 1413.3h0M1842.6 1354h0M1801.1 1405.1h0M1776 1363.6h0M1790.6 1447.8h0M1819 1373.6h0M1802.7 1385.3h0M1791.9 1358.4h0M1834.4 1361.8h0M1762.4 1465.5h0M1788.9 1343.3h0M1898.9 1415.1h0M1846.4 1362.2h0M1707 1340.7h0M1924.1 1346.1h0M1768.6 1385.1h0M1930.8 1344h0M1830.2 1320h0M1886.4 1432.2h0M1709 1440.2h0M1773.3 1320.7h0M1781.5 1351.6h0M1786.6 1354.1h0M1772.1 1358h0M1781.8 1375.8h0M1814.6 1321.1h0M1782.8 1376.6h0M1812.6 1437.4h0M1843.5 1282.1h0M1707.9 1434.3h0M1806.7 1327.8h0M1759.3 1434.6h0M1815.5 1392h0M1860.9 1304.5h0M1731.8 1423.9h0M1796.8 1342.5h0M1880.8 1377.2h0M1889 1385.8h0M1787.8 1391.4h0M1879.1 1286.2h0M1840.7 1395.1h0M1825.3 1369.5h0M1789.5 1349.6h0M1839.2 1369h0M1865.3 1406.7h0M1779.2 1273h0M1851.8 1446h0M1747.8 1351.2h0M1746 1321.9h0M1856.9 1336.8h0M1807.6 1402.5h0M1769.8 1386.5h0M1844 1383.9h0M1867.1 1328.7h0M1824.9 1417.4h0M1915.9 1458.2h0M1777.8 1297.3h0M1780 1369.2h0M1880.7 1364.5h0M1757.5 1415.1h0M1867.3 1398.9h0M1718.7 1396.2h0M1758.2 1340.8h0M1810.5 1306.2h0M1795.7 1373.7h0M1919.2 1335.6h0M1760.6 1353.9h0M1819.6 1302.5h0M1831.6 1418.4h0M1814.9 1361h0M1894.2 1393.9h0M1785.3 1345.3h0M1788.7 1274.3h0M1758.7 1385.1h0M1877.7 1393.4h0M1838.3 1320.1h0M1839.3 1307.3h0M1835.4 1388.7h0M1750.9 1286.6h0M1853.6 1252h0M1842.2 1393.7h0M1913.1 1426.7h0M1848.9 1351.8h0M1772.1 1372.5h0M1802.6 1261.2h0M1936.3 1390.2h0M1745.9 1339.3h0M1735.8 1339.2h0M1837.3 1424.5h0M1913.9 1356h0M1826.8 1461.7h0M1748 1424.3h0M1961.3 1302.1h0M1773.9 1418.1h0M1874.5 1354.6h0M1914 1329.5h0M1828.4 1306.6h0M1860.7 1293.5h0M1916.2 1392.4h0M1740.9 1412.1h0M1872.3 1372.8h0M1897.4 1329.2h0M1902.2 1364.5h0M1796 1381.5h0M1851.2 1384.2h0M1786 1413.3h0M1784.4 1268.9h0M1763.2 1399h0M1862.2 1337.5h0M1834.9 1381h0M1894.5 1394.1h0M1671.4 1328.1h0M1765.9 1439.6h0M1843.3 1418.3h0M1932.7 1433.5h0M1777.3 1446.7h0M1710.6 1446.6h0M1786 1322.5h0M1818.3 1373.7h0M1875.2 1392.3h0M1895.3 1324.2h0M1869.1 1349.4h0M1817.9 1395.5h0M1956.8 1374.8h0M1780.3 1382.2h0M1824.1 1367.5h0M1861.8 1280.8h0M1791.8 1359.5h0M1809.9 1386.6h0M1865.2 1359.1h0M1767.3 1395.8h0M1812.9 1366.1h0M1815 1271.9h0M1968.8 1397.4h0M1877.3 1447.9h0M1782 1291.5h0M1873.5 1452.2h0M1759.1 1281.7h0M1853 1353.7h0M1722.3 1335.9h0M1872.5 1323.7h0M1816.4 1410.8h0M1742.7 1351.9h0M1853.3 1401h0M1880.3 1450.3h0M1851.5 1421.2h0M1838.1 1289.8h0M1744.3 1389.9h0M1878 1374.8h0M1690.4 1397.4h0M1791.1 1353.2h0M1951.5 1370h0M1739.7 1294h0M1714.7 1399.4h0M1768.2 1373.6h0M1850.2 1388.4h0M1821.1 1411.9h0M1888.9 1341.1h0M1829.2 1448.9h0M1760 1326h0M1884.2 1420.9h0M1790.4 1279h0M1867.8 1377.1h0M1913.2 1307.1h0M1857.8 1288.1h0M1907.7 1450.6h0M1750.1 1372.7h0M1799.7 1390.7h0M1838 1373.3h0M1752.7 1302.1h0M1910.1 1392.7h0M1904.3 1288.7h0M1856.6 1371.3h0M1864.8 1382.9h0M1819.2 1271.8h0M1760.6 1439.5h0M1788.7 1417h0M1811.5 1303.4h0M1841.9 1334.1h0M1819.1 1398.7h0M1845.1 1404h0M1744.7 1414h0M1780.4 1345.4h0M1838.3 1410.5h0M1888.1 1283.6h0M1725.7 1455h0M1848.7 1300.9h0M1873.6 1352.5h0M1823.8 1299.2h0M1833 1259.3h0M1802.8 1344.2h0M1825.5 1241.9h0M1804.5 1391.8h0M1733.7 1268h0M1912.8 1302.9h0M1848 1375.7h0M1795.3 1426.5h0M1911 1444h0M1810.9 1382h0M1868.2 1332.7h0M1723.7 1369.3h0M1790.8 1442.6h0M1895.8 1457.2h0M1920.2 1347.2h0M1945.9 1369.4h0M1917.9 1228.8h0M1941.3 1355.1h0M1785.5 1294.5h0M1740.5 1367.6h0M1677.6 1429.8h0M1835.2 1364.8h0M1813.5 1246.5h0M1925.1 1322.1h0M1814.4 1361.2h0M1931.5 1386.6h0M1729.7 1348.9h0M1940.6 1386.2h0M1824.6 1352.3h0M1915.9 1344.8h0M1891.8 1355.1h0M1774.6 1318.7h0M1886.8 1410h0M1791.3 1344h0M1886.4 1342.2h0M1867.3 1350.3h0M1856.9 1357.1h0M1819.8 1387.8h0M1814.6 1422.3h0M1834.1 1358.2h0M1677.3 1385.2h0M1892.6 1377.9h0M1825.3 1437.8h0M1844.1 1356.2h0M1771.1 1445.6h0M1849.5 1405h0M1800.6 1341.2h0M1931 1372.3h0M1740.3 1398.6h0M1909.5 1345.3h0M1778.9 1325.9h0M1853.1 1393.7h0M1813.5 1435.3h0M1767.8 1322.1h0M1698.2 1323.6h0M1876.9 1340.3h0M1719.5 1412h0M1799.6 1344.8h0M1912.9 1350.7h0M1914.8 1433.9h0M1847.6 1308.4h0M1725.3 1316.5h0M1820.6 1329.1h0M1833.4 1392.8h0M1777.3 1405.9h0M1914.4 1443.8h0M1843.7 1428h0M1848.7 1411.2h0M1821.7 1374.6h0M1741.2 1446.9h0M1768.8 1341.2h0M1765.7 1362.4h0M1906.1 1395.4h0M1830.8 1424.2h0M1857.3 1356.6h0M1854.8 1357.3h0M1854.2 1354.9h0M1935.4 1310h0M1882.8 1380.9h0M1847.6 1353.4h0M1838.1 1369.7h0M1921.9 1378.6h0M1713.1 1360.1h0M1914.4 1391h0M1795.1 1440.7h0M1859.9 1392.5h0M1811.2 1346.6h0M1830.7 1289.9h0M1812.7 1413.6h0M1595.8 1319.8h0M1755 1348.3h0M1774.4 1310.2h0M1741.1 1416.3h0M1705.7 1371.7h0M1858.7 1418.9h0M1759.2 1377.4h0M1831.5 1422.7h0M1901.3 1397.4h0M1755 1352.1h0M1812.8 1272.6h0M1897.2 1359h0M1804.1 1410.2h0M1799.8 1350.3h0M1687.1 1444.4h0M1909.8 1386.7h0M1807.2 1367.7h0M1736.5 1338.8h0M1876.7 1442.8h0M1795.1 1404.3h0M1817.3 1306.4h0M1779.8 1342.8h0M1868.9 1464.5h0M1864.7 1402.7h0M1791.8 1346.7h0M1822.9 1378.9h0M1921 1354.3h0M1831.5 1363.5h0M1792.3 1313.1h0M1911.7 1323.7h0M1780 1421.9h0M1826.3 1384.8h0M1743.9 1370.5h0M1765.3 1436h0M1785.9 1383.9h0M1857 1275.6h0M1888.2 1437.2h0M1793.1 1390h0M1869.7 1324.4h0M1815.6 1387.2h0M1866.7 1376h0M1771.1 1376.5h0M1839.2 1412.4h0M1811.9 1337.4h0M1830.4 1402.7h0M1982.1 1372h0M1840.8 1422.6h0M1912.5 1383.3h0M1891.5 1406.9h0M1724.7 1398h0M1849 1328.5h0M1891.8 1411.2h0M1723.4 1368.8h0M1771.4 1408.6h0M1829.3 1382.6h0M1795.5 1360.8h0M1826 1416.1h0M1769.2 1375.4h0M1830.8 1320.3h0M1838.4 1404.8h0M1805.7 1398.6h0M1915 1383.7h0M1933.7 1398.7h0M1890.8 1229h0M1774.6 1448.7h0M1790.7 1391.8h0M1737.7 1434.7h0M1849.3 1346.9h0M1793.5 1268.3h0M1788 1323.9h0M1780 1372.7h0M1838.9 1300h0M1833.5 1296.1h0M1749.6 1301.1h0M1921.3 1354.3h0M1834.6 1369h0M1735.9 1347.7h0M1878.1 1388.8h0M1768.4 1329.5h0M1940.4 1389.7h0M1909.9 1456.6h0M1858.6 1429h0M1974 1331.4h0M1766.5 1409.7h0M1843.5 1436.9h0M1806.9 1455.6h0M1766.2 1431h0M1741.2 1382.9h0M1895.6 1403h0M1808.3 1302.7h0M1762.3 1356.5h0M1789.8 1309.6h0M1825.5 1408.5h0M1778.4 1384.8h0M1809.1 1308.6h0M1899.9 1321.6h0M1816.2 1359.6h0M1811.2 1341.1h0M1818.8 1384.3h0M1789.5 1320h0M1806.5 1360.1h0M1911.8 1352.3h0M1808.8 1397.2h0M1817.5 1336.1h0M1636.5 1389.7h0M1867.6 1353.4h0M1902.3 1337.1h0M1778.7 1366.8h0M1853.1 1418.9h0M1752.7 1421.2h0M1842.9 1379.8h0M1845.5 1386h0M1678.7 1350.7h0M1892.3 1388.1h0M1906.9 1363.8h0M1812.9 1298.8h0M1751.8 1408.3h0M1821.6 1323.3h0M1812.6 1330.2h0M1882.2 1378.4h0M1818.7 1372.8h0M1814 1416.2h0M1886.9 1314.8h0M1865 1440.6h0M1829 1413.9h0M1778.9 1443.4h0M1774.5 1269.6h0M1779.8 1403h0M1771.6 1384.1h0M1799.4 1461.9h0M1899.4 1400.9h0M1801.7 1373.7h0M1807.6 1359.2h0M1691.8 1377.8h0M1890.8 1367h0M1800 1449.3h0M1865.1 1345.2h0M1856.3 1314.6h0M1782.1 1436.6h0M1855.9 1379.5h0M1728.5 1354.6h0M1779.5 1317.6h0M1920.9 1407.2h0M1764 1361.1h0M1852.1 1396.5h0M1825.6 1315h0M1773.2 1365.6h0M1919.9 1314.2h0M1816.1 1400.7h0M1873.4 1354.2h0M1957.7 1380.5h0M1727.4 1317.7h0M1818.3 1430.3h0M1883 1351.8h0M1817.4 1437.5h0M1899.4 1432.4h0M1864.5 1390.8h0M1838.2 1366.2h0M1854.2 1420.7h0M1771.7 1317.2h0M1722.5 1434.8h0M1704.9 1413h0M1840.6 1437.4h0M1757.6 1321.3h0M1910 1463.6h0M1744.1 1336.9h0M1709 1429.1h0M1691.5 1289h0M1913 1327.6h0M1825.4 1403.3h0M1858.1 1322.2h0M1741.9 1412.8h0M1921.9 1411.5h0M1724.6 1351.4h0M1819 1376h0M1792.4 1444.3h0M1888.8 1417.9h0M1747.5 1240.5h0M1794.3 1325.6h0M1800.9 1412.2h0M1816.8 1380.9h0M1822.1 1334.3h0M1868.6 1401.6h0M1882.9 1435.9h0M1800.7 1376.4h0M1812.6 1336.2h0M1833.1 1380.4h0M1847.6 1431h0M1815.6 1449.1h0M1857.4 1395.2h0M1841.9 1449h0M1875.1 1399.3h0M1782.5 1347.9h0M1836.6 1338.7h0M1786 1372.4h0M1707.8 1368.3h0M1777.4 1393.2h0M1833.1 1319.2h0M1789.9 1406.3h0M1758.8 1310.8h0M1866.4 1392.9h0M1901.9 1324.2h0M1866.5 1430.1h0M1867.5 1363.6h0M1737.6 1425.4h0M1858 1441.2h0M1929.2 1322.2h0M1908 1330.5h0M1829.3 1427.8h0M1899.1 1412.6h0M1807.9 1412.1h0M1801.9 1333.3h0M1853.8 1340.7h0M1851.5 1313.4h0M1784 1351.8h0M1811.5 1386.9h0M1892.9 1373.1h0M1792.2 1399.8h0M1834 1381.4h0M1844.8 1319.3h0M1886.8 1262.4h0M1819.2 1459.4h0M1842.7 1335.6h0M1901.1 1355.6h0M1793.6 1343.8h0M1782.7 1368.5h0M1733.8 1329.5h0M1871.4 1335h0M1793.6 1398.6h0M1788.6 1349.7h0M1708.6 1345.3h0M1795.2 1302.5h0M1761.6 1426.9h0M1803.3 1356h0M1801.2 1363h0M1825 1362.8h0M1927.4 1400.6h0M1753.2 1316.5h0M1818 1376.5h0M1787.2 1453.7h0M1804.5 1340.8h0M1834.2 1344.8h0M1880.4 1403.7h0M1831.2 1357.1h0M1838.3 1416.2h0M1867.1 1384.2h0M1834.7 1435.1h0M1798.3 1349.4h0M1825.2 1392.8h0M1834.5 1373.8h0M1725.6 1337.5h0M1875.6 1421.2h0M1838.2 1291.2h0M1872.4 1283h0M1841.9 1435.8h0M1749.8 1386.2h0M1786.3 1359.1h0M1827.3 1425.3h0M1751 1385.2h0M1903.3 1347.9h0M1752.7 1299.9h0M1931.9 1330h0M1846.5 1343.3h0M1864.3 1354.4h0M1753.8 1430.3h0M1810.5 1384.8h0M1805.7 1309.7h0M1916.5 1375.2h0M1954.9 1294.3h0M1944.1 1353.1h0M1677.7 1305.3h0M1834.6 1347.1h0M1752.4 1331.5h0M1827 1322.6h0M1804.4 1395.1h0M1728.7 1373.5h0M1757.6 1344.7h0M1872.1 1385.6h0M1823.2 1429.5h0M1792.7 1382.7h0M1838.7 1393.1h0M1765 1424.9h0M1870.2 1407.1h0M1809 1345.5h0M1897.6 1308.4h0M1707.4 1435.1h0M1852.7 1268.9h0M1805.1 1416.9h0M1745.7 1314.9h0M1770.3 1296.4h0M1835.1 1430.3h0M1868.7 1361.8h0M1804.1 1321.8h0M1819.5 1430.5h0M1801.2 1342h0M1798.9 1318.4h0M1950.1 1293.4h0M1875.8 1413.5h0M1928.5 1407.2h0M1806.5 1363.2h0M1856.3 1451.2h0M1823.5 1441.8h0M1896.3 1442.5h0M1847.6 1368.3h0M1931.6 1358.3h0M1842.7 1340.7h0M1807.5 1316.2h0M1769.9 1287.9h0M1793.9 1345.8h0M1878.1 1365.4h0M1799.3 1390.1h0M1835.2 1390.5h0M1878.4 1267.5h0M1908 1368.9h0M1762.2 1338.7h0M1812.1 1343.8h0M1751.3 1404.7h0M1838.2 1289.8h0M1824 1308.8h0M1839.2 1385.2h0M1748.5 1247.9h0M1799 1390.8h0M1721.1 1406h0M1864.6 1383.5h0M1794.1 1306h0M1784.6 1362.3h0M1843 1428.8h0M1867 1326h0M1791.4 1363.8h0M1826.4 1327.8h0M1841.6 1339.1h0M1805.2 1395.2h0M1765.4 1405.1h0M1780 1289.4h0M1869.1 1412.2h0M1835.1 1332.8h0M1752 1331.9h0M1791.6 1398.9h0M1863.4 1339h0M1822.2 1391.4h0M1772.3 1400.4h0M1748.7 1428.9h0M1831.7 1316.4h0M1923.7 1442.8h0M1810.1 1371.9h0M1768 1432.4h0M1766.1 1308.5h0M1881 1373.7h0M1697.8 1292.3h0M1788.2 1403.7h0M1813.4 1360.7h0M1779.8 1420.4h0M1944.8 1361.2h0M1831.1 1353.8h0M1827.1 1365.4h0M1882 1419.2h0M1815.4 1382.8h0M1713.7 1323.2h0M1833.2 1333.9h0M1788.3 1349.2h0M1782.8 1309.5h0M1895.2 1277h0M1764.9 1445.2h0M1820.3 1296.5h0M1818.6 1324.5h0M1837.1 1367.7h0M1946 1431.2h0M1764.3 1287.3h0M1815.6 1370.9h0M1886.5 1328.7h0M1822.1 1328.8h0M1774.8 1424.1h0M1790.1 1306.6h0M1889.7 1328.1h0M1741.2 1386.1h0M1924.4 1415.1h0M1930.9 1370h0M1826.1 1249.3h0M1843.7 1421.6h0M1849 1404.9h0M1800.7 1342.6h0M1842.3 1431.1h0M1692.7 1409.7h0M1718.2 1377.2h0M1763.7 1403.1h0M1776.2 1331h0M1850.2 1381.7h0M1831.6 1323h0M1868 1318.5h0M1819.5 1349.7h0M1820.2 1362.9h0M1847.6 1401.1h0M1769.6 1316.1h0M1764.9 1351.6h0M1781.8 1378.3h0M1733.6 1364.6h0M1787 1326h0M1804.1 1280.8h0M1754.8 1325.9h0M1765.7 1336.9h0M1781.5 1372.5h0M1886 1329.7h0M1899.4 1409h0M1768.8 1265.4h0M1883.5 1445.1h0M1814.2 1357.2h0M1755.6 1388.7h0M1802.7 1451.7h0M1774.2 1446h0M1771.3 1431.3h0M1732.4 1356.9h0M1824.7 1338.5h0M1721.3 1305.4h0M1775.6 1402.3h0M1847.4 1320.7h0M1921.2 1374.1h0M1806.8 1350.3h0M1819.9 1330.8h0M1858.6 1398.7h0M1803.2 1375.3h0M1892.7 1345.6h0M1675.3 1356.9h0M1832.8 1394h0M1760.3 1294.2h0M1821 1370.2h0M1890.3 1404.2h0M1813.7 1289h0M1785.1 1319.5h0M1816.5 1325.1h0M1783.7 1315.6h0M1816.1 1406.3h0M1786.8 1353.5h0M1764.4 1368.1h0M1726.3 1380.5h0M1844.8 1371.3h0M1789.8 1345.7h0M1730.7 1412.4h0M1734.8 1426.2h0M1812.5 1372.5h0M1755 1396h0M1818.9 1271.9h0M1873.9 1367.2h0M1829.3 1326.5h0M1903.5 1373.4h0M1715 1411.8h0M1770.1 1335.5h0M1820.1 1387.4h0M1835.7 1280h0M1715.7 1345.4h0M1871.5 1447.6h0M1842.8 1347.1h0M1831 1418.2h0M1837.9 1390.8h0M1779.1 1301.1h0M1869.2 1349h0M1821.5 1371.7h0M1788.8 1342.6h0M1842.2 1267.7h0M1746.4 1396.6h0M1784.8 1319.9h0M1784.1 1282.4h0M1823.3 1319.3h0M1788.7 1269h0M1822.2 1302.4h0M1729.5 1331h0M1737.3 1410.3h0M1837.3 1447.8h0M1808.3 1306.7h0M1765.4 1374.4h0M1826.9 1426.9h0M1830.5 1402.1h0M1871.5 1410.5h0M1837.5 1343.8h0M1767.9 1433.3h0M1816.6 1381.3h0M1876.1 1423.7h0M1848.4 1362.8h0M1776 1445.5h0M1884.8 1355.9h0M1770.9 1320.1h0M1802 1331h0M1705.2 1341.7h0M1818.3 1404.1h0M1832.1 1328.8h0M1800.5 1341h0M1812.5 1324.6h0M1770 1318.4h0M1843.8 1349.8h0M1781.6 1382.7h0M1847.6 1384.2h0M1838.9 1342.9h0M1819 1334.6h0M1834 1316.1h0M1832.6 1419.1h0M1806.2 1389.5h0M1726.1 1346h0M1914.1 1414.7h0M1953.2 1336.4h0M1834.8 1338.5h0M1774.4 1420.8h0M1834.1 1316.5h0M1739.7 1353.9h0M1853.8 1400.8h0M1918.3 1387.6h0M1850.8 1324h0M1854.1 1301.5h0M1705.1 1360.7h0M1802 1366.8h0M1745.2 1289.6h0M1923 1203.1h0M1817.1 1430.6h0M1804.6 1362.8h0M1855.9 1418.8h0M1887.4 1396.3h0M1862.3 1402.9h0M1780.6 1399h0M1846.7 1376.8h0M1857.7 1377.3h0M1807.2 1383.2h0M1868.4 1391.2h0M1781.8 1302.4h0M1860.3 1341h0M1895 1359.7h0M1853.4 1333.4h0M1774.2 1422.8h0M1856.4 1379.4h0M1879.9 1279.2h0M1871.7 1395.3h0M1772.8 1376.8h0M1826.8 1407.7h0M1833.9 1346h0M1872.4 1443.7h0M1816.8 1304.2h0M1902 1305.4h0M1818 1307.6h0M1831.3 1375.2h0M1930.3 1420.3h0M1910.2 1354.9h0M1851.7 1393.4h0M1786.8 1336.1h0M1650.6 1279.9h0M1839.4 1352.8h0M1774.3 1373.1h0M1897.1 1361.1h0M1901.6 1290.9h0M1754.1 1400.7h0M1751.7 1376.4h0M1804.7 1361.3h0M1837 1376.6h0M1887.3 1363.4h0M1749.3 1366.5h0M1699 1338.1h0M1807.7 1375.5h0M1794.2 1398h0M1817.1 1295.4h0M1911.6 1303.4h0M1791.6 1315.9h0M1886.1 1363.4h0M1809.7 1258.8h0M1852.9 1348.2h0M1876.3 1394.8h0M1816.5 1302.3h0M1723.8 1398.3h0M1760.2 1349.9h0M1810.5 1327h0M1727.3 1428.7h0M1737.1 1381.5h0M1787.7 1340.7h0M1757.6 1299.5h0M1865.6 1282.8h0M1863.7 1342.8h0M1662.1 1370.1h0M1856 1331.8h0M1773.7 1253.5h0M1806.9 1338.4h0M1906.2 1299.4h0M1828.8 1456h0M1803.5 1345.7h0M1767.6 1371h0M1829.7 1298.6h0M1856.9 1409.6h0M1873.7 1433.9h0M1792.3 1344.3h0M1944.8 1343.6h0M1817.4 1409.2h0M1936.5 1338h0M1830.6 1374h0M1930.3 1314.5h0M1927.1 1219.3h0M1775.9 1386.9h0M1816.3 1400.1h0M1815.3 1422h0M1872.1 1350.2h0M1771.8 1206.1h0M1754.7 1374.4h0M1874.1 1273.4h0M1901.7 1254.7h0M1841.4 1375.3h0M1850.9 1300.3h0M1877.1 1326.9h0M1848.5 1400.3h0M1816 1337.1h0M1811.2 1339.3h0M1918.4 1394.4h0M1786.1 1346.7h0M1871.7 1345.8h0M1835.3 1262.8h0M1814.9 1356.5h0M1882.4 1368.6h0M1801.7 1380.8h0M1694.9 1365.4h0M1883.1 1336.7h0M1838.7 1337.7h0M1851.3 1363.4h0M1897.7 1311.9h0M1820.7 1293.1h0M1908.3 1429.1h0M1809.9 1413.7h0M1965.4 1424.3h0M1748.6 1217.2h0M1822.5 1396.5h0M1804.6 1382.3h0M1742.1 1273.8h0M1758.1 1389.2h0M1820.3 1289.3h0M1708.7 1347.7h0M1816.4 1410.5h0M1864.6 1368.7h0M1745.3 1299.5h0M1765.3 1377.4h0M1722.7 1392h0M1784.6 1365h0M1802.7 1306.1h0M1761.9 1293.7h0M1767.6 1285.4h0M1823.9 1357.3h0M1837.2 1340.4h0M1737.7 1402.7h0M1780.7 1410h0M1768.8 1380.5h0M1711.5 1369.1h0M1810.2 1307.1h0M1840.5 1407.6h0M1829.1 1307.3h0M1758.6 1256.2h0M1883.4 1343.4h0M1866.9 1254.9h0M1770 1380.6h0M1793.4 1380.9h0M1870 1318.7h0M1783.5 1350.4h0M1886.8 1331.1h0M1911.4 1315.3h0M1811.2 1370h0M1819.2 1303.1h0M1818.3 1332h0M1899.3 1304.3h0M1870.9 1387.4h0M1752.3 1360.1h0M1730.7 1406.8h0M1776.7 1385.1h0M1795.2 1285h0M1752.6 1313.9h0M1871.8 1345.9h0M1821.8 1408.3h0M1874 1401h0M1880 1329.9h0M1760 1384.8h0M1945.2 1427.8h0M1919 1304.4h0M1804.3 1294.3h0M1762.9 1243.9h0M1765.2 1373.4h0M1849.8 1292.7h0M1782.8 1394.3h0M1835.7 1410.4h0M1929.7 1359.1h0M1811.6 1342h0M1794.5 1405.5h0M1843.7 1337.5h0M1836 1439.2h0M1751.7 1315.4h0M1703.7 1393.2h0M1803.4 1405.6h0M1788.9 1437.2h0M1783.7 1443.4h0M1817.6 1361.3h0M1844.9 1384.6h0M1761.8 1348.7h0M1862.4 1382.1h0M1762.1 1399.2h0M1805.3 1367.3h0M1829.3 1379.6h0M1863.4 1328.5h0M1895.6 1334.6h0M1844.5 1366h0M1813.5 1386.4h0M1843.4 1404.3h0M1842.2 1374.1h0M1776.3 1386.1h0M1817.7 1447.3h0M1797.6 1362.9h0M1835.4 1333.3h0M1711.5 1406.1h0M1727.3 1353.4h0M1677.7 1390.9h0M1868 1362.8h0M1791.2 1405h0M1816.4 1298.1h0M1693.8 1447.5h0M1852 1331.9h0M1832.4 1414.1h0M1902.3 1396.8h0M1913.8 1332.4h0M1843.4 1278.8h0M1825.9 1306.8h0M1838.9 1364.4h0M1812.1 1407.4h0M1799.8 1365.3h0M1817.8 1334.2h0M1831.4 1304.3h0M1769.2 1304.7h0M1797.2 1376h0M1936.1 1401.7h0M1785.1 1462.2h0M1791.7 1378h0M1846.3 1404.1h0M1759.3 1437.9h0M1792.9 1402.4h0M1724.7 1346.1h0M1812.4 1447.9h0M1757.2 1315h0M1685.5 1326.6h0M1841.6 1439.2h0M1863.9 1353.2h0M1802.6 1274.8h0M1935.4 1360.4h0M1707.8 1354.5h0M1717.7 1410.4h0M1822 1269.5h0M1877.1 1359.6h0M1808 1339.8h0M1789 1331.2h0M1747.7 1332.3h0M1934.6 1400.2h0M1780 1304.7h0M1858 1361.4h0M1831.9 1406.7h0M1725.2 1418.8h0M1871.4 1337h0M1775.4 1393.2h0M1843.6 1354.6h0M1851.5 1388.1h0M1805.1 1401.8h0M1928 1402.8h0M1907.3 1308.8h0M1813.5 1345.1h0M1872.3 1341.2h0M1900 1358.6h0M1934.7 1326.4h0M1799.3 1385.6h0M1951.8 1344.8h0M1761.1 1257.1h0M1741.6 1399.9h0M1862 1395h0M1756.6 1401.2h0M1929.3 1352.8h0M1696.7 1395.3h0M1818.5 1348.5h0M1859.7 1353.4h0M1709.9 1308.8h0M1886.5 1387.9h0M1724 1376.4h0M1839.7 1413.8h0M1832.3 1331.2h0M1833 1300.4h0M1872.6 1350h0M1871.2 1351.6h0M1764.9 1307.6h0M1757.6 1292.1h0M1824.2 1332.6h0M1710 1345.6h0M1903.8 1340.9h0M1806 1337.6h0M1969.9 1307.9h0M1854.8 1396h0M1778.4 1388.5h0M1752.1 1352.3h0M1901.2 1373.7h0M1608.4 1439.4h0M1789.4 1339.2h0M1954.8 1376.1h0M1813.7 1408.6h0M1862.1 1306h0M1817.5 1399.5h0M1854.3 1338h0M1764.8 1428.1h0M1823.7 1310.7h0M1899 1360.9h0M1818.2 1344.8h0M1827 1324.9h0M1897.6 1356.4h0M1887 1345.6h0M1831.9 1384.6h0M1766.9 1408.3h0M1748.6 1319.8h0M1832.8 1368.5h0M1820.7 1356.1h0M1931.6 1279.7h0M1926.2 1322.3h0M1787.6 1402.5h0M1801.1 1341h0M1715.8 1355.2h0M1837.3 1342.9h0M1836.7 1278.2h0M1880.5 1446.7h0M1758.6 1377.6h0M1839.1 1350.9h0M1819.1 1366.5h0M1882.9 1349.7h0M1726.2 1326.1h0M1903.6 1413.5h0M1820.8 1394.6h0M1815.2 1322h0M1739.1 1388.7h0M1804.4 1381.2h0M1836.7 1408.9h0M1800.1 1350.5h0M1828.7 1378.6h0M1741.6 1446h0M1815.4 1391.7h0M1755.8 1357.3h0M1695.2 1374.4h0M1726.1 1433.1h0M1797.6 1394.4h0M1839.9 1345.2h0M1821.7 1245h0M1905.3 1461.6h0M1839.1 1369.3h0M1821.5 1290.8h0M1784.7 1378.5h0M1852.4 1359.4h0M1812.8 1419.1h0M1695.9 1299.8h0M1813.9 1289.9h0M1816.1 1346.6h0M1809.7 1266.3h0M1858.9 1334.1h0M1873.6 1397.1h0M1860 1382.2h0M1789.5 1295.1h0M1835.1 1423.6h0M1836.4 1361.4h0M1838 1344.2h0M1772.1 1345.9h0M1840.9 1373.6h0M1798.2 1359.7h0M1741.1 1404.4h0M1752.1 1433.2h0M1791.9 1388.3h0M1813.3 1413.9h0M1733.3 1322.5h0M1716.1 1396.9h0M1752.9 1312.3h0M1782.2 1351.3h0M1915.9 1336.1h0M1848.5 1395.2h0M1671 1361.6h0M1782.3 1340.7h0M1825.8 1392.5h0M1884.9 1386.3h0M1810 1305.4h0M1932.9 1426h0M1771.8 1396.2h0M1952.1 1351.8h0M1795.5 1364.9h0M1814.1 1351h0M1843.2 1260.3h0M1784.7 1353.1h0M1748.3 1427.9h0M1847.2 1449.3h0M1834 1392.9h0M1921.7 1364h0M1876.4 1378.3h0M1780.3 1431.7h0M1856.5 1319.6h0M1767.3 1347.4h0M1712.9 1409.1h0M1802.2 1314.9h0M1779.2 1333h0M1771.3 1441.4h0M1877.8 1365.1h0M1812 1388.5h0M1754.6 1350.9h0M1782.3 1369.6h0M1830.4 1311.7h0M1679.7 1353.9h0M1843.9 1364.6h0M1827.8 1380.1h0M1843.7 1421h0M1898.9 1447.2h0M1896.1 1452h0M1784 1313.4h0M1885.6 1332.5h0M1826.8 1367.7h0M1737.7 1409.4h0M1812.4 1284.7h0M1804 1408.9h0M1845.3 1374.4h0M1762.9 1329h0M1761 1319.2h0M1834.9 1399.3h0M1768.2 1320h0M1785.1 1388.3h0M1770.9 1290.7h0M1837.5 1309.9h0M1828.4 1426.8h0M1786.7 1265.2h0M1629.6 1291.1h0M1858 1430h0M1754.1 1394.5h0M1822.3 1335.7h0M1781.7 1266.5h0M1695.9 1459.7h0M1847.2 1368.2h0M1779.5 1421.7h0M1807.4 1464.7h0M1820.5 1387.6h0M1961.8 1371.6h0M1780.9 1319.2h0M1793 1333.8h0M1770.4 1315.5h0M1793.7 1380.7h0M1831 1304.2h0M1796.1 1456h0M1824.1 1425.1h0M1811.1 1323.4h0M1805.8 1435.9h0M1802.3 1441.7h0M1972.7 1409.2h0M1762.9 1339.7h0M1816.2 1327.6h0M1752.9 1300.4h0M1857.4 1347.5h0M1857.8 1377.4h0M1806.1 1306.9h0M1752.1 1277.4h0M1861.9 1399.9h0M1895.9 1388.6h0M1711.8 1361h0M1765.2 1323.2h0M1807.2 1349.2h0M1812.8 1400h0M1817.9 1364.2h0M1859.2 1349.8h0M1796.1 1290.9h0M1813.9 1369.6h0M1860.3 1398.8h0M1798 1394.7h0M1912.7 1358.6h0M1830.9 1438.6h0M1887 1351.6h0M1843.2 1379.6h0M1875.5 1319.6h0M1830.6 1375h0M1838.6 1350.4h0M1858.4 1379h0M1802.1 1381.7h0M1931.5 1457.2h0M1787.8 1291.8h0M1909.5 1361.1h0M1810.9 1375h0M1891 1303.1h0M1865.2 1369.8h0M1914.2 1369.5h0M1810.9 1380.5h0M1842.1 1319.4h0M1788.2 1440.3h0M1849.6 1336.9h0M1756.1 1342.5h0M1860.9 1260.9h0M1742.4 1273.2h0M1931 1401.5h0M1809.7 1281h0M1753.7 1367.1h0M1798.6 1291.9h0M1838.3 1359.5h0M1756.8 1362.1h0M1933.4 1356.7h0M1855.3 1346h0M1792.4 1341.9h0M1747.5 1337.7h0M1840.8 1254.2h0M1853.2 1319.2h0M1874 1374.5h0M1819.3 1362.7h0M1769.4 1299h0M1878.5 1293.3h0M1816.6 1327.1h0M1761.6 1314h0M1824.6 1323.4h0M1811.6 1362.7h0M1793.8 1391.4h0M1868.7 1218.6h0M1654.3 1326.9h0M1871.1 1255.2h0M1794 1453.4h0M1787.8 1410.1h0M1795.9 1331.8h0M1840.4 1325.8h0M1742.3 1359.5h0M1813.7 1388.1h0M1883.9 1392.9h0M1870.4 1376.3h0M1752.2 1389.3h0M1768.4 1361.4h0M1726 1336h0M1728.8 1383.9h0M1874.1 1364.7h0M1880 1319.7h0M1741 1303.8h0M1941.7 1287.3h0M1907.3 1415.5h0M1858.9 1355.6h0M1793.8 1309.8h0M1787.6 1375.2h0M1873.3 1331.1h0M1856 1291.8h0M1726.7 1385.8h0M1836.3 1442.7h0M1834.9 1432.2h0M1910.6 1442.9h0M1766.9 1267h0M1800 1447.8h0M1809.7 1386h0M1809.3 1330.6h0M1783 1421.4h0M1908.2 1336.7h0M1765.5 1307.9h0M1787.8 1388.1h0M1758.9 1360.7h0M1803.4 1279.5h0M1888.4 1357.4h0M1833 1339.9h0M1869.2 1341.6h0M1859.2 1392.7h0M1809.8 1329.9h0M1705.4 1327.3h0M1834.1 1362.4h0M1818.9 1435.8h0M1805.4 1386h0M1792 1351.9h0M1806.9 1272.8h0M1775.6 1398.8h0M1770.3 1430.5h0M1780.2 1398.6h0M1835.3 1350.5h0M1930.6 1408.7h0M1861.4 1198.2h0M1699.8 1335.9h0M1831 1320.5h0M1855.4 1439.7h0M1875.9 1406.9h0M1785.3 1365.5h0M1722 1406.6h0M1876.1 1335h0M1793.7 1446.7h0M1941.6 1405.2h0M1748.3 1368.9h0M1950.4 1301.5h0M1746.1 1318.1h0M1947.6 1415.6h0M1837.6 1296.9h0M1886.9 1401h0M1863.2 1396.4h0M1896.6 1302.9h0M1848.4 1293h0M1881.8 1227.1h0M1754.5 1323.8h0M1822.4 1369.5h0M1748.1 1315.6h0M1824.1 1337.6h0M1842.8 1331.6h0M1821.9 1329.1h0M1897.7 1342.3h0M1882.4 1411.6h0M1869.2 1380.3h0M1890.7 1323.3h0M1924.3 1319.4h0M1778.3 1320.2h0M1805.1 1406.1h0M1832.1 1383.9h0M1766.3 1395.1h0M1796 1419h0M1728.3 1294.7h0M1749.9 1355.5h0M1914 1325.7h0M1809.9 1393.1h0M1703.3 1413.9h0M1841.1 1421h0M1800.1 1443h0M1699.7 1362.8h0M1774.3 1339.3h0M1804.6 1303h0M1837.7 1413h0M1784.6 1436.2h0M1895.4 1313h0M1808.1 1300.8h0M1973.8 1361h0M1886.1 1381.8h0M1919.7 1459h0M1907.7 1418.7h0M1745.8 1334.8h0M1906.7 1382.3h0M1937.4 1416.4h0M1848.3 1292.2h0M1758.6 1409.4h0M1898.4 1328.2h0M1795.3 1403h0M1842.4 1389.7h0M1884.1 1340.8h0M1900 1380.9h0M1772.8 1266.8h0M1887.4 1443.9h0M1859.1 1392.2h0M1807.7 1436h0M1805.2 1293.6h0M1850.4 1275.2h0M1935.3 1354.3h0M1800.9 1428.2h0M1883.9 1307.7h0M1772.3 1320.2h0M1791.4 1360h0M1822.7 1377h0M1817.1 1361.9h0M1815.7 1393.5h0M1776 1344.4h0M1784.1 1329h0M1796.9 1301h0M1866 1285.5h0M1846.1 1403.8h0M1873.4 1451.2h0M1896.9 1321.2h0M1819.1 1449.1h0M1781.5 1295.1h0M1776 1344.4h0M1927.5 1314.4h0M1879.9 1318h0M1921.1 1303.8h0M1898.2 1335.3h0M1815 1307.4h0M1856.9 1410.8h0M1832.2 1436.6h0M1965.6 1365.9h0M1861 1338.4h0M1926.2 1331.4h0M1832.6 1403.1h0M1909.2 1371.9h0M1841.8 1356.6h0M1785.6 1337.5h0M1910 1410.8h0M1780.8 1309.6h0M1807.9 1357.7h0M1875.5 1367.5h0M1851.5 1384.1h0M1799.7 1378h0M1829.3 1388.6h0M1910.9 1294.4h0M1780.7 1373.9h0M1662.5 1411h0M1892.8 1346.5h0M1792.3 1368.6h0M1805.4 1319.8h0M1874.5 1384h0M1796.4 1305.2h0M1810.3 1440.5h0M1897.2 1336.3h0M1865.9 1333.8h0M1821 1378.4h0M1771.2 1277.9h0M1762.7 1309.7h0M1883.2 1314.8h0M1860.9 1397.8h0M1762.8 1376.3h0M1839.8 1266.7h0M1688.7 1388.5h0M1865.9 1404.3h0M1841.3 1352.1h0M1776 1354.2h0M1894.9 1320.7h0M1846.7 1308.3h0M1800.9 1241.7h0M1800.2 1405.9h0M1803.2 1321.2h0M1874.7 1357.5h0M1861.6 1298.7h0M1793.2 1421.5h0M1743.2 1385h0M1806.9 1398.5h0M1844.8 1394.8h0M1768.3 1388.2h0M1770.7 1408.3h0M1809.7 1302.6h0M1840.4 1265h0M1861.4 1249.1h0M1889.5 1276.8h0M1703.1 1394.6h0M1886.1 1316.1h0M1843.8 1323.6h0M1784.9 1345.4h0M1872.9 1355.5h0M1689.4 1299.5h0M1700.3 1339h0M1946 1377.7h0M1734.7 1432.6h0M1833.5 1404.6h0M1747.9 1317.6h0M1788.6 1330.5h0M1752.5 1457.9h0M1883.5 1373h0M1688.8 1383.9h0M1817 1365.4h0M1752.3 1354.1h0M1749.4 1426.3h0M1869.3 1310.5h0M1758.3 1375h0M1810 1292.9h0M1847.7 1355.4h0M1822.6 1347.4h0M1859.6 1351.1h0M1885.9 1373.8h0M1834.4 1255.6h0M1797.4 1369.9h0M1814.2 1289.2h0M1791.3 1356h0M1880.7 1422.8h0M1772.9 1394.5h0M1840.6 1337.8h0M1860.6 1298.2h0M1773 1445.6h0M1719.3 1343.4h0M1872.6 1379.1h0M1824.7 1427.1h0M1812.1 1359.7h0M1817.4 1376.4h0M1829.9 1454.4h0M1843.5 1332.9h0M1812 1395.3h0M1778 1396.9h0M1850.8 1313h0M1863.8 1318.8h0M1777.3 1445.2h0M1694.9 1204h0M1885.5 1369.1h0M1874.6 1303.2h0M1868.7 1451.1h0M1790.5 1429.1h0M1894 1339.8h0M1848.1 1260.6h0M1799.5 1345.3h0M1772.3 1407.7h0M1926.8 1392.6h0M1831 1391.3h0M1819.2 1306.4h0M1759.2 1372.3h0M1868.4 1315.4h0M1806.7 1360.4h0M1932.2 1371h0M1831.3 1365h0M1853 1370.1h0M1767.1 1370.1h0M1743.1 1385h0M1760.3 1376.8h0M1787.2 1327.5h0M1735.2 1407.1h0M1749.3 1320.1h0M1734.8 1436.1h0M1845.5 1339.9h0M1870.7 1442.9h0M1768.6 1328.9h0M1913.9 1325.8h0M1846.4 1376.5h0M1823.5 1417.9h0M1837 1369.2h0M1931.9 1419.5h0M1863.7 1264.8h0M1892 1447.4h0M1805 1363.5h0M1807.2 1310.1h0M1850.3 1464.1h0M1758.7 1348.6h0M1778.6 1313.6h0M1767.7 1312.4h0M1935 1354.5h0M1854.2 1373.5h0M1792.4 1377.7h0M1766.7 1302.4h0M1865.7 1342.1h0M1881.3 1436.3h0M1796.1 1357.3h0M1881.2 1340.7h0M1782.2 1390.9h0M1898.5 1431.4h0M1854.8 1327h0M1804.4 1372.1h0M1734.1 1434.2h0M1826.1 1327.7h0M1852.5 1407h0M1940.9 1276.3h0M1792 1453.7h0M1811.2 1346h0M1765.7 1355.9h0M1852.1 1407.1h0M1805.4 1429.3h0M1756.7 1333.7h0M1799.6 1338.3h0M1801.6 1338.4h0M1764.5 1380.9h0M1836.9 1298.3h0M1779 1374.5h0M1787.3 1300h0M1815.6 1380.8h0M1713.3 1397.7h0M1829.2 1438.4h0M1794.1 1297h0M1768 1393h0M1936.2 1344.3h0M1846.4 1363.5h0M1767.6 1411.3h0M1722.3 1314.3h0M1770.8 1295.3h0M1902.8 1343.6h0M1677.6 1386.6h0M1845 1270.4h0M1746.6 1437.7h0M1831.8 1406.4h0M1962.3 1398.5h0M1892.3 1280.7h0M1841.7 1367h0M1801.5 1400.8h0M1867.5 1378.8h0M1762.4 1352h0M1752.7 1410.8h0M1822.5 1329.8h0M1934.5 1406.5h0M1837.7 1383.3h0M1893.9 1386.8h0M1780.3 1386.9h0M1827 1327.5h0M1726.2 1322.3h0M1829.6 1378.6h0M1777.8 1357.1h0M1897.1 1372.1h0M1862.4 1352.7h0M1858.7 1391.8h0M1897.2 1325.8h0M1794.7 1382.6h0M1671.2 1328.1h0M1704.7 1385.4h0M1816.4 1330.1h0M1733.3 1370.1h0M1765.3 1392.7h0M1774.4 1377.5h0M1830.3 1381.8h0M1635.8 1320.5h0M1855 1389.1h0M1850 1333.7h0M1807.7 1346.1h0M1804.4 1266h0M1930.2 1410.7h0M1816 1328.6h0M1653.5 1348.6h0M1896.3 1335.4h0M1737.9 1436.2h0M1815.6 1438h0M1917.2 1391.9h0M1749.7 1322.8h0M1793.4 1377.8h0M1855.3 1408.9h0M1799.8 1341.1h0M1861 1407.2h0M1780.6 1283.4h0M1784.9 1378.5h0M1810 1388.5h0M1805 1366h0M1842.3 1376.9h0M1875.3 1376.5h0M1901 1338.4h0M1731.3 1250.2h0M1792.1 1247.4h0M1818.8 1417.2h0M1882.7 1415.1h0M1872.7 1414.1h0M1753.5 1334.8h0M1946.4 1274.1h0M1807.3 1317.2h0M1970 1345.2h0M1767.1 1337.3h0M1781.2 1389.8h0M1918.7 1330h0M1791.2 1385.8h0M1824.4 1302.8h0M1893.8 1427.2h0M1856 1403.1h0M1952.6 1332.6h0M1779.1 1331.7h0M1834.6 1309.1h0M1775.8 1367.3h0M1869.1 1430.5h0M1882.9 1257.3h0M1854.6 1386.1h0M1752.1 1394.8h0M1853.6 1376.9h0M1757.8 1341.4h0M1773.6 1400.6h0M1792.3 1336.3h0M1828.2 1406.3h0M1850 1339.8h0M1772.2 1413.7h0M1803.9 1335.6h0M1941.5 1374.7h0M1808.1 1362h0M1844.3 1435.4h0M1776 1352.5h0M1963 1408.6h0M1773.8 1368h0M1805.5 1283.2h0M1798.8 1315.9h0M1800.1 1342.1h0M1869.3 1366.9h0M1798 1340.9h0M1856.2 1288h0M1939.2 1422.4h0M1745.2 1270.9h0M1785.7 1360.9h0M1751.5 1307.9h0M1816.4 1370.2h0M1779.5 1396.9h0M1846.5 1430.1h0M1599.6 1375h0M1872.9 1390.5h0M1768.5 1383.8h0M1826.5 1369.8h0M1677.9 1339.6h0M1886.6 1366.3h0M1676.7 1213.9h0M1722.9 1362.2h0M1820.6 1332.9h0M1740.8 1326.5h0M1757.9 1358.3h0M1937.8 1334.5h0M1834 1373h0M1779.3 1400.3h0M1767.3 1416.9h0M1851.6 1435.6h0M1851.3 1399.9h0M1782.5 1373.8h0M1675.8 1381.3h0M1758.2 1300.2h0M1641.3 1326.1h0M1733.2 1368.1h0M1837 1312h0M1891.5 1379.5h0M1882.9 1342.8h0M1838 1448.7h0M1864.6 1427.1h0M1705.9 1426.7h0M1841.5 1370.3h0M1688.1 1323.3h0M1737.7 1384h0M1815.7 1321.7h0M1941.5 1261.2h0M1769.1 1392.4h0M1746.8 1343.3h0M1844.9 1309.1h0M1856.5 1322h0M1733.7 1368.4h0M1819.2 1334.2h0M1760.9 1404.6h0M1855.5 1417.8h0M1836.7 1312.2h0M1818.9 1334.6h0M1803.5 1352.6h0M1838.9 1353.6h0M1756.2 1386.2h0M1921.4 1383h0M1947.2 1276.6h0M1871.7 1427.2h0M1748 1280.2h0M1930 1442.5h0M1727 1357.5h0M1865.4 1451.8h0M1869.1 1246.6h0M1834.5 1302.9h0M1884 1402.9h0M1916.7 1434.8h0M1743.5 1422.3h0M1894.3 1278.1h0M1775.3 1381.4h0M1819.9 1389h0M1752.1 1352.2h0M1796.5 1412.6h0M1821.6 1347.3h0M1790.7 1352.4h0M1832 1382.6h0M1799.7 1376.8h0M1799.9 1284.9h0M1807.1 1343.7h0M1785.6 1338.3h0M1914.3 1317.9h0M1742.4 1442.3h0M1927.5 1431.1h0M1796.5 1392.1h0M1737.9 1378.6h0M1722.8 1425.3h0M1784.1 1305.9h0M1811.1 1328.7h0M1841 1357.7h0M1932.9 1328.7h0M1734.5 1336.7h0M1864.8 1268.6h0M1869.3 1423.5h0M1757 1321h0M1850.2 1309.9h0M1920.6 1346h0M1897.1 1410.2h0M1778.3 1414.1h0M1912.1 1460.4h0M1831.8 1380.1h0M1809.5 1406.4h0M1796.1 1264.8h0M1872.5 1309.6h0M1821.1 1397.1h0M1857.2 1320h0M1801.9 1457.3h0M1814.8 1357.7h0M1846.2 1411.5h0M1844 1375.6h0M1798.7 1321.6h0M1821.3 1335.5h0M1795.3 1437.9h0M1827.2 1370.7h0M1731.9 1327.3h0M1781.8 1327.2h0M1890.5 1293.1h0M1835.7 1323.4h0M1820.2 1398.3h0M1744.1 1336.1h0M1828.6 1401h0M1804.3 1330.3h0M1786.2 1362.6h0M1915.1 1318.9h0M1700.8 1437.5h0M1830.2 1413.7h0M1890.1 1358.5h0M1890 1371.4h0M1857.1 1358.8h0M1834.5 1326.8h0M1809.1 1443.7h0M1841.9 1365.1h0M1821.8 1320h0M1817.3 1449.2h0M1825.2 1345.8h0M1892.6 1368.1h0M1821.1 1322.8h0M1776.2 1364.9h0M1749.8 1381h0M1836.4 1394.2h0M1698.9 1413.7h0M1891 1421.5h0M1766.4 1369.8h0M1847.5 1380.2h0M1909 1376.4h0M1863.3 1281.8h0M1916 1410.3h0M1978.3 1343.3h0M1877.3 1425.8h0M1747.2 1267.2h0M1918.3 1411h0M1850.4 1321.9h0M1900.3 1388.3h0M1892.9 1408.1h0M1752.8 1229.5h0M1904 1355.2h0M1761.4 1275.4h0M1802.4 1338.9h0M1724.9 1384.2h0M1913.2 1389.8h0M1804.2 1447.6h0M1841.9 1425.5h0M1696.3 1444.5h0M1760.8 1394h0M1863.6 1369.2h0M1897.2 1393.1h0M1809.6 1382.5h0M1758.9 1360.7h0M1804.7 1344.4h0M1821.2 1335.3h0M1836.8 1371.4h0M1808.5 1415.1h0M1900.5 1439h0M1763.7 1392.4h0M1851.7 1373.6h0M1837.8 1355.4h0M1878.4 1314.4h0M1729.1 1439.9h0M1803.1 1431.7h0M1837.6 1396.5h0M1875.7 1297.5h0M1828.6 1393.6h0M1875.1 1403.8h0M1816.1 1318.5h0M1794.1 1411.9h0M1733.7 1323h0M1882.2 1366.1h0M1715.4 1423.3h0M1792 1309.4h0M1757.6 1356.7h0M1833.4 1443.4h0M1945.5 1406.9h0M1794.9 1376.6h0M1898.3 1309.5h0M1825.9 1317.4h0M1751.9 1367.4h0M1756.7 1406.7h0M1887.1 1440.5h0M1800.3 1398.2h0M1912.8 1444.5h0M1847.6 1391h0M1843.5 1414.1h0M1746.1 1334.5h0M1796.6 1243.4h0M1701.2 1303.6h0M1853.2 1405.7h0M1810.6 1416h0M1912.9 1354.5h0M1781.2 1343.8h0M1836.9 1313.2h0M1788.1 1273.1h0M1879.8 1421.5h0M1743 1269.6h0M1822.9 1357.7h0M1791.9 1380.2h0M1677.8 1339.2h0M1761.5 1324.1h0M1904.4 1360.3h0M1888.9 1398.3h0M1811.3 1352h0M1917 1389.2h0M1849.4 1218.6h0M1867 1421.4h0M1820.8 1392.4h0M1769.7 1389.5h0M1814 1284.3h0M1910.2 1360.4h0M1803.1 1373.1h0M1648.5 1357.9h0M1842.8 1352.6h0M1786.5 1427h0M1652.7 1325.8h0M1800.6 1403.7h0M1800.1 1314.8h0M1814.7 1360.7h0M1850.2 1454.5h0M1798.6 1370h0M1824.8 1394.8h0M1762.1 1304h0M1744.4 1354h0M1821 1390.5h0M1785.5 1268.4h0M1779.7 1277.6h0M1760.4 1428.8h0M1817.5 1376.8h0M1725.5 1363.6h0M1770.5 1377h0M1760.6 1339h0M1913.8 1400.2h0M1846.9 1311.9h0M1826.1 1365.3h0M1930.5 1407.3h0M1725.6 1382.1h0M1844 1301.2h0M1893 1388.7h0M1808.4 1377.6h0M1791.5 1440.3h0M1792.1 1311.3h0M1838.9 1411h0M1833.7 1282h0M1793.2 1386.6h0M1893.4 1282.4h0M1896.3 1357.3h0M1862.5 1449.3h0M1704.4 1326.6h0M1824.5 1386.8h0M1808.6 1333.1h0M1742.5 1445.9h0M1847.3 1408.1h0M1747 1380.7h0M1870.9 1382.3h0M1880 1412h0M1812.4 1356.4h0M1922.6 1271.5h0M1740.7 1305.8h0M1925.3 1392.4h0M1835.1 1351.4h0M1808.3 1359h0M1806.9 1310.2h0M1923.3 1446.7h0M1824.8 1440.2h0M1800.5 1379.6h0M1968.3 1351h0M1831.4 1387.2h0M1967.2 1382h0M1811 1394.3h0M1854.5 1267.1h0M1759.8 1446h0M1770.6 1336h0M1811.2 1334.9h0M1719.7 1385.8h0M1785 1345.8h0M1756.8 1383.7h0M1787.9 1379.5h0M1885.8 1360.9h0M1805.5 1346h0M1796.4 1282.8h0M1759.5 1358.6h0M1849.4 1399.5h0M1834.5 1369.7h0M1913.1 1384h0M1848.1 1314.3h0M1878.4 1289.1h0M1839.4 1426.5h0M1918.5 1326.2h0M1729.7 1392.7h0M1847 1383.5h0M1757.9 1341.9h0M1721.3 1376.1h0M1811.1 1368.3h0M1756.4 1389h0M1872.7 1375.3h0M1833 1318.2h0M1770.6 1390.4h0M1771.8 1358.8h0M1866.8 1419.4h0M1828 1302.4h0M1899.7 1413.7h0M1775.9 1406.9h0M1968 1461.3h0M1776.1 1416.6h0M1681.2 1404h0M1828.9 1414.7h0M1927.6 1384.4h0M1773.7 1328.9h0M1734.8 1444.9h0M1674.4 1343.9h0M1743.4 1352.4h0M1803.6 1409.8h0M1818.9 1379.5h0M1840.6 1310.7h0M1909.3 1306.4h0M1757 1423.2h0M1869.8 1349.7h0M1810.5 1295.7h0M1916.7 1257h0M1839.1 1367h0M1844.1 1405.9h0M1842.5 1356.5h0M1774.9 1431.1h0M1758.6 1317h0M1818.6 1394.6h0M1754.5 1329.6h0M1917.8 1312.7h0M1731.1 1381.6h0M1833.3 1373.9h0M1836 1381.8h0M1786.5 1328.3h0M1797.1 1407.1h0M1831.7 1425.9h0M1878.6 1322.9h0M1830 1413.5h0M1842.3 1429h0M1823.3 1250.3h0M1743.9 1416.3h0M1671 1380.1h0M1910.4 1448.6h0M1898.8 1406.4h0M1842 1407.8h0M1731.5 1393.6h0M1908.4 1342.2h0M1875.7 1213.4h0M1866.7 1389.5h0M1905.8 1366.6h0M1785.1 1350.2h0M1752 1399.7h0M1830.6 1394.6h0M1813.1 1393.6h0M1778 1335.9h0M1827 1305.3h0M1742.7 1366.5h0M1811.4 1390.1h0M1880 1367.6h0M1728.5 1460.1h0M1764.6 1420.7h0M1754.2 1404.8h0M1708.5 1416.3h0M1833.8 1363.6h0M1806.2 1381.6h0M1751.8 1408.7h0M1849.9 1307.2h0M1779.5 1333.9h0M1823.5 1336.8h0M1783 1358.8h0M1836.6 1416.4h0M1881.8 1374.7h0M1734.2 1431.7h0M1821.3 1361.6h0M1794.7 1349.9h0M1781.3 1296.2h0M1805.6 1372.2h0M1781.2 1354.3h0M1888.3 1428.1h0M1803.1 1412.8h0M1799.4 1362.2h0M1919.7 1258.1h0M1858 1375.2h0M1779.7 1352.6h0M1794.6 1459.5h0M1826.9 1453.4h0M1799.1 1339.7h0M1778.3 1335.1h0M1806.6 1386.4h0M1764.2 1420.7h0M1911.2 1333.6h0M1895.3 1402.6h0M1765.9 1410.3h0M1870.9 1399.7h0M1794.6 1298.9h0M1745.4 1276.8h0M1808.1 1335.1h0M1865.3 1364.5h0M1898.4 1350.6h0M1808.8 1377.1h0M1811.5 1362.2h0M1868.5 1413.8h0M1885.2 1342.3h0M1713.1 1348.4h0M1892.1 1326h0M1747.3 1367.8h0M1885.6 1365.6h0M1914.7 1378.5h0M1823.1 1336.5h0M1772.4 1312.3h0M1798.8 1378.1h0M1892.5 1378.9h0M1767.1 1353.8h0M1710.9 1463h0M1849.4 1357.8h0M1818.6 1359.2h0M1778.4 1385.1h0M1877.4 1453.9h0M1872.8 1333.4h0M1823.9 1379.3h0M1807.1 1241.8h0M1771.9 1290.3h0M1808 1406.7h0M1677.4 1447.8h0M1725.7 1383.9h0M1771.3 1424.2h0M1842.1 1452.2h0M1683.4 1386.3h0M1795.1 1352.2h0M1868.6 1379.1h0M1816.6 1384.1h0M1765.3 1344.4h0M1894.6 1352.7h0M1880.3 1367h0M1890.2 1324.1h0M1811.8 1444h0M1784.7 1299.2h0M1737.5 1312.7h0M1789.4 1412h0M1800 1336.4h0M1818.4 1402.6h0M1889.7 1389h0M1831.2 1421.4h0M1824.1 1384.2h0M1753.8 1334.8h0M1760.6 1322.4h0M1810.7 1357.9h0M1847.1 1341.5h0M1846.5 1405.9h0M1798.2 1302.5h0M1798 1417.4h0M1683.1 1405h0M1950.8 1288.3h0M1811.1 1401.6h0M1741.6 1425.7h0M1744.5 1431.4h0M1818 1393.2h0M1779.9 1428.6h0M1825.9 1415.4h0M1725.8 1364.8h0M1809.7 1323h0M1898.5 1373.2h0M1779.3 1447h0M1755 1316.1h0M1750.8 1406.9h0M1766.5 1413.3h0M1798.2 1399.9h0M1893 1388.4h0M1884.6 1374.9h0M1718.6 1443.7h0M1803.5 1353.4h0M1741.5 1349.7h0M1803.5 1365.9h0M1765.8 1355.6h0M1855 1356.9h0M1808.2 1461.3h0M1896.7 1324.4h0M1831.5 1365h0M1920.9 1296.1h0M1825.8 1410.9h0M1763.4 1347.2h0M1917.5 1314.9h0M1806.4 1246.2h0M1694.5 1408.2h0M1846.7 1347.3h0M1892.8 1310.6h0M1767.1 1419.8h0M1803.4 1300.8h0M1860.6 1346.4h0M1821.5 1243h0M1819.9 1383.9h0M1716.2 1382.3h0M1745.6 1405.1h0M1730.1 1461.4h0M1875.3 1313.1h0M1835.5 1386.7h0M1811.5 1354.5h0M1883.5 1359.2h0M1924.1 1461.6h0M1831.4 1371.6h0M1742.4 1362.7h0M1808.8 1319.7h0M1680.2 1441.1h0M1775.8 1376.3h0M1812.8 1405.6h0M1713 1287.7h0M1832.1 1229h0M1870 1409.2h0M1777.9 1319.1h0M1781.3 1345.1h0M1872.7 1377h0M1850.2 1260.7h0M1902.3 1194.4h0M1893.8 1307.8h0M1733.2 1421.6h0M1778.9 1356.5h0M1750.6 1382.7h0M1801.4 1316.6h0M1717 1356h0M1810.5 1270.6h0M1801 1336.4h0M1862.5 1301.5h0M1915.8 1414.7h0M1926 1226.6h0M1675.4 1378.3h0M1835.1 1375.7h0M1820.8 1304.8h0M1728.2 1308.9h0M1918.4 1339.9h0M1793.2 1295.5h0M1859.3 1373.4h0M1888.9 1312.9h0M1807.3 1373.8h0M1926.9 1432.5h0M1689.7 1247h0M1898.6 1362.3h0M1737.4 1348.8h0M1877.7 1357.8h0M1758.3 1324h0M1799.1 1327.1h0M1874.1 1363.4h0M1879 1372.8h0M1938.5 1461.7h0M1923.7 1370.6h0M1761.3 1418.5h0M1803.6 1459.5h0M1876.5 1430h0M1834.2 1312.1h0M1779.3 1376.1h0M1835.8 1350.6h0M1872.5 1376.1h0M1880.9 1345h0M1919.8 1362.8h0M1772 1306.4h0M1820.5 1349.9h0M1853.6 1334.2h0M1735.2 1456.9h0M1783.3 1326.9h0M1798.8 1347h0M1746.1 1447.9h0M1731.8 1369h0M1903.2 1447.7h0M1725.6 1350.4h0M1889.6 1347.3h0M1864.6 1390h0M1769.2 1321.8h0M1871.4 1459.8h0M1777.3 1448.8h0M1798.7 1427h0M1786.6 1388.7h0M1779.3 1396.9h0M1887.2 1410.3h0M1833.1 1457.1h0M1860.8 1383.9h0M1841.4 1388.9h0M1755 1444.7h0M1858.4 1436.4h0M1927.2 1425.1h0M1781.3 1461.4h0M1823.1 1405.6h0M1930.8 1373.5h0M1959.3 1372.6h0M1923.7 1462.2h0M1973.8 1415.1h0M1856.2 1441.1h0M1839.5 1407.4h0M1906.2 1414h0M1940.1 1413.9h0M1783.8 1348.3h0M1964.4 1357.5h0M1847.8 1362.6h0M1768 1341.4h0M1933.8 1310.4h0M1817.1 1411.6h0M1775.1 1371h0M1883.4 1356.1h0M1796.8 1332.8h0M1766.2 1454.5h0M1919.6 1348.7h0M1742.5 1407.9h0M1827.1 1312.3h0M1903.1 1455.9h0M1855.6 1453.9h0M1754.8 1296.5h0M1792.5 1392.8h0M1782.7 1362.4h0M1880.6 1337.6h0M1747.1 1397.5h0M1975.1 1404.5h0M1805.4 1415.9h0M1817.4 1421.1h0M1739.1 1419h0M1842 1388.6h0M1795.3 1407.5h0M1785.3 1414h0M1714.7 1331.6h0M1917.5 1249.5h0M1828.2 1366.6h0M1745.2 1333.6h0M1780.5 1424.4h0M1874 1357.2h0M1817.6 1325h0M1850.9 1330.1h0M1749.3 1326.7h0M1888.2 1317.1h0M1719.3 1384.4h0M1813.8 1412.1h0M1700.6 1337.3h0M1847.7 1331.3h0M1851.6 1276h0M1819.4 1333h0M1854.9 1296.6h0M1877.9 1320.9h0M1751.2 1386.8h0M1792.7 1350.6h0M1756.2 1387.2h0M1893.9 1351.1h0M1688.7 1255.5h0M1743.8 1355.5h0M1771.6 1272.5h0M1790.9 1331.1h0M1911.3 1372.3h0M1752 1415.8h0M1803.4 1334.9h0M1822.9 1330h0M1863.8 1409h0M1815.3 1307h0M1836.2 1315.7h0M1823.2 1263.9h0M1838.2 1361.3h0M1832.5 1380.9h0M1714.3 1368.8h0M1835 1312.8h0M1811.2 1284.5h0M1805 1372.3h0M1854.3 1355.8h0M1883.4 1290.9h0M1910.4 1432.9h0M1835.6 1346.5h0M1818.5 1451.8h0M1838.5 1244.5h0M1730.8 1354.5h0M1798.8 1294.8h0M1748.9 1307.3h0M1955.9 1377h0M1882.5 1371.8h0M1844.3 1402.2h0M1910.8 1455.1h0M1904.8 1293.7h0M1844.7 1324.6h0M1890.8 1406.1h0M1849.3 1370.7h0M1902.5 1373.7h0M1804.5 1339.3h0M1832.2 1353.1h0M1849.5 1438.6h0M1878.1 1392.2h0M1777.7 1413.7h0M1844.4 1379.2h0M1775.9 1387.6h0M1826.8 1389.9h0M1703.9 1334.2h0M1678.3 1355h0M1790.5 1372h0M1823.2 1344.2h0M1750.4 1354h0M1963.8 1358.1h0M1752 1356.5h0M1751.5 1415.1h0M1814.4 1362.6h0M1783.3 1393.2h0M1840.4 1406.6h0M1752.7 1378.5h0M1869.2 1369.1h0M1729.1 1357.8h0M1770.9 1387.7h0M1798.7 1414.7h0M1750.2 1374.6h0M1844.1 1321.5h0M1818.4 1325h0M1861 1381.4h0M1746.2 1372.7h0M1796.5 1364.8h0M1808.2 1445h0M1868.5 1374.7h0M1824.1 1337.5h0M1850.9 1295.1h0M1855.8 1378.8h0M1899 1438h0M1833.4 1371.1h0M1705.5 1242.2h0M1788.2 1270.6h0M1928 1378.2h0M1796.8 1403.2h0M1863.6 1345.7h0M1942.2 1398.2h0M1805.4 1281.4h0M1813 1380.5h0M1788.6 1379.9h0M1900.9 1340.1h0M1828.7 1425.5h0M1767.9 1382.3h0M1791 1302.5h0M1777.3 1346.4h0M1734.2 1361.4h0M1867.8 1418.2h0M1893.3 1431.6h0M1936.1 1418.9h0M1793.8 1455.8h0M1888.4 1384h0M1981.8 1283.8h0M1690.4 1352.5h0M1756.3 1315.1h0M1762.8 1377.6h0M1953.1 1436.4h0M1855 1324.1h0M1824.8 1265.3h0M1809.6 1324.8h0M1787.6 1418.1h0M1752.9 1342.8h0M1802.7 1334.6h0M1739.7 1284.2h0M1863.9 1300.7h0M1834.8 1358.3h0M1844.1 1309.7h0M1946.2 1318.4h0M1900.6 1382.4h0M1872.6 1261.4h0M1867.9 1345.5h0M1813.4 1315h0M1902.4 1312.1h0M1848.2 1405.7h0M1805.4 1442.5h0M1823.2 1456.6h0M1849.3 1444h0M1786.5 1331.8h0M1884.1 1307.4h0M1752.6 1373.3h0M1784.6 1259.5h0M1809.7 1329.7h0M1834 1326.5h0M1778 1303.7h0M1897.2 1425.6h0M1814.7 1339.8h0M1892.3 1413h0M1876.5 1277.8h0M1801.3 1430.8h0M1858.6 1438.9h0M1977.2 1398.1h0M1801.1 1395.1h0M1777.1 1354.3h0M1965.1 1347.2h0M1812.3 1332.1h0M1762.5 1289.9h0M1694.1 1340h0M1862.6 1411.5h0M1839.2 1322.5h0M1709.1 1345h0M1836.5 1329.5h0M1704.1 1367.4h0M1863.3 1364.7h0M1903.5 1388.4h0M1831 1320.2h0M1916.5 1304.2h0M1713.2 1374.1h0M1688.7 1375.6h0M1885 1352.4h0M1722.9 1343.4h0M1809.9 1427.6h0M1936.7 1374.4h0M1863.4 1232.1h0M1805.8 1357.4h0M1808.1 1438.1h0M1894 1413.3h0M1765.5 1273.1h0M1841.1 1248.8h0M1829.8 1388.7h0M1836.9 1348.6h0M1807.1 1393.8h0M1769.7 1316.5h0M1724.5 1354.5h0M1886.3 1410.2h0M1800.2 1329.2h0M1889.2 1385.3h0M1858.5 1334.8h0M1679.1 1405.9h0M1858.1 1439.9h0M1800.6 1278.8h0M1871.3 1357.7h0M1754 1358.1h0M1875.6 1291.4h0M1939.7 1350.3h0M1696 1395h0M1807.8 1261.2h0M1831.4 1402.4h0M1874.7 1344.2h0M1873.1 1387h0M1774.7 1357.1h0M1831.8 1373.8h0M1877.8 1339.7h0M1769.7 1400.9h0M1825.9 1443.6h0M1804 1421.5h0M1821.4 1367.5h0M1694.9 1356.3h0M1864.6 1383.3h0M1813.4 1406.6h0M1872.3 1381.2h0M1882 1308.2h0M1874.4 1409.7h0M1876.5 1408.6h0M1878.1 1395.4h0M1920.2 1398.1h0M1796.7 1405.3h0M1705.8 1337.1h0M1820.9 1428.5h0M1828.3 1444.2h0M1872.9 1394h0M1841.8 1312.3h0M1803.5 1327.2h0M1890.6 1423.1h0M1811.9 1362.6h0M1735.6 1369.7h0M1688.9 1322.4h0M1784.7 1371.1h0M1961.9 1336.4h0M1819.8 1400h0M1788.9 1259.1h0M1828.8 1399.3h0M1717.1 1374.3h0M1927.5 1421.8h0M1746.9 1264.5h0M1755.6 1326.5h0M1791.1 1370h0M1908 1302.6h0M1891.5 1408.9h0M1865.4 1391.7h0M1856.9 1347.7h0M1697.7 1346.5h0M1919.6 1459.3h0M1851.2 1391.2h0M1789.5 1319.1h0M1756.8 1385.2h0M1856.2 1293.7h0M1746.9 1346.6h0M1796.4 1354.1h0M1946.2 1386.3h0M1789.9 1332.3h0M1837.1 1403.4h0M1816.4 1330.4h0M1909 1350.3h0M1787.3 1380h0M1887.7 1387.8h0M1896.2 1345.8h0M1863.7 1332.3h0M1808.8 1386.6h0M1879.9 1365.8h0M1775.9 1181.4h0M1679.7 1412.8h0M1865.8 1436.3h0M1766 1446.4h0M1822.2 1355.1h0M1841.8 1291.8h0M1915.6 1404.3h0M1741 1352.5h0M1902.4 1380.4h0M1846.9 1442.9h0M1799.7 1321.3h0M1805.3 1345.1h0M1827.9 1393.3h0M1887.5 1372.7h0M1850.5 1327.6h0M1766.6 1321.8h0M1765.9 1432.3h0M1822.3 1372.3h0M1736.5 1422.2h0M1954.2 1368.5h0M1938 1407.3h0M1814.7 1385h0M1871.4 1319.4h0M1707.6 1326.2h0M1751.2 1356.4h0M1737.9 1369.4h0M1806.4 1396.1h0M1882.8 1297.2h0M1765.4 1399.8h0M1833.8 1394.5h0M1876.7 1313.9h0M1863.1 1365.2h0M1838.3 1362.4h0M1840.3 1337.3h0M1850.9 1310.2h0M1875 1393h0M1931.3 1318.3h0M1801.2 1386.5h0M1816.3 1422.2h0M1790.1 1299.7h0M1814.2 1305.9h0M1817.5 1311.7h0M1852.1 1410.8h0M1808.4 1455.8h0M1964.4 1302.2h0M1875 1322.5h0M1857.9 1381.3h0M1885.4 1458.6h0M1820.5 1440.2h0M1931 1373.9h0M1765.1 1406.8h0M1761.3 1430.9h0M1860.9 1363.8h0M1841.9 1377.7h0M1809.8 1407.4h0M1780.7 1400.1h0M1788.1 1409.9h0M1963.1 1338.5h0M1877.8 1382.8h0M1668.2 1256.5h0M1870.7 1360.3h0M1886.5 1361.4h0M1886.5 1268.3h0M1790.6 1315.5h0M1854.8 1308.3h0M1910.4 1329.6h0M1842.1 1410.2h0M1797.8 1370.6h0M1822 1423h0M1879 1321.7h0M1758.1 1387.8h0M1877.8 1368.2h0M1770 1270.2h0M1829.3 1316.6h0M1790.5 1359.8h0M1832.5 1296.4h0M1756.6 1413.5h0M1795.2 1342.2h0M1821.3 1349.1h0M1749.6 1347.6h0M1756 1237.9h0M1912.1 1452h0M1858.1 1304.4h0M1824 1337.6h0M1832.5 1443.6h0M1798.1 1397.6h0M1862.9 1371.8h0M1842.5 1318.1h0M1774 1394.6h0M1811.2 1338.1h0M1823.8 1421.5h0M1835.6 1375.2h0M1734.4 1366.9h0M1868 1298.4h0M1813.2 1410h0M1859.9 1393.3h0M1793.7 1391.7h0M1741.3 1389.3h0M1721 1371.7h0M1688.7 1324.6h0M1766.2 1265.7h0M1848.8 1344.3h0M1927.4 1310.5h0M1812.6 1423h0M1740.2 1427.9h0M1834.7 1288.2h0M1814.5 1381.1h0M1853.9 1381h0M1744.7 1421.1h0M1833.8 1355.6h0M1778.8 1439h0M1880.6 1327.8h0M1782 1412.1h0M1839.7 1436.4h0M1849.3 1328.8h0M1910 1283.9h0M1804.4 1415h0M1794.1 1369.1h0M1755.5 1383h0M1714 1399.2h0M1837.6 1385.6h0M1865 1355.3h0M1887.4 1465.1h0M1851.7 1435.2h0M1924 1300.4h0M1870.6 1422.4h0M1859.4 1450h0M1875 1308.1h0M1750.9 1412.6h0M1842.6 1315.4h0M1801.3 1394.5h0M1813.7 1422.6h0M1820.8 1457.6h0M1843.2 1441.7h0M1772.4 1380.3h0M1765.2 1413.6h0M1768.9 1380.4h0M1887.8 1342.9h0M1799.3 1365.9h0M1763.8 1293.6h0M1891.5 1352.9h0M1840.9 1457.5h0M1831.2 1388.3h0M1831.4 1410.7h0M1713.4 1384.4h0M1771.9 1404.1h0M1744.8 1382.3h0M1758.7 1436.7h0M1835.9 1352.8h0M1988.9 1401.2h0M1905.2 1389.2h0M1918.5 1272h0M1746.5 1363h0M1891.1 1376h0M1824 1338.7h0M1756.5 1338.6h0M1780.9 1413.5h0M1870 1312h0M1821.9 1362.1h0M1815.2 1321.7h0M1891.7 1288.2h0M1780.2 1367.2h0M1885.8 1363.4h0M1896.3 1339.8h0M1921.3 1392.5h0M1831.9 1384.7h0M1799.5 1347.7h0M1730.3 1361h0M1947.5 1350.3h0M1669.5 1248.6h0M1844.2 1323h0M1844.4 1358.7h0M1814.4 1342.2h0M1903.2 1312.9h0M1973.8 1403.5h0M1831.5 1379.6h0M1882.6 1338.2h0M1883.4 1330.1h0M1820.8 1397.1h0M1838.9 1407.5h0M1841.6 1254.9h0M1784.5 1440.7h0M1874.3 1338.8h0M1880.1 1361.6h0M1816.2 1307h0M1907.3 1379.8h0M1735.8 1343.7h0M1744.1 1215.2h0M1929.4 1331.7h0M1752.3 1282.7h0M1896.1 1354.6h0M1760.4 1346.8h0M1864.6 1397h0M1843.7 1413.3h0M1811.1 1369.5h0M1826.3 1414.3h0M1809.6 1270.5h0M1716.2 1375.5h0M1866.2 1380.3h0M1763.9 1335.7h0M1912.6 1239.5h0M1884.1 1324.8h0M1764.3 1402.4h0M1895.7 1383.2h0M1818.6 1339.4h0M1684 1298.3h0M1870.6 1307.7h0M1797 1346.4h0M1784.2 1365.7h0M1849.1 1310.1h0M1884.5 1405.2h0M1817.4 1395.4h0M1834.7 1446.2h0M1701.9 1334.3h0M1814.1 1360.4h0M1791.6 1374.1h0M1811.6 1346.9h0M1882.2 1355.5h0M1859.3 1392.8h0M1892.7 1350.7h0M1758.5 1332.4h0M1752.5 1364.3h0M1867.7 1333.6h0M1776 1356.8h0M1898.7 1213.4h0M1741 1377.3h0M1842.5 1340h0M1837.1 1358h0M1651.1 1308.7h0M1825.7 1313.8h0M1897.6 1377.2h0M1832 1429.5h0M1841.2 1386.3h0M1840.8 1367.5h0M1815 1309.7h0M1833.6 1395.1h0M1765.4 1327.3h0M1865.3 1379.1h0M1827.6 1451.7h0M1783.9 1366.4h0M1772.6 1349.9h0M1811.1 1422.7h0M1821.3 1280.9h0M1740.5 1285h0M1782.6 1333.1h0M1859.3 1300.3h0M1787.4 1336.3h0M1778.4 1392.7h0M1759.4 1388.7h0M1799.9 1352h0M1827.6 1362.9h0M1854.5 1461.7h0M1924.5 1281.7h0M1866.3 1378.8h0M1686.8 1295h0M1719.5 1373.5h0M1698.1 1425.6h0M1782.7 1339.3h0M1834.5 1361.4h0M1826.1 1331.7h0M1683.1 1447.8h0M1832.9 1244.7h0M1679.8 1395.1h0M1824.3 1265.2h0M1860.6 1464.5h0M1836 1375.3h0M1879.5 1290.9h0M1771.1 1283.2h0M1784.7 1328h0M1785.2 1378.7h0M1811.3 1400.8h0M1717.8 1334.5h0M1857.7 1386.9h0M1916.6 1367.5h0M1827.8 1296.2h0M1763.4 1358.6h0M1804.2 1418h0M1746.6 1429.5h0M1818.6 1433.1h0M1735.7 1286.1h0M1804 1408.2h0M1800.6 1417.3h0M1656.7 1416h0M1926.1 1424.3h0M1932.7 1354.9h0M1801.3 1319.3h0M1909.3 1373.3h0M1842.1 1312.9h0M1860.6 1454.5h0M1865.5 1394.3h0M1717.1 1396.1h0M1852.8 1243.6h0M1821.4 1375h0M1887.8 1381.7h0M1915.7 1454.7h0M1785.4 1387.3h0M1700.2 1457.8h0M1795.4 1311.9h0M1698.4 1416h0M1870.2 1376.8h0M1800.2 1363.2h0M1903.4 1390.4h0M1793.7 1431.1h0M1938.8 1302.1h0M1683.4 1381.6h0M1844.2 1420.4h0M1775.8 1348.8h0M1806.8 1387.6h0M1936.3 1421.6h0M1775.4 1432.7h0M1826.6 1338.5h0M1821.5 1399.1h0M1888.5 1390.7h0M1786.2 1289.5h0M1782.9 1373.5h0M1736.8 1346.3h0M1852.3 1330h0M1859.2 1464.7h0M1653.5 1247.4h0M1781.6 1312.1h0M1844.3 1366.1h0M1797.1 1397.4h0M1806.7 1367h0M1764.3 1339.2h0M1882.2 1447.6h0M1773.7 1318.7h0M1776.6 1398.1h0M1803.6 1271.5h0M1887.3 1386.8h0M1914.6 1319.3h0M1842.1 1380.4h0M1832.7 1400.4h0M1892.4 1341.1h0M1775.9 1339.3h0M1865.8 1408.3h0M1758.5 1295.3h0M1808.7 1388.9h0M1900.7 1320.8h0M1776 1385.2h0M1792.3 1299.5h0M1738.8 1342.7h0M1709 1366.8h0M1872 1339.6h0M1773 1300.5h0M1855.4 1398.2h0M1800.8 1265.3h0M1779 1279.5h0M1900.5 1335.8h0M1763.4 1320.6h0M1855.9 1378.9h0M1729.8 1253.6h0M1810.6 1409.8h0M1829.8 1336.2h0M1895.3 1225.6h0M1815.6 1446h0M1826.9 1405h0M1909.1 1376.5h0M1794.3 1434.9h0M1892.4 1401.7h0M1919.2 1311.7h0M1863.8 1360.2h0M1843.9 1310.4h0M1833.9 1393.1h0M1877.8 1428.5h0M1773.7 1312.1h0M1770.7 1330.9h0M1749 1396.3h0M1776.1 1388.6h0M1793.3 1418.4h0M1934 1464.9h0M1855.8 1338.7h0M1851.5 1383.3h0M1780.9 1326.2h0M1887 1391.7h0M1856.6 1346.3h0M1831.1 1353.8h0M1793.5 1354.6h0M1756.3 1331.6h0M1838.5 1435.2h0M1818.9 1351.8h0M1763 1416.4h0M1823.1 1397.9h0M1811.7 1287.5h0M1881.3 1294.1h0M1766.1 1345.3h0M1787 1392.7h0M1778 1320.4h0M1851.1 1317.9h0M1853.2 1432.5h0M1739.2 1272.7h0M1810.5 1414.3h0M1798.5 1328.5h0M1842.3 1305.8h0M1755.1 1232.5h0M1848 1408h0M1846.9 1349.2h0M1768.8 1373h0M1931.3 1366.4h0M1769.6 1409.3h0M1816.9 1364.9h0M1867.1 1401.4h0M1851.8 1431.6h0M1747 1347h0M1829.1 1429.8h0M1747 1413h0M1807.6 1421.4h0M1728.7 1317.7h0M1943 1368.7h0M1928 1403.4h0M1845.7 1332.5h0M1750.9 1389.9h0M1778 1373.9h0M1800.8 1426.5h0M1785.4 1375.4h0M1903.1 1368.5h0M1712.9 1344h0M1686.2 1399.1h0M1864.2 1389.4h0M1721.1 1392.3h0M1849.7 1451.4h0M1891.2 1348.4h0M1803.3 1281.5h0M1924.5 1379h0M1777 1357.4h0M1734.3 1340.2h0M1811.1 1339.3h0M1824.4 1352.6h0M1760.6 1366.2h0M1895.3 1333.3h0M1731.5 1356.7h0M1840.6 1325.8h0M1937.6 1406.5h0M1893.7 1337.5h0M1910.4 1362h0M1906.9 1321.7h0M1855.6 1311.8h0M1883 1406.3h0M1829.2 1447.4h0M1631.4 1322.2h0M1833.2 1343.8h0M1658.8 1347.3h0M1715.6 1328.6h0M1815.3 1370.5h0M1888.2 1352h0M1730.9 1276.6h0M1670.9 1354.2h0M1741.6 1293.9h0M1713.4 1444.3h0M1829.8 1407.9h0M1716.9 1354.5h0M1837 1378h0M1896.8 1428.8h0M1841.3 1408.2h0M1821 1388h0M1907.9 1322.9h0M1849 1381.2h0M1858.9 1428.1h0M1851.5 1435.6h0M1645.3 1416.9h0M1772.1 1425.7h0M1922.8 1288.2h0M1758.3 1393h0M1867.6 1391.5h0M1779.6 1409.4h0M1824.7 1284.4h0M1713.5 1347.8h0M1750.7 1325.3h0M1820 1396.6h0M1833.6 1343.6h0M1733.5 1451h0M1706.8 1331.2h0M1865.7 1269.7h0M1863.3 1370h0M1868.6 1371.7h0M1920.2 1418.2h0M1893.5 1346.9h0M1869.1 1291.9h0M1873.1 1424h0M1822.6 1214.7h0M1825.7 1361.7h0M1861.9 1348.4h0M1883.4 1307.6h0M1944.7 1403.4h0M1849.6 1464.4h0M1860.9 1382h0M1902 1331.8h0M1841.6 1246.2h0M1779.9 1271.5h0M1813.6 1366.9h0M1822.4 1431.7h0M1790.5 1273.5h0M1762.7 1351.8h0M1890 1368.6h0M1920.4 1367.5h0M1764.4 1309.1h0M1955.7 1296.6h0M1723.4 1290.4h0M1855.1 1389.1h0M1855 1326h0M1770.8 1394h0M1899.8 1412.9h0M1820.3 1404.6h0M1826.7 1351.7h0M1753.6 1386.8h0M1680.4 1312.9h0M1749.7 1406.3h0M1894.2 1366.3h0M1717.5 1377.9h0M1782.6 1360.5h0M1785.5 1422h0M1731.5 1345.5h0M1808.5 1430.5h0M1826.6 1278.8h0M1824.9 1294.9h0M1883.1 1284h0M1853.1 1316.2h0M1954.7 1460.9h0M1924 1413.6h0M1840.7 1406.6h0M1845.6 1399.9h0M1817.4 1321.6h0M1865.3 1374.7h0M1799.3 1315.1h0M1835.4 1424.1h0M1889.9 1353.7h0M1905.9 1308h0M1887.6 1348.2h0M1804.9 1452.3h0M1834.6 1326.5h0M1742.4 1279.2h0M1703.8 1365.3h0M1832 1297.9h0M1926.3 1314.7h0M1664.7 1365.8h0M1751.7 1342.8h0M1892.9 1310.7h0M1860.3 1452h0M1853.4 1367.1h0M1840.1 1413.5h0M1917.4 1341.1h0M1802.4 1383.8h0M1819 1391h0M1786.7 1434.2h0M1745.1 1413.9h0M1958.2 1336.8h0M1782.6 1328.2h0M1721.3 1330.6h0M1864 1403.2h0M1677.6 1314.8h0M1833.2 1420.4h0M1703.3 1320.7h0M1814.7 1348.4h0M1833.6 1363.9h0M1719.2 1353.1h0M1861 1376.2h0M1873 1264.2h0M1853.8 1255.4h0M1729.3 1354.2h0M1921.6 1419h0M1815.7 1378.7h0M1922.5 1347.3h0M1841.8 1324.4h0M1916.9 1373.3h0M1872.3 1226.7h0M1759.7 1370.1h0M1902 1414h0M1781.3 1395.1h0M1777.4 1444.6h0M1750.7 1440.8h0M1854.6 1279h0M1844.7 1350.6h0M1842.5 1424.3h0M1694.2 1428.8h0M1952 1414.9h0M1862.2 1309h0M1847.8 1366.5h0M1822.4 1342.5h0M1797.7 1365.8h0M1853.3 1432.9h0M1914.2 1320.5h0M1737.7 1379.1h0M1845.8 1345.3h0M1808.3 1439.3h0M1852 1378h0M1737.7 1351h0M1813.1 1345h0M1867.8 1357.7h0M1918.9 1265.3h0M1844.8 1370.2h0M1937.8 1344.2h0M1818.2 1415.2h0M1851.1 1330.1h0M1748.8 1339.6h0M1855.8 1293.1h0M1786.4 1400h0M1898.2 1389h0M1720.1 1380h0M1677.2 1347.7h0M1698.4 1347h0M1889.2 1382.3h0M1800.9 1358.5h0M1832.5 1358.6h0M1811.5 1359.5h0M1891.6 1396.3h0M1730.2 1317.9h0M1772.9 1334.9h0M1807.6 1253.7h0M1875.9 1335.9h0M1792.2 1419.5h0M1848.3 1385.5h0M1883 1327.7h0M1839 1452h0M1800.5 1407.5h0M1850.1 1429.5h0M1809.5 1304.8h0M1738.1 1406.6h0M1796.5 1338.7h0M1741.1 1324.6h0M1897.2 1350.9h0M1790.6 1328h0M1694.3 1405.6h0M1850.7 1375.3h0M1935.1 1410.5h0M1757.7 1270.9h0M1868.7 1448.9h0M1717.5 1386.6h0M1795.2 1377.7h0M1817.7 1347.4h0M1815.5 1404.2h0M1866.9 1338.9h0M1851 1346.8h0M1885.1 1405.6h0M1870.5 1290.7h0M1865.1 1381.2h0M1780.5 1396.5h0M1796.5 1360.2h0M1758 1275.6h0M1861.6 1407h0M1869.1 1307.2h0M1842.7 1283h0M1844.2 1356.6h0M1709 1353.4h0M1864 1262.8h0M1785.8 1329.3h0M1869.1 1244.8h0M1820.1 1411.2h0M1870.1 1381h0M1812.9 1307.3h0M1852.2 1302.7h0M1793.4 1397.4h0M1909.5 1413.1h0M1767.7 1390.5h0M1770.8 1431.6h0M1752.7 1339h0M1855.4 1382.7h0M1808.5 1359.2h0M1809.6 1394.7h0M1873.7 1317.7h0M1831.7 1354.4h0M1885.5 1383.4h0M1805.7 1359.5h0M1904.9 1383.7h0M1809.2 1326.6h0M1816.8 1386.7h0M1949.6 1396h0M1768 1425.6h0M1843.3 1433.1h0M1730.3 1350.1h0M1820.6 1436.4h0M1758.6 1334h0M1900 1373.7h0M1836.3 1326.9h0M1786.4 1289.8h0M1810.4 1401.7h0M1777.9 1441.7h0M1878.1 1284.2h0M1804.5 1450.4h0M1848.4 1318.8h0M1840.1 1266.9h0M1848.1 1360.3h0M1943.9 1254.7h0M1781.3 1458.4h0M1830.4 1364.3h0M1720 1297.2h0M1833.1 1421.6h0M1805 1394h0M1906.9 1415h0M1855.7 1339.4h0M1771.3 1361.5h0M1769.9 1337.1h0M1889.8 1350.2h0M1788.8 1406.6h0M1783.3 1346h0M1817.3 1408.4h0M1853.3 1321.6h0M1804 1355.1h0M1825.5 1400.5h0M1793.8 1348.4h0M1732.2 1306.7h0M1719.9 1389.1h0M1718.9 1389.7h0M1769.3 1277.1h0M1831.2 1393.1h0M1845.6 1400.2h0M1807.1 1349.1h0M1948.9 1428.2h0M1787.5 1340.2h0M1866.2 1263.2h0M1769.8 1368.2h0M1789.5 1328.5h0M1845.7 1406h0M1774.1 1388.5h0M1728.5 1428h0M1703.9 1296.9h0M1718.9 1359.5h0M1874.5 1307h0M1819.6 1297.8h0M1781.5 1409.4h0M1784.4 1421.2h0M1731.6 1323.1h0M1788.1 1323.1h0M1805.2 1349.8h0M1860.4 1430.4h0M1839 1420.5h0M1777.5 1178.8h0M1853.4 1428.5h0M1843.7 1401h0M1753.2 1400.7h0M1793.7 1416.7h0M1814.4 1429.2h0M1773.6 1315.6h0M1813.1 1374.6h0M1897.6 1309.4h0M1892.7 1347.6h0M1783.4 1410.3h0M1813.6 1408.2h0M1822.8 1366.4h0M1806.2 1440.2h0M1837.2 1414.1h0M1725.5 1252.3h0M1821.9 1344.2h0M1760.1 1419.9h0M1854.2 1305.9h0M1787.7 1359.4h0M1701.3 1372.7h0M1844.6 1333.1h0M1750.1 1325h0M1868.5 1432.9h0M1719.9 1385.8h0M1875 1385.4h0M1763.5 1409.7h0M1988.6 1341h0M1851.1 1317.9h0M1924 1239.7h0M1874.4 1344.8h0M1840.7 1423.5h0M1721.2 1442.7h0M1902.5 1396h0M1854.5 1392.4h0M1824.7 1358h0M1854.6 1314.6h0M1841.3 1382.8h0M1868.2 1422.7h0M1760.2 1348.4h0M1858.9 1374h0M1778 1397.6h0M1753.1 1297.5h0M1826.3 1421.9h0M1730.6 1327.7h0M1800.8 1431.7h0M1765.7 1348.9h0M1797.5 1407.4h0M1880.8 1432.6h0M1837 1322.9h0M1820.1 1379.7h0M1851.7 1364.8h0M1773.6 1340h0M1877.3 1386.9h0M1863.2 1343.9h0M1870.5 1398.9h0M1786.1 1297.3h0M1821.9 1369.7h0M1895 1411.4h0M1835.5 1408.7h0M1852.1 1421.7h0M1776.8 1375h0M1775.3 1368.2h0M1784.9 1346.7h0M1738.3 1353.1h0M1846.1 1335.3h0M1833.2 1346.6h0M1792.2 1328.4h0M1907.7 1375.5h0M1718.9 1393.1h0M1920.4 1348.8h0M1863.3 1330h0M1816.1 1315.2h0M1861.1 1305.7h0M1939.1 1300.7h0M1815.1 1393.6h0M1960.3 1396.5h0M1773.1 1319.4h0M1662.9 1386.5h0M1773.6 1383h0M1947.4 1349h0M1905.4 1393.2h0M1802.5 1401.2h0M1723.4 1423h0M1823.8 1286.3h0M1827.6 1349.9h0M1815.2 1357h0M1674.6 1265.6h0M1783.1 1356.5h0M1841.5 1369.5h0M1863.8 1355.4h0M1744.5 1405.5h0M1760.8 1253.3h0M1813.2 1319.2h0M1881.4 1281.9h0M1904.3 1381.2h0M1774.5 1462.9h0M1798.9 1313.8h0M1856.7 1385.5h0M1847.7 1406.7h0M1781 1366.4h0M1722.1 1274.5h0M1783.6 1271.1h0M1778.5 1344.3h0M1894.7 1387.9h0M1789.5 1353.9h0M1740.5 1332.1h0M1866.3 1310.7h0M1878.1 1259.6h0M1915.6 1405.5h0M1825.7 1377.3h0M1787.9 1304.6h0M1803.3 1418.6h0M1697.5 1367.4h0M1820.9 1386.1h0M1739 1380.3h0M1799.4 1329.2h0M1797.6 1363.6h0M1702.5 1447.6h0M1858.6 1389.7h0M1758.6 1372h0M1840.6 1310.1h0M1795.6 1357.3h0M1864 1358.1h0M1765.8 1320.9h0M1910.8 1313.5h0M1801.9 1346.8h0M1882.2 1338h0M1908.7 1338.8h0M1764.4 1331.2h0M1871.9 1314.4h0M1756.2 1295.5h0M1801 1309.5h0M1841.1 1314.4h0M1835.9 1415.1h0M1795.7 1351.7h0M1741.3 1393.7h0M1820.1 1335.5h0M1757.4 1372.8h0M1898.8 1279.8h0M1764.8 1402.2h0M1796.7 1459.3h0M1819.5 1284.7h0M1671.9 1428.8h0M1774.4 1287.1h0M1868 1356.7h0M1895.2 1337.7h0M1841.3 1333.8h0M1832.4 1329.6h0M1816.3 1412.6h0M1787.6 1351.6h0M1910.8 1396.3h0M1901.7 1366.9h0M1761.4 1434h0M1815 1349.5h0M1878.2 1348.8h0M1834.9 1422.2h0M1838 1349h0M1870.9 1328.6h0M1843.7 1384.2h0M1762.4 1393.8h0M1855.9 1448.7h0M1858.7 1398.7h0M1833.2 1417.5h0M1811.6 1307h0M1807.8 1337.3h0M1745 1398.9h0M1760.4 1316.5h0M1773.3 1347.8h0M1949.2 1447.4h0M1860.5 1260.7h0M1801.9 1289.9h0M1877 1358.3h0M1875 1372.5h0M1808.8 1361h0M1876.1 1356.5h0M1795.3 1306.7h0M1713.2 1301.6h0M1806.1 1265.1h0M1864.4 1381.5h0M1937.9 1362.3h0M1707.1 1403.7h0M1702 1382.9h0M1728.7 1391h0M1785 1331.5h0M1873 1322.9h0M1949 1281.5h0M1911 1354.6h0M1712.2 1406.3h0M1753.6 1365.3h0M1879.3 1316h0M1809.1 1377h0M1848.4 1336.7h0M1781.4 1407.2h0M1903.5 1420.9h0M1767.4 1318.7h0M1805.9 1422.3h0M1763.1 1411.2h0M1897.2 1413.3h0M1779.4 1378.4h0M1857.7 1314.4h0M1900.1 1329.9h0M1833 1398.7h0M1710.8 1275.7h0M1908.9 1429.4h0M1855.8 1387h0M1901.1 1357h0M1783.7 1402.3h0M1846.9 1352.4h0M1974.6 1391.3h0M1663.3 1318.3h0M1866.6 1346.7h0M1818 1290.4h0M1970.7 1371.1h0M1919.9 1399.4h0M1753.4 1399.8h0M1815.2 1346.8h0M1778.6 1394h0M1749.7 1247.7h0M1721.9 1366.3h0M1774.6 1381.2h0M1877.5 1405.1h0M1726.1 1368h0M1895 1423.5h0M1670.9 1444.5h0M1745.3 1327.6h0M1903.9 1338.2h0M1878.3 1425h0M1855.1 1299.3h0M1798.9 1292.2h0M1823.4 1375.9h0M1977.1 1428.9h0M1881.7 1307.8h0M1866.5 1445.1h0M1786 1421.5h0M1765 1354.2h0M1774.6 1392.7h0M1710.7 1355.1h0M1844 1372.9h0M1689.9 1294.8h0M1775.1 1358.5h0M1711.8 1386.1h0M1824.9 1235.3h0M1850.7 1409.5h0M1765.2 1417.9h0M1776.2 1307h0M1842.1 1418.5h0M1753.9 1356.5h0M1756.8 1336.1h0M1834.2 1395.8h0M1833.7 1345.5h0M1813.2 1359.5h0M1853.1 1368.5h0M1794.8 1399.1h0M1853.7 1272.2h0M1913.3 1300.9h0M1795.3 1397.1h0M1894.1 1328h0M1909.9 1335.9h0M1734.1 1286.7h0M1883.4 1357.9h0M1777.3 1340.1h0M1909.5 1377.4h0M1879.6 1345h0M1787.9 1383.7h0M1761.4 1402h0M1793 1373.8h0M1888.5 1434.4h0M1852.1 1290.6h0M1885.7 1247.8h0M1832.6 1361.1h0M1775.2 1343.7h0M1813.1 1311.1h0M1842.8 1374.9h0M1896.9 1323.3h0M1888.3 1366.8h0M1743.5 1427.5h0M1844.9 1374.1h0M1667.9 1415.4h0M1810.2 1337.4h0M1818.6 1360.4h0M1775.5 1296.5h0M1859.1 1448.1h0M1744.8 1351.6h0M1794.9 1383.8h0M1825.9 1317.4h0M1880.1 1420.1h0M1824.1 1444.8h0M1933.7 1377.6h0M1698.3 1412.7h0M1830.4 1429.3h0M1900.1 1354h0M1892.9 1341.3h0M1832.1 1370.7h0M1843 1354.9h0M1826.5 1435.8h0M1820.3 1261.9h0M1863.3 1351.6h0M1896.5 1354.5h0M1756 1351.8h0M1886.7 1305.9h0M1751.5 1301.6h0M1962.2 1426.7h0M1848.7 1354.1h0M1911.2 1300.3h0M1789.2 1304h0M1790.4 1276.5h0M1816.8 1341.2h0M1868.8 1408h0M1850.5 1360.7h0M1962 1388.5h0M1845.7 1416.3h0M1809.6 1382.1h0M1750.2 1366h0M1783.7 1326.1h0M1836.9 1341.1h0M1834.5 1394.3h0M1855.7 1415.3h0M1866.4 1431.4h0M1764.4 1389h0M1835.1 1411.8h0M1796.5 1403.9h0M1857.2 1299.5h0M1968.4 1355.3h0M1782.5 1431h0M1935.1 1363.9h0M1810.2 1353h0M1808.6 1305.9h0M1926.6 1361.7h0M1695.8 1327.9h0M1976.1 1381.3h0M1846.7 1386.5h0M1716 1349.2h0M1837 1384.2h0M1777.7 1368.9h0M1702.9 1421.3h0M1858.7 1389h0M1785.1 1390.9h0M1740.4 1420.9h0M1951.8 1373.7h0M1797.4 1394.3h0M1835.1 1383.6h0M1908.6 1352.6h0M1814.8 1313.4h0M1797.9 1412h0M1775.9 1361.3h0M1911.6 1273.9h0M1844.2 1430.3h0M1878.4 1249.7h0M1741.7 1334.7h0M1798.5 1345.1h0M1905.3 1327.5h0M1864.5 1334.5h0M1828.9 1336.1h0M1806.3 1301h0M1801.4 1430.3h0M1887.3 1338.2h0M1748.6 1426h0M1799.6 1334.5h0M1819.6 1367.1h0M1858.8 1373.7h0M1893.2 1315.3h0M1874 1341.5h0M1925.7 1242.2h0M1822.5 1348.3h0M1744.1 1340.2h0M1914 1327.5h0M1789.6 1398.8h0M1826.1 1317.3h0M1797.1 1388.1h0M1903.6 1454.2h0M1821.8 1358.3h0M1799.6 1276.1h0M1834.9 1401.8h0M1914.9 1329.6h0M1762.2 1414.6h0M1984.8 1356.3h0M1862.3 1407.7h0M1741.3 1421h0M1735.4 1339.4h0M1876.8 1285.7h0M1758.2 1346.2h0M1867.6 1388.2h0M1780.7 1343.1h0M1809.1 1403.3h0M1783.2 1312.1h0M1848.2 1314.1h0M1925 1409.3h0M1907.7 1367.4h0M1931.5 1395.8h0M1809.3 1298.7h0M1733.9 1399.7h0M1770.1 1370.1h0M1848.8 1272.8h0M1767.9 1443.6h0M1874 1347.5h0M1894.8 1331.6h0M1930.7 1314.1h0M1841.2 1333.4h0M1851.5 1352.8h0M1771.9 1399.1h0M1765.7 1356.5h0M1858.7 1411.3h0M1798.3 1335.2h0M1773.8 1401h0M1845.6 1316.3h0M1672.9 1228.1h0M1828.2 1430.2h0M1890.4 1316.3h0M1778.1 1413.2h0M1756.1 1365h0M1886.4 1275h0M1837.9 1403.2h0M1879.5 1329h0M1775.5 1361.2h0M1882.9 1345.1h0M1763.4 1364.9h0M1834.6 1338.1h0M1864.5 1356h0M1849.3 1356.6h0M1835.1 1294.1h0M1854.3 1274.6h0M1900.1 1456.8h0M1718.9 1280.3h0M1883.3 1391.7h0M1804.8 1353.6h0M1829 1360.7h0M1848 1338.9h0M1743.4 1377.6h0M1865 1281.8h0M1826 1394.3h0M1840.1 1378.7h0M1906 1315.1h0M1795.7 1344h0M1851 1433.9h0M1896.9 1366h0M1817.1 1375h0M1902.6 1282h0M1763.3 1323.8h0M1899.9 1351.1h0M1817.3 1396.6h0M1852.4 1363.8h0M1752.8 1311.1h0M1834.8 1349.8h0M1859.7 1388.7h0M1752.1 1408.6h0M1610.9 1319.2h0M1759.6 1350.1h0M1721 1382.1h0M1719.1 1449.9h0M1724.7 1382.5h0M1767.3 1434.1h0M1716.8 1320.9h0M1928.1 1368.7h0M1776.4 1383.3h0M1811.7 1363.4h0M1746.3 1269.3h0M1804.3 1440.5h0M1895.8 1400h0M1845.6 1404.7h0M1886.8 1407.2h0M1820.4 1320.3h0M1836.8 1413h0M1769.9 1333.6h0M1806.5 1392.6h0M1802 1321.9h0M1866.1 1378.8h0M1805.5 1329.2h0M1789.6 1308.4h0M1823.7 1402.5h0M1841.4 1414.8h0M1757 1346.3h0M1783.3 1380h0M1965.1 1350.8h0M1882.6 1390h0M1736 1320h0M1837.5 1368.6h0M1792.2 1254.7h0M1719.3 1383.6h0M1790.7 1339.3h0M1743.4 1406.6h0M1889.1 1419.2h0M1867.4 1366h0M1874.8 1303.8h0M1796.6 1326.8h0M1718.2 1444.1h0M1758.6 1373.6h0M1870.7 1403.7h0M1830.8 1420.6h0M1798.5 1422.8h0M1787.6 1403.3h0M1821.6 1365.8h0M1764.7 1336.9h0M1792.2 1399.4h0M1931.1 1421.4h0M1965.2 1306.3h0M1850.2 1422.9h0M1706.1 1363h0M1942.9 1372.4h0M1694.3 1229.5h0M1711.4 1177.9h0M1598.3 1174h0M1756.1 1168.4h0M1684.8 1253.5h0M1720.9 1274.6h0M1716.7 1251.5h0M1703.2 1257.5h0M1567.7 1185.1h0M1713.1 1270.4h0M1747.2 1252.8h0M1664.7 1315.6h0M1756.6 1257.5h0M1760.4 1303.7h0M1693.7 1296.3h0M1672.2 1263.8h0M1712.4 1087.4h0M1670.2 1326.9h0M1683.4 1252.8h0M1773.2 1171.1h0M1741.9 1179h0M1669.3 1234.4h0M1690.4 1247.2h0M1707.4 1387.3h0M1720.9 1204.7h0M1684.7 1179.6h0M1836.6 1375.2h0M1615.6 1316.8h0M1762.3 1263.7h0M1779.4 1326.8h0M1739.7 1243.1h0M1685.8 1257.2h0M1658.9 1246.7h0M1626.6 1146h0M1801 1272h0M1738.5 1289.6h0M1716 1317.3h0M1656 1274h0M1668.5 1147.2h0M1694.8 1322.6h0M1609.4 1319.3h0M1805 1195.2h0M1652 1184h0M1692 1319.3h0M1637.2 1195.7h0M1681 1158.7h0M1714 1190.9h0M1583.3 1192.7h0M1704.9 1262h0M1748.3 1215.3h0M1662.2 1168.6h0M1689.9 1340.1h0M1789.7 1180.7h0M1787.5 1247h0M1726.6 1250h0M1721.6 1212.3h0M1717.8 1144.8h0M1753.1 1294.1h0M1657 1258.9h0M1695.1 1315.9h0M1655.3 1216.6h0M1758.8 1239.2h0M1678 1220.7h0M1673.7 1301h0M1702.3 1232.8h0M1603.3 1099.7h0M1649.9 1275h0M1660.6 1208.2h0M1741.6 1206.4h0M1705.9 1289.9h0M1858 1309.8h0M1659.2 1224.1h0M1634.9 1254.4h0M1735.5 1303.1h0M1693.5 1194h0M1837.3 1155.7h0M1658.9 1218.8h0M1662.3 1168.2h0M1626.8 1283.3h0M1684.9 1263.2h0M1666.2 1217.2h0M1689.8 1278.6h0M1732.6 1220.1h0M1655.8 1205.5h0M1717.4 1321.5h0M1826.7 1187.8h0M1675.8 1180.2h0M1734 1318.1h0M1771.5 1266.3h0M1736.4 1292.5h0M1751.1 1321.1h0M1750.9 1292h0M1815.6 1163.6h0M1667.4 1280h0M1630 1271.2h0M1781.9 1236.2h0M1677 1320.7h0M1641.6 1210.9h0M1775.7 1246.2h0M1703.6 1321.9h0M1760.1 1178h0M1669.5 1209.6h0M1578.2 1207.7h0M1683.2 1072.9h0M1698.7 1132.5h0M1714 1235.6h0M1742.9 1184.6h0M1711.4 1100.3h0M1622.7 1278.7h0M1737.8 1288.7h0M1585.3 1137.9h0M1660.3 1365.5h0M1696 1269.3h0M1686 1314.8h0M1649.9 1262.3h0M1660.9 1264.9h0M1636.1 1232.4h0M1701.9 1225.7h0M1636.2 1181.6h0M1735.4 1192.2h0M1748.3 1372.7h0M1751.7 1243.6h0M1625.4 1192.6h0M1660.7 1233.1h0M1717.3 1238.9h0M1601.4 1203.6h0M1628.6 1205.1h0M1647.2 1263.4h0M1681.6 1184.1h0M1717.6 1236.1h0M1660.3 1248.9h0M1563.5 1185h0M1679.6 1139.5h0M1628.3 1194.9h0M1720.4 1239.2h0M1740.3 1335.5h0M1729.8 1351.2h0M1783.3 1245.3h0M1656 1208.7h0M1803.5 1169.4h0M1661.2 1144.3h0M1750.9 1327.5h0M1785.2 1184.9h0M1657 1278.8h0M1764 1204h0M1690.7 1212.7h0M1779.4 1277.2h0M1732.9 1166.5h0M1673.7 1195.3h0M1694.7 1284.4h0M1677.9 1151.9h0M1707.6 1306h0M1636 1249.4h0M1737.3 1278.4h0M1705.4 1169h0M1660.6 1209.7h0M1686.6 1421.9h0M1622.1 1262.3h0M1740.2 1243.9h0M1589.1 1288.9h0M1632.7 1218.2h0M1767.2 1331.5h0M1772.6 1176.3h0M1668 1236.6h0M1710.4 1267.5h0M1739.4 1091.3h0M1715.2 1248.8h0M1759.1 1258.7h0M1689.2 1351.8h0M1670.7 1261.8h0M1651.1 1289h0M1723.6 1299.2h0M1737.2 1279.6h0M1670.3 1259.4h0M1782.6 1301.6h0M1756.4 1289.8h0M1681 1263.7h0M1710.8 1293.5h0M1634.9 1146.9h0M1608.3 1217.1h0M1763.3 1287.4h0M1781.6 1191.4h0M1651.9 1134.1h0M1597.9 1188.1h0M1633.6 1238.3h0M1792.8 1268.1h0M1613.2 1082.6h0M1695.1 1168.6h0M1652.3 1239.7h0M1686.5 1278.9h0M1610.3 1141.1h0M1661.1 1375.3h0M1683.6 1236.6h0M1755 1151.6h0M1697.3 1354.9h0M1693.8 1189.3h0M1701.3 1184.4h0M1610.5 1320.9h0M1663.7 1352.1h0M1713.7 1277.7h0M1661.6 1250.9h0M1730.5 1145.4h0M1650.2 1212h0M1678.2 1219h0M1702.4 1372.1h0M1708.8 1396.1h0M1715.6 1261.9h0M1645.6 1306.2h0M1676.4 1314.9h0M1603.6 1258h0M1685.5 1147.1h0M1818.8 1183.9h0M1777.8 1401.9h0M1676.2 1273.1h0M1690.5 1228.7h0M1659.7 1181.1h0M1665.1 1355h0M1768.5 1245.7h0M1757.7 1323.6h0M1727.7 1201.1h0M1641.1 1254.1h0M1631.7 1257.4h0M1633.5 1279.1h0M1813.7 1310.4h0M1660.5 1258.8h0M1648.4 1228.7h0M1676.8 1222.2h0M1677.5 1266.6h0M1717.9 1317.5h0M1669.5 1327.8h0M1702.5 1255h0M1691.2 1229.7h0M1653 1238.6h0M1571.8 1113h0M1671.4 1213.5h0M1693.7 1453.1h0M1692 1285.2h0M1699.3 1142.6h0M1729.2 1208.5h0M1672.4 1310.1h0M1671.6 1247.4h0M1555.3 1215.9h0M1629.1 1217.1h0M1715 1200.8h0M1632.6 1275.8h0M1639.7 1281.8h0M1706.4 1304.8h0M1720.9 1241.4h0M1650.3 1207.7h0M1681.3 1333.8h0M1678 1216h0M1645.5 1276.1h0M1606 1254.2h0M1640.7 1186.5h0M1693.3 1269h0M1600.1 1364.5h0M1733.4 1304.7h0M1623.9 1227.8h0M1767.9 1215h0M1685.6 1278.4h0M1826.3 1261h0M1732.3 1148.9h0M1590.7 1243.3h0M1677.7 1162.7h0M1722.4 1203h0M1795.3 1308.9h0M1591.1 1249h0M1817.2 1350.1h0M1757 1191.3h0M1627 1252.6h0M1672.4 1304.1h0M1659.5 1174.8h0M1647.9 1203.5h0M1601.8 1288.2h0M1653.7 1241.2h0M1778.6 1292.3h0M1744.2 1218.1h0M1707.5 1219.7h0M1809.2 1325.9h0M1795.4 1224.3h0M1681.3 1188.5h0M1625.6 1175.1h0M1750 1223.8h0M1706.7 1251.7h0M1731.9 1120.6h0M1710.1 1246.5h0M1664 1251h0M1676 1206.8h0M1694.4 1182.9h0M1625.5 1298.6h0M1648.1 1156.7h0M1724.9 1268.7h0M1679.5 1225.5h0M1715.6 1219.8h0M1744.9 1315.1h0M1693 1267.6h0M1746 1227.8h0M1671.2 1215.6h0M1783.2 1159.3h0M1629.5 1252.5h0M1803.1 1128.5h0M1755.5 1302h0M1747.5 1327.7h0M1701.3 1435.4h0M1734.1 1236.6h0M1806.5 1362h0M1609.6 1293.2h0M1759.6 1187.9h0M1704.9 1168.1h0M1666.9 1267.5h0M1671.9 1139.7h0M1735.4 1232.5h0M1781.8 1290.4h0M1690.5 1157.4h0M1631.6 1213.5h0M1604.8 1234h0M1786.4 1233.4h0M1698.9 1297.4h0M1764.6 1174.4h0M1606.3 1195.2h0M1741.1 1276.2h0M1691.6 1305h0M1677.1 1193.2h0M1683.4 1306.3h0M1777.3 1091.1h0M1573.9 1185.4h0M1634.4 1327.9h0M1771.6 1292.3h0M1620.7 1156.3h0M1678.9 1236.8h0M1639.2 1175.8h0M1769.5 1204.8h0M1775.2 1215h0M1780.7 1317h0M1782.2 1303h0M1647.8 1253.7h0M1709.6 1212.3h0M1706.8 1270.9h0M1744.6 1365.4h0M1771.3 1296.9h0M1720.9 1185h0M1626.7 1261.6h0M1660.1 1296.3h0M1705.9 1267.4h0M1654.7 1243.7h0M1650.2 1231h0M1646.2 1267.7h0M1583.3 1251h0M1655 1268.5h0M1710.6 1115.1h0M1755.2 1252.4h0M1723 1128.7h0M1768.5 1251h0M1712.2 1225.2h0M1799.3 1262h0M1635.6 1414.4h0M1680.7 1218.4h0M1774.7 1180.8h0M1593.2 1163.2h0M1683.6 1270.2h0M1677.6 1154.3h0M1653.4 1287.8h0M1610.8 1201.9h0M1752.1 1241.3h0M1633.1 1269.4h0M1771.4 1306.3h0M1644.7 1279.2h0M1636 1364.5h0M1814.2 1262.5h0M1765.9 1239.5h0M1902.1 1168.5h0M1783 1305.5h0M1707.2 1281.2h0M1741.6 1257.5h0M1641.3 1286.5h0M1747 1157.3h0M1735.8 1179.4h0M1753.3 1306.3h0M1793.8 1151.6h0M1788.3 1216.5h0M1606.9 1261.8h0M1682.8 1185.2h0M1758.5 1191.3h0M1737.7 1298h0M1623.7 1268.1h0M1716.7 1329.8h0M1623.2 1262.2h0M1661 1169.2h0M1711.3 1251.5h0M1722.2 1454.1h0M1676.6 1221.3h0M1763.7 1346.2h0M1687.1 1113.1h0M1662.3 1211.3h0M1681.4 1268.2h0M1664.6 1276.4h0M1733.6 1137.7h0M1725.9 1152.4h0M1659.2 1109.9h0M1641.2 1232.2h0M1755.9 1382.5h0M1666.5 1238.7h0M1651.2 1216.6h0M1682.8 1271.2h0M1754.8 1197.1h0M1687.7 1249.9h0M1741.2 1192.9h0M1710.8 1207.7h0M1702.5 1191h0M1788.2 1199.8h0M1651 1209.2h0M1702.7 1319.1h0M1681.9 1206h0M1684.5 1230.6h0M1718.3 1264.8h0M1623.5 1294.1h0M1721.7 1243.4h0M1767.6 1236.3h0M1728.6 1218.6h0M1657.3 1243.4h0M1635.9 1350.1h0M1769 1280.9h0M1745.4 1287.7h0M1677.4 1294.2h0M1683.1 1220.9h0M1705.5 1308.8h0M1699.9 1240h0M1688.8 1265.1h0M1753.4 1251.9h0M1795.6 1224.7h0M1734.3 1330.3h0M1781 1343.3h0M1717.9 1255.4h0M1648.1 1289.4h0M1785.8 1292.3h0M1663.6 1272.8h0M1699.6 1315.1h0M1669.2 1179.7h0M1715.7 1098h0M1701.5 1157.3h0M1689.4 1303.3h0M1685.4 1270.1h0M1694.6 1255.4h0M1764.9 1279.5h0M1747.3 1306.8h0M1697.8 1221.8h0M1735 1240.6h0M1689.1 1243.7h0M1708.2 1319h0M1715.5 1244.9h0M1689.5 1265.7h0M1729.5 1292h0M1662.2 1327h0M1716.4 1206.1h0M1661.9 1237.3h0M1645.7 1063.3h0M1703.8 1209.9h0M1688.6 1341.5h0M1670.7 1232.9h0M1783.1 1259.8h0M1716.4 1182.6h0M1761.1 1278h0M1811.5 1173.6h0M1892.4 1131.3h0M1620.5 1196.6h0M1740.3 1111h0M1673.2 1295.6h0M1683.6 1246.9h0M1672.5 1249.9h0M1715.3 1328.8h0M1754.6 1293.7h0M1681 1196.1h0M1679.8 1289.8h0M1598.8 1225h0M1625 1250.2h0M1750.4 1148.3h0M1677.4 1264.6h0M1770 1338.5h0M1678.3 1208.3h0M1591.7 1202h0M1733.6 1216.9h0M1741.6 1114.2h0M1684.5 1317.9h0M1735 1201.4h0M1713.7 1337.6h0M1690.2 1190.8h0M1696.9 1243.9h0M1629.2 1188.4h0M1651.6 1342.9h0M1625.3 1261.9h0M1631.3 1255h0M1707.5 1228.5h0M1714.6 1184.1h0M1753.7 1183.8h0M1722 1229.4h0M1716.6 1296h0M1770.1 1218h0M1802.9 1227.6h0M1787.7 1122.3h0M1706.5 1300.4h0M1671.4 1205.4h0M1706.7 1337.8h0M1705.8 1233.8h0M1656.4 1240.2h0M1510.1 1336.5h0M1707.3 1141.3h0M1720 1319.4h0M1792.9 1320.7h0M1680.1 1328.5h0M1675.5 1379.8h0M1709.8 1279.9h0M1746.5 1289.7h0M1753.2 1216.6h0M1734.5 1127.4h0M1678.4 1255h0M1602.1 1318.9h0M1692.8 1216.6h0M1717.4 1315.1h0M1667.4 1170h0M1787.1 1218.7h0M1625.6 1243.7h0M1735.9 1259.5h0M1690.6 1276h0M1706.3 1217.3h0M1724.1 1171.1h0M1702.9 1183.3h0M1697 1193.5h0M1775.1 1294.8h0M1673.6 1253.9h0M1593 1233.2h0M1694.2 1151.2h0M1633.2 1183h0M1768.7 1225.7h0M1700.3 1142.5h0M1694.1 1174.4h0M1663.7 1264.4h0M1795.9 1237.7h0M1596.3 1186.7h0M1675.6 1240h0M1685.7 1200.8h0M1800.5 1124.4h0M1729.6 1209.6h0M1667.4 1141h0M1721.2 1285.6h0M1711.2 1256.8h0M1692.2 1220.8h0M1767.8 1218.3h0M1639.6 1244.4h0M1786.9 1350.2h0M1646.2 1314.2h0M1621 1275.8h0M1644.7 1259.4h0M1701.3 1176.6h0M1701.2 1279.2h0M1719.7 1120.5h0M1749.2 1121.2h0M1708.5 1216.2h0M1664.5 1242.7h0M1670 1163.7h0M1823.7 1222.3h0M1743.3 1200.1h0M1693.9 1306.4h0M1776 1270.2h0M1608.4 1237.2h0M1829.6 1303.5h0M1707.9 1255.8h0M1788.5 1180.9h0M1695.9 1304.6h0M1708.5 1144.3h0M1668.5 1233.2h0M1645.1 1313.8h0M1591.8 1194.9h0M1769.4 1290.7h0M1664.5 1223.9h0M1694.1 1284.8h0M1600.8 1203.4h0M1671.9 1206h0M1783.4 1217.8h0M1693.4 1352.4h0M1800.7 1220.7h0M1731.6 1228.5h0M1789.8 1243.2h0M1642.5 1282.7h0M1782.9 1282.3h0M1680 1212h0M1693.7 1160.1h0M1808.2 1213.9h0M1705.4 1210.8h0M1711.7 1293.4h0M1725.4 1298.4h0M1584.4 1248.2h0M1655.6 1188.7h0M1674.7 1119h0M1660.2 1273.7h0M1653.3 1241.9h0M1671.2 1261h0M1680.1 1195.7h0M1788.4 1249h0M1710.5 1241.5h0M1642.2 1140.9h0M1678.3 1187.4h0M1680.6 1303.5h0M1697 1257.1h0M1567.5 1222.2h0M1690.2 1215.2h0M1628.7 1287.3h0M1663.8 1377.6h0M1740.2 1301.7h0M1696.3 1270.3h0M1731.3 1264.5h0M1678.7 1363.2h0M1679.2 1185.9h0M1749.5 1235.9h0M1764 1300.5h0M1750.1 1252h0M1779.1 1247h0M1673.7 1259.7h0M1679.2 1277.1h0M1645.8 1280.1h0M1719.2 1249.5h0M1640.2 1187.9h0M1593 1288.8h0M1665 1258.3h0M1736.8 1264.7h0M1689.6 1254h0M1698.4 1228.9h0M1726 1188.5h0M1696 1248.3h0M1631.5 1210.5h0M1621.6 1317.7h0M1536.3 1313.5h0M1635.2 1246.9h0M1719.9 1152.5h0M1689.3 1234.6h0M1715.8 1236h0M1751.3 1337.1h0M1702.8 1262.9h0M1657.6 1262h0M1724.3 1283.8h0M1661.9 1291.1h0M1578.1 1413.2h0M1687.2 1222.5h0M1734.5 1206.2h0M1665.2 1261h0M1746.5 1310.5h0M1644.3 1362.1h0M1587.5 1254.2h0M1623.5 1237.2h0M1676.8 1267.7h0M1725.9 1280.8h0M1683.5 1217.2h0M1729 1269.2h0M1733.1 1306.2h0M1763.9 1242.3h0M1807.6 1235.8h0M1763.7 1251.6h0M1731.4 1224h0M1741.6 1284.8h0M1745.9 1345h0M1783.2 1245.2h0M1718.3 1144.8h0M1764.3 1353.1h0M1725.2 1300.5h0M1736 1164.6h0M1751.2 1252.1h0M1792.4 1273.1h0M1817 1248.3h0M1644.4 1275.6h0M1681.6 1235.5h0M1788.2 1220.8h0M1668.7 1171.6h0M1735.7 1170.6h0M1698.4 1304.8h0M1690.5 1191.2h0M1672.7 1311.6h0M1752.9 1211.7h0M1822.5 1292.8h0M1633.5 1191.8h0M1730.1 1204.3h0M1810.5 1232.6h0M1762.8 1313.3h0M1699.6 1188.5h0M1787.4 1223.1h0M1629.7 1213.7h0M1720.7 1145.3h0M1702 1327.9h0M1749.6 1241.9h0M1737 1270.1h0M1721.4 1287.8h0M1695.9 1253.7h0M1594.8 1291.6h0M1636.7 1180.1h0M1735.8 1158.6h0M1733.2 1157.6h0M1757.6 1232.3h0M1615.8 1323.9h0M1774.5 1224.1h0M1656.3 1320.7h0M1730.1 1340.4h0M1748 1282.7h0M1751.3 1241.6h0M1771.5 1184.4h0M1752.1 1160.5h0M1762.3 1150.8h0M1680.4 1200.9h0M1689.3 1200.2h0M1615 1281.9h0M1735.5 1317.1h0M1625.3 1308.6h0M1729 1241.3h0M1724 1275.8h0M1680.1 1278.4h0M1635.2 1180.3h0M1665.4 1227.7h0M1814.8 1286.1h0M1638.7 1334h0M1716.9 1210.9h0M1659.3 1236h0M1686.5 1258.4h0M1729.2 1224.2h0M1717.8 1274.1h0M1710.4 1238.7h0M1679.2 1251.6h0M1703.3 1350h0M1649 1232.3h0M1706.9 1159.1h0M1786.4 1227.3h0M1722.2 1348.2h0M1689.1 1178.6h0M1623.7 1173.4h0M1744.1 1301.8h0M1770.7 1127.5h0M1621.6 1195.4h0M1755.2 1217.1h0M1717.1 1254.9h0M1830.9 1127.2h0M1620.2 1247.1h0M1631.7 1043.9h0M1716.3 1300.6h0M1699.9 1292.3h0M1670.7 1236h0M1655.4 1414.7h0M1696.9 1216.3h0M1734.9 1235.5h0M1721.2 1209.7h0M1635 1302.3h0M1728.8 1269.3h0M1673.8 1227.4h0M1729.4 1242.3h0M1669.2 1346.4h0M1664.8 1269.7h0M1740.5 1334.5h0M1706.3 1214.4h0M1756.9 1166.6h0M1602.2 1273h0M1730.6 1265.3h0M1741 1170h0M1748 1229h0M1596.1 1222.1h0M1787.2 1246.6h0M1705.1 1284.9h0M1691.3 1319.9h0M1627.1 1324.8h0M1722.3 1224.5h0M1633.9 1162h0M1719.8 1274.2h0M1683.6 1325.8h0M1695.2 1268.6h0M1565.3 1321.8h0M1667.2 1255.2h0M1711.4 1222.6h0M1660.7 1255.9h0M1695.7 1293h0M1718.2 1184.7h0M1714.5 1243.7h0M1666.1 1301.5h0M1710.7 1120h0M1686.6 1188.9h0M1788.7 1269.4h0M1725.8 1315.6h0M1719.4 1257.4h0M1614.3 1290.9h0M1667.2 1142.8h0M1775.9 1145.7h0M1715 1188.2h0M1708.3 1274.5h0M1700.1 1115.8h0M1723.4 1332.8h0M1663 1284.1h0M1712.8 1312.2h0M1640.9 1132.4h0M1566.1 1159.4h0M1682.4 1138.5h0M1619.1 1215.2h0M1814.1 1227.8h0M1796.4 1196.7h0M1778.7 1347.6h0M1681.9 1260.3h0M1724.3 1283.3h0M1705.6 1194h0M1595.4 1247.4h0M1643 1304.8h0M1762.2 1235h0M1646.8 1194.7h0M1652.6 1287h0M1615.8 1175.1h0M1703.2 1351.8h0M1708.8 1206h0M1742.6 1312.7h0M1691.2 1225.2h0M1697.3 1292.6h0M1643.2 1351.5h0M1670.9 1263h0M1688.6 1244.6h0M1701.4 1239h0M1742.4 1230.4h0M1710.7 1232.1h0M1694.4 1151.4h0M1649.7 1202.1h0M1633.1 1220h0M1643.1 1183.5h0M1705.9 1181.9h0M1731.6 1153.6h0M1661.1 1139.1h0M1692.2 1140.9h0M1736.2 1195.8h0M1663.4 1185.9h0M1570 1215.5h0M1658.1 1366h0M1740.2 1211.1h0M1756.3 1201.6h0M1649.9 1360.7h0M1717.9 1105.3h0M1714.9 1287.3h0M1740.7 1246.4h0M1697.5 1368.8h0M1664.5 1127.5h0M1590.5 1191.9h0M1650.8 1177.7h0M1718.7 1276h0M1649.3 1247.3h0M1700.5 1117.6h0M1718.6 1248.3h0M1641.8 1292.6h0M1757.7 1303.2h0M1735.6 1179h0M1657.1 1255.3h0M1675.5 1224.4h0M1654.8 1184.7h0M1730.9 1284.9h0M1720.3 1221.6h0M1716.1 1133.1h0M1707.2 1192.4h0M1662.1 1157.5h0M1636.3 1241.9h0M1770.6 1292.9h0M1696.3 1309.7h0M1704.8 1246.1h0M1639.5 1249.6h0M1696.5 1337.6h0M1675.5 1229.4h0M1727.3 1210.9h0M1650.8 1269.6h0M1762.9 1156h0M1839.2 1129.2h0M1758.6 1296.8h0M1694.1 1361.4h0M1702.1 1136.2h0M1797.1 1264.3h0M1731.9 1409.3h0M1673.4 1152.2h0M1671.8 1230h0M1731.6 1149.1h0M1618.8 1280.8h0M1635.5 1304.5h0M1781.6 1156h0M1663.6 1286.2h0M1825.8 1176.9h0M1737.4 1240.9h0M1747.3 1189.4h0M1667.3 1244.1h0M1626.9 1296.5h0M1579.5 1194.9h0M1704 1169h0M1676.3 1270.7h0M1751.7 1253h0M1641 1191.2h0M1688.4 1188.7h0M1688.7 1253.9h0M1648.5 1167.8h0M1665.8 1232.5h0M1679.8 1236.7h0M1760.6 1241.4h0M1779.9 1250.6h0M1788 1197.4h0M1716.3 1332.8h0M1773.3 1214.3h0M1768.8 1331.7h0M1621.3 1153.2h0M1707.7 1167.4h0M1704.2 1281h0M1637.9 1143.3h0M1736.1 1144.9h0M1612.5 1221.9h0M1731.1 1234.7h0M1728.7 1251.5h0M1753.5 1224.7h0M1732.7 1302.1h0M1768.3 1262.2h0M1608.9 1287.4h0M1719 1196.4h0M1627.9 1291.9h0M1668.5 1208.8h0M1762.4 1214.3h0M1628.1 1272.5h0M1699.2 1307.1h0M1746.5 1202.5h0M1643.3 1291.3h0M1670.7 1187.5h0M1675.6 1250h0M1796.4 1155.4h0M1690.5 1280.9h0M1778.7 1284.3h0M1707.4 1184h0M1675.2 1319.5h0M1667.5 1303.4h0M1776.4 1244.8h0M1722.6 1269.2h0M1726.5 1352.5h0M1757.2 1235.1h0M1682.2 1189.8h0M1743.8 1258.5h0M1684.5 1161.1h0M1657.4 1252.3h0M1752.7 1235.3h0M1699.8 1210.3h0M1741.3 1227.3h0M1660.3 1155.2h0M1753.8 1216.8h0M1690.5 1168.9h0M1709 1325.2h0M1751.9 1208.4h0M1722.9 1203.3h0M1779.8 1277.7h0M1738.1 1184.5h0M1596.3 1195.8h0M1713.2 1206.7h0M1647.7 1235.3h0M1766.8 1202h0M1665.3 1261.6h0M1711.9 1131.9h0M1645 1289.5h0M1767.2 1327h0M1596.7 1264.2h0M1732 1166h0M1778.4 1246.5h0M1779.1 1231.2h0M1686.9 1268.3h0M1656.8 1160.4h0M1806.8 1224.8h0M1716.1 1094.5h0M1781.9 1281.4h0M1766.3 1383.4h0M1720.1 1209.1h0M1777.2 1203.3h0M1711.3 1225.4h0M1737.5 1301.8h0M1686.1 1215h0M1625.8 1215.9h0M1699.4 1246.7h0M1674.5 1233.6h0M1747.9 1338.2h0M1753.2 1195.6h0M1673.6 1303.6h0M1663 1299.2h0M1657.5 1154.4h0M1765.3 1314.6h0M1603.4 1202.3h0M1746.1 1224.7h0M1613.7 1288.5h0M1735.7 1246.3h0M1724.7 1192.2h0M1724.2 1207.4h0M1717.2 1313.9h0M1746.7 1229.2h0M1688 1108.3h0M1755.4 1192.6h0M1704.2 1189.4h0M1611.4 1338.3h0M1623.4 1197.6h0M1679.5 1203.9h0M1591 1217.3h0M1654.9 1196.8h0M1742.8 1207.5h0M1680.3 1324.1h0M1736 1237.1h0M1714.4 1163.9h0M1764.6 1301.8h0M1740.6 1209.5h0M1677.2 1240.4h0M1720 1247.6h0M1810.8 1364h0M1644.3 1179.2h0M1765.9 1258.6h0M1716.2 1330.5h0M1732.8 1322.3h0M1732.2 1255.5h0M1702.5 1188.8h0M1690.6 1213.2h0M1779.5 1117.5h0M1583.5 1180.4h0M1735.5 1289.6h0M1690.7 1239.2h0M1659.8 1241.2h0M1638.3 1079.8h0M1722.4 1182.2h0M1709 1254.8h0M1672 1289.8h0M1740.5 1325.9h0M1539.9 1244.4h0M1600.7 1209h0M1650.4 1300.4h0M1701.5 1293.8h0M1801.5 1272.2h0M1695.4 1166.8h0M1680.9 1314.3h0M1579.1 1237.6h0M1693 1322.6h0M1651.4 1207.6h0M1631.7 1158h0M1706.9 1330.6h0M1718.8 1263.3h0M1670.6 1272.7h0M1745.8 1178.6h0M1742.8 1263.9h0M1738.5 1170.8h0M1730 1179.6h0M1690.7 1190.4h0M1708.2 1306.6h0M1582.5 1257.3h0M1715.5 1247h0M1764.3 1222.2h0M1721.8 1183.1h0M1734.1 1311.7h0M1710.2 1069h0M1677.1 1280h0M1828.4 1253.4h0M1647.5 1287.4h0M1750.7 1191.2h0M1787.2 1207.9h0M1758.1 1275.8h0M1753.8 1214.4h0M1721.1 1324.1h0M1826.2 1193.1h0M1688.2 1242.6h0M1705.8 1249.7h0M1692.8 1264.9h0M1673.4 1257.1h0M1651.5 1269h0M1723.7 1274.1h0M1736.5 1151.9h0M1754 1323h0M1697 1318.2h0M1809.6 1214.5h0M1664.5 1281h0M1743.7 1217.7h0M1788 1286.7h0M1662.4 1198.9h0M1586.8 1294.5h0M1865.2 1258.7h0M1729 1275.7h0M1727.5 1298.2h0M1641.3 1271h0M1683 1203.8h0M1807.1 1338.8h0M1683.4 1155.6h0M1644.1 1245.8h0M1624.6 1306h0M1651.6 1324.8h0M1684.6 1183.1h0M1812.8 1251.2h0M1708.7 1236.9h0M1697.7 1236.4h0M1680 1196.5h0M1664.3 1319.6h0M1730.9 1203.1h0M1698 1127.2h0M1744.8 1262.7h0M1595.8 1291.3h0M1683.6 1300.7h0M1757.3 1333.7h0M1664.4 1224.6h0M1719 1270.9h0M1712.7 1225.6h0M1676.9 1141.5h0M1598.3 1345.6h0M1585 1299.3h0M1633.4 1227.7h0M1637.2 1271.5h0M1635.1 1383.2h0M1682.3 1234.6h0M1736.3 1251.6h0M1670.3 1163.4h0M1724.7 1167.8h0M1686.1 1358h0M1770.6 1276.7h0M1746.5 1267.1h0M1707.3 1168.1h0M1679.4 1199.7h0M1661.4 1213h0M1685.2 1205.8h0M1655.7 1229.7h0M1752.8 1275.6h0M1766.3 1261.1h0M1794.4 1310.4h0M1745.8 1232.2h0M1738.9 1307.1h0M1622.7 1214.3h0M1634.4 1175h0M1693.2 1137.4h0M1643.1 1187.7h0M1694.1 1383.7h0M1640.5 1263.6h0M1744.6 1184.4h0M1692.7 1298h0M1698.9 1142.8h0M1666.8 1248.4h0M1737.4 1279.4h0M1553.1 1277h0M1727.9 1212.6h0M1728.3 1318.4h0M1723 1189.5h0M1708.6 1267h0M1686.4 1253.2h0M1665.2 1207.2h0M1683.4 1256.5h0M1710.2 1245.1h0M1736.3 1272.5h0M1608.2 1261.6h0M1728.7 1307h0M1789.7 1267h0M1630.8 1318.8h0M1766.5 1260.1h0M1785.6 1284.6h0M1685.9 1255.5h0M1608.4 1243.3h0M1791.4 1212.9h0M1828.4 1235.8h0M1755 1322.3h0M1749.7 1309.4h0M1728.3 1151.9h0M1755.2 1221.8h0M1637 1223h0M1747.6 1220.5h0M1672.7 1295h0M1733.4 1277.6h0M1723.5 1350h0M1570.1 1350.5h0M1681.8 1165h0M1653.8 1264.9h0M1752 1225.2h0M1641.1 1284.5h0M1662.9 1372.2h0M1710.7 1197.3h0M1671 1093.1h0M1691.4 1165.9h0M1774.2 1186.6h0M1657.4 1193.2h0M1757.4 1184.2h0M1781.1 1195.4h0M1767.6 1113.3h0M1685.6 1237.2h0M1697.7 1257.2h0M1759.2 1234.9h0M1735.5 1209.9h0M1701 1313.4h0M1680.8 1230.1h0M1695 1234.1h0M1672.8 1274.1h0M1714 1251.3h0M1715.7 1276.7h0M1684.2 1205.1h0M1628.4 1181.5h0M1595.4 1383.2h0M1744.8 1255.6h0M1727.4 1261.5h0M1705.4 1072.9h0M1769.1 1175h0M1794.4 1161.8h0M1696.9 1268.9h0M1642 1151h0M1551 1229.8h0M1742.6 1176h0M1702.3 1185.6h0M1786.2 1138h0M1571.4 1242.8h0M1795.2 1235h0M1629.4 1204.1h0M1651.3 1243.2h0M1649 1263.8h0M1773.9 1223.4h0M1750 1234.7h0M1742.7 1328h0M1718.1 1340h0M1596.8 1374.9h0M1576.9 1301.8h0M1775.1 1200h0M1822.1 1222.6h0M1667.6 1241.9h0M1688.2 1191.9h0M1666.7 1258.7h0M1694.8 1211.6h0M1700.1 1276.3h0M1708.5 1239.1h0M1743.2 1274.9h0M1745.3 1203h0M1606.4 1263.6h0M1712.9 1150.2h0M1659.3 1274.2h0M1673.4 1386.7h0M1646.4 1158h0M1784.6 1186h0M1747.6 1269.4h0M1683.4 1184.1h0M1719.8 1178.5h0M1662.6 1257.9h0M1851.6 1218.5h0M1745.9 1142.9h0M1652.2 1178.3h0M1744.1 1154.5h0M1775.1 1274.2h0M1690.3 1360.5h0M1710.5 1271.4h0M1812.9 1150.3h0M1699.9 1174.9h0M1701.7 1255.5h0M1740.5 1265.1h0M1702.4 1229.6h0M1633.4 1197.3h0M1629.4 1272.7h0M1734.5 1222.5h0M1689.6 1218.6h0M1714.4 1329.1h0M1567.9 1330.2h0M1652.2 1319.3h0M1628.8 1169.2h0M1653.2 1381.4h0M1681.4 1324.4h0M1665.8 1143.7h0M1660.7 1193.9h0M1700.8 1301.3h0M1651.9 1323.3h0M1758.5 1274.8h0M1621.6 1256.1h0M1623.2 1199.1h0M1670 1275h0M1683 1305.5h0M1644.5 1255.1h0M1686.5 1180.9h0M1667.5 1232.6h0M1747.2 1219.6h0M1689.1 1195.4h0M1716.6 1222.6h0M1656.4 1365.3h0M1725.8 1076.6h0M1679.9 1228h0M1849.8 1185.5h0M1765 1242.9h0M1638.1 1265.2h0M1607.9 1294h0M1707.2 1140.7h0M1741.4 1296.4h0M1659.5 1291.1h0M1706.8 1232.1h0M1588.9 1249.2h0M1715.1 1149.9h0M1711.6 1145.3h0M1707.8 1337.5h0M1709.3 1313.1h0M1850 1239.3h0M1772.3 1241.1h0M1681.5 1221.6h0M1749 1184h0M1670.5 1270h0M1754 1294.8h0M1755.6 1197.7h0M1666.1 1360.7h0M1586.9 1267.3h0M1738.8 1246.8h0M1709.1 1213.7h0M1636.4 1261.8h0M1770.6 1352.7h0M1796.7 1352.9h0M1707.4 1226.3h0M1671.1 1204h0M1651.3 1273.4h0M1813.5 1336.1h0M1652.7 1254.8h0M1708.5 1226.1h0M1724.4 1187.9h0M1767.1 1188h0M1743.5 1102.9h0M1611.3 1226.2h0M1791.8 1235.4h0M1641.7 1197.7h0M1732 1243h0M1651.9 1376.2h0M1689.3 1235.2h0M1615.5 1254.7h0M1707.2 1206.2h0M1621.2 1188.7h0M1606.4 1327.7h0M1654.9 1389.3h0M1574 1240.4h0M1729.2 1332.4h0M1734.9 1284.2h0M1688.9 1172h0M1720.1 1351.8h0M1824.6 1291.1h0M1806.9 1231.3h0M1704.7 1134.1h0M1645 1225.3h0M1710.2 1308.6h0M1680.5 1292h0M1680.7 1301.9h0M1664.1 1358.8h0M1695.1 1220.9h0M1767.3 1256.4h0M1664.2 1199.1h0M1692.6 1275.5h0M1719.8 1236.3h0M1695.9 1399.3h0M1721.1 1290.3h0M1594.7 1405.1h0M1679.5 1387.7h0M1729.5 1058.6h0M1723.1 1213.8h0M1705.6 1290.1h0M1693.3 1150.9h0M1747.9 1217.2h0M1661.9 1269.5h0M1726 1234.1h0M1688.3 1203.2h0M1715.4 1297.6h0M1665 1121.1h0M1737.7 1235.1h0M1693.6 1206.4h0M1571.9 1297.9h0M1680.8 1251.3h0M1791.4 1206.5h0M1722.9 1113.7h0M1769.8 1300.1h0M1745.9 1191.4h0M1686.6 1142.3h0M1731.1 1177.8h0M1649.9 1229.2h0M1688.6 1274.6h0M1620.3 1225.5h0M1785.8 1222.9h0M1676 1167.8h0M1666.4 1323.3h0M1636.6 1264.2h0M1689.9 1232h0M1834.1 1200.3h0M1621.3 1102.3h0M1693.5 1237.3h0M1675.9 1217.3h0M1853.3 1302.9h0M1735.6 1325.9h0M1632.3 1324.4h0M1667.7 1177.4h0M1590.4 1333.5h0M1744.1 1145.6h0M1771.9 1188.9h0M1750.8 1239.4h0M1727.5 1145.1h0M1732.2 1209.8h0M1770.6 1208.8h0M1783.6 1160.2h0M1698.6 1221.1h0M1665.1 1209.4h0M1708.1 1244.8h0M1705 1238.5h0M1715.8 1323.2h0M1707.6 1189.7h0M1747.8 1316.2h0M1762.3 1290.2h0M1764 1127.4h0M1698.4 1332.7h0M1688.4 1144.5h0M1717.4 1314.4h0M1749.1 1175.2h0M1709.9 1246.7h0M1711.4 1167h0M1777.4 1347.1h0M1724.8 1333.1h0M1702.1 1211.1h0M1702.3 1331.3h0M1689.8 1242.2h0M1697.4 1228.3h0M1646.7 1230.2h0M1771.2 1252.2h0M1653.4 1178h0M1722.1 1283.7h0M1642.9 1303.7h0M1713.7 1210.2h0M1777.3 1294h0M1831.6 1111.4h0M1619.9 1334.4h0M1751.5 1261.2h0M1664.7 1100.1h0M1769.9 1302.2h0M1772.2 1230.7h0M1823 1236.9h0M1815.4 1294.1h0M1768.7 1242.2h0M1757.4 1324.9h0M1622.5 1249.1h0M1723.6 1175.5h0M1696.7 1165.2h0M1638.4 1287h0M1630.3 1185.3h0M1740.2 1187.2h0M1674.7 1216.3h0M1724.1 1179.9h0M1802.7 1306.7h0M1733.1 1268h0M1674.6 1252.6h0M1650.5 1349.8h0M1720.8 1272.3h0M1737.9 1394.6h0M1736.4 1335.9h0M1694.1 1220.8h0M1679.6 1128.4h0M1736.8 1268.9h0M1746.6 1262h0M1661.2 1307.1h0M1675.3 1247.2h0M1690.4 1199.4h0M1756.2 1209.4h0M1800.4 1197.8h0M1705.8 1392.6h0M1762.8 1215.5h0M1688.7 1290.8h0M1761.4 1206.3h0M1602.5 1304.3h0M1691.9 1199.5h0M1625 1226.6h0M1678.9 1269.4h0M1668.1 1148h0M1719.6 1228.1h0M1703.9 1223.2h0M1695.7 1296.6h0M1688.5 1252.2h0M1719.7 1291.2h0M1693.2 1127.6h0M1704.4 1270.3h0M1609.7 1325.5h0M1717.3 1321.9h0M1754.7 1200.9h0M1643.5 1142.1h0M1760.8 1196.5h0M1655.3 1139.2h0M1664.5 1238h0M1729.3 1284.1h0M1645.8 1174.9h0M1771.3 1243.1h0M1599.6 1282.2h0M1736.6 1212.5h0M1692 1271.1h0M1747.6 1356.5h0M1680.5 1240.6h0M1725.6 1308h0M1707.7 1174.6h0M1638.5 1318.4h0M1559.4 1256.7h0M1731.2 1173.5h0M1714.9 1328.6h0M1667 1273.6h0M1727.2 1227.6h0M1662.9 1058.2h0M1733.9 1205.3h0M1694.5 1193.2h0M1654.7 1166.9h0M1736.3 1229.2h0M1717.6 1334.8h0M1760.5 1374.9h0M1704.4 1269.3h0M1717.1 1220.4h0M1636.5 1199.2h0M1684.3 1268.5h0M1707.6 1225.9h0M1768.2 1231.6h0M1709.9 1230.3h0M1760.8 1293.2h0M1670.5 1271.7h0M1694.1 1154.2h0M1696.4 1265.6h0M1729.9 1263.1h0M1717.3 1344.1h0M1601.4 1128.4h0M1621.3 1112.9h0M1472 1165.9h0M1500.8 1197.6h0M1499.9 1305.5h0M1602.5 1218.4h0M1677.4 1082.1h0M1505.9 1070.2h0M1750.3 1006.1h0M1653.9 1096h0M1601.1 1126.5h0M1673.4 1095.8h0M1471.4 1093.9h0M1523 1044.1h0M1505.3 1287.9h0M1490.7 1110.3h0M1543.7 1074.5h0M1486.5 1300.9h0M1616.2 1192.9h0M1713.8 1270.9h0M1505.3 1175.1h0M1777.1 1248.1h0M1520 1110.1h0M1560.4 1257.6h0M1508.2 1130.4h0M1626.7 1225.6h0M1620.7 1033.4h0M1718.9 1358.4h0M1617.7 1054.8h0M1672.7 1106.5h0M1523 1028.8h0M1650.8 1290.3h0M1696 1203.4h0M1702.3 1131.8h0M1485.6 1211.2h0M1531.6 1232.9h0M1490.7 1204.4h0M1483.2 1185.5h0M1645.6 976.6h0M1521.2 1140.8h0M1572.7 1105.6h0M1574 1107.4h0M1481.3 1115.5h0M1559.5 1305.4h0M1587.5 1170.9h0M1616.2 1146.3h0M1603.7 1154.6h0M1594.4 1182.1h0M1465.7 1148.6h0M1625.7 1144.2h0M1619.1 1329.9h0M1589 1177h0M1567.5 1065.1h0M1583.2 1028.8h0M1693.8 1226.3h0M1629.6 1188h0M1562 1083.6h0M1540.5 1093.9h0M1533.4 1166h0M1655.7 1111.5h0M1675.4 1096.1h0M1531.7 1264.8h0M1625.8 1237.5h0M1653.8 1301.6h0M1608.4 1193.7h0M1601.6 1145.7h0M1605.2 1303.4h0M1645.1 1165.9h0M1595.6 1087.7h0M1588.3 1270.4h0M1685.1 1165h0M1709.9 1113.6h0M1682.3 1136.1h0M1454.1 1112h0M1562.4 1055.5h0M1752.3 1293.2h0M1583.5 1129.7h0M1504.3 1094.4h0M1528.4 1129.1h0M1519.2 1143h0M1577.2 1142.8h0M1594.5 1221.4h0M1446.3 1167.5h0M1541.7 1113.9h0M1428.2 1262h0M1593 1225.3h0M1591.4 1192.8h0M1674.1 1142h0M1577.7 1261.2h0M1616.6 1135.2h0M1519.9 1215.6h0M1472.9 1281.1h0M1647 1065.6h0M1478.1 1120.9h0M1480.4 1085.8h0M1552.4 1158.2h0M1681.4 1276.3h0M1581.6 1252.2h0M1602.9 1110.5h0M1678 1085.8h0M1545.3 1195.6h0M1443.1 978.5h0M1563.4 1111.8h0M1693.6 1208.6h0M1567.5 1375.7h0M1444.3 1155.1h0M1681.8 1086.2h0M1665.3 1190.7h0M1592 1107.4h0M1583.7 1136.8h0M1667.4 1193.7h0M1530.6 1175.9h0M1547.6 1178.3h0M1778.4 1097.6h0M1577.8 1054.4h0M1508.4 1196.1h0M1633.2 1148.3h0M1527.4 1210.9h0M1437.8 1118.4h0M1543 1093.9h0M1710.2 1106.6h0M1557.5 1093.6h0M1567.4 1070h0M1520 1109.3h0M1552.7 1078.1h0M1594.2 1152.9h0M1631.1 1266h0M1631.2 1259.4h0M1622.5 1234.2h0M1549.3 1227.7h0M1563.5 1068.5h0M1677.7 1172.5h0M1612.1 1089.9h0M1548.9 1195.6h0M1686.1 1009.8h0M1580.9 1049.3h0M1617.3 1387.1h0M1525.4 1209.3h0M1632.3 1267.8h0M1525.3 1016.4h0M1521.1 1128.9h0M1707.7 1116.7h0M1594.7 1168.2h0M1721.3 1229h0M1573.8 1075.3h0M1528.7 1220.5h0M1548.2 1157h0M1635.8 1188h0M1490.4 1114.8h0M1667 1054.2h0M1543.2 1261.5h0M1631.3 1188.8h0M1571.7 1228.4h0M1503.6 1310.3h0M1627.7 1336.7h0M1496.6 994.9h0M1507.2 1229.4h0M1553.1 1161.4h0M1520.6 1116.6h0M1562.6 1063.9h0M1492.9 1131.2h0M1578.3 1114.1h0M1626.7 1135h0M1645.6 1228.2h0M1520.8 1108.2h0M1619.4 1258.2h0M1483.3 1213.5h0M1600.8 1220.3h0M1544.9 1151.7h0M1520.3 1071.5h0M1519 1286.2h0M1600.1 1113.8h0M1589.4 1390.8h0M1537.7 1115h0M1494.6 1215.5h0M1565.3 1185.1h0M1591.1 1153.1h0M1594.1 1140.4h0M1604.3 1140.7h0M1553.2 1164.5h0M1474.7 1067h0M1589.2 1090.4h0M1535.3 1131.9h0M1576.8 1152h0M1641.2 1140.5h0M1612.5 1086.6h0M1498.2 1034.4h0M1506.9 1157.8h0M1564.2 1207.7h0M1692.9 1255.9h0M1614.6 1067.1h0M1466.7 1199.6h0M1639.9 1279h0M1425 1107.9h0M1523.5 1116.6h0M1692.6 1257.9h0M1658.7 1146.4h0M1556.8 1124.6h0M1526.1 1113.4h0M1598.5 1208.2h0M1619.1 1316.3h0M1622 1086.3h0M1558.9 1278.5h0M1561.3 1112.7h0M1577.1 1051.1h0M1568.5 1235.7h0M1544.7 1096.3h0M1526.1 1131.9h0M1486.2 1128.5h0M1523.2 1253.2h0M1510.4 1022.5h0M1480.2 1140.7h0M1447.7 1264.6h0M1643.5 1121.7h0M1498.1 1121.3h0M1640.2 1239.2h0M1550.9 1249.4h0M1530.1 1143.7h0M1671.9 1073.5h0M1524.3 1150h0M1457.2 1255.9h0M1650.6 1156.2h0M1546.6 1126.8h0M1607.1 1094.9h0M1580.7 1149.8h0M1726.9 1190.6h0M1538.5 1134.8h0M1570 991.1h0M1593.7 1198.7h0M1560.7 1280.2h0M1636.7 1198.4h0M1713.8 1006.7h0M1586.3 1147.6h0M1688.1 1115.8h0M1593.1 1176.3h0M1561.6 1114h0M1779.6 1113.8h0M1536.9 1092h0M1437.6 1268h0M1568.5 1264h0M1714.6 1025.1h0M1536.6 1167.1h0M1498.4 1081.2h0M1651.3 1141.7h0M1623.4 1093.1h0M1621.2 1251.5h0M1417.5 1334.6h0M1603.2 1312.5h0M1529.9 1093.2h0M1626.7 1099.7h0M1543.7 1220.3h0M1635.4 1202.8h0M1456 1183.9h0M1379.6 1207.8h0M1596.3 1116.7h0M1552.4 1061.5h0M1593.5 1133.2h0M1615 1152.3h0M1538.1 1311.4h0M1591.4 1109.1h0M1594.8 1196.5h0M1524.1 1179.5h0M1626.6 1107.2h0M1526.2 1124.9h0M1547 1163.2h0M1547.1 1314.5h0M1592.6 1270.2h0M1560.4 1272.7h0M1512.4 1076.4h0M1548.5 1170h0M1656.2 1360.6h0M1669.9 1165.4h0M1552.2 1080.1h0M1789.7 1088.4h0M1592 1319.8h0M1561.7 1062.9h0M1455.1 1173.5h0M1540.3 1058.6h0M1583 1021.8h0M1567 997.4h0M1559.9 1125.8h0M1597.2 1245.9h0M1754.4 1347.2h0M1694.4 1083h0M1655.1 997.5h0M1632.5 1064.7h0M1629.3 1160.9h0M1494.5 1155.2h0M1667.6 1112.2h0M1470 1121.5h0M1537 1213.3h0M1621 1293.2h0M1493.1 1099.7h0M1491 1206.9h0M1555.4 1180.8h0M1627.2 1224.9h0M1694.5 1044.6h0M1648.8 1336.6h0M1669.2 1177.7h0M1723 1076.9h0M1384.8 1188.1h0M1605.7 1180.8h0M1667.9 1273.1h0M1621.6 1130h0M1546.5 1142.9h0M1527.7 1239.5h0M1498.2 1267.4h0M1437.7 1155.2h0M1631.5 1200.2h0M1578.4 1195.8h0M1523.8 1195.5h0M1627.6 981.6h0M1589.6 1145.1h0M1591.2 1074.5h0M1707.8 1094.6h0M1426.6 1104.6h0M1567.2 1164.6h0M1554.7 1128.2h0M1504.7 1197h0M1609.4 1225.4h0M1563.8 991.8h0M1631.6 1099.7h0M1596.3 1093h0M1636.9 1271.9h0M1688.6 1207.3h0M1496.5 1141.3h0M1636.6 1052.1h0M1691.2 1153.2h0M1541.2 1173.4h0M1549.8 1077h0M1613.7 1300.6h0M1664.3 1171.7h0M1651.4 1306.3h0M1581.7 1149.9h0M1608.3 1148h0M1564 1242.6h0M1532.6 1125.5h0M1575.5 1178.5h0M1484.4 1206.8h0M1667.6 1184.6h0M1645.8 1236.5h0M1628.2 1011.7h0M1617.3 1218h0M1516 1107.5h0M1540.1 1168.9h0M1654.7 1100.6h0M1707.1 1180h0M1728 1280.5h0M1562.4 1107.4h0M1516.8 1137.3h0M1516.6 1192h0M1603.9 1146.9h0M1561.2 1039h0M1504 1220.8h0M1514.3 1279.8h0M1560.4 1192.1h0M1530 1175.5h0M1571.3 1107.1h0M1694.6 1016.4h0M1635.1 1070.9h0M1541.4 1124.5h0M1716.5 1233.5h0M1608.5 1065.5h0M1718.7 1132.3h0M1593.4 1173.7h0M1498.6 1208.4h0M1550.2 1169.6h0M1585.5 1221.7h0M1585.4 1063.1h0M1581.9 1221.1h0M1492.8 1116.5h0M1651.5 1252.9h0M1673.9 972.1h0M1507.7 1211.6h0M1553.1 1287.2h0M1528.7 1270h0M1518.5 1205.6h0M1487.3 1100h0M1685.4 1114.6h0M1692.5 1225.4h0M1561.1 1384.3h0M1502.9 1213.6h0M1558.5 1422h0M1604.6 1137.9h0M1593.9 1243.4h0M1476.1 1162.5h0M1572.9 1023.4h0M1518.6 1150.6h0M1438.8 1118.3h0M1468.2 1202.6h0M1549.2 1056.4h0M1578.7 1124.6h0M1663 1332.2h0M1489.3 1121h0M1742.6 1284.4h0M1672.3 1127.5h0M1673.4 1248.2h0M1623.1 1104.1h0M1617.4 1206.4h0M1804.3 1297.8h0M1694.4 1305.6h0M1677.6 1240.4h0M1527.3 1203h0M1590.1 1129.1h0M1506.7 1216.9h0M1604.6 1104.9h0M1501.1 1062.6h0M1570.4 1101.7h0M1507.1 1218.2h0M1564 1247.2h0M1691.1 1061.5h0M1619.9 1258.6h0M1478.7 1178.4h0M1583.5 1100.7h0M1752.6 1133.7h0M1611.6 1212.2h0M1429.9 1219.4h0M1539.7 1122.3h0M1694.6 1187.5h0M1539.1 1168.1h0M1758.2 1174.2h0M1806.3 1170.7h0M1848.8 1156.7h0M1750.1 1232h0M1679.5 1097h0M1836.6 1139.3h0M1794.6 1227.4h0M1774.1 1184.8h0M1768.3 1190.4h0M1850.5 1218.7h0M1796.4 1180h0M1783.9 1195.5h0M1812.4 1162.7h0M1891.3 1196.7h0M1799.9 1178.5h0M1886.1 1174.1h0M1926.8 1180.2h0M1858.8 1080.2h0M1901 1218.3h0M1893.2 1119.3h0M1851.9 1192.2h0M1885.8 1138.2h0M1714.3 1213.6h0M1803.3 1109.8h0M1790.9 1267.3h0M1847.6 1242.7h0M1735.6 1169.4h0M1729.2 1179.1h0M1829.7 1207.7h0M1797.6 1169h0M1778.1 1237.3h0M1880 1171.5h0M1813.4 1184.4h0M1802.3 1170.4h0M1800.6 1223.2h0M1801.3 1115.8h0M1771.2 1186h0M1816 1181.6h0M1658.6 1221.3h0M1840.1 1172.2h0M1731.7 1154.5h0M1790.7 1240.7h0M1874.1 1232.5h0M1954.6 1206.3h0M1744.4 1137.9h0M1828 1274.9h0M1862.8 1197h0M1839.1 1198.7h0M1777 1263.5h0M1809 1099.2h0M1739.1 1281.1h0M1734.3 1220.9h0M1830.8 1201.7h0M1812.4 1194.3h0M1793.7 1200.9h0M1755.9 1146.1h0M1882.1 1135h0M1779.5 1157.2h0M1694.1 1202.6h0M1781.3 1229.6h0M1736.3 1213.8h0M1873.9 1266h0M1846.1 1223.6h0M1816.6 1255.4h0M1790.4 1173.8h0M1880.1 1166.2h0M1808.6 1112.7h0M1870.1 1140.1h0M1746.6 1208.4h0M1809.8 1219.8h0M1802.8 1287.1h0M1861.7 1193.3h0M1866.5 1253.7h0M1776.8 1173.9h0M1819.7 1200.7h0M1747.6 1182.1h0M1759.4 1153.8h0M1833.3 1139.4h0M1765.7 1250.8h0M1824.5 1138.2h0M1728.8 1065.3h0M1760.3 1150.6h0M1812 1163h0M1734.1 1290.5h0M1782.1 1153.7h0M1852.4 1168.5h0M1838.4 1151.7h0M1818.9 1164.5h0M1784.9 1155.2h0M1869.2 1122.8h0M1709.3 1175.1h0M1870.1 1106.3h0M1748.9 1082.8h0M1809.2 1165.8h0M1905.5 1127.4h0M1848.1 1269.4h0M1829.4 1185.7h0M1792.9 1139.7h0M1863.9 1208.7h0M1857.7 1188.5h0M1727.3 1193.4h0M1800.1 1200.5h0M1856.7 1318.2h0M1735.7 1180.6h0M1872.8 1181.8h0M1824.4 1159.1h0M1841.3 1166.7h0M1930.2 1244.6h0M1806.3 1153.8h0M1795.9 1130.3h0M1840.7 1204.6h0M1770.8 1198.3h0M1835.4 1244.8h0M1716.1 1171.5h0M1900.7 1283.7h0M1872.2 1158.5h0M1859.7 1188.4h0M1793.6 1209.3h0M1819.3 1121.1h0M1769.2 1185h0M1730.7 1211.1h0M1812.7 1170.9h0M1800.5 1183.7h0M1836.6 1229.9h0M1790.8 1180.3h0M1845.6 1273.2h0M1814.5 1179.4h0M1765.5 1182.3h0M1862.4 1183.6h0M1821 1224.7h0M1887.5 1205.9h0M1859.3 1166.6h0M1823.9 1177.9h0M1794.8 1205.2h0M1864 1086h0M1822 1359h0M1774.3 1217.4h0M1809.2 1217.8h0M1841.2 1262.6h0M1768 1052h0M1819.8 1117.6h0M1880.7 1188.2h0M1820.3 1154.8h0M1846.5 1132h0M1838.1 1204.2h0M1814.9 1212.9h0M1802.2 1155h0M1813.1 1166.9h0M1750.5 1134.2h0M1778 1231h0M1752 1271.5h0M1862.2 1157.6h0M1885.2 1211h0M1782.9 1281.7h0M1825.8 1189.8h0M1845.2 1227.2h0M1822.6 1207.7h0M1872.6 1123.9h0M1783.7 1189.7h0M1856.3 1216.7h0M1733.3 1182.6h0M1784.6 1172.1h0M1804.9 1155h0M1758.4 1263.2h0M1850.6 1283.2h0M1772.1 1157.8h0M1811.7 1174.1h0M1854.3 1165.4h0M1819.7 1164.2h0M1728.5 1177.2h0M1814.1 1240.6h0M1820.9 1209.7h0M1738.9 1218.7h0M1806.3 1272.2h0M1779.9 1169.3h0M1741.2 1203.6h0M1737.2 1243.9h0M1813.2 1162.1h0M1809.4 1180h0M1879.7 1200.7h0M1805.3 1214.3h0M1794.9 1253.9h0M1795 1217h0M1904.9 1117h0M1864.1 1278.1h0M1731.1 1139.6h0M1785.4 1224.9h0M1906.1 1200.9h0M1827.2 1240.9h0M1810.3 1152.9h0M1813.5 1204h0M1863.9 1134.6h0M1855.1 1173.4h0M1712.6 1117.8h0M1829.9 1214.6h0M1801.1 1142.6h0M1768 1082.9h0M1822.6 1175.9h0M1770.9 1115.8h0M1795 1174.6h0M1880.7 1153.1h0M1728.1 1128.6h0M1831.9 1189.5h0M1861.1 1242.8h0M1798.4 1121.1h0M1713.5 1103.9h0M1756.5 1266.1h0M1772 1090.1h0M1745.2 1231.1h0M1734.4 1133.7h0M1784.7 1142.8h0M1782.9 1155.8h0M1809.6 1173.7h0M1836.9 1290.5h0M1719.6 1279.7h0M1879.1 1142.6h0M1784.4 1191.9h0M1713.8 1230.2h0M1747.7 1204.3h0M1840.8 1125h0M1820.9 1153.2h0M1801 1270h0M1798.3 1168.1h0M1798.7 1115.1h0M1790.3 1240.4h0M1947.6 1076.7h0M1704.3 1134.5h0M1805.9 1164.6h0M1806.8 1226.7h0M1774.3 1261.2h0M1828.8 1200.1h0M1828.7 1209.1h0M1840.6 1185h0M1819.1 1156.4h0M1886.8 1259.8h0M1846.4 1199.5h0M1817.4 1227.5h0M1805.7 1142.3h0M1798.4 1191.3h0M1792.8 1191.1h0M1829.1 1169.6h0M1828.8 1137.9h0M1725.9 1180.9h0M1878.9 1178.4h0M1810.2 1196.4h0M1812 1095.5h0M1820.1 1218.3h0M1834.8 1159.3h0M1897.5 1120.1h0M1751.6 1245.8h0M1779.3 1211.1h0M1807.8 1250h0M1833 1179.8h0M1814.3 1203.9h0M1737.2 1216.1h0M1786 1188.5h0M1782.5 1144.5h0M1863.3 1158h0M1819.5 1155h0M1883.7 1169.4h0M1743 1165.5h0M1774.4 1196.2h0M1813.3 1165.5h0M1798.6 1176.2h0M1784.8 1229.1h0M1820.2 1235.7h0M1800.8 1172.1h0M1805.6 1122h0M1820.6 1269.8h0M1739 1156.7h0M1914.8 1205.2h0M1797.3 1244.9h0M1801.8 1176.5h0M1869 1239.9h0M1812.4 1087.6h0M1743.6 1141.8h0M1843.3 1132.9h0M1784.2 1162.3h0M1702.8 1114.2h0M1908.8 1203.7h0M1815.5 1174h0M1781.4 1108.1h0M1740.7 1234.6h0M1903.6 1136.9h0M1731 1220.4h0M1820.9 1266.8h0M1821.9 1153.7h0M1828.3 1282.4h0M1810.5 1152.6h0M1830.8 1192.4h0M1757.5 1195.4h0M1782.1 1271.8h0M1805.9 1255.4h0M1756.7 1137.3h0M1828.4 1205h0M1923.8 1191.4h0M1889.1 1120h0M1792.7 1227.9h0M1842.7 1186.1h0M1766 1076h0M1769.2 1159.5h0M1795.3 1107.3h0M1778.7 1171.7h0M1773.3 1136.7h0M1888.4 1164.8h0M1841.7 1100.2h0M1811.3 1190.2h0M1798.5 1142.2h0M1801.5 1153.6h0M1835 1123.7h0M1772.9 1164.6h0M1797.8 1126.5h0M1823.9 1220.7h0M1788.4 1200.3h0M1809.2 1197.2h0M1781.2 1139.6h0M1767.9 1089.5h0M1781.9 1122.8h0M1770 1172h0M1817.9 1138h0M1759.7 1271.4h0M1804 1137.6h0M1865.1 1197h0M1809.4 1119.8h0M1805 1165.5h0M1826.9 1177.7h0M1851.8 1117.3h0M1796 1154.5h0M1764.2 1163.5h0M1839 1144.2h0M1887.3 1173.4h0M1791.6 1145.1h0M1783.7 1112.6h0M1886.4 1155.8h0M1842.9 1138.3h0M1812.1 1222.1h0M1832.5 1188h0M1845.8 1146.3h0M1864.7 1124.3h0M1731.9 1086.3h0M1776.3 1141.7h0M1788.6 1170.1h0M1742.9 1118h0M1797 1205.3h0M1764.8 1135.1h0M1856.2 1125.7h0M1745.1 1105.2h0M1764.6 1150.8h0M1752.3 1174.4h0M1812.6 1149.2h0M1766.9 1143.9h0M1751.8 1081.4h0M1836.5 1119.7h0M1817.8 1108h0M1855.2 1180.6h0M1815.2 1157h0M1711.8 1120.1h0M1825.4 1159.8h0M1815 1192.7h0M1806.4 1110.4h0M1864.2 1174.7h0M1828.5 1072.3h0M1769.5 1143.8h0M1836.9 1142.3h0M1756.7 1118.6h0M1815.6 1173.9h0M1754.8 1088.6h0M1771.9 1172.8h0M1783.4 1174.5h0M1857.7 1216.5h0M1838.1 1098h0M1850.6 1188.2h0M1882.5 1145.7h0M1755.6 1156.8h0M1775.2 1148h0M1762.9 1131.7h0M1770.6 1167.8h0M1799.2 1144.5h0M1789 1137.6h0M1837.9 1120.1h0M1815.1 1156.9h0M1776.4 1204.5h0M1877.8 1097.8h0M1809.9 1080h0M1849.2 1134.9h0M1777.5 1163.3h0M1862.8 1205.7h0M1871.5 1134.9h0M1783 1156.6h0M1743 1100.3h0M1837.1 1149.7h0M1780 1181.4h0M1837.9 1170.9h0M1733.1 1147.4h0M1795.3 1131.1h0M1865.9 1177.9h0M1776.2 1146.5h0M1824.1 1154.6h0M1749 1121.6h0M1814.8 1115.2h0M1778 1151.8h0M1803.8 1090.1h0M1771.5 1151.1h0M1781 1131.2h0M1798.3 1085.2h0M1846.4 1102h0M1766 1226h0M1812.5 1125.3h0M1836 1117.6h0M1619 1242.5h0M1659.5 1380.4h0M1511.9 1327.3h0M1634.2 1264.2h0M1627.6 1349.2h0M1682.8 1396.5h0M1524.3 1303h0M1536 1291.1h0M1601.8 1441.1h0M1591.1 1352.6h0M1664.5 1462h0M1586.2 1322.3h0M1758.1 1193h0M1678 1309h0M1512.5 1425.1h0M1674.7 1220.2h0M1614.4 1300.7h0M1646.6 1280.2h0M1621.5 1223.9h0M1643.1 1259.6h0M1724 1360.5h0M1691.9 1332.1h0M1644.7 1402.8h0M1665.8 1284.8h0M1728.9 1312.6h0M1613.7 1398.4h0M1585.4 1362.3h0M1623.1 1386.7h0M1632.5 1321.9h0M1558.8 1346.6h0M1684.7 1314.4h0M1513.7 1317.6h0M1531.1 1239.6h0M1581.9 1352.2h0M1673.9 1286.5h0M1710.2 1424.7h0M1409.6 1361.8h0M1671.8 1281h0M1639 1319.6h0M1632.1 1278h0M1597.4 1231.4h0M1650.8 1416.2h0M1622.8 1434.8h0M1566.9 1341.2h0M1741.1 1345.5h0M1568.5 1412.5h0M1647.2 1294.3h0M1657.4 1370h0M1544 1373.4h0M1596.5 1356.3h0M1655 1263.9h0M1599.7 1280.2h0M1493.7 1282.5h0M1709.7 1446.2h0M1614.6 1369h0M1679 1361.5h0M1643.4 1248.4h0M1414.1 1431h0M1483 1320.1h0M1630.2 1284.8h0M1647.8 1295.9h0M1467.5 1291.7h0M1571.6 1294.1h0M1591.9 1314.6h0M1713.3 1242.2h0M1680.3 1325.8h0M1592.5 1385.7h0M1733.2 1418.4h0M1544.8 1320.7h0M1609.1 1423.8h0M1596.8 1297.3h0M1524.4 1333.1h0M1588 1336.2h0M1601 1373.2h0M1583.8 1306.5h0M1667 1282.7h0M1539.7 1365h0M1560.3 1423.2h0M1660.1 1396.6h0M1629 1337.3h0M1539.3 1332.8h0M1600.5 1339.3h0M1557.1 1290.6h0M1586.8 1331.4h0M1632.6 1208.9h0M1685.5 1340.4h0M1543.4 1368.5h0M1554.6 1452.1h0M1712.4 1350.3h0M1675.7 1365.2h0M1521.2 1388.9h0M1657.2 1324.5h0M1601 1304.1h0M1747.2 1384.8h0M1668.5 1260h0M1648.3 1370.1h0M1490.8 1389.5h0M1655.3 1356.4h0M1626.5 1264.3h0M1568.9 1303.8h0M1557.3 1394.9h0M1583.4 1289.2h0M1706.3 1270h0M1632.9 1272.4h0M1634.4 1335.3h0M1702.4 1287.5h0M1601.8 1314.3h0M1655.4 1338.1h0M1657.4 1364.1h0M1676.9 1415h0M1687.5 1324h0M1619.1 1300.8h0M1570.5 1321.5h0M1592.7 1214.5h0M1630.7 1373.1h0M1534.1 1223.7h0M1646.3 1267.9h0M1711 1409.3h0M1632.4 1318h0M1532.6 1341.6h0M1623.6 1374.7h0M1672.5 1372.7h0M1644.5 1306.1h0M1628.4 1353.6h0M1710.4 1231.6h0M1493.2 1310h0M1555.4 1323.9h0M1752.7 1307.5h0M1671.9 1343.2h0M1699.3 1270.5h0M1585.5 1391.8h0M1685.5 1267h0M1636.6 1332.3h0M1579.1 1406.6h0M1751.3 1258.3h0M1583.8 1360.2h0M1620.2 1319h0M1808.1 1374.3h0M1672.4 1323.1h0M1704.9 1310.9h0M1505.5 1331.5h0M1505.3 1271.4h0M1684.8 1255.4h0M1658.5 1402.1h0M1709.4 1459h0M1641.2 1357.8h0M1606.9 1351.7h0M1727 1361.2h0M1689.8 1349.9h0M1566.1 1199.1h0M1526 1326.9h0M1749.8 1382.4h0M1641.2 1343.5h0M1604.5 1380.8h0M1622.5 1258.4h0M1648.3 1330.5h0M1629.2 1202.4h0M1730.1 1333.1h0M1660.6 1341.3h0M1490.5 1413h0M1711.7 1392.4h0M1574.9 1375.4h0M1616.7 1387.6h0M1629.4 1249.7h0M1508.8 1434.1h0M1686.9 1307.1h0M1752.2 1345.9h0M1522.7 1321.5h0M1478.3 1274.4h0M1711.8 1394.2h0M1526.3 1360.1h0M1565.4 1278.5h0M1534.6 1336.6h0M1654.2 1405.4h0M1612.6 1385.1h0M1570.8 1224.1h0M1541.7 1294.9h0M1486.7 1302.7h0M1645.4 1291.8h0M1585.8 1309.1h0M1674.5 1327.9h0M1541.5 1405.7h0M1503.1 1250.4h0M1588 1387.9h0M1599.3 1336.1h0M1485.8 1424.8h0M1605.3 1277.3h0M1462.1 1323.1h0M1794.8 1366.5h0M1525.5 1403.4h0M1703.6 1295.3h0M1643.1 1417.3h0M1643.2 1236h0M1707.4 1423.1h0M1633.3 1359.2h0M1465 1293.9h0M1532.4 1303.9h0M1544.1 1242.7h0M1531.2 1335.6h0M1488.6 1274.7h0M1616.5 1293.2h0M1589.4 1319h0M1609.6 1304.5h0M1738.5 1399.6h0M1578.7 1308.3h0M1499 1307.2h0M1502.9 1315.6h0M1591.5 1372.1h0M1562.5 1361.3h0M1501.9 1330.4h0M1620.7 1360.4h0M1522.3 1228.3h0M1744.7 1294.4h0M1675.4 1426.9h0M1620.6 1234.3h0M1668.8 1231.9h0M1696 1384h0M1653 1199.3h0M1555.4 1365.5h0M1582.5 1309.9h0M1546.8 1269.1h0M1567.5 1281.6h0M1553 1228.4h0M1584 1314.9h0M1675.1 1296.7h0M1645.1 1403.3h0M1660.6 1342.7h0M1566.1 1418.7h0M1663.4 1387h0M1611.5 1340.8h0M1564.7 1336.6h0M1559.8 1390.5h0M1505.7 1371h0M1599 1258h0M1570.7 1280.6h0M1640.2 1235.6h0M1591.2 1403.8h0M1781.4 1362.4h0M1621 1347.5h0M1627.3 1277.4h0M1676.5 1429.7h0M1656.5 1300.5h0M1648.7 1221.2h0M1511.4 1382.8h0M1615.8 1318.8h0M1650.7 1231.6h0M1655.6 1297.5h0M1469 1263.7h0M1630.7 1411.4h0M1569.4 1386.8h0M1662.7 1361.6h0M1630.6 1301.1h0M1601.1 1373.4h0M1551.9 1310.1h0M1719 1325.2h0M1631 1416.2h0M1714.8 1335.2h0M1682.4 1345.5h0M1416.2 1247.6h0M1553.9 1365h0M1592.4 1327.2h0M1518.4 1288.4h0M1678 1336.5h0M1614 1342.9h0M1666.1 1334.3h0M1639 1259.5h0M1673 1303.2h0M1550.1 1384.6h0M1751.8 1259h0M1592 1289.4h0M1554.5 1270.7h0M1536.2 1384h0M1623.1 1268.6h0M1666.6 1344.6h0M1464.4 1389.1h0M1558.1 1364.5h0M1637.8 1358.8h0M1509.6 1287.4h0M1613.1 1251.6h0M1563.5 1279h0M1496.2 1146.5h0M1590.7 1266.4h0M1395.5 1345.9h0M1433.8 1170.9h0M1608.9 1311.3h0M1536.3 1200.5h0M1583.4 1279h0M1594 1122.4h0M1548.8 1119.8h0M1577 1314.1h0M1449.2 1272.2h0M1386.9 1286.4h0M1586.7 1165.4h0M1544.2 1202.2h0M1439.4 1104.6h0M1542.3 1059.3h0M1580.2 1264.1h0M1580.4 1183.3h0M1544.3 1081.4h0M1416.1 1193.5h0M1484.2 1307.3h0M1494 1130.1h0M1346.8 1108.4h0M1542.2 1100.1h0M1454 1194.3h0M1633.5 1270.3h0M1430.1 1338.5h0M1491.3 1421.2h0M1551.2 1149h0M1405.3 1217.7h0M1433.4 1319.2h0M1634.8 1120.1h0M1585.1 1370.6h0M1429.8 1111.1h0M1558.2 1162.2h0M1646.9 1160.1h0M1496.2 1364.1h0M1364.1 1353.5h0M1477.5 1361.8h0M1643.3 1270.1h0M1652.1 1311.3h0M1447 1105.9h0M1463.2 1220.8h0M1653.8 1164.5h0M1359.8 1296.8h0M1595.5 1066h0M1622.1 1309.8h0M1477.1 1103.2h0M1483.3 1265.8h0M1520.7 1165.2h0M1426.5 1269.1h0M1501.9 1244.4h0M1578.6 1238.9h0M1328.5 1385.4h0M1516.2 1282h0M1638.5 1132.3h0M1472.6 1422.1h0M1395.7 1274.6h0M1421.1 1158.7h0M1483.4 1105.4h0M1566.8 1216.5h0M1606.5 1243.2h0M1621.1 1329.9h0M1629 1214.9h0M1422.4 1297.8h0M1461.8 1181.7h0M1376.2 1159.4h0M1471 1145.7h0M1425.2 1144.7h0M1535.2 1195.8h0M1619.8 1172.9h0M1483.8 1400.4h0M1501.9 1114.4h0M1472.1 1396.8h0M1441.4 1246.2h0M1611.9 1237.2h0M1620.3 1211.9h0M1405.3 1070.4h0M1584 1008.8h0M1658.2 1151.6h0M1380.4 1209.1h0M1522.2 1250.6h0M1657.4 1170.1h0M1538.1 1132.6h0M1642 1396.7h0M1342.1 1377.7h0M1625.2 1252.7h0M1519.2 1101h0M1446.6 1153.3h0M1608.6 1158.2h0M1502.1 1261.2h0M1341.3 1270.7h0M1525 1215h0M1510.4 1132.6h0M1470.7 1186.5h0M1501.8 1032.1h0M1447.6 1191h0M1559.9 1164.2h0M1412.8 1223h0M1582.2 1105.2h0M1530.3 1084.9h0M1611.8 1184.6h0M1496.7 1205.6h0M1607.3 1316.6h0M1344.2 1253.3h0M1471.4 1227.9h0M1396.1 1318.5h0M1642.8 1272.7h0M1556.9 1099.7h0M1656.8 1119h0M1336 1151.5h0M1368.1 1306.5h0M1642.5 1259.9h0M1660.8 1204.2h0M1563 1238.4h0M1562.7 1127.3h0M1566.4 1204.1h0M1566.7 1343.4h0M1577.5 1279.2h0M1470 1271.3h0M1468.3 1193.6h0M1530.8 1209.1h0M1563.5 1247.6h0M1651.9 1191.2h0M1435.2 1359.2h0M1491.3 1170h0M1635.9 1079h0M1385.6 1178.7h0M1401.7 1280.6h0M1426.6 1128.2h0M1660.5 1159.2h0M1369.9 1298.3h0M1645.7 1150.6h0M1489.5 1301.2h0M1638.4 1239.7h0M1477.5 1403.5h0M1661.8 1341.8h0M1623.5 1284.3h0M1662.1 1151.5h0M1404 1393.3h0M1449.9 1367.1h0M1438 1227.6h0M1572.5 1160.8h0M1374.4 1337.2h0M1591.4 1188.8h0M1552.8 1116.8h0M1419.5 1295.5h0M1540.3 1203.1h0M1457.5 1049h0M1450.8 1180h0M1393 1318.6h0M1596 1387.3h0M1473.3 1201.5h0M1355.6 1334.6h0M1464.4 1310.6h0M1481.7 1193.4h0M1427.5 1183.2h0M1502.4 1307.7h0M1492.6 1145.7h0M1570 1066.4h0M1653.3 1125.3h0M1555.4 1349.1h0M1356 1293.1h0M1360.5 1323.4h0M1483.9 1427.1h0M1356 1258.3h0M1373.6 1120.2h0M1525.3 1091.6h0M1473 1397.2h0M1453.2 1321.7h0M1558.9 1152.6h0M1346.8 1086.7h0M1524.5 1035.3h0M1549.2 1259.7h0M1362.5 1387.4h0M1551 1100.7h0M1388.4 1276.6h0M1450.3 1212.5h0M1474.9 1031.8h0M1622 1171.8h0M1471.7 1020.6h0M1362.2 1417.5h0M1566.5 1021.9h0M1498.5 1101.1h0M1609.2 1083h0M1657.8 1243.7h0M1526 1425.9h0M1358.7 1147.2h0M1487.6 1241.6h0M1337.9 1132.8h0M1491.4 1455.8h0M1587.7 1023.1h0M1519.3 1298h0M1355.6 1427.8h0M1530.5 1304.5h0M1526.8 1320.5h0M1432.3 1191.7h0M1374.3 1272.5h0M1502.1 1185.1h0M1354.9 1183.1h0M1613.1 1157.1h0M1660.4 1092.7h0M1428.2 1195.1h0M1533.2 1442h0M1482.9 1368.3h0M1480.3 1243.3h0M1345.3 1148.5h0M1429.4 1074.6h0M1612.5 1266.6h0M1657.9 1333h0M1404.3 1365.3h0M1390 1296.3h0M1533.2 1310.1h0M1459.6 1213.1h0M1413.9 1241.7h0M1610.5 1320.1h0M1363.9 1258.3h0M1477.1 1237.1h0M1535.7 1330.8h0M1489.1 1349.6h0M1609.2 1259.8h0M1379.8 1257.2h0M1555.6 1309h0M1418 1376.1h0M1598.7 1112.6h0M1552.1 1258.3h0M1448.6 1278.1h0M1448.4 1281.3h0M1646.5 1291.6h0M1655.1 1015.6h0M1405.1 1099.1h0M1553.5 1307.9h0M1455.5 1087.3h0M1497.3 1262.7h0M1339.6 1292.3h0M1512.2 1227h0M1597.4 1353.2h0M1366.3 1259.4h0M1504 1317h0M1513 1093h0M1582.6 1372.3h0M1407.8 1230.5h0M1568.5 1050.4h0M1434.1 1119.7h0M1596.2 1350.6h0M1392.7 1400.1h0M1584.9 1132.6h0M1493.2 1227.3h0M1619.4 1300.6h0M1446.7 1168.8h0M1387.3 1170.3h0M1581.5 1172.5h0M1638.2 1271.7h0M1626.1 1108.7h0M1409.9 1088.6h0M1541.8 1124.4h0M1620.6 1061.6h0M1660.4 1329.9h0M1641.3 1295.9h0M1615.3 1179.9h0M1590.5 1161.1h0M1421.1 1218.5h0M1582.1 1030.8h0M1381.5 1326.3h0M1357.1 1147.1h0M1652.9 1309.1h0M1513.6 1384.9h0M1385.6 1185.4h0M1484.2 1292.6h0M1587.6 1294h0M1427.9 1353.3h0M1401.6 1178.1h0M1397.8 1402.1h0M1633.2 1174.4h0M1633.3 1277.4h0M1463.6 1047.7h0M1648.2 1173.7h0M1661.3 1158.9h0M1637.5 1279.6h0M1511 1117.5h0M1332 1339.5h0M1489.6 1371.9h0M1471.4 1299.3h0M1330.4 1275.1h0M1540.2 1356.2h0M1535.1 1136.1h0M1513 1183.1h0M1610.7 1098.5h0M1617.7 1112.1h0M1379.7 1396.7h0M1506.9 1437h0M1608.7 1275.8h0M1462 1220.5h0M1397 1146.9h0M1631.9 1083.9h0M1656 1221.6h0M1605.5 1229.3h0M1483.7 1124.4h0M1487 1019.4h0M1488 1365.5h0M1635.2 1174.2h0M1626.7 1290.7h0M1423.8 1345h0M1581.6 1368.5h0M1619.2 1238.6h0M1640.8 1360.2h0M1487.9 1394.2h0M1578.7 1149.4h0M1396.7 1243.2h0M1419.4 1179h0M1607.9 1325.7h0M1367.2 1345.5h0M1561.2 1359.3h0M1416.5 1460.7h0M1509.5 1158.1h0M1525.9 1127.5h0M1551.4 1380.6h0M1435.5 1252.3h0M1467.4 1089.9h0M1651.9 1228.8h0M1647.5 1253.9h0M1469.5 1182.8h0M1626.9 1152.7h0M1564.3 1309.5h0M1659.7 1194h0M1592 1154.4h0M1647.2 1392.7h0M1554.1 1086h0M1560.1 1134.9h0M1415.7 1155.5h0M1600.5 1360.7h0M1439.2 1217.3h0M1350.1 1312.2h0M1597.9 1126.7h0M1559.6 1184.9h0M1546.2 1154.2h0M1590.3 1306.5h0M1376.3 1111.4h0M1627.8 1018.1h0M1581.9 1188.5h0M1537.9 1171.8h0M1618.1 1294.9h0M1647.4 1046.9h0M1597 1199.2h0M1441.6 1231.4h0M1560.4 1305.5h0M1524.3 1112.5h0M1445.3 1227.3h0M1367.5 1202.4h0M1541.4 1366.9h0M1574.6 1185.4h0M1598.1 1199.4h0M1613.8 1175.2h0M1435.2 1105.9h0M1640.5 1110h0M1447.8 1180.7h0M1419.3 1340.9h0M1499.3 1336.2h0M1636.9 1181.6h0M1384.1 1450.9h0M1624 1088.8h0M1383.8 1065h0M1508.2 1280.2h0M1470.8 1280.1h0M1400.2 1206.8h0M1422.9 1332.4h0M1637.6 1106.3h0M1432.6 1155.9h0M1513.8 1234h0M1337.7 1302.8h0M1540.6 1105.6h0M1652.5 1200.5h0M1495.3 1214.6h0M1421.5 1293.6h0M1617.9 1184.1h0M1579.5 1045.7h0M1645.8 1388.5h0M1455.7 1281.2h0M1581.9 1368.6h0M1410.1 1168.5h0M1492.1 1287.3h0M1610.9 1237.8h0M1527.7 1181.6h0M1589.4 1295h0M1520.1 1136.3h0M1466 1084.8h0M1654.5 1167.7h0M1558.7 1289.3h0M1367.7 1008.9h0M1464.7 1172.7h0M1479 1226.5h0M1457.9 1209.9h0M1477.5 1352h0M1627.2 1223.5h0M1459.4 1347.3h0M1546.4 1039h0M1452.1 1346h0M1449.6 1219.7h0M1500.7 1118.1h0M1543.5 1298.9h0M1578.1 1329.9h0M1546.1 1357.1h0M1580 1301.6h0M1542.8 1257.7h0M1588.2 1325h0M1514.8 1095.9h0M1617.7 1245.2h0M1549.7 1341.7h0M1481.3 1264.9h0M1366.1 1309.2h0M1660.8 1211.8h0M1458.5 1324.2h0M1546 1188.3h0M1516.6 1350.8h0M1635.8 1305.7h0M1561.7 1312.1h0M1426.1 1282.2h0M1503.6 1249.3h0M1553.5 1277.2h0M1480.7 1179.3h0M1531 1195.4h0M1516.4 1380h0M1559.4 1321.9h0M1463.6 1191.8h0M1396.2 1264.1h0M1487.2 1246.6h0M1583.7 1225.5h0M1528.1 1247.6h0M1374.5 1429h0M1379.8 1182h0M1574.5 1200.4h0M1342.6 1385.2h0M1533 1268.8h0M1437.1 1347.3h0M1479.9 1097.8h0M1407.6 1206.2h0M1661 1331.8h0M1627.3 1241.2h0M1638.3 1233.4h0M1598.1 1238.8h0M1472.5 1226.5h0M1502.5 1212.5h0M1588 1236.1h0M1523.1 1230.9h0M1647.4 1295.5h0M1370 1245.6h0M1452 1232h0M1440.7 1275.4h0M1646.4 1226.1h0M1470.9 1290.7h0M1658.6 1098.7h0M1548.6 1360.9h0M1445.3 1342.4h0M1615.4 1366.2h0M1479.7 1312.7h0M1455.8 1230.7h0M1365.8 1252.3h0M1350.5 1377.4h0M1346 1023h0M1539.5 1243h0M1379 1212.7h0M1412.7 1163h0M1648.1 1367.4h0M1434 1193.8h0M1358.9 1052.8h0M1425.9 1178.8h0M1379.9 1162.5h0M1604.4 1057.2h0M1578.1 1250.7h0M1587.1 1346.8h0M1346.6 1359.1h0M1441.8 1103.1h0M1563.2 1165.5h0M1408.6 1341.6h0M1458.4 1320.1h0M1457.6 1202.8h0M1389.9 1132.9h0M1346.4 1182.4h0M1511.1 1287h0M1466.7 1204.8h0M1660.8 1195.7h0M1380.3 1430h0M1610.5 1223.7h0M1529 1069.6h0M1546.9 1344.5h0M1550.7 1301.9h0M1333.6 1093.1h0M1393.1 1176.6h0M1654.8 1041h0M1410 1412.6h0M1513.4 1252.5h0M1415.3 1264.6h0M1533.3 1057.6h0M1656.4 1247h0M1652.9 1054.2h0M1564.9 1190.1h0M1610.2 1303.6h0M1629.5 1301.4h0M1454.3 1378.3h0M1376.1 1391.2h0M1356.8 1261.9h0M1608.3 1258.3h0M1660.4 1284.4h0M1634.9 1325.7h0M1653.9 1338.8h0M1457.5 1079.8h0M1517 1275.8h0M1542.3 1217.9h0M1598.6 1161.2h0M1660.9 1251h0M1473 1269.9h0M1332.6 1198.4h0M1511.1 1342.8h0M1377 1106.6h0M1621.2 1389.4h0M1526.2 1223.3h0M1531.2 1106.8h0M1610.7 1246.2h0M1406.9 1208.2h0M1397.9 1366.9h0M1621.8 1320.7h0M1430 1196.9h0M1478.5 1160.3h0M1457.7 1223.7h0M1468.9 1171h0M1601.3 1176.6h0M1430.1 1206.7h0M1651.4 1130.5h0M1610.5 1310.3h0M1516.9 1310.8h0M1494.6 1270.2h0M1571.2 1129.1h0M1364.3 1349h0M1417.5 1161.8h0M1475 1279.4h0M1489.8 1398.4h0M1659.7 1080.5h0M1575.7 1065.7h0M1660.3 1313.1h0M1586.3 1258.4h0M1550.7 1278.1h0M1612.3 1239.8h0M1649.1 1122.2h0M1651.3 1292.1h0M1590.3 1175.3h0M1594.8 1404.5h0M1532.8 1199.9h0M1542.8 1231.7h0M1438.4 1177h0M1610.1 1270.4h0M1490.6 1308.9h0M1455.8 1183.1h0M1562 1143.8h0M1404.2 1264.1h0M1414.1 1085h0M1620.3 1098.9h0M1515.2 1175.8h0M1648.6 1314.6h0M1582.4 1209.8h0M1628.1 1205.7h0M1609.9 1179.9h0M1540.9 1144.8h0M1652.1 1078.8h0M1332.9 1069.6h0M1653.6 1127.1h0M1471 1198.9h0M1429 1215.5h0M1520.5 1338h0M1410.7 1396.2h0M1637.3 1114.6h0M1584.3 1283h0M1595.2 1388.2h0M1397.7 1309.6h0M1553 1309.8h0M1477.3 1292.2h0M1450.2 1283.7h0M1477.3 1089.3h0M1490.8 1210.1h0M1387.2 1365.5h0M1536.9 1313.4h0M1508.9 1114.7h0M1392.2 1107.1h0M1615.1 1283.7h0M1503.8 1248.2h0M1642.3 1283.5h0M1533.3 1182.3h0M1485.3 1275.5h0M1661.3 1290.8h0M1582.6 1422.4h0M1532.4 1196.9h0M1355 1282.5h0M1503.6 1156.6h0M1562.9 1333.6h0M1479 1098.7h0M1385.9 1251h0M1471.6 1177.4h0M1415.4 1216.1h0M1470.5 1120.5h0M1622.6 1149.6h0M1644.6 1132h0M1583.3 1210.8h0M1648 1192.6h0M1629.6 1175.3h0M1531.6 1159.5h0M1532.4 1123.9h0M1484.9 1094.3h0M1594.6 1317.2h0M1596.3 1410.2h0M1628.9 1243.1h0M1374.9 1238.4h0M1601.5 1274.2h0M1407.2 1347h0M1462.8 1121.4h0M1416.1 1274.7h0M1358.8 1215.4h0M1540.7 1311.4h0M1657.6 1215.9h0M1625.2 1077h0M1337.1 1204.2h0M1474.8 1162.1h0M1468.2 1053.1h0M1499.4 1291.5h0M1601.1 1069.2h0M1408.4 1333.2h0M1432.7 1130.6h0M1368.7 1321.9h0M1604.3 1306.6h0M1543 1139.8h0M1518.5 1018.6h0M1442.2 1235.4h0M1491.3 1317.9h0M1661.3 1433.8h0M1349.3 1144.7h0M1479.9 1445.4h0M1506.2 1035h0M1364.7 1169.2h0M1426.2 1215.3h0M1426.2 1329.3h0M1652.1 1342.2h0M1450.6 1356.6h0M1617.2 1164.4h0M1562.7 1227.8h0M1608 1028.9h0M1644.8 1372.1h0M1562 1210h0M1596.5 1053.1h0M1638.9 1253h0M1530 1317.6h0M1651.5 1342h0M1490.4 1170.5h0M1418.9 1230.2h0M1608.8 1361.1h0M1439.4 1176.7h0M1379 1116h0M1637.3 1274.3h0M1531.5 1215.6h0M1523.5 1108h0M1529.7 1236.9h0M1429.1 1243.6h0M1657.2 1204.5h0M1350.9 1435.3h0M1435.4 1171.5h0M1638.8 1379.2h0M1604.1 1331h0M1470.4 1271.7h0M1378.7 1072h0M1343.7 1216.6h0M1528.1 1262.3h0M1531 1042h0M1510.7 1333.5h0M1471.3 1305.2h0M1603.7 1170h0M1381 1108h0M1552.4 1138.7h0M1602.1 1428.2h0M1388.6 1213.8h0M1532.3 1239.5h0M1348.8 1251.7h0M1652.8 1117.2h0M1413.9 1138.3h0M1407.1 1160.3h0M1403.8 1441h0M1490.9 1208.6h0M1504.1 1346.1h0M1601.7 1089.1h0M1662.3 1281.9h0M1614.3 1410.6h0M1603.2 1136.6h0M1608.6 1124.4h0M1380.9 1287.5h0M1488.2 1108.5h0M1593.8 1081.9h0M1515.5 1140.2h0M1334 1057.7h0M1601 1157.8h0M1516.6 1140.5h0M1604.5 1162.4h0M1552.7 1247.4h0M1377.7 1153.3h0M1542.3 1139.1h0M1591.8 1153.9h0M1583.8 1378.8h0M1459.4 1229.9h0M1411.9 1205.8h0M1503.3 1300.2h0M1427.4 1313.1h0M1609 1326.8h0M1476.5 1218h0M1501 1198.9h0M1383.6 1400.3h0M1568.4 1184.8h0M1473.5 1303.7h0M1658.6 1302.2h0M1557.6 1010.6h0M1362.8 1399.8h0M1445.3 1348.6h0M1492.4 1140.1h0M1512 1381.8h0M1368.1 1187.5h0M1562.3 1266.5h0M1406.3 1240.8h0M1479.7 1276.9h0M1658.8 1180.4h0M1548.4 1234.5h0M1632.2 1050.5h0M1403.4 1199.7h0M1471.3 1301.8h0M1483.5 1423.2h0M1511.7 1379.5h0M1644.5 1073.9h0M1410.2 1211.3h0M1330 1198.6h0M1579 1081.5h0M1540.9 1250.5h0M1591.8 1060.3h0M1624.7 1335.3h0M1485 1119.8h0M1506.5 1133.4h0M1360.6 1151.8h0M1531.8 1287.1h0M1613.2 1072h0M1589.3 1097.3h0M1508.1 1166.9h0M1626.1 1234.8h0M1429.4 1116.4h0M1529.9 1302.6h0M1413.3 1280h0M1650.4 1319.2h0M1467.2 1128.5h0M1520.4 1078.7h0M1425.6 1042.2h0M1492.8 1179.9h0M1361.7 1111.9h0M1543.7 1366.4h0M1508.7 1276.8h0M1464.2 1103.6h0M1659.4 1170.5h0M1615.6 1218.8h0M1405.8 1042.4h0M1441.2 1331.1h0M1434.4 1292.1h0M1612.5 1216.2h0M1518.4 1051.5h0M1397.1 1163h0M1583.4 1110.9h0M1555.2 1155.6h0M1526.7 1352.9h0M1393.6 1228.1h0M1456.1 1370.3h0M1546.1 1060.7h0M1372.5 1167.2h0M1465.9 1343.8h0M1336.8 1120.4h0M1370.4 1274h0M1374.6 1305.4h0M1558.4 1420.2h0M1586.2 1117.2h0M1469.4 1326.3h0M1376.3 1263.2h0M1385.7 1323.5h0M1575.9 1263h0M1462.6 1070.4h0M1661.4 1082h0M1429.4 1064.6h0M1501.8 1130.6h0M1417 1306.7h0M1616.1 1243.9h0M1545.8 1151.9h0M1600.6 1244h0M1390.1 1011.7h0M1484.4 1028.3h0M1548.6 1166.4h0M1397.2 1171.4h0M1623.3 1007.6h0M1414.6 1197.9h0M1537.6 1134.2h0M1505.7 1165.3h0M1497.5 1333h0M1347.3 1087.4h0M1460.7 1286.5h0M1370.5 1234.7h0M1598.3 1202.3h0M1429.1 1201.8h0M1649.9 1199h0M1437.5 1268.1h0M1656.4 1317.5h0M1494.1 1190.8h0M1509.6 1164.7h0M1652.6 1297.1h0M1489.6 1175.2h0M1381.2 1172.4h0M1431 1111h0M1352.9 1330h0M1377.9 1349h0M1448.5 1195.8h0M1538.3 1316.9h0M1373.3 1360.3h0M1334.1 1298.8h0M1655.9 1301.6h0M1641.5 1099.3h0M1447.8 1204.1h0M1544.4 1405.6h0M1610 1247.7h0M1333.4 1138.2h0M1572.3 1092.3h0M1450 1213.2h0M1442.6 1213.3h0M1647.7 1231h0M1400 1294.9h0M1640.1 1258h0M1496 1160.2h0M1366.2 1200h0M1350.1 1344.2h0M1465.2 1304h0M1400.2 1172.9h0M1662.1 1138.5h0M1460.5 1425.4h0M1435.5 1129.8h0M1562.1 1131.6h0M1366.9 1353.9h0M1560.2 1222h0M1541.3 1160.3h0M1487.3 1188.5h0M1360.4 1432.3h0M1633.1 1238.7h0M1504.7 1178.5h0M1542.7 1292.1h0M1614.4 1409.3h0M1608.4 1281.5h0M1519.5 1361.3h0M1601.7 1377.1h0M1635.7 1387.8h0M1582.4 1118.1h0M1622.5 1453.1h0M1436.9 1363.9h0M1435.9 1164.2h0M1535.8 1113.3h0M1496 1229.4h0M1377.1 1338.8h0M1484 1234.7h0M1328.3 1128.4h0M1600.4 1036.4h0M1443.8 1205h0M1561.1 1304.1h0M1595.5 1194.1h0M1550.6 1385.2h0M1623.8 1237.6h0M1509.5 1075h0M1357.2 1332.9h0M1485.6 1339.7h0M1444.5 1171.5h0M1468.4 1312.7h0M1539.9 1307.6h0M1564.5 1180.3h0M1446.7 1110.2h0M1659.1 1351.2h0M1467.5 1044.5h0M1658.3 1235.7h0M1643.1 1064h0M1625.1 1142.1h0M1448.9 1219.8h0M1495.2 1161.2h0M1429.6 1220.6h0M1566 1098.4h0M1633.9 1017.4h0M1348.7 1308.1h0M1641.8 1289.2h0M1393.9 1351.1h0M1503.3 1214.3h0M1642.9 1249.5h0M1554.4 1167.3h0M1467.1 1402.1h0M1479 1251.1h0M1545 1052.3h0M1622.9 1117.3h0M1394.3 1155.4h0M1560.9 1183.8h0M1423.2 1240.8h0M1608.5 1364.6h0M1426.4 896.8h0M1475.8 896.8h0M1676.7 896.8h0M1753 896.8h0M1528.2 873.8h0M1566.7 916.9h0M1620.5 916.9h0M1659.7 916.9h0M1569.5 948.5h0M1603.9 948.5h0M1717.2 974.4h0" stroke="#1b84c0" stroke-width="8.6" stroke-linecap="round" fill="none"/>
<path d="M1324.7 839.4L1324.7 1471.5" stroke="#ee7676" stroke-width="4.8"/>
<path d="M1764.4 839.4L1764.4 1471.5" stroke="#ee7676" stroke-width="4.8"/>
<path d="M1249.9 1241.6L2001.4 1241.6" stroke="#ee7676" stroke-width="4.8"/>
<path d="M1249.9 1471.5L1259.9 1471.5M2001.4 1471.5L1991.4 1471.5M1249.9 1414L1254.9 1414M2001.4 1414L1996.4 1414M1249.9 1356.6L1259.9 1356.6M2001.4 1356.6L1991.4 1356.6M1249.9 1299.1L1254.9 1299.1M2001.4 1299.1L1996.4 1299.1M1249.9 1241.6L1259.9 1241.6M2001.4 1241.6L1991.4 1241.6M1249.9 1184.2L1254.9 1184.2M2001.4 1184.2L1996.4 1184.2M1249.9 1126.7L1259.9 1126.7M2001.4 1126.7L1991.4 1126.7M1249.9 1069.2L1254.9 1069.2M2001.4 1069.2L1996.4 1069.2M1249.9 1011.7L1259.9 1011.7M2001.4 1011.7L1991.4 1011.7M1249.9 954.3L1254.9 954.3M2001.4 954.3L1996.4 954.3M1249.9 896.8L1259.9 896.8M2001.4 896.8L1991.4 896.8M1272.3 1471.5L1272.3 1466.5M1272.3 839.4L1272.3 844.4M1291.9 1471.5L1291.9 1466.5M1291.9 839.4L1291.9 844.4M1309.2 1471.5L1309.2 1466.5M1309.2 839.4L1309.2 844.4M1324.7 1471.5L1324.7 1461.5M1324.7 839.4L1324.7 849.4M1426.4 1471.5L1426.4 1466.5M1426.4 839.4L1426.4 844.4M1486 1471.5L1486 1466.5M1486 839.4L1486 844.4M1528.2 1471.5L1528.2 1466.5M1528.2 839.4L1528.2 844.4M1561 1471.5L1561 1466.5M1561 839.4L1561 844.4M1587.7 1471.5L1587.7 1466.5M1587.7 839.4L1587.7 844.4M1610.3 1471.5L1610.3 1466.5M1610.3 839.4L1610.3 844.4M1629.9 1471.5L1629.9 1466.5M1629.9 839.4L1629.9 844.4M1647.2 1471.5L1647.2 1466.5M1647.2 839.4L1647.2 844.4M1662.7 1471.5L1662.7 1461.5M1662.7 839.4L1662.7 849.4M1764.4 1471.5L1764.4 1466.5M1764.4 839.4L1764.4 844.4M1824 1471.5L1824 1466.5M1824 839.4L1824 844.4M1866.2 1471.5L1866.2 1466.5M1866.2 839.4L1866.2 844.4M1899 1471.5L1899 1466.5M1899 839.4L1899 844.4M1925.7 1471.5L1925.7 1466.5M1925.7 839.4L1925.7 844.4M1948.3 1471.5L1948.3 1466.5M1948.3 839.4L1948.3 844.4M1967.9 1471.5L1967.9 1466.5M1967.9 839.4L1967.9 844.4M1985.2 1471.5L1985.2 1466.5M1985.2 839.4L1985.2 844.4M2000.7 1471.5L2000.7 1461.5M2000.7 839.4L2000.7 849.4" stroke="#000" stroke-width="4.3" fill="none"/>
<rect x="1249.9" y="839.4" width="751.5" height="632.1" fill="none" stroke="#000" stroke-width="4.5"/>
<text x="1238" y="1487.5" text-anchor="end" style="font-size:54px;">0</text>
<text x="1238" y="1372.6" text-anchor="end" style="font-size:54px;">40</text>
<text x="1238" y="1257.6" text-anchor="end" style="font-size:54px;">80</text>
<text x="1238" y="1142.7" text-anchor="end" style="font-size:54px;">120</text>
<text x="1238" y="1027.7" text-anchor="end" style="font-size:54px;">160</text>
<text x="1238" y="912.8" text-anchor="end" style="font-size:54px;">200</text>
<text x="1322.4" y="1527.4" text-anchor="middle" style="font-size:54px;">0.1</text>
<text x="1662.7" y="1527.4" text-anchor="middle" style="font-size:54px;">1</text>
<text x="1998.7" y="1527.4" text-anchor="middle" style="font-size:54px;">10</text>
<text x="1529" y="1578.2" text-anchor="start" style="font-size:53px;font-weight:bold;">E<tspan dy="12" style="font-size:37px">g</tspan><tspan dy="-12" dx="-4"> (eV)</tspan></text>
<text x="1141.8" y="1155" text-anchor="middle" style="font-size:53.5px;font-weight:bold;" transform="rotate(-90 1141.8 1155)">Average atomic weight</text>
<path d="M200.3 2173.9L210.3 2173.9M200.3 2129.7L205.3 2129.7M200.3 2085.4L210.3 2085.4M200.3 2041.1L205.3 2041.1M200.3 1996.9L210.3 1996.9M200.3 1952.6L205.3 1952.6M200.3 1908.4L210.3 1908.4M200.3 1864.1L205.3 1864.1M200.3 1819.8L210.3 1819.8M200.3 1775.6L205.3 1775.6M200.3 1731.3L210.3 1731.3M200.3 1687L205.3 1687M200.3 1642.8L210.3 1642.8M245.6 2218.2L245.6 2208.2M291 2218.2L291 2213.2M336.3 2218.2L336.3 2208.2M381.6 2218.2L381.6 2213.2M426.9 2218.2L426.9 2208.2M472.3 2218.2L472.3 2213.2M517.6 2218.2L517.6 2208.2M562.9 2218.2L562.9 2213.2M608.3 2218.2L608.3 2208.2M653.6 2218.2L653.6 2213.2M698.9 2218.2L698.9 2208.2M744.3 2218.2L744.3 2213.2M789.6 2218.2L789.6 2208.2M834.9 2218.2L834.9 2213.2M880.2 2218.2L880.2 2208.2M925.6 2218.2L925.6 2213.2" stroke="#000" stroke-width="4.3" fill="none"/>
<rect x="200.3" y="1598.5" width="770.6" height="619.7" fill="none" stroke="#000" stroke-width="4.5"/>
<g fill="url(#gb5)"><circle cx="538.6" cy="1665.8" r="9.6"/><circle cx="541.4" cy="1773.8" r="9.6"/><circle cx="393.7" cy="1951.3" r="9.6"/><circle cx="803.5" cy="2013.3" r="9.6"/><circle cx="416.8" cy="2047.8" r="9.6"/><circle cx="499.9" cy="2038" r="9.6"/><circle cx="711.2" cy="2043.8" r="9.6"/><circle cx="671.3" cy="2057.5" r="9.6"/><circle cx="291.5" cy="2137.2" r="9.6"/><circle cx="296.7" cy="2144.7" r="9.6"/><circle cx="400" cy="2173.1" r="9.6"/><circle cx="412.7" cy="2173.1" r="9.6"/><circle cx="403.5" cy="2096.9" r="9.6"/><circle cx="884.9" cy="2104.4" r="9.6"/><circle cx="416.5" cy="2048.2" r="9.6"/><circle cx="440.1" cy="2049.1" r="9.6"/><circle cx="440.1" cy="2067.7" r="9.6"/><circle cx="457" cy="2064.6" r="9.6"/><circle cx="477.3" cy="2067.7" r="9.6"/><circle cx="442.4" cy="2086.3" r="9.6"/><circle cx="458.2" cy="2079.7" r="9.6"/><circle cx="402.9" cy="2096.5" r="9.6"/><circle cx="426.6" cy="2108.9" r="9.6"/><circle cx="448" cy="2112.9" r="9.6"/><circle cx="472.8" cy="2092" r="9.6"/><circle cx="495.4" cy="2100" r="9.6"/><circle cx="527" cy="2072.6" r="9.6"/><circle cx="546.1" cy="2059.3" r="9.6"/><circle cx="531.5" cy="2082.8" r="9.6"/><circle cx="545.1" cy="2081.9" r="9.6"/><circle cx="559.6" cy="2092.9" r="9.6"/><circle cx="436.8" cy="2164.2" r="9.6"/><circle cx="449.3" cy="2158.4" r="9.6"/><circle cx="477.3" cy="2167.3" r="9.6"/><circle cx="521.3" cy="2149.6" r="9.6"/><circle cx="424.2" cy="2138.1" r="9.6"/><circle cx="388.3" cy="2132.3" r="9.6"/><circle cx="559.6" cy="2129.2" r="9.6"/><circle cx="556.3" cy="2116.8" r="9.6"/><circle cx="436" cy="2143" r="9.6"/><circle cx="463.2" cy="2129.7" r="9.6"/><circle cx="485.9" cy="2138.5" r="9.6"/><circle cx="508.5" cy="2116.4" r="9.6"/><circle cx="535.7" cy="2103.1" r="9.6"/><circle cx="490.4" cy="2156.2" r="9.6"/><circle cx="513.1" cy="2165.1" r="9.6"/><circle cx="544.8" cy="2143" r="9.6"/><circle cx="467.7" cy="2151.8" r="9.6"/><circle cx="804" cy="2012.8" r="9.6"/><circle cx="672.7" cy="2057.5" r="9.6"/><circle cx="712.9" cy="2044.2" r="9.6"/><circle cx="766.7" cy="2079.7" r="9.6"/><circle cx="834.6" cy="2100" r="9.6"/><circle cx="859.5" cy="2107.5" r="9.6"/><circle cx="886.3" cy="2104.9" r="9.6"/><circle cx="800.1" cy="2087.2" r="9.6"/><circle cx="815.5" cy="2097.8" r="9.6"/><circle cx="704.3" cy="2101.8" r="9.6"/><circle cx="715.8" cy="2111.5" r="9.6"/><circle cx="654.5" cy="2082.8" r="9.6"/><circle cx="698.6" cy="2090.3" r="9.6"/><circle cx="727.3" cy="2092" r="9.6"/><circle cx="735.1" cy="2170.8" r="9.6"/><circle cx="745.6" cy="2171.7" r="9.6"/><circle cx="782.9" cy="2169.1" r="9.6"/><circle cx="804" cy="2162.4" r="9.6"/><circle cx="823.1" cy="2168.2" r="9.6"/><circle cx="880.5" cy="2161.1" r="9.6"/><circle cx="905.5" cy="2149.6" r="9.6"/><circle cx="859.5" cy="2153.6" r="9.6"/><circle cx="664.1" cy="2147.8" r="9.6"/><circle cx="706.2" cy="2143.8" r="9.6"/><circle cx="712" cy="2159.3" r="9.6"/><circle cx="830.8" cy="2143.8" r="9.6"/><circle cx="846.2" cy="2138.1" r="9.6"/><circle cx="658.1" cy="2116.4" r="9.6"/><circle cx="680.8" cy="2129.7" r="9.6"/><circle cx="726.1" cy="2125.2" r="9.6"/><circle cx="753.3" cy="2134.1" r="9.6"/><circle cx="780.5" cy="2156.2" r="9.6"/><circle cx="807.7" cy="2129.7" r="9.6"/><circle cx="834.9" cy="2120.8" r="9.6"/><circle cx="871.2" cy="2138.5" r="9.6"/><circle cx="898.4" cy="2129.7" r="9.6"/><circle cx="676.3" cy="2156.2" r="9.6"/><circle cx="721.6" cy="2143" r="9.6"/><circle cx="789.6" cy="2143" r="9.6"/><circle cx="844" cy="2160.7" r="9.6"/><circle cx="762.4" cy="2112" r="9.6"/></g>
<g fill="url(#gr)"><circle cx="423.1" cy="1867.6" r="9.6"/><circle cx="850.9" cy="1794.6" r="9.6"/><circle cx="749.8" cy="1966.8" r="9.6"/><circle cx="812.7" cy="1947.7" r="9.6"/><circle cx="662.7" cy="2006.2" r="9.6"/><circle cx="671.3" cy="2017.7" r="9.6"/><circle cx="704.2" cy="2029.2" r="9.6"/><circle cx="441.6" cy="2038.9" r="9.6"/><circle cx="538.6" cy="2044.7" r="9.6"/><circle cx="558.8" cy="2066.4" r="9.6"/><circle cx="351" cy="2133.2" r="9.6"/><circle cx="381" cy="2127.5" r="9.6"/><circle cx="520.1" cy="2092" r="9.6"/><circle cx="462.7" cy="2103.1" r="9.6"/><circle cx="474" cy="2103.1" r="9.6"/><circle cx="493.1" cy="2107.5" r="9.6"/><circle cx="508.9" cy="2106.7" r="9.6"/><circle cx="524.7" cy="2108.9" r="9.6"/><circle cx="540.5" cy="2101.8" r="9.6"/><circle cx="493.1" cy="2117.7" r="9.6"/><circle cx="506.7" cy="2123.5" r="9.6"/><circle cx="517.9" cy="2127" r="9.6"/><circle cx="533.7" cy="2123.5" r="9.6"/><circle cx="556.3" cy="2117.7" r="9.6"/><circle cx="426.6" cy="2127.9" r="9.6"/><circle cx="436.8" cy="2132.3" r="9.6"/><circle cx="448" cy="2139.4" r="9.6"/><circle cx="457" cy="2127" r="9.6"/><circle cx="468.3" cy="2133.7" r="9.6"/><circle cx="466.1" cy="2157.1" r="9.6"/><circle cx="469.5" cy="2146.9" r="9.6"/><circle cx="490.9" cy="2157.1" r="9.6"/><circle cx="499.9" cy="2143.8" r="9.6"/><circle cx="502.1" cy="2172.2" r="9.6"/><circle cx="520.1" cy="2165.1" r="9.6"/><circle cx="540.5" cy="2135.9" r="9.6"/><circle cx="558.6" cy="2144.7" r="9.6"/><circle cx="554" cy="2133.7" r="9.6"/><circle cx="656.4" cy="2073" r="9.6"/><circle cx="689" cy="2070.4" r="9.6"/><circle cx="686.1" cy="2084.5" r="9.6"/><circle cx="658.3" cy="2092" r="9.6"/><circle cx="666" cy="2101.8" r="9.6"/><circle cx="679.4" cy="2101.8" r="9.6"/><circle cx="652.6" cy="2113.3" r="9.6"/><circle cx="658.3" cy="2124.8" r="9.6"/><circle cx="670.8" cy="2126.6" r="9.6"/><circle cx="689" cy="2120.8" r="9.6"/><circle cx="704.3" cy="2124.8" r="9.6"/><circle cx="658.3" cy="2139.4" r="9.6"/><circle cx="689" cy="2139.4" r="9.6"/><circle cx="658.3" cy="2157.6" r="9.6"/><circle cx="679.4" cy="2166" r="9.6"/><circle cx="747.4" cy="2086.3" r="9.6"/><circle cx="731.2" cy="2109.3" r="9.6"/><circle cx="747.4" cy="2111.5" r="9.6"/><circle cx="761.8" cy="2096" r="9.6"/><circle cx="765.7" cy="2107.5" r="9.6"/><circle cx="730.2" cy="2126.6" r="9.6"/><circle cx="748.4" cy="2128.8" r="9.6"/><circle cx="765.7" cy="2126.6" r="9.6"/><circle cx="727.3" cy="2143.8" r="9.6"/><circle cx="719.7" cy="2159.3" r="9.6"/><circle cx="750.3" cy="2142.1" r="9.6"/><circle cx="756.1" cy="2157.6" r="9.6"/><circle cx="784.8" cy="2092" r="9.6"/><circle cx="788.6" cy="2101.8" r="9.6"/><circle cx="777.1" cy="2113.3" r="9.6"/><circle cx="792.5" cy="2113.3" r="9.6"/><circle cx="805.9" cy="2111.5" r="9.6"/><circle cx="815.5" cy="2120.8" r="9.6"/><circle cx="827" cy="2128.8" r="9.6"/><circle cx="773.3" cy="2126.6" r="9.6"/><circle cx="788.6" cy="2126.6" r="9.6"/><circle cx="802.1" cy="2134.5" r="9.6"/><circle cx="773.3" cy="2143.8" r="9.6"/><circle cx="782.9" cy="2149.6" r="9.6"/><circle cx="802.1" cy="2149.6" r="9.6"/><circle cx="813.6" cy="2151.8" r="9.6"/><circle cx="819.3" cy="2159.3" r="9.6"/><circle cx="848.1" cy="2120.8" r="9.6"/><circle cx="863.4" cy="2123" r="9.6"/><circle cx="882.5" cy="2126.6" r="9.6"/><circle cx="901.7" cy="2124.8" r="9.6"/><circle cx="909.4" cy="2139.4" r="9.6"/><circle cx="892.1" cy="2141.2" r="9.6"/><circle cx="874.9" cy="2141.2" r="9.6"/><circle cx="850" cy="2151.4" r="9.6"/><circle cx="712.5" cy="2129.7" r="9.6"/><circle cx="739.7" cy="2116.4" r="9.6"/><circle cx="821.3" cy="2138.5" r="9.6"/><circle cx="708" cy="2103.1" r="9.6"/><circle cx="839.5" cy="2134.1" r="9.6"/></g>
<text x="187" y="2189.9" text-anchor="end" style="font-size:54px;">20</text>
<text x="187" y="2101.4" text-anchor="end" style="font-size:54px;">40</text>
<text x="187" y="2012.9" text-anchor="end" style="font-size:54px;">60</text>
<text x="187" y="1924.4" text-anchor="end" style="font-size:54px;">80</text>
<text x="187" y="1835.8" text-anchor="end" style="font-size:54px;">100</text>
<text x="187" y="1747.3" text-anchor="end" style="font-size:54px;">120</text>
<text x="187" y="1658.8" text-anchor="end" style="font-size:54px;">140</text>
<text x="245.6" y="2271.9" text-anchor="middle" style="font-size:54px;">-4</text>
<text x="336.3" y="2271.9" text-anchor="middle" style="font-size:54px;">-3</text>
<text x="426.9" y="2271.9" text-anchor="middle" style="font-size:54px;">-2</text>
<text x="517.6" y="2271.9" text-anchor="middle" style="font-size:54px;">-1</text>
<text x="608.3" y="2271.9" text-anchor="middle" style="font-size:54px;">0</text>
<text x="698.9" y="2271.9" text-anchor="middle" style="font-size:54px;">1</text>
<text x="789.6" y="2271.9" text-anchor="middle" style="font-size:54px;">2</text>
<text x="880.2" y="2271.9" text-anchor="middle" style="font-size:54px;">3</text>
<text x="970.9" y="2271.9" text-anchor="middle" style="font-size:54px;">4</text>
<text x="801" y="1684" text-anchor="start" style="font-size:53.5px;">p-type</text>
<text x="586" y="2350.8" text-anchor="middle" style="font-size:52.5px;font-weight:bold;">DP_VBM (eV)</text>
<text x="81.2" y="1909.5" text-anchor="middle" style="font-size:52px;font-weight:bold;" transform="rotate(-90 81.2 1909.5)">PF/κ<tspan dy="11" style="font-size:36px">e</tspan><tspan dy="-11"> (10</tspan><tspan dy="-20" style="font-size:36px">-4</tspan><tspan dy="20">/K)</tspan></text>
<path d="M1245.4 2195L1255.4 2195M1245.4 2156.3L1250.4 2156.3M1245.4 2117.5L1255.4 2117.5M1245.4 2078.8L1250.4 2078.8M1245.4 2040L1255.4 2040M1245.4 2001.3L1250.4 2001.3M1245.4 1962.5L1255.4 1962.5M1245.4 1923.8L1250.4 1923.8M1245.4 1885L1255.4 1885M1245.4 1846.3L1250.4 1846.3M1245.4 1807.5L1255.4 1807.5M1245.4 1768.7L1250.4 1768.7M1245.4 1730L1255.4 1730M1245.4 1691.2L1250.4 1691.2M1245.4 1652.5L1255.4 1652.5M1314.9 2233.8L1314.9 2223.8M1454 2233.8L1454 2223.8M1593 2233.8L1593 2223.8M1732 2233.8L1732 2223.8M1871.1 2233.8L1871.1 2223.8M2010.1 2233.8L2010.1 2223.8M1384.4 2233.8L1384.4 2228.8M1523.5 2233.8L1523.5 2228.8M1662.5 2233.8L1662.5 2228.8M1801.6 2233.8L1801.6 2228.8M1940.6 2233.8L1940.6 2228.8" stroke="#000" stroke-width="4.3" fill="none"/>
<rect x="1245.4" y="1613.7" width="764.7" height="620.1" fill="none" stroke="#000" stroke-width="4.5"/>
<g fill="url(#gb6)"><circle cx="1548.1" cy="1760.2" r="9.6"/><circle cx="1483.5" cy="1851.7" r="9.6"/><circle cx="1368.6" cy="1999.7" r="9.6"/><circle cx="1706.9" cy="1920.7" r="9.6"/><circle cx="1743.3" cy="1922.2" r="9.6"/><circle cx="1746.2" cy="1969.5" r="9.6"/><circle cx="1639.3" cy="2005.1" r="9.6"/><circle cx="1647.4" cy="2025.3" r="9.6"/><circle cx="1659" cy="2036.1" r="9.6"/><circle cx="1723" cy="2018.3" r="9.6"/><circle cx="1777.8" cy="2023.7" r="9.6"/><circle cx="1846" cy="2044.7" r="9.6"/><circle cx="1356.5" cy="2171.8" r="9.6"/><circle cx="1370.9" cy="2154.7" r="9.6"/><circle cx="1384.2" cy="2131.5" r="9.6"/><circle cx="1384.8" cy="2131.5" r="9.6"/><circle cx="1407.6" cy="2138.5" r="9.6"/><circle cx="1419.8" cy="2140" r="9.6"/><circle cx="1436.5" cy="2103.6" r="9.6"/><circle cx="1447.2" cy="2114.4" r="9.6"/><circle cx="1462.4" cy="2105.1" r="9.6"/><circle cx="1471.6" cy="2108.2" r="9.6"/><circle cx="1439.6" cy="2152.4" r="9.6"/><circle cx="1439.6" cy="2185.7" r="9.6"/><circle cx="1491.3" cy="2147.8" r="9.6"/><circle cx="1505" cy="2087.3" r="9.6"/><circle cx="1505" cy="2105.1" r="9.6"/><circle cx="1541.6" cy="2051.7" r="9.6"/><circle cx="1534" cy="2061" r="9.6"/><circle cx="1555.3" cy="2064.1" r="9.6"/><circle cx="1532.4" cy="2071.8" r="9.6"/><circle cx="1546.1" cy="2070.3" r="9.6"/><circle cx="1541.6" cy="2078" r="9.6"/><circle cx="1555.3" cy="2078" r="9.6"/><circle cx="1558.3" cy="2126.8" r="9.6"/><circle cx="1556.8" cy="2144.7" r="9.6"/><circle cx="1518.7" cy="2187.3" r="9.6"/><circle cx="1517.2" cy="2172.6" r="9.6"/><circle cx="1526.3" cy="2160.2" r="9.6"/><circle cx="1537.4" cy="2117.5" r="9.6"/><circle cx="1488.7" cy="2133" r="9.6"/><circle cx="1460.9" cy="2140.8" r="9.6"/><circle cx="1551.3" cy="2102" r="9.6"/><circle cx="1724.4" cy="2084.2" r="9.6"/><circle cx="1754.7" cy="2084.2" r="9.6"/><circle cx="1685.2" cy="2096.6" r="9.6"/><circle cx="1646" cy="2110.6" r="9.6"/><circle cx="1629.6" cy="2109" r="9.6"/><circle cx="1667.2" cy="2112.1" r="9.6"/><circle cx="1683.6" cy="2126.8" r="9.6"/><circle cx="1770.2" cy="2098.9" r="9.6"/><circle cx="1791.5" cy="2107.5" r="9.6"/><circle cx="1804.5" cy="2107.5" r="9.6"/><circle cx="1827.4" cy="2113.7" r="9.6"/><circle cx="1835.6" cy="2107.5" r="9.6"/><circle cx="1753.9" cy="2125.3" r="9.6"/><circle cx="1753.9" cy="2140" r="9.6"/><circle cx="1771.8" cy="2141.6" r="9.6"/><circle cx="1781.7" cy="2128.4" r="9.6"/><circle cx="1806.2" cy="2135.4" r="9.6"/><circle cx="1834" cy="2135.4" r="9.6"/><circle cx="1852.1" cy="2125.3" r="9.6"/><circle cx="1861.8" cy="2136.9" r="9.6"/><circle cx="1788.2" cy="2150.1" r="9.6"/><circle cx="1809.4" cy="2147" r="9.6"/><circle cx="1629.6" cy="2154.7" r="9.6"/><circle cx="1654.1" cy="2157.8" r="9.6"/><circle cx="1678.7" cy="2151.6" r="9.6"/><circle cx="1631.3" cy="2178" r="9.6"/><circle cx="1655.8" cy="2184.2" r="9.6"/><circle cx="1678.7" cy="2185.7" r="9.6"/><circle cx="1703.2" cy="2178" r="9.6"/><circle cx="1739.1" cy="2157.8" r="9.6"/><circle cx="1752.2" cy="2171" r="9.6"/><circle cx="1766.9" cy="2174.1" r="9.6"/><circle cx="1662.5" cy="2140.8" r="9.6"/><circle cx="1711.2" cy="2148.5" r="9.6"/><circle cx="1732" cy="2117.5" r="9.6"/><circle cx="1822.4" cy="2125.3" r="9.6"/><circle cx="1697.3" cy="2125.3" r="9.6"/></g>
<g fill="url(#gr)"><circle cx="1657.8" cy="1659.5" r="9.6"/><circle cx="1553.2" cy="1888.9" r="9.6"/><circle cx="1449.4" cy="1925.3" r="9.6"/><circle cx="1517" cy="1926.9" r="9.6"/><circle cx="1772.2" cy="1935.4" r="9.6"/><circle cx="1762.9" cy="1969.5" r="9.6"/><circle cx="1526.8" cy="1997.4" r="9.6"/><circle cx="1539.5" cy="2004.4" r="9.6"/><circle cx="1449.4" cy="2021.4" r="9.6"/><circle cx="1459.2" cy="2036.9" r="9.6"/><circle cx="1717.8" cy="2034.6" r="9.6"/><circle cx="1768.6" cy="2047.8" r="9.6"/><circle cx="1787.1" cy="2059.4" r="9.6"/><circle cx="1336.3" cy="2056.3" r="9.6"/><circle cx="1336.3" cy="2066.4" r="9.6"/><circle cx="1850.6" cy="2164.8" r="9.6"/><circle cx="1450.2" cy="2024.5" r="9.6"/><circle cx="1459.5" cy="2036.9" r="9.6"/><circle cx="1392.4" cy="2116" r="9.6"/><circle cx="1392.4" cy="2147.8" r="9.6"/><circle cx="1392.4" cy="2157.1" r="9.6"/><circle cx="1409.9" cy="2123.7" r="9.6"/><circle cx="1425.9" cy="2123.7" r="9.6"/><circle cx="1425.1" cy="2131.5" r="9.6"/><circle cx="1438.8" cy="2135.4" r="9.6"/><circle cx="1451.8" cy="2126.8" r="9.6"/><circle cx="1456.3" cy="2125.3" r="9.6"/><circle cx="1450.2" cy="2068.7" r="9.6"/><circle cx="1453.3" cy="2081.1" r="9.6"/><circle cx="1451.8" cy="2091.2" r="9.6"/><circle cx="1436.5" cy="2172.6" r="9.6"/><circle cx="1479.2" cy="2167.9" r="9.6"/><circle cx="1482.2" cy="2092.7" r="9.6"/><circle cx="1495.9" cy="2087.3" r="9.6"/><circle cx="1473.1" cy="2126.8" r="9.6"/><circle cx="1483.7" cy="2129.9" r="9.6"/><circle cx="1495.9" cy="2135.4" r="9.6"/><circle cx="1506.6" cy="2144.7" r="9.6"/><circle cx="1515.7" cy="2091.2" r="9.6"/><circle cx="1515.7" cy="2100.5" r="9.6"/><circle cx="1517.2" cy="2117.5" r="9.6"/><circle cx="1515.7" cy="2135.4" r="9.6"/><circle cx="1521.7" cy="2144.7" r="9.6"/><circle cx="1526.3" cy="2169.5" r="9.6"/><circle cx="1538.6" cy="2087.3" r="9.6"/><circle cx="1540" cy="2092.7" r="9.6"/><circle cx="1553.7" cy="2088.9" r="9.6"/><circle cx="1540" cy="2111.3" r="9.6"/><circle cx="1537" cy="2128.4" r="9.6"/><circle cx="1537" cy="2140" r="9.6"/><circle cx="1550.7" cy="2146.2" r="9.6"/><circle cx="1555.3" cy="2163.3" r="9.6"/><circle cx="1541.6" cy="2182.6" r="9.6"/><circle cx="1527.9" cy="2167.9" r="9.6"/><circle cx="1502.6" cy="2129.2" r="9.6"/><circle cx="1530.4" cy="2125.3" r="9.6"/><circle cx="1627.2" cy="2090.4" r="9.6"/><circle cx="1634.5" cy="2098.9" r="9.6"/><circle cx="1660.7" cy="2092.7" r="9.6"/><circle cx="1704.8" cy="2087.3" r="9.6"/><circle cx="1771.8" cy="2086.5" r="9.6"/><circle cx="1798" cy="2088.9" r="9.6"/><circle cx="1812.7" cy="2098.2" r="9.6"/><circle cx="1832.3" cy="2098.9" r="9.6"/><circle cx="1848.7" cy="2097.4" r="9.6"/><circle cx="1863.4" cy="2101.3" r="9.6"/><circle cx="1851.9" cy="2112.1" r="9.6"/><circle cx="1787.4" cy="2060.2" r="9.6"/><circle cx="1631.3" cy="2119.1" r="9.6"/><circle cx="1644.3" cy="2123.7" r="9.6"/><circle cx="1626.3" cy="2138.5" r="9.6"/><circle cx="1642.7" cy="2147" r="9.6"/><circle cx="1662.3" cy="2122.2" r="9.6"/><circle cx="1677" cy="2113.7" r="9.6"/><circle cx="1665.6" cy="2129.9" r="9.6"/><circle cx="1667.2" cy="2140" r="9.6"/><circle cx="1678.7" cy="2138.5" r="9.6"/><circle cx="1695" cy="2109" r="9.6"/><circle cx="1706.5" cy="2113.7" r="9.6"/><circle cx="1722.8" cy="2105.9" r="9.6"/><circle cx="1737.5" cy="2101.3" r="9.6"/><circle cx="1750.6" cy="2098.9" r="9.6"/><circle cx="1699.9" cy="2132.3" r="9.6"/><circle cx="1716.3" cy="2125.3" r="9.6"/><circle cx="1730.9" cy="2129.9" r="9.6"/><circle cx="1693.4" cy="2147" r="9.6"/><circle cx="1708.1" cy="2141.6" r="9.6"/><circle cx="1717.9" cy="2144.7" r="9.6"/><circle cx="1695" cy="2163.3" r="9.6"/><circle cx="1708.1" cy="2159.4" r="9.6"/><circle cx="1670.4" cy="2161.7" r="9.6"/><circle cx="1675.4" cy="2174.1" r="9.6"/><circle cx="1642.7" cy="2178" r="9.6"/><circle cx="1721.2" cy="2181.1" r="9.6"/><circle cx="1740.8" cy="2150.1" r="9.6"/><circle cx="1757.1" cy="2153.2" r="9.6"/><circle cx="1760.4" cy="2113.7" r="9.6"/><circle cx="1768.6" cy="2113.7" r="9.6"/><circle cx="1781.7" cy="2115.2" r="9.6"/><circle cx="1765.3" cy="2129.9" r="9.6"/><circle cx="1793.1" cy="2126.8" r="9.6"/><circle cx="1802.9" cy="2125.3" r="9.6"/><circle cx="1822.5" cy="2136.9" r="9.6"/><circle cx="1850.3" cy="2164.8" r="9.6"/></g>
<text x="1234" y="2211" text-anchor="end" style="font-size:54px;">20</text>
<text x="1234" y="2133.5" text-anchor="end" style="font-size:54px;">30</text>
<text x="1234" y="2056" text-anchor="end" style="font-size:54px;">40</text>
<text x="1234" y="1978.5" text-anchor="end" style="font-size:54px;">50</text>
<text x="1234" y="1901" text-anchor="end" style="font-size:54px;">60</text>
<text x="1234" y="1823.5" text-anchor="end" style="font-size:54px;">70</text>
<text x="1234" y="1746" text-anchor="end" style="font-size:54px;">80</text>
<text x="1234" y="1668.5" text-anchor="end" style="font-size:54px;">90</text>
<text x="1314.9" y="2288" text-anchor="middle" style="font-size:54px;">-4</text>
<text x="1454" y="2288" text-anchor="middle" style="font-size:54px;">-2</text>
<text x="1593" y="2288" text-anchor="middle" style="font-size:54px;">0</text>
<text x="1732" y="2288" text-anchor="middle" style="font-size:54px;">2</text>
<text x="1871.1" y="2288" text-anchor="middle" style="font-size:54px;">4</text>
<text x="2010.1" y="2288" text-anchor="middle" style="font-size:54px;">6</text>
<text x="1828" y="1697.4" text-anchor="start" style="font-size:53.5px;">n-type</text>
<text x="1627.8" y="2368" text-anchor="middle" style="font-size:52.5px;font-weight:bold;">DP_CBM (eV)</text>
<text x="1151.7" y="1923.7" text-anchor="middle" style="font-size:52px;font-weight:bold;" transform="rotate(-90 1151.7 1923.7)">PF/κ<tspan dy="11" style="font-size:36px">e</tspan><tspan dy="-11"> (10</tspan><tspan dy="-20" style="font-size:36px">-4</tspan><tspan dy="20">/K)</tspan></text>
</svg></body></html>
